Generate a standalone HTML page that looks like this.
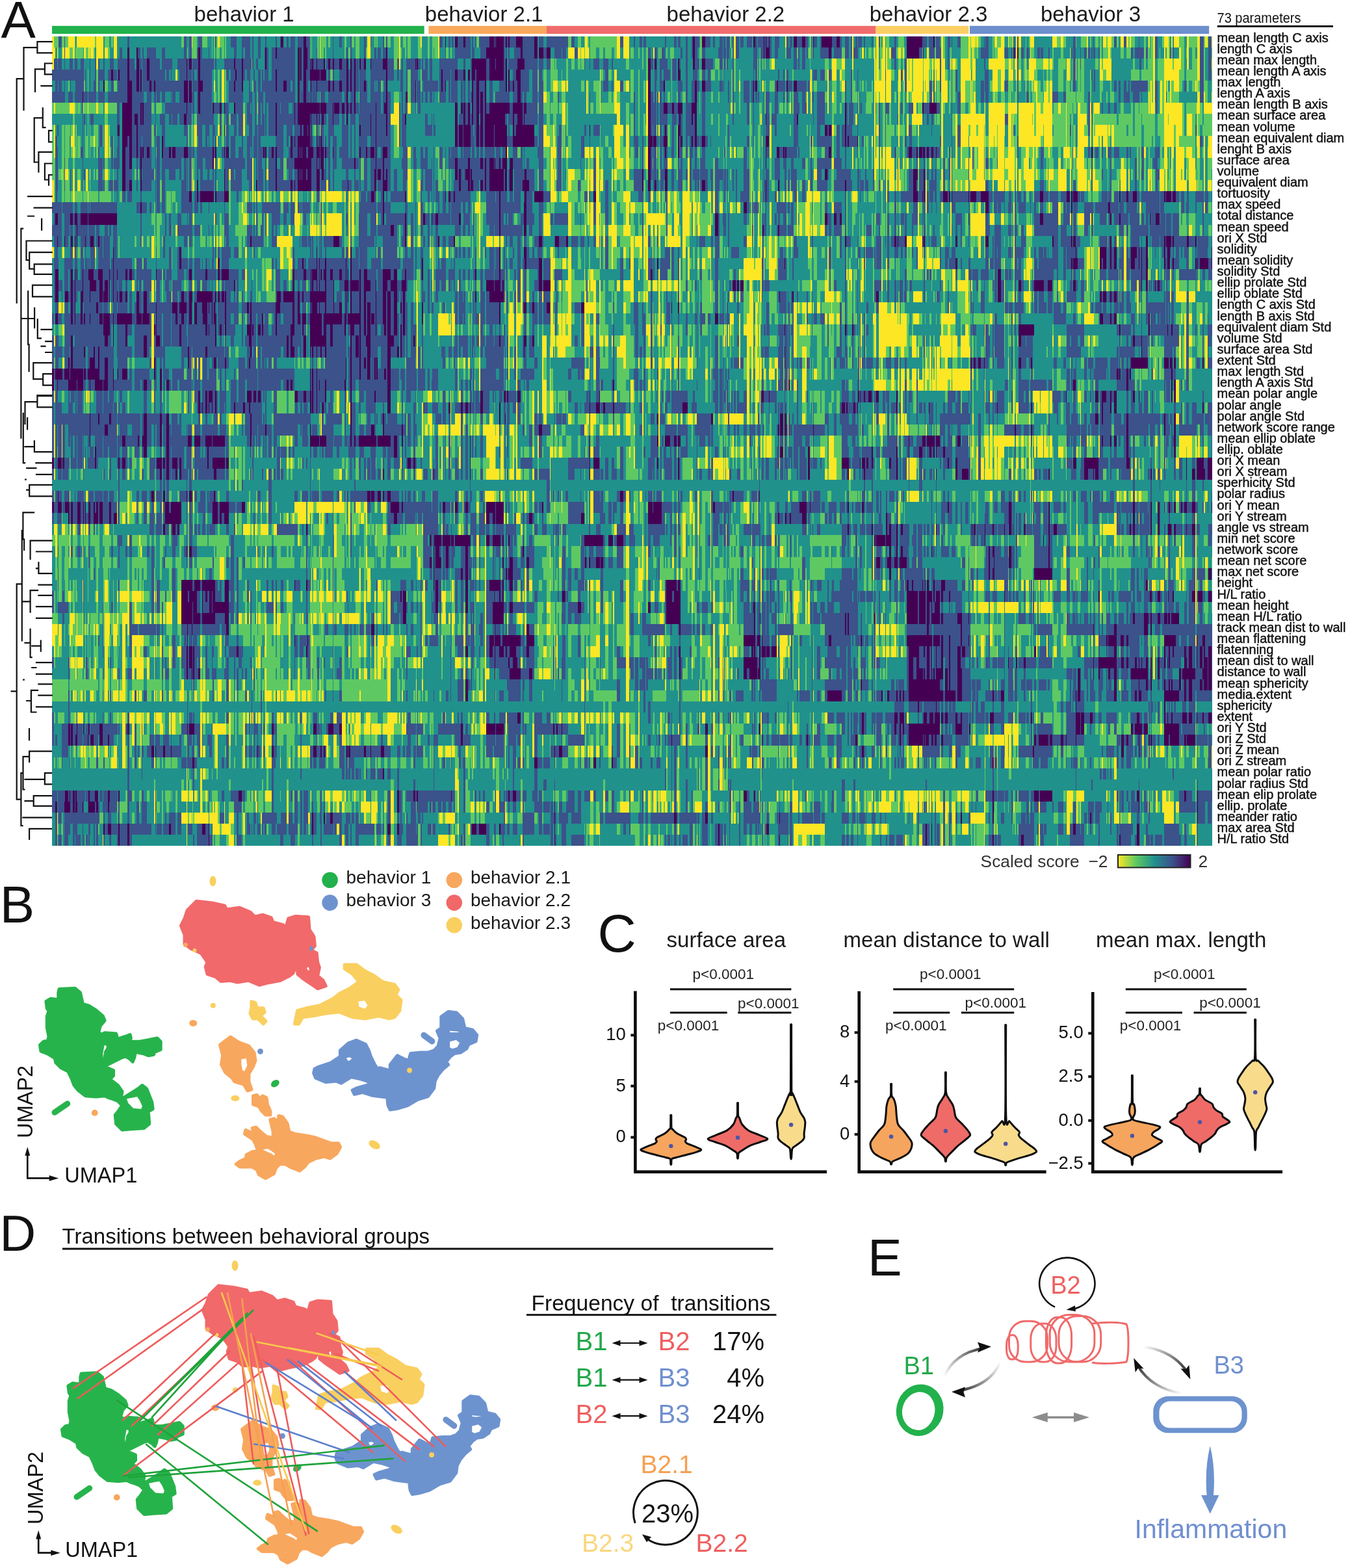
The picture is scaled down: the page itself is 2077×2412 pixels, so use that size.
<!DOCTYPE html><html><head><meta charset="utf-8"><title>Figure</title><style>html,body{margin:0;padding:0;background:#fff;width:2077px;height:2412px;overflow:hidden}svg{display:block}</style></head><body><svg xmlns="http://www.w3.org/2000/svg" width="2077" height="2412" viewBox="0 0 2077 2412">
<rect width="2077" height="2412" fill="#fff"/>
<rect x="80" y="56" width="1785" height="1245" fill="#21918c"/>
<path fill="#3b528b" d="M90 56h5v17h-5zm9 0h1v17h-1zm97 0h3v17h-3zm87 0h4v17h-4zm8 0h4v17h-4zm14 0h6v17h-6zm26 0h2v17h-2zm24 0h9v17h-9zm17 0h13v17h-13zm16 0h2v17h-2zm9 0h4v17h-4zm11 0h2v17h-2zm16 0h2v17h-2zm7 0h1v17h-1zm10 0h3v17h-3zm6 0h7v17h-7zm11 0h9v17h-9zm13 0h6v17h-6zm41 0h1v17h-1zm10 0h4v17h-4zm17 0h2v17h-2zm21 0h3v17h-3zm10 0h1v17h-1zm19 0h2v17h-2zm5 0h2v17h-2zm82 0h5v17h-5zm14 0h3v17h-3zm5 0h3v17h-3zm9 0h9v17h-9zm12 0h8v17h-8zm10 0h2v17h-2zm5 0h2v17h-2zm6 0h16v17h-16zm23 0h1v17h-1zm2 0h1v17h-1zm13 0h3v17h-3zm5 0h2v17h-2zm4 0h10v17h-10zm20 0h18v17h-18zm25 0h7v17h-7zm12 0h33v17h-33zm38 0h5v17h-5zm75 0h5v17h-5zm21 0h2v17h-2zm9 0h4v17h-4zm6 0h4v17h-4zm33 0h2v17h-2zm14 0h4v17h-4zm6 0h4v17h-4zm12 0h3v17h-3zm9 0h2v17h-2zm5 0h7v17h-7zm16 0h8v17h-8zm12 0h3v17h-3zm10 0h5v17h-5zm6 0h3v17h-3zm5 0h5v17h-5zm9 0h2v17h-2zm5 0h5v17h-5zm7 0h5v17h-5zm10 0h8v17h-8zm13 0h3v17h-3zm4 0h9v17h-9zm10 0h2v17h-2zm3 0h4v17h-4zm5 0h3v17h-3zm8 0h7v17h-7zm18 0h3v17h-3zm5 0h4v17h-4zm11 0h8v17h-8zm13 0h4v17h-4zm13 0h5v17h-5zm10 0h2v17h-2zm18 0h7v17h-7zm12 0h3v17h-3zm8 0h6v17h-6zm9 0h2v17h-2zm7 0h3v17h-3zm4 0h6v17h-6zm9 0h2v17h-2zm12 0h2v17h-2zm11 0h2v17h-2zm24 0h3v17h-3zm43 0h7v17h-7zm10 0h7v17h-7zm11 0h6v17h-6zm18 0h4v17h-4zm6 0h1v17h-1zm9 0h5v17h-5zm41 0h1v17h-1zm2 0h5v17h-5zm43 0h2v17h-2zm6 0h2v17h-2zm86 0h4v17h-4zm31 0h1v17h-1zm32 0h4v17h-4zm15 0h4v17h-4zm23 0h1v17h-1zm25 0h4v17h-4zm69 0h6v17h-6zm13 0h5v17h-5zM99 73h1v17h-1zm85 0h4v17h-4zm28 0h4v17h-4zm7 0h2v17h-2zm7 0h14v17h-14zm23 0h5v17h-5zm34 0h4v17h-4zm8 0h4v17h-4zm12 0h2v17h-2zm5 0h3v17h-3zm13 0h1v17h-1zm39 0h4v17h-4zm12 0h2v17h-2zm5 0h8v17h-8zm11 0h2v17h-2zm9 0h4v17h-4zm10 0h1v17h-1zm3 0h3v17h-3zm8 0h6v17h-6zm8 0h28v17h-28zm35 0h1v17h-1zm4 0h2v17h-2zm8 0h4v17h-4zm14 0h1v17h-1zm25 0h1v17h-1zm21 0h2v17h-2zm6 0h2v17h-2zm21 0h3v17h-3zm16 0h3v17h-3zm5 0h5v17h-5zm8 0h5v17h-5zm96 0h1v17h-1zm15 0h24v17h-24zm26 0h4v17h-4zm13 0h9v17h-9zm36 0h2v17h-2zm3 0h2v17h-2zm4 0h2v17h-2zm9 0h10v17h-10zm13 0h18v17h-18zm32 0h5v17h-5zm17 0h11v17h-11zm12 0h6v17h-6zm19 0h5v17h-5zm113 0h4v17h-4zm10 0h4v17h-4zm11 0h5v17h-5zm29 0h3v17h-3zm8 0h3v17h-3zm9 0h2v17h-2zm5 0h4v17h-4zm11 0h5v17h-5zm25 0h7v17h-7zm8 0h4v17h-4zm5 0h4v17h-4zm9 0h2v17h-2zm5 0h5v17h-5zm27 0h6v17h-6zm11 0h5v17h-5zm6 0h2v17h-2zm8 0h3v17h-3zm8 0h5v17h-5zm18 0h7v17h-7zm11 0h5v17h-5zm7 0h2v17h-2zm6 0h5v17h-5zm7 0h2v17h-2zm9 0h2v17h-2zm12 0h13v17h-13zm17 0h1v17h-1zm4 0h12v17h-12zm17 0h6v17h-6zm9 0h2v17h-2zm4 0h7v17h-7zm58 0h8v17h-8zm43 0h5v17h-5zm16 0h8v17h-8zm10 0h8v17h-8zm18 0h2v17h-2zm51 0h12v17h-12zm37 0h5v17h-5zm10 0h2v17h-2zm5 0h2v17h-2zm10 0h4v17h-4zm8 0h4v17h-4zm17 0h4v17h-4zm5 0h4v17h-4zm12 0h2v17h-2zm35 0h2v17h-2zm3 0h4v17h-4zm11 0h1v17h-1zm6 0h4v17h-4zm6 0h3v17h-3zm5 0h2v17h-2zm3 0h3v17h-3zm8 0h2v17h-2zm50 0h3v17h-3zm6 0h14v17h-14zm17 0h3v17h-3zm14 0h4v17h-4zm23 0h2v17h-2zm4 0h2v17h-2zm42 0h6v17h-6zm13 0h5v17h-5zM83 90h5v17h-5zm6 0h6v17h-6zm10 0h1v17h-1zm8 0h5v17h-5zm8 0h4v17h-4zm9 0h5v17h-5zm14 0h1v17h-1zm8 0h2v17h-2zm5 0h2v17h-2zm8 0h2v17h-2zm10 0h6v17h-6zm12 0h15v17h-15zm18 0h8v17h-8zm15 0h4v17h-4zm5 0h7v17h-7zm11 0h16v17h-16zm19 0h16v17h-16zm24 0h14v17h-14zm15 0h3v17h-3zm8 0h9v17h-9zm12 0h21v17h-21zm23 0h2v17h-2zm14 0h15v17h-15zm17 0h10v17h-10zm12 0h13v17h-13zm14 0h2v17h-2zm6 0h3v17h-3zm13 0h1v17h-1zm3 0h3v17h-3zm8 0h36v17h-36zm43 0h1v17h-1zm4 0h2v17h-2zm8 0h5v17h-5zm6 0h1v17h-1zm3 0h5v17h-5zm6 0h10v17h-10zm14 0h3v17h-3zm6 0h4v17h-4zm6 0h8v17h-8zm12 0h7v17h-7zm15 0h4v17h-4zm6 0h5v17h-5zm8 0h5v17h-5zm16 0h18v17h-18zm25 0h10v17h-10zm15 0h3v17h-3zm7 0h2v17h-2zm7 0h14v17h-14zm15 0h1v17h-1zm3 0h4v17h-4zm6 0h2v17h-2zm5 0h4v17h-4zm7 0h4v17h-4zm15 0h28v17h-28zm37 0h3v17h-3zm11 0h2v17h-2zm24 0h5v17h-5zm14 0h1v17h-1zm13 0h3v17h-3zm7 0h14v17h-14zm25 0h20v17h-20zm22 0h7v17h-7zm12 0h6v17h-6zm58 0h1v17h-1zm8 0h1v17h-1zm6 0h9v17h-9zm15 0h8v17h-8zm13 0h2v17h-2zm60 0h4v17h-4zm9 0h1v17h-1zm5 0h12v17h-12zm19 0h7v17h-7zm11 0h2v17h-2zm10 0h3v17h-3zm14 0h7v17h-7zm16 0h12v17h-12zm22 0h5v17h-5zm7 0h2v17h-2zm4 0h2v17h-2zm9 0h2v17h-2zm32 0h6v17h-6zm16 0h1v17h-1zm46 0h5v17h-5zm7 0h2v17h-2zm6 0h5v17h-5zm142 0h3v17h-3zm16 0h3v17h-3zm54 0h2v17h-2zm12 0h2v17h-2zm56 0h2v17h-2zm51 0h2v17h-2zm86 0h4v17h-4zm11 0h1v17h-1zm91 0h3v17h-3zm93 0h6v17h-6zm13 0h5v17h-5zM80 107h49v17h-49zm51 0h1v17h-1zm7 0h1v17h-1zm8 0h2v17h-2zm5 0h10v17h-10zm15 0h5v17h-5zm8 0h6v17h-6zm7 0h1v17h-1zm3 0h12v17h-12zm15 0h11v17h-11zm15 0h2v17h-2zm5 0h7v17h-7zm11 0h24v17h-24zm26 0h4v17h-4zm7 0h1v17h-1zm13 0h11v17h-11zm12 0h7v17h-7zm8 0h3v17h-3zm7 0h2v17h-2zm5 0h18v17h-18zm40 0h4v17h-4zm7 0h7v17h-7zm9 0h8v17h-8zm10 0h3v17h-3zm6 0h5v17h-5zm10 0h2v17h-2zm7 0h4v17h-4zm6 0h2v17h-2zm4 0h6v17h-6zm11 0h6v17h-6zm8 0h28v17h-28zm35 0h1v17h-1zm4 0h2v17h-2zm6 0h6v17h-6zm21 0h1v17h-1zm13 0h3v17h-3zm7 0h2v17h-2zm10 0h11v17h-11zm14 0h3v17h-3zm5 0h4v17h-4zm6 0h5v17h-5zm6 0h10v17h-10zm17 0h24v17h-24zm26 0h10v17h-10zm15 0h3v17h-3zm5 0h4v17h-4zm9 0h2v17h-2zm7 0h11v17h-11zm17 0h9v17h-9zm12 0h4v17h-4zm15 0h3v17h-3zm5 0h12v17h-12zm13 0h6v17h-6zm10 0h9v17h-9zm20 0h2v17h-2zm7 0h2v17h-2zm17 0h5v17h-5zm27 0h3v17h-3zm14 0h5v17h-5zm12 0h13v17h-13zm18 0h8v17h-8zm10 0h5v17h-5zm102 0h5v17h-5zm76 0h4v17h-4zm8 0h3v17h-3zm6 0h10v17h-10zm13 0h7v17h-7zm21 0h3v17h-3zm11 0h7v17h-7zm14 0h5v17h-5zm9 0h4v17h-4zm24 0h1v17h-1zm14 0h2v17h-2zm32 0h1v17h-1zm3 0h3v17h-3zm35 0h2v17h-2zm8 0h2v17h-2zm5 0h3v17h-3zm41 0h6v17h-6zm11 0h7v17h-7zm13 0h4v17h-4zm34 0h2v17h-2zm10 0h1v17h-1zm43 0h1v17h-1zm24 0h3v17h-3zm6 0h3v17h-3zm54 0h2v17h-2zm18 0h1v17h-1zm6 0h3v17h-3zm45 0h6v17h-6zm50 0h2v17h-2zm86 0h4v17h-4zm28 0h2v17h-2zm4 0h2v17h-2zm163 0h6v17h-6zm13 0h5v17h-5zM85 124h4v17h-4zm5 0h5v17h-5zm9 0h1v17h-1zm9 0h1v17h-1zm8 0h13v17h-13zm15 0h1v17h-1zm7 0h1v17h-1zm6 0h4v17h-4zm7 0h2v17h-2zm20 0h4v17h-4zm10 0h15v17h-15zm22 0h7v17h-7zm11 0h2v17h-2zm5 0h11v17h-11zm14 0h4v17h-4zm6 0h44v17h-44zm50 0h2v17h-2zm7 0h9v17h-9zm16 0h14v17h-14zm40 0h8v17h-8zm10 0h10v17h-10zm21 0h2v17h-2zm7 0h4v17h-4zm7 0h4v17h-4zm6 0h21v17h-21zm23 0h10v17h-10zm15 0h6v17h-6zm9 0h4v17h-4zm12 0h2v17h-2zm3 0h2v17h-2zm6 0h3v17h-3zm6 0h1v17h-1zm2 0h8v17h-8zm9 0h17v17h-17zm20 0h4v17h-4zm6 0h8v17h-8zm12 0h7v17h-7zm10 0h3v17h-3zm5 0h4v17h-4zm6 0h5v17h-5zm6 0h7v17h-7zm10 0h2v17h-2zm7 0h6v17h-6zm8 0h1v17h-1zm3 0h5v17h-5zm10 0h3v17h-3zm25 0h4v17h-4zm9 0h2v17h-2zm7 0h7v17h-7zm9 0h6v17h-6zm10 0h23v17h-23zm25 0h3v17h-3zm5 0h4v17h-4zm9 0h3v17h-3zm4 0h10v17h-10zm15 0h3v17h-3zm4 0h3v17h-3zm7 0h3v17h-3zm8 0h5v17h-5zm9 0h9v17h-9zm16 0h5v17h-5zm15 0h10v17h-10zm16 0h5v17h-5zm7 0h5v17h-5zm10 0h13v17h-13zm18 0h8v17h-8zm10 0h7v17h-7zm99 0h8v17h-8zm13 0h2v17h-2zm13 0h5v17h-5zm53 0h3v17h-3zm8 0h6v17h-6zm28 0h7v17h-7zm12 0h3v17h-3zm9 0h5v17h-5zm8 0h4v17h-4zm13 0h9v17h-9zm22 0h5v17h-5zm6 0h1v17h-1zm7 0h2v17h-2zm7 0h2v17h-2zm17 0h9v17h-9zm12 0h3v17h-3zm4 0h2v17h-2zm32 0h3v17h-3zm5 0h11v17h-11zm15 0h7v17h-7zm14 0h15v17h-15zm17 0h3v17h-3zm57 0h2v17h-2zm9 0h2v17h-2zm10 0h1v17h-1zm73 0h3v17h-3zm38 0h4v17h-4zm6 0h2v17h-2zm10 0h2v17h-2zm18 0h1v17h-1zm6 0h3v17h-3zm39 0h5v17h-5zm6 0h6v17h-6zm31 0h5v17h-5zm19 0h2v17h-2zm86 0h4v17h-4zm30 0h1v17h-1zm2 0h2v17h-2zm31 0h4v17h-4zm7 0h3v17h-3zm8 0h4v17h-4zm7 0h2v17h-2zm4 0h26v17h-26zm37 0h4v17h-4zm45 0h3v17h-3zm24 0h6v17h-6zM80 141h20v17h-20zm25 0h7v17h-7zm10 0h12v17h-12zm13 0h7v17h-7zm8 0h12v17h-12zm15 0h10v17h-10zm15 0h30v17h-30zm37 0h18v17h-18zm23 0h7v17h-7zm11 0h3v17h-3zm4 0h5v17h-5zm8 0h5v17h-5zm14 0h1v17h-1zm2 0h5v17h-5zm11 0h7v17h-7zm13 0h2v17h-2zm6 0h4v17h-4zm8 0h2v17h-2zm5 0h18v17h-18zm44 0h22v17h-22zm31 0h5v17h-5zm9 0h2v17h-2zm5 0h8v17h-8zm11 0h46v17h-46zm54 0h5v17h-5zm9 0h6v17h-6zm9 0h8v17h-8zm11 0h1v17h-1zm2 0h7v17h-7zm12 0h21v17h-21zm25 0h3v17h-3zm5 0h1v17h-1zm4 0h6v17h-6zm14 0h12v17h-12zm17 0h16v17h-16zm19 0h5v17h-5zm7 0h5v17h-5zm22 0h2v17h-2zm5 0h2v17h-2zm9 0h7v17h-7zm9 0h6v17h-6zm8 0h2v17h-2zm5 0h4v17h-4zm7 0h4v17h-4zm6 0h1v17h-1zm9 0h10v17h-10zm14 0h3v17h-3zm4 0h10v17h-10zm15 0h3v17h-3zm4 0h3v17h-3zm7 0h3v17h-3zm4 0h2v17h-2zm4 0h5v17h-5zm9 0h2v17h-2zm6 0h3v17h-3zm10 0h5v17h-5zm9 0h22v17h-22zm27 0h7v17h-7zm12 0h3v17h-3zm5 0h4v17h-4zm13 0h8v17h-8zm10 0h7v17h-7zm29 0h2v17h-2zm49 0h1v17h-1zm68 0h2v17h-2zm26 0h4v17h-4zm6 0h3v17h-3zm4 0h2v17h-2zm4 0h3v17h-3zm6 0h2v17h-2zm22 0h4v17h-4zm12 0h3v17h-3zm9 0h5v17h-5zm8 0h1v17h-1zm8 0h5v17h-5zm40 0h2v17h-2zm7 0h2v17h-2zm17 0h9v17h-9zm12 0h3v17h-3zm6 0h3v17h-3zm4 0h2v17h-2zm9 0h1v17h-1zm3 0h6v17h-6zm14 0h5v17h-5zm13 0h2v17h-2zm5 0h3v17h-3zm11 0h7v17h-7zm13 0h5v17h-5zm16 0h2v17h-2zm7 0h12v17h-12zm43 0h2v17h-2zm9 0h2v17h-2zm13 0h1v17h-1zm108 0h4v17h-4zm6 0h2v17h-2zm28 0h1v17h-1zm9 0h5v17h-5zm36 0h5v17h-5zm7 0h5v17h-5zm49 0h2v17h-2zm14 0h4v17h-4zm40 0h9v17h-9zm17 0h4v17h-4zm38 0h3v17h-3zm47 0h3v17h-3zm8 0h9v17h-9zm14 0h10v17h-10zm13 0h1v17h-1zm21 0h4v17h-4zm69 0h6v17h-6zM127 158h1v17h-1zm53 0h4v17h-4zm23 0h13v17h-13zm15 0h1v17h-1zm3 0h12v17h-12zm18 0h1v17h-1zm15 0h33v17h-33zm34 0h7v17h-7zm8 0h3v17h-3zm7 0h2v17h-2zm5 0h18v17h-18zm21 0h9v17h-9zm17 0h6v17h-6zm16 0h12v17h-12zm18 0h5v17h-5zm7 0h1v17h-1zm5 0h2v17h-2zm5 0h4v17h-4zm6 0h2v17h-2zm5 0h2v17h-2zm5 0h11v17h-11zm13 0h5v17h-5zm6 0h12v17h-12zm18 0h3v17h-3zm4 0h4v17h-4zm38 0h1v17h-1zm10 0h10v17h-10zm11 0h1v17h-1zm9 0h4v17h-4zm8 0h3v17h-3zm6 0h3v17h-3zm5 0h4v17h-4zm6 0h5v17h-5zm6 0h25v17h-25zm26 0h7v17h-7zm10 0h2v17h-2zm7 0h5v17h-5zm18 0h2v17h-2zm4 0h2v17h-2zm5 0h4v17h-4zm16 0h1v17h-1zm4 0h4v17h-4zm69 0h1v17h-1zm4 0h4v17h-4zm7 0h1v17h-1zm5 0h5v17h-5zm9 0h2v17h-2zm6 0h3v17h-3zm5 0h5v17h-5zm36 0h5v17h-5zm20 0h2v17h-2zm6 0h17v17h-17zm19 0h7v17h-7zm78 0h1v17h-1zm68 0h2v17h-2zm26 0h9v17h-9zm10 0h2v17h-2zm4 0h6v17h-6zm12 0h7v17h-7zm10 0h6v17h-6zm18 0h9v17h-9zm25 0h5v17h-5zm42 0h1v17h-1zm5 0h2v17h-2zm22 0h4v17h-4zm10 0h1v17h-1zm16 0h1v17h-1zm3 0h5v17h-5zm14 0h5v17h-5zm29 0h9v17h-9zm13 0h7v17h-7zm17 0h1v17h-1zm6 0h12v17h-12zm45 0h2v17h-2zm4 0h7v17h-7zm13 0h1v17h-1zm3 0h1v17h-1zm2 0h2v17h-2zm23 0h1v17h-1zm5 0h2v17h-2zm10 0h6v17h-6zm24 0h3v17h-3zm12 0h7v17h-7zm23 0h9v17h-9zm20 0h5v17h-5zm23 0h1v17h-1zm9 0h5v17h-5zm201 0h3v17h-3zm5 0h2v17h-2zm16 0h2v17h-2zm10 0h3v17h-3zm9 0h4v17h-4zm64 0h3v17h-3zM127 175h1v17h-1zm2 0h2v17h-2zm10 0h5v17h-5zm41 0h4v17h-4zm23 0h4v17h-4zm9 0h4v17h-4zm6 0h1v17h-1zm3 0h12v17h-12zm18 0h1v17h-1zm7 0h8v17h-8zm14 0h4v17h-4zm5 0h8v17h-8zm11 0h7v17h-7zm11 0h8v17h-8zm16 0h26v17h-26zm35 0h3v17h-3zm7 0h1v17h-1zm3 0h4v17h-4zm7 0h9v17h-9zm12 0h7v17h-7zm13 0h8v17h-8zm12 0h2v17h-2zm5 0h4v17h-4zm6 0h4v17h-4zm5 0h2v17h-2zm5 0h11v17h-11zm13 0h27v17h-27zm28 0h4v17h-4zm23 0h1v17h-1zm2 0h8v17h-8zm9 0h3v17h-3zm5 0h2v17h-2zm5 0h4v17h-4zm7 0h7v17h-7zm8 0h9v17h-9zm13 0h4v17h-4zm9 0h1v17h-1zm4 0h8v17h-8zm13 0h18v17h-18zm19 0h7v17h-7zm8 0h15v17h-15zm17 0h5v17h-5zm18 0h2v17h-2zm4 0h5v17h-5zm36 0h4v17h-4zm10 0h1v17h-1zm3 0h1v17h-1zm39 0h7v17h-7zm10 0h4v17h-4zm7 0h3v17h-3zm5 0h5v17h-5zm15 0h3v17h-3zm34 0h3v17h-3zm5 0h7v17h-7zm9 0h5v17h-5zm13 0h2v17h-2zm3 0h20v17h-20zm22 0h7v17h-7zm146 0h2v17h-2zm26 0h9v17h-9zm10 0h2v17h-2zm4 0h12v17h-12zm19 0h7v17h-7zm9 0h2v17h-2zm4 0h3v17h-3zm8 0h9v17h-9zm11 0h3v17h-3zm14 0h5v17h-5zm47 0h2v17h-2zm22 0h4v17h-4zm10 0h1v17h-1zm16 0h1v17h-1zm4 0h5v17h-5zm8 0h8v17h-8zm34 0h5v17h-5zm30 0h1v17h-1zm6 0h12v17h-12zm45 0h2v17h-2zm4 0h7v17h-7zm13 0h1v17h-1zm33 0h2v17h-2zm10 0h1v17h-1zm19 0h1v17h-1zm39 0h1v17h-1zm6 0h3v17h-3zm7 0h3v17h-3zm31 0h1v17h-1zm82 0h5v17h-5zm128 0h3v17h-3zM88 192h2v17h-2zm39 0h1v17h-1zm26 0h5v17h-5zm27 0h1v17h-1zm23 0h7v17h-7zm9 0h21v17h-21zm25 0h3v17h-3zm12 0h5v17h-5zm34 0h6v17h-6zm20 0h8v17h-8zm13 0h6v17h-6zm11 0h4v17h-4zm11 0h3v17h-3zm10 0h4v17h-4zm12 0h4v17h-4zm7 0h7v17h-7zm16 0h5v17h-5zm9 0h4v17h-4zm5 0h10v17h-10zm11 0h2v17h-2zm5 0h11v17h-11zm13 0h10v17h-10zm15 0h9v17h-9zm12 0h9v17h-9zm11 0h3v17h-3zm9 0h1v17h-1zm6 0h1v17h-1zm12 0h1v17h-1zm2 0h5v17h-5zm12 0h9v17h-9zm21 0h10v17h-10zm13 0h2v17h-2zm6 0h2v17h-2zm7 0h1v17h-1zm3 0h15v17h-15zm16 0h7v17h-7zm8 0h15v17h-15zm17 0h5v17h-5zm18 0h2v17h-2zm4 0h7v17h-7zm36 0h11v17h-11zm13 0h3v17h-3zm37 0h2v17h-2zm8 0h1v17h-1zm12 0h4v17h-4zm6 0h3v17h-3zm7 0h2v17h-2zm6 0h3v17h-3zm17 0h1v17h-1zm22 0h2v17h-2zm9 0h3v17h-3zm38 0h7v17h-7zm31 0h4v17h-4zm10 0h1v17h-1zm29 0h3v17h-3zm14 0h10v17h-10zm62 0h2v17h-2zm26 0h3v17h-3zm4 0h5v17h-5zm11 0h2v17h-2zm5 0h2v17h-2zm4 0h2v17h-2zm9 0h3v17h-3zm13 0h3v17h-3zm8 0h14v17h-14zm25 0h5v17h-5zm40 0h2v17h-2zm39 0h1v17h-1zm16 0h1v17h-1zm3 0h6v17h-6zm14 0h3v17h-3zm29 0h7v17h-7zm36 0h5v17h-5zm16 0h2v17h-2zm6 0h1v17h-1zm8 0h5v17h-5zm8 0h5v17h-5zm7 0h9v17h-9zm17 0h1v17h-1zm33 0h2v17h-2zm10 0h1v17h-1zm36 0h5v17h-5zm35 0h1v17h-1zm31 0h1v17h-1zm9 0h5v17h-5zm86 0h2v17h-2zm87 0h2v17h-2zm9 0h1v17h-1zm19 0h3v17h-3zm165 0h2v17h-2zM85 209h3v17h-3zm42 0h1v17h-1zm26 0h5v17h-5zm18 0h3v17h-3zm10 0h3v17h-3zm15 0h3v17h-3zm7 0h7v17h-7zm9 0h6v17h-6zm7 0h14v17h-14zm20 0h1v17h-1zm2 0h5v17h-5zm10 0h3v17h-3zm36 0h2v17h-2zm18 0h6v17h-6zm11 0h3v17h-3zm5 0h1v17h-1zm6 0h2v17h-2zm4 0h2v17h-2zm14 0h1v17h-1zm3 0h4v17h-4zm7 0h7v17h-7zm17 0h2v17h-2zm8 0h8v17h-8zm10 0h6v17h-6zm7 0h4v17h-4zm27 0h12v17h-12zm17 0h3v17h-3zm9 0h3v17h-3zm4 0h4v17h-4zm23 0h1v17h-1zm2 0h3v17h-3zm9 0h3v17h-3zm7 0h3v17h-3zm5 0h2v17h-2zm5 0h3v17h-3zm7 0h6v17h-6zm14 0h10v17h-10zm13 0h2v17h-2zm6 0h2v17h-2zm7 0h13v17h-13zm18 0h8v17h-8zm9 0h22v17h-22zm35 0h2v17h-2zm4 0h7v17h-7zm86 0h2v17h-2zm8 0h1v17h-1zm12 0h6v17h-6zm7 0h2v17h-2zm6 0h2v17h-2zm6 0h3v17h-3zm17 0h1v17h-1zm20 0h9v17h-9zm42 0h5v17h-5zm7 0h7v17h-7zm29 0h6v17h-6zm12 0h1v17h-1zm24 0h5v17h-5zm13 0h1v17h-1zm68 0h7v17h-7zm13 0h2v17h-2zm16 0h1v17h-1zm7 0h2v17h-2zm4 0h6v17h-6zm19 0h3v17h-3zm11 0h2v17h-2zm10 0h3v17h-3zm6 0h3v17h-3zm5 0h3v17h-3zm6 0h4v17h-4zm5 0h3v17h-3zm8 0h4v17h-4zm8 0h1v17h-1zm27 0h2v17h-2zm29 0h4v17h-4zm10 0h1v17h-1zm16 0h1v17h-1zm46 0h7v17h-7zm26 0h2v17h-2zm10 0h23v17h-23zm30 0h5v17h-5zm8 0h5v17h-5zm7 0h2v17h-2zm4 0h13v17h-13zm20 0h3v17h-3zm26 0h2v17h-2zm10 0h1v17h-1zm30 0h3v17h-3zm7 0h4v17h-4zm47 0h2v17h-2zm18 0h1v17h-1zm9 0h5v17h-5zm92 0h2v17h-2zm90 0h1v17h-1zm191 0h4v17h-4zM85 226h4v17h-4zm39 0h4v17h-4zm27 0h2v17h-2zm20 0h3v17h-3zm9 0h4v17h-4zm13 0h6v17h-6zm10 0h7v17h-7zm9 0h4v17h-4zm6 0h1v17h-1zm3 0h5v17h-5zm9 0h3v17h-3zm9 0h1v17h-1zm2 0h5v17h-5zm10 0h9v17h-9zm12 0h2v17h-2zm7 0h13v17h-13zm19 0h6v17h-6zm7 0h3v17h-3zm7 0h24v17h-24zm26 0h2v17h-2zm12 0h4v17h-4zm5 0h2v17h-2zm9 0h7v17h-7zm12 0h7v17h-7zm13 0h5v17h-5zm7 0h1v17h-1zm3 0h6v17h-6zm7 0h8v17h-8zm10 0h1v17h-1zm6 0h5v17h-5zm8 0h3v17h-3zm5 0h10v17h-10zm18 0h3v17h-3zm6 0h8v17h-8zm11 0h1v17h-1zm3 0h1v17h-1zm7 0h3v17h-3zm11 0h5v17h-5zm10 0h1v17h-1zm6 0h2v17h-2zm4 0h6v17h-6zm11 0h5v17h-5zm9 0h14v17h-14zm17 0h2v17h-2zm6 0h2v17h-2zm7 0h1v17h-1zm3 0h8v17h-8zm10 0h5v17h-5zm11 0h2v17h-2zm3 0h2v17h-2zm7 0h3v17h-3zm10 0h5v17h-5zm24 0h7v17h-7zm16 0h4v17h-4zm11 0h4v17h-4zm7 0h4v17h-4zm13 0h1v17h-1zm9 0h5v17h-5zm9 0h1v17h-1zm5 0h3v17h-3zm4 0h10v17h-10zm15 0h3v17h-3zm4 0h11v17h-11zm13 0h4v17h-4zm7 0h4v17h-4zm6 0h4v17h-4zm7 0h15v17h-15zm17 0h7v17h-7zm10 0h5v17h-5zm16 0h7v17h-7zm12 0h3v17h-3zm5 0h1v17h-1zm21 0h9v17h-9zm31 0h6v17h-6zm36 0h5v17h-5zm83 0h5v17h-5zm11 0h2v17h-2zm13 0h3v17h-3zm4 0h5v17h-5zm11 0h2v17h-2zm5 0h2v17h-2zm4 0h2v17h-2zm8 0h4v17h-4zm12 0h5v17h-5zm10 0h3v17h-3zm6 0h5v17h-5zm8 0h3v17h-3zm11 0h5v17h-5zm34 0h2v17h-2zm30 0h5v17h-5zm31 0h1v17h-1zm4 0h4v17h-4zm20 0h6v17h-6zm8 0h1v17h-1zm3 0h16v17h-16zm18 0h2v17h-2zm41 0h6v17h-6zm18 0h5v17h-5zm13 0h2v17h-2zm19 0h1v17h-1zm57 0h3v17h-3zm19 0h3v17h-3zm8 0h7v17h-7zm16 0h1v17h-1zm4 0h3v17h-3zm6 0h4v17h-4zm7 0h4v17h-4zm5 0h5v17h-5zm19 0h2v17h-2zm4 0h1v17h-1zm32 0h2v17h-2zm69 0h2v17h-2zm36 0h5v17h-5zm49 0h1v17h-1zm5 0h1v17h-1zm19 0h3v17h-3zm7 0h1v17h-1zm4 0h5v17h-5zm10 0h2v17h-2zm10 0h5v17h-5zm9 0h8v17h-8zm19 0h3v17h-3zm5 0h2v17h-2zm14 0h1v17h-1zm4 0h4v17h-4zm21 0h7v17h-7zM85 243h4v17h-4zm14 0h1v17h-1zm28 0h1v17h-1zm24 0h7v17h-7zm8 0h2v17h-2zm12 0h3v17h-3zm4 0h9v17h-9zm18 0h6v17h-6zm17 0h2v17h-2zm4 0h2v17h-2zm4 0h15v17h-15zm21 0h1v17h-1zm2 0h5v17h-5zm8 0h30v17h-30zm34 0h4v17h-4zm5 0h1v17h-1zm3 0h4v17h-4zm12 0h9v17h-9zm13 0h11v17h-11zm15 0h2v17h-2zm14 0h32v17h-32zm35 0h8v17h-8zm14 0h2v17h-2zm3 0h6v17h-6zm11 0h2v17h-2zm5 0h11v17h-11zm18 0h5v17h-5zm10 0h12v17h-12zm38 0h8v17h-8zm9 0h3v17h-3zm12 0h2v17h-2zm5 0h3v17h-3zm7 0h6v17h-6zm14 0h19v17h-19zm21 0h5v17h-5zm6 0h2v17h-2zm7 0h5v17h-5zm10 0h8v17h-8zm9 0h10v17h-10zm12 0h10v17h-10zm27 0h9v17h-9zm18 0h5v17h-5zm11 0h11v17h-11zm17 0h1v17h-1zm3 0h1v17h-1zm9 0h5v17h-5zm9 0h1v17h-1zm5 0h10v17h-10zm14 0h16v17h-16zm19 0h16v17h-16zm20 0h3v17h-3zm5 0h5v17h-5zm12 0h1v17h-1zm2 0h6v17h-6zm8 0h3v17h-3zm19 0h15v17h-15zm17 0h1v17h-1zm4 0h4v17h-4zm19 0h7v17h-7zm29 0h6v17h-6zm35 0h1v17h-1zm20 0h4v17h-4zm75 0h2v17h-2zm13 0h3v17h-3zm4 0h5v17h-5zm11 0h2v17h-2zm5 0h6v17h-6zm22 0h2v17h-2zm4 0h3v17h-3zm14 0h3v17h-3zm8 0h3v17h-3zm8 0h8v17h-8zm23 0h5v17h-5zm44 0h5v17h-5zm31 0h1v17h-1zm17 0h8v17h-8zm13 0h5v17h-5zm12 0h4v17h-4zm17 0h5v17h-5zm13 0h2v17h-2zm10 0h22v17h-22zm26 0h12v17h-12zm17 0h2v17h-2zm81 0h1v17h-1zm29 0h2v17h-2zm11 0h2v17h-2zm12 0h1v17h-1zm7 0h1v17h-1zm11 0h3v17h-3zm9 0h2v17h-2zm4 0h1v17h-1zm26 0h1v17h-1zm6 0h2v17h-2zm20 0h5v17h-5zm18 0h1v17h-1zm67 0h4v17h-4zm49 0h1v17h-1zm29 0h2v17h-2zm29 0h2v17h-2zm38 0h3v17h-3zm6 0h1v17h-1zm5 0h3v17h-3zm17 0h7v17h-7zM85 260h4v17h-4zm14 0h1v17h-1zm9 0h1v17h-1zm19 0h1v17h-1zm2 0h2v17h-2zm22 0h7v17h-7zm29 0h2v17h-2zm13 0h10v17h-10zm17 0h2v17h-2zm9 0h18v17h-18zm20 0h1v17h-1zm2 0h5v17h-5zm8 0h5v17h-5zm11 0h10v17h-10zm16 0h3v17h-3zm7 0h4v17h-4zm5 0h1v17h-1zm3 0h4v17h-4zm12 0h2v17h-2zm5 0h4v17h-4zm11 0h3v17h-3zm8 0h2v17h-2zm4 0h2v17h-2zm15 0h6v17h-6zm9 0h5v17h-5zm7 0h10v17h-10zm18 0h8v17h-8zm14 0h2v17h-2zm3 0h8v17h-8zm11 0h2v17h-2zm5 0h11v17h-11zm13 0h10v17h-10zm18 0h6v17h-6zm9 0h5v17h-5zm8 0h1v17h-1zm3 0h1v17h-1zm7 0h2v17h-2zm8 0h8v17h-8zm14 0h2v17h-2zm5 0h4v17h-4zm7 0h3v17h-3zm7 0h2v17h-2zm20 0h4v17h-4zm13 0h2v17h-2zm8 0h2v17h-2zm7 0h5v17h-5zm10 0h6v17h-6zm9 0h2v17h-2zm7 0h3v17h-3zm5 0h3v17h-3zm5 0h5v17h-5zm10 0h5v17h-5zm14 0h7v17h-7zm29 0h2v17h-2zm5 0h11v17h-11zm13 0h1v17h-1zm18 0h1v17h-1zm19 0h2v17h-2zm5 0h3v17h-3zm4 0h3v17h-3zm10 0h1v17h-1zm3 0h20v17h-20zm22 0h5v17h-5zm27 0h2v17h-2zm7 0h2v17h-2zm9 0h16v17h-16zm19 0h12v17h-12zm19 0h7v17h-7zm29 0h6v17h-6zm12 0h1v17h-1zm43 0h4v17h-4zm62 0h13v17h-13zm26 0h3v17h-3zm4 0h5v17h-5zm6 0h2v17h-2zm5 0h7v17h-7zm17 0h4v17h-4zm10 0h7v17h-7zm12 0h3v17h-3zm6 0h3v17h-3zm5 0h10v17h-10zm11 0h12v17h-12zm16 0h4v17h-4zm7 0h13v17h-13zm14 0h3v17h-3zm4 0h2v17h-2zm9 0h2v17h-2zm5 0h2v17h-2zm12 0h9v17h-9zm31 0h1v17h-1zm3 0h5v17h-5zm14 0h8v17h-8zm15 0h3v17h-3zm6 0h2v17h-2zm4 0h9v17h-9zm30 0h3v17h-3zm10 0h7v17h-7zm16 0h2v17h-2zm14 0h22v17h-22zm32 0h3v17h-3zm4 0h1v17h-1zm8 0h2v17h-2zm12 0h2v17h-2zm19 0h1v17h-1zm19 0h1v17h-1zm17 0h7v17h-7zm16 0h7v17h-7zm9 0h1v17h-1zm3 0h3v17h-3zm7 0h3v17h-3zm5 0h3v17h-3zm13 0h3v17h-3zm9 0h2v17h-2zm4 0h1v17h-1zm26 0h1v17h-1zm189 0h2v17h-2zm16 0h2v17h-2zm13 0h2v17h-2zm38 0h3v17h-3zm6 0h1v17h-1zm4 0h4v17h-4zm22 0h6v17h-6zM85 277h4v17h-4zm14 0h1v17h-1zm9 0h1v17h-1zm19 0h1v17h-1zm24 0h7v17h-7zm8 0h2v17h-2zm9 0h6v17h-6zm7 0h7v17h-7zm18 0h6v17h-6zm17 0h2v17h-2zm8 0h15v17h-15zm21 0h1v17h-1zm2 0h5v17h-5zm8 0h5v17h-5zm30 0h8v17h-8zm9 0h1v17h-1zm3 0h4v17h-4zm17 0h21v17h-21zm23 0h2v17h-2zm15 0h6v17h-6zm9 0h17v17h-17zm28 0h5v17h-5zm14 0h8v17h-8zm11 0h2v17h-2zm5 0h11v17h-11zm13 0h21v17h-21zm24 0h3v17h-3zm4 0h4v17h-4zm25 0h8v17h-8zm14 0h9v17h-9zm12 0h3v17h-3zm7 0h2v17h-2zm14 0h9v17h-9zm10 0h5v17h-5zm9 0h7v17h-7zm8 0h2v17h-2zm7 0h5v17h-5zm10 0h6v17h-6zm11 0h8v17h-8zm15 0h5v17h-5zm10 0h5v17h-5zm14 0h5v17h-5zm27 0h4v17h-4zm7 0h11v17h-11zm13 0h1v17h-1zm3 0h4v17h-4zm15 0h1v17h-1zm13 0h8v17h-8zm11 0h11v17h-11zm14 0h1v17h-1zm5 0h9v17h-9zm15 0h3v17h-3zm5 0h5v17h-5zm27 0h2v17h-2zm7 0h2v17h-2zm9 0h13v17h-13zm23 0h8v17h-8zm15 0h7v17h-7zm27 0h8v17h-8zm33 0h4v17h-4zm24 0h4v17h-4zm18 0h5v17h-5zm44 0h13v17h-13zm30 0h2v17h-2zm6 0h2v17h-2zm5 0h5v17h-5zm17 0h4v17h-4zm10 0h7v17h-7zm18 0h3v17h-3zm8 0h3v17h-3zm4 0h3v17h-3zm4 0h3v17h-3zm8 0h4v17h-4zm9 0h3v17h-3zm6 0h7v17h-7zm12 0h1v17h-1zm2 0h3v17h-3zm4 0h2v17h-2zm9 0h2v17h-2zm5 0h2v17h-2zm12 0h9v17h-9zm31 0h3v17h-3zm4 0h4v17h-4zm20 0h1v17h-1zm8 0h3v17h-3zm5 0h3v17h-3zm5 0h9v17h-9zm17 0h5v17h-5zm13 0h3v17h-3zm10 0h16v17h-16zm26 0h17v17h-17zm19 0h9v17h-9zm17 0h3v17h-3zm4 0h6v17h-6zm8 0h5v17h-5zm12 0h2v17h-2zm9 0h2v17h-2zm10 0h1v17h-1zm19 0h1v17h-1zm17 0h7v17h-7zm12 0h2v17h-2zm4 0h7v17h-7zm9 0h1v17h-1zm7 0h11v17h-11zm21 0h3v17h-3zm13 0h1v17h-1zm26 0h1v17h-1zm26 0h5v17h-5zm84 0h6v17h-6zm51 0h4v17h-4zm28 0h2v17h-2zm29 0h2v17h-2zm38 0h3v17h-3zm32 0h3v17h-3zM85 294h3v17h-3zm95 0h1v17h-1zm8 0h5v17h-5zm8 0h7v17h-7zm20 0h2v17h-2zm23 0h1v17h-1zm2 0h5v17h-5zm8 0h5v17h-5zm30 0h12v17h-12zm20 0h4v17h-4zm6 0h3v17h-3zm28 0h12v17h-12zm31 0h3v17h-3zm123 0h5v17h-5zm45 0h1v17h-1zm3 0h1v17h-1zm20 0h8v17h-8zm10 0h6v17h-6zm11 0h3v17h-3zm10 0h3v17h-3zm8 0h2v17h-2zm7 0h22v17h-22zm46 0h2v17h-2zm11 0h3v17h-3zm6 0h1v17h-1zm3 0h1v17h-1zm3 0h6v17h-6zm11 0h4v17h-4zm12 0h5v17h-5zm7 0h24v17h-24zm48 0h14v17h-14zm15 0h5v17h-5zm7 0h10v17h-10zm14 0h5v17h-5zm7 0h10v17h-10zm15 0h1v17h-1zm4 0h9v17h-9zm26 0h11v17h-11zm63 0h5v17h-5zm8 0h1v17h-1zm24 0h5v17h-5zm51 0h8v17h-8zm15 0h4v17h-4zm26 0h4v17h-4zm77 0h5v17h-5zm14 0h2v17h-2zm8 0h1v17h-1zm10 0h2v17h-2zm7 0h14v17h-14zm34 0h2v17h-2zm3 0h2v17h-2zm3 0h4v17h-4zm13 0h3v17h-3zm7 0h1v17h-1zm22 0h5v17h-5zm13 0h5v17h-5zm66 0h2v17h-2zm23 0h1v17h-1zm39 0h1v17h-1zm3 0h3v17h-3zm11 0h3v17h-3zm5 0h1v17h-1zm5 0h19v17h-19zm26 0h7v17h-7zm8 0h1v17h-1zm3 0h1v17h-1zm3 0h3v17h-3zm4 0h6v17h-6zm8 0h3v17h-3zm8 0h5v17h-5zm12 0h2v17h-2zm7 0h25v17h-25zm26 0h2v17h-2zm11 0h7v17h-7zm19 0h6v17h-6zm8 0h17v17h-17zm23 0h4v17h-4zm9 0h2v17h-2zm4 0h6v17h-6zm10 0h3v17h-3zm10 0h1v17h-1zm6 0h9v17h-9zm14 0h8v17h-8zm10 0h13v17h-13zm17 0h9v17h-9zm18 0h1v17h-1zm8 0h4v17h-4zm5 0h5v17h-5zm32 0h9v17h-9zm10 0h5v17h-5zm9 0h7v17h-7zm11 0h8v17h-8zm11 0h7v17h-7zm13 0h4v17h-4zm7 0h28v17h-28zm29 0h6v17h-6zm8 0h1v17h-1zm9 0h2v17h-2zm7 0h5v17h-5zm8 0h5v17h-5zm9 0h3v17h-3zm13 0h13v17h-13zm15 0h5v17h-5zm10 0h1v17h-1zM80 311h15v17h-15zm16 0h16v17h-16zm19 0h4v17h-4zm9 0h11v17h-11zm12 0h2v17h-2zm3 0h41v17h-41zm71 0h6v17h-6zm8 0h8v17h-8zm12 0h3v17h-3zm9 0h1v17h-1zm2 0h5v17h-5zm8 0h5v17h-5zm30 0h17v17h-17zm20 0h6v17h-6zm9 0h3v17h-3zm13 0h1v17h-1zm24 0h1v17h-1zm35 0h8v17h-8zm10 0h2v17h-2zm4 0h2v17h-2zm9 0h28v17h-28zm33 0h8v17h-8zm11 0h6v17h-6zm11 0h3v17h-3zm4 0h2v17h-2zm3 0h12v17h-12zm22 0h1v17h-1zm6 0h2v17h-2zm39 0h1v17h-1zm21 0h26v17h-26zm28 0h8v17h-8zm10 0h10v17h-10zm32 0h4v17h-4zm16 0h1v17h-1zm8 0h4v17h-4zm27 0h2v17h-2zm7 0h5v17h-5zm9 0h3v17h-3zm4 0h15v17h-15zm18 0h4v17h-4zm8 0h4v17h-4zm28 0h20v17h-20zm22 0h31v17h-31zm40 0h9v17h-9zm19 0h7v17h-7zm84 0h4v17h-4zm18 0h5v17h-5zm94 0h2v17h-2zm75 0h5v17h-5zm49 0h4v17h-4zm8 0h2v17h-2zm3 0h6v17h-6zm9 0h1v17h-1zm9 0h1v17h-1zm17 0h15v17h-15zm17 0h3v17h-3zm5 0h4v17h-4zm52 0h4v17h-4zm14 0h12v17h-12zm17 0h2v17h-2zm62 0h1v17h-1zm14 0h3v17h-3zm5 0h1v17h-1zm24 0h7v17h-7zm14 0h1v17h-1zm2 0h2v17h-2zm5 0h3v17h-3zm7 0h1v17h-1zm7 0h1v17h-1zm24 0h6v17h-6zm26 0h1v17h-1zm31 0h2v17h-2zm8 0h5v17h-5zm6 0h5v17h-5zm10 0h1v17h-1zm6 0h5v17h-5zm10 0h2v17h-2zm6 0h11v17h-11zm18 0h1v17h-1zm6 0h3v17h-3zm9 0h5v17h-5zm19 0h9v17h-9zm17 0h4v17h-4zm5 0h5v17h-5zm10 0h7v17h-7zm17 0h14v17h-14zm17 0h20v17h-20zm23 0h13v17h-13zm14 0h7v17h-7zm11 0h16v17h-16zm19 0h1v17h-1zm4 0h1v17h-1zm7 0h21v17h-21zm22 0h6v17h-6zm32 0h5v17h-5zm8 0h4v17h-4zm14 0h2v17h-2zm11 0h2v17h-2zm4 0h4v17h-4zM83 328h2v18h-2zm6 0h6v18h-6zm10 0h9v18h-9zm13 0h3v18h-3zm7 0h5v18h-5zm16 0h1v18h-1zm81 0h2v18h-2zm38 0h2v18h-2zm6 0h3v18h-3zm13 0h6v18h-6zm15 0h1v18h-1zm3 0h4v18h-4zm40 0h2v18h-2zm14 0h7v18h-7zm49 0h2v18h-2zm9 0h2v18h-2zm5 0h2v18h-2zm10 0h13v18h-13zm18 0h5v18h-5zm11 0h6v18h-6zm20 0h4v18h-4zm20 0h1v18h-1zm6 0h2v18h-2zm39 0h3v18h-3zm20 0h13v18h-13zm18 0h9v18h-9zm16 0h3v18h-3zm8 0h29v18h-29zm31 0h2v18h-2zm7 0h4v18h-4zm7 0h1v18h-1zm8 0h4v18h-4zm7 0h7v18h-7zm11 0h5v18h-5zm9 0h19v18h-19zm20 0h12v18h-12zm19 0h10v18h-10zm15 0h2v18h-2zm20 0h20v18h-20zm22 0h5v18h-5zm8 0h2v18h-2zm4 0h7v18h-7zm19 0h5v18h-5zm9 0h12v18h-12zm19 0h5v18h-5zm18 0h4v18h-4zm6 0h21v18h-21zm40 0h1v18h-1zm20 0h4v18h-4zm18 0h5v18h-5zm57 0h2v18h-2zm37 0h2v18h-2zm80 0h2v18h-2zm7 0h5v18h-5zm8 0h2v18h-2zm24 0h5v18h-5zm29 0h2v18h-2zm3 0h3v18h-3zm16 0h3v18h-3zm5 0h3v18h-3zm8 0h5v18h-5zm12 0h4v18h-4zm56 0h6v18h-6zm14 0h5v18h-5zm13 0h2v18h-2zm48 0h6v18h-6zm17 0h3v18h-3zm11 0h3v18h-3zm5 0h1v18h-1zm5 0h5v18h-5zm6 0h3v18h-3zm11 0h9v18h-9zm16 0h1v18h-1zm2 0h2v18h-2zm49 0h10v18h-10zm46 0h5v18h-5zm45 0h2v18h-2zm30 0h9v18h-9zm14 0h23v18h-23zm31 0h10v18h-10zm12 0h2v18h-2zm3 0h5v18h-5zm17 0h9v18h-9zm11 0h2v18h-2zm13 0h10v18h-10zm13 0h3v18h-3zm9 0h8v18h-8zm10 0h12v18h-12zm14 0h15v18h-15zm18 0h4v18h-4zm7 0h4v18h-4zm7 0h8v18h-8zm15 0h8v18h-8zm9 0h8v18h-8zm10 0h10v18h-10zm46 0h2v18h-2zM80 346h15v17h-15zm19 0h8v17h-8zm9 0h4v17h-4zm7 0h3v17h-3zm4 0h16v17h-16zm17 0h10v17h-10zm12 0h5v17h-5zm13 0h5v17h-5zm7 0h3v17h-3zm6 0h6v17h-6zm42 0h2v17h-2zm38 0h2v17h-2zm6 0h4v17h-4zm13 0h23v17h-23zm26 0h9v17h-9zm22 0h1v17h-1zm5 0h1v17h-1zm19 0h7v17h-7zm35 0h8v17h-8zm10 0h2v17h-2zm4 0h2v17h-2zm7 0h4v17h-4zm7 0h2v17h-2zm10 0h3v17h-3zm6 0h2v17h-2zm108 0h1v17h-1zm3 0h1v17h-1zm17 0h13v17h-13zm18 0h9v17h-9zm11 0h20v17h-20zm25 0h5v17h-5zm14 0h3v17h-3zm5 0h2v17h-2zm7 0h4v17h-4zm7 0h1v17h-1zm8 0h4v17h-4zm11 0h3v17h-3zm6 0h1v17h-1zm6 0h4v17h-4zm30 0h9v17h-9zm12 0h4v17h-4zm8 0h3v17h-3zm8 0h2v17h-2zm25 0h7v17h-7zm8 0h7v17h-7zm9 0h34v17h-34zm44 0h5v17h-5zm15 0h5v17h-5zm159 0h2v17h-2zm37 0h2v17h-2zm47 0h1v17h-1zm33 0h2v17h-2zm8 0h4v17h-4zm7 0h2v17h-2zm37 0h2v17h-2zm18 0h4v17h-4zm8 0h1v17h-1zm12 0h2v17h-2zm4 0h11v17h-11zm13 0h9v17h-9zm57 0h4v17h-4zm6 0h4v17h-4zm8 0h12v17h-12zm17 0h2v17h-2zm33 0h8v17h-8zm19 0h2v17h-2zm13 0h3v17h-3zm11 0h3v17h-3zm16 0h3v17h-3zm11 0h2v17h-2zm16 0h1v17h-1zm2 0h3v17h-3zm15 0h2v17h-2zm28 0h1v17h-1zm6 0h3v17h-3zm8 0h2v17h-2zm12 0h1v17h-1zm26 0h7v17h-7zm14 0h10v17h-10zm21 0h5v17h-5zm7 0h1v17h-1zm3 0h4v17h-4zm10 0h4v17h-4zm20 0h37v17h-37zm41 0h9v17h-9zm16 0h2v17h-2zm3 0h5v17h-5zm17 0h6v17h-6zm11 0h3v17h-3zm43 0h7v17h-7zm11 0h3v17h-3zm7 0h27v17h-27zm29 0h24v17h-24zm25 0h8v17h-8zm10 0h10v17h-10zm46 0h2v17h-2zM83 363h5v17h-5zm6 0h6v17h-6zm11 0h5v17h-5zm8 0h1v17h-1zm8 0h2v17h-2zm8 0h7v17h-7zm8 0h3v17h-3zm4 0h3v17h-3zm8 0h2v17h-2zm4 0h3v17h-3zm5 0h5v17h-5zm6 0h10v17h-10zm15 0h6v17h-6zm42 0h2v17h-2zm35 0h3v17h-3zm32 0h5v17h-5zm8 0h4v17h-4zm54 0h1v17h-1zm3 0h4v17h-4zm32 0h5v17h-5zm7 0h18v17h-18zm31 0h8v17h-8zm43 0h1v17h-1zm3 0h9v17h-9zm10 0h5v17h-5zm6 0h2v17h-2zm7 0h1v17h-1zm4 0h1v17h-1zm2 0h2v17h-2zm5 0h15v17h-15zm24 0h4v17h-4zm17 0h2v17h-2zm13 0h24v17h-24zm26 0h1v17h-1zm11 0h22v17h-22zm29 0h5v17h-5zm14 0h4v17h-4zm19 0h3v17h-3zm7 0h3v17h-3zm6 0h1v17h-1zm3 0h1v17h-1zm3 0h4v17h-4zm11 0h5v17h-5zm9 0h8v17h-8zm88 0h2v17h-2zm6 0h5v17h-5zm12 0h5v17h-5zm10 0h4v17h-4zm16 0h7v17h-7zm12 0h2v17h-2zm19 0h1v17h-1zm7 0h11v17h-11zm19 0h10v17h-10zm14 0h6v17h-6zm11 0h2v17h-2zm9 0h4v17h-4zm9 0h1v17h-1zm9 0h5v17h-5zm66 0h4v17h-4zm14 0h2v17h-2zm61 0h1v17h-1zm4 0h9v17h-9zm18 0h3v17h-3zm6 0h7v17h-7zm20 0h2v17h-2zm24 0h5v17h-5zm29 0h2v17h-2zm48 0h5v17h-5zm28 0h2v17h-2zm43 0h3v17h-3zm10 0h7v17h-7zm17 0h1v17h-1zm29 0h8v17h-8zm14 0h1v17h-1zm3 0h3v17h-3zm6 0h5v17h-5zm8 0h2v17h-2zm3 0h10v17h-10zm38 0h1v17h-1zm3 0h1v17h-1zm6 0h1v17h-1zm4 0h8v17h-8zm45 0h2v17h-2zm12 0h1v17h-1zm37 0h2v17h-2zm3 0h10v17h-10zm31 0h2v17h-2zm10 0h7v17h-7zm50 0h7v17h-7zm11 0h16v17h-16zm23 0h7v17h-7zm37 0h12v17h-12zm13 0h3v17h-3zm9 0h4v17h-4zm26 0h13v17h-13zm16 0h1v17h-1zm13 0h1v17h-1zm3 0h12v17h-12zm13 0h6v17h-6zm8 0h1v17h-1zm9 0h2v17h-2zm4 0h20v17h-20zm23 0h10v17h-10zm13 0h17v17h-17zm22 0h1v17h-1zM85 380h4v17h-4zm23 0h4v17h-4zm10 0h1v17h-1zm6 0h4v17h-4zm7 0h1v17h-1zm8 0h7v17h-7zm12 0h7v17h-7zm8 0h10v17h-10zm16 0h5v17h-5zm65 0h1v17h-1zm11 0h3v17h-3zm9 0h4v17h-4zm13 0h3v17h-3zm54 0h2v17h-2zm4 0h2v17h-2zm4 0h3v17h-3zm6 0h14v17h-14zm19 0h7v17h-7zm30 0h2v17h-2zm60 0h3v17h-3zm27 0h2v17h-2zm3 0h2v17h-2zm11 0h1v17h-1zm2 0h2v17h-2zm7 0h2v17h-2zm26 0h4v17h-4zm6 0h4v17h-4zm15 0h5v17h-5zm6 0h12v17h-12zm25 0h1v17h-1zm3 0h5v17h-5zm8 0h22v17h-22zm34 0h4v17h-4zm9 0h4v17h-4zm7 0h2v17h-2zm8 0h4v17h-4zm53 0h4v17h-4zm6 0h3v17h-3zm6 0h4v17h-4zm8 0h3v17h-3zm11 0h2v17h-2zm15 0h2v17h-2zm7 0h7v17h-7zm8 0h1v17h-1zm2 0h5v17h-5zm12 0h2v17h-2zm14 0h2v17h-2zm7 0h5v17h-5zm14 0h4v17h-4zm9 0h3v17h-3zm8 0h7v17h-7zm31 0h2v17h-2zm73 0h5v17h-5zm92 0h8v17h-8zm10 0h4v17h-4zm10 0h2v17h-2zm57 0h7v17h-7zm25 0h12v17h-12zm48 0h2v17h-2zm27 0h5v17h-5zm7 0h1v17h-1zm14 0h7v17h-7zm54 0h4v17h-4zm17 0h3v17h-3zm8 0h2v17h-2zm20 0h4v17h-4zm9 0h2v17h-2zm3 0h11v17h-11zm13 0h2v17h-2zm3 0h8v17h-8zm17 0h3v17h-3zm11 0h6v17h-6zm10 0h3v17h-3zm6 0h3v17h-3zm11 0h2v17h-2zm7 0h2v17h-2zm11 0h2v17h-2zm25 0h2v17h-2zm8 0h6v17h-6zm10 0h6v17h-6zm52 0h5v17h-5zm11 0h2v17h-2zm3 0h4v17h-4zm5 0h5v17h-5zm16 0h5v17h-5zm10 0h14v17h-14zm30 0h3v17h-3zm7 0h7v17h-7zm8 0h4v17h-4zm6 0h1v17h-1zm7 0h9v17h-9zm17 0h4v17h-4zm5 0h14v17h-14zm15 0h2v17h-2zm46 0h2v17h-2zm3 0h3v17h-3zm5 0h4v17h-4zm12 0h2v17h-2zm3 0h4v17h-4zm8 0h3v17h-3zm5 0h2v17h-2zm11 0h3v17h-3zm4 0h3v17h-3zm4 0h6v17h-6zm20 0h1v17h-1zm11 0h3v17h-3zm6 0h2v17h-2zm6 0h2v17h-2zm4 0h2v17h-2zm5 0h5v17h-5zm8 0h2v17h-2zm5 0h7v17h-7zm17 0h2v17h-2zm3 0h16v17h-16zM83 397h7v17h-7zm16 0h13v17h-13zm16 0h4v17h-4zm9 0h5v17h-5zm7 0h4v17h-4zm5 0h2v17h-2zm3 0h7v17h-7zm12 0h18v17h-18zm20 0h3v17h-3zm4 0h28v17h-28zm35 0h8v17h-8zm11 0h5v17h-5zm19 0h1v17h-1zm20 0h4v17h-4zm13 0h3v17h-3zm6 0h10v17h-10zm12 0h5v17h-5zm8 0h9v17h-9zm12 0h1v17h-1zm5 0h3v17h-3zm5 0h1v17h-1zm5 0h3v17h-3zm15 0h11v17h-11zm77 0h3v17h-3zm6 0h2v17h-2zm26 0h4v17h-4zm8 0h7v17h-7zm9 0h4v17h-4zm7 0h13v17h-13zm14 0h3v17h-3zm4 0h8v17h-8zm10 0h30v17h-30zm31 0h3v17h-3zm8 0h11v17h-11zm12 0h12v17h-12zm18 0h15v17h-15zm18 0h27v17h-27zm31 0h16v17h-16zm19 0h2v17h-2zm8 0h2v17h-2zm27 0h2v17h-2zm5 0h7v17h-7zm15 0h1v17h-1zm4 0h2v17h-2zm33 0h2v17h-2zm22 0h7v17h-7zm8 0h1v17h-1zm2 0h5v17h-5zm12 0h2v17h-2zm3 0h2v17h-2zm6 0h5v17h-5zm12 0h5v17h-5zm8 0h3v17h-3zm6 0h19v17h-19zm26 0h11v17h-11zm95 0h5v17h-5zm23 0h5v17h-5zm14 0h2v17h-2zm29 0h7v17h-7zm8 0h2v17h-2zm11 0h15v17h-15zm17 0h4v17h-4zm10 0h2v17h-2zm57 0h5v17h-5zm72 0h3v17h-3zm25 0h10v17h-10zm11 0h2v17h-2zm11 0h2v17h-2zm56 0h4v17h-4zm25 0h2v17h-2zm19 0h1v17h-1zm10 0h2v17h-2zm16 0h2v17h-2zm3 0h8v17h-8zm17 0h3v17h-3zm45 0h2v17h-2zm36 0h2v17h-2zm8 0h4v17h-4zm6 0h10v17h-10zm18 0h2v17h-2zm12 0h3v17h-3zm26 0h5v17h-5zm7 0h6v17h-6zm7 0h10v17h-10zm31 0h4v17h-4zm6 0h4v17h-4zm24 0h5v17h-5zm7 0h30v17h-30zm38 0h4v17h-4zm5 0h7v17h-7zm9 0h1v17h-1zm8 0h10v17h-10zm37 0h2v17h-2zm7 0h2v17h-2zm3 0h3v17h-3zm5 0h4v17h-4zm12 0h7v17h-7zm11 0h7v17h-7zm13 0h6v17h-6zm7 0h3v17h-3zm4 0h6v17h-6zm36 0h3v17h-3zm9 0h2v17h-2zm4 0h8v17h-8zm19 0h4v17h-4zm16 0h1v17h-1zm2 0h3v17h-3zm16 0h5v17h-5zM83 414h2v17h-2zm16 0h6v17h-6zm8 0h2v17h-2zm9 0h2v17h-2zm8 0h3v17h-3zm4 0h8v17h-8zm16 0h7v17h-7zm14 0h10v17h-10zm11 0h5v17h-5zm6 0h5v17h-5zm6 0h12v17h-12zm15 0h3v17h-3zm7 0h4v17h-4zm7 0h23v17h-23zm31 0h8v17h-8zm10 0h3v17h-3zm5 0h8v17h-8zm17 0h10v17h-10zm14 0h1v17h-1zm2 0h2v17h-2zm6 0h1v17h-1zm4 0h17v17h-17zm20 0h14v17h-14zm19 0h3v17h-3zm14 0h15v17h-15zm20 0h5v17h-5zm52 0h7v17h-7zm29 0h14v17h-14zm18 0h7v17h-7zm8 0h1v17h-1zm9 0h3v17h-3zm7 0h3v17h-3zm7 0h6v17h-6zm10 0h10v17h-10zm14 0h6v17h-6zm7 0h2v17h-2zm8 0h12v17h-12zm14 0h5v17h-5zm10 0h14v17h-14zm16 0h8v17h-8zm20 0h5v17h-5zm17 0h5v17h-5zm7 0h11v17h-11zm14 0h1v17h-1zm8 0h2v17h-2zm11 0h3v17h-3zm12 0h16v17h-16zm20 0h10v17h-10zm16 0h3v17h-3zm6 0h4v17h-4zm8 0h3v17h-3zm8 0h3v17h-3zm11 0h4v17h-4zm7 0h14v17h-14zm15 0h7v17h-7zm9 0h7v17h-7zm8 0h2v17h-2zm13 0h3v17h-3zm5 0h5v17h-5zm10 0h4v17h-4zm21 0h2v17h-2zm9 0h11v17h-11zm17 0h12v17h-12zm101 0h5v17h-5zm43 0h4v17h-4zm8 0h2v17h-2zm6 0h2v17h-2zm5 0h11v17h-11zm17 0h4v17h-4zm10 0h2v17h-2zm34 0h3v17h-3zm23 0h5v17h-5zm29 0h3v17h-3zm44 0h2v17h-2zm24 0h13v17h-13zm22 0h2v17h-2zm81 0h2v17h-2zm19 0h1v17h-1zm73 0h3v17h-3zm29 0h2v17h-2zm5 0h3v17h-3zm4 0h3v17h-3zm40 0h3v17h-3zm20 0h5v17h-5zm6 0h9v17h-9zm13 0h12v17h-12zm21 0h4v17h-4zm16 0h5v17h-5zm6 0h4v17h-4zm9 0h10v17h-10zm27 0h1v17h-1zm3 0h30v17h-30zm35 0h2v17h-2zm10 0h4v17h-4zm12 0h2v17h-2zm3 0h4v17h-4zm41 0h10v17h-10zm13 0h16v17h-16zm17 0h2v17h-2zm3 0h4v17h-4zm8 0h5v17h-5zm7 0h16v17h-16zm17 0h6v17h-6zm34 0h2v17h-2zm3 0h6v17h-6zm10 0h2v17h-2zm10 0h27v17h-27zm28 0h1v17h-1zm8 0h4v17h-4zm9 0h6v17h-6zM83 431h2v17h-2zm7 0h6v17h-6zm9 0h6v17h-6zm8 0h2v17h-2zm5 0h3v17h-3zm4 0h11v17h-11zm12 0h10v17h-10zm20 0h5v17h-5zm10 0h3v17h-3zm8 0h2v17h-2zm5 0h3v17h-3zm4 0h6v17h-6zm7 0h6v17h-6zm11 0h3v17h-3zm17 0h2v17h-2zm4 0h4v17h-4zm7 0h12v17h-12zm19 0h6v17h-6zm14 0h6v17h-6zm9 0h1v17h-1zm2 0h14v17h-14zm26 0h4v17h-4zm12 0h5v17h-5zm8 0h8v17h-8zm10 0h1v17h-1zm5 0h1v17h-1zm15 0h4v17h-4zm5 0h14v17h-14zm18 0h3v17h-3zm23 0h1v17h-1zm37 0h7v17h-7zm12 0h5v17h-5zm22 0h3v17h-3zm7 0h6v17h-6zm12 0h1v17h-1zm2 0h1v17h-1zm3 0h5v17h-5zm6 0h3v17h-3zm4 0h8v17h-8zm10 0h11v17h-11zm20 0h8v17h-8zm14 0h3v17h-3zm16 0h1v17h-1zm3 0h5v17h-5zm15 0h8v17h-8zm11 0h8v17h-8zm15 0h5v17h-5zm15 0h7v17h-7zm14 0h2v17h-2zm24 0h2v17h-2zm9 0h3v17h-3zm6 0h1v17h-1zm6 0h6v17h-6zm9 0h7v17h-7zm11 0h3v17h-3zm4 0h1v17h-1zm4 0h2v17h-2zm8 0h3v17h-3zm25 0h2v17h-2zm8 0h4v17h-4zm21 0h1v17h-1zm10 0h3v17h-3zm5 0h2v17h-2zm21 0h5v17h-5zm10 0h4v17h-4zm16 0h7v17h-7zm12 0h2v17h-2zm20 0h2v17h-2zm10 0h1v17h-1zm38 0h2v17h-2zm153 0h3v17h-3zm14 0h3v17h-3zm31 0h5v17h-5zm12 0h1v17h-1zm10 0h3v17h-3zm10 0h2v17h-2zm40 0h3v17h-3zm4 0h8v17h-8zm107 0h4v17h-4zm17 0h2v17h-2zm19 0h1v17h-1zm26 0h11v17h-11zm17 0h1v17h-1zm3 0h3v17h-3zm11 0h3v17h-3zm5 0h1v17h-1zm3 0h5v17h-5zm8 0h3v17h-3zm7 0h4v17h-4zm22 0h2v17h-2zm25 0h2v17h-2zm47 0h1v17h-1zm9 0h3v17h-3zm12 0h1v17h-1zm13 0h2v17h-2zm3 0h4v17h-4zm10 0h5v17h-5zm21 0h2v17h-2zm10 0h4v17h-4zm17 0h3v17h-3zm18 0h6v17h-6zm40 0h4v17h-4zm9 0h3v17h-3zm8 0h5v17h-5zm77 0h9v17h-9zm12 0h4v17h-4zm15 0h2v17h-2zm3 0h2v17h-2zm4 0h3v17h-3zm4 0h3v17h-3zm6 0h4v17h-4zm10 0h2v17h-2zM83 448h2v17h-2zm12 0h1v17h-1zm4 0h1v17h-1zm6 0h4v17h-4zm7 0h3v17h-3zm4 0h3v17h-3zm12 0h10v17h-10zm11 0h14v17h-14zm19 0h1v17h-1zm8 0h2v17h-2zm5 0h3v17h-3zm4 0h5v17h-5zm6 0h3v17h-3zm7 0h5v17h-5zm11 0h4v17h-4zm15 0h4v17h-4zm5 0h2v17h-2zm7 0h4v17h-4zm14 0h6v17h-6zm16 0h7v17h-7zm9 0h8v17h-8zm11 0h3v17h-3zm7 0h5v17h-5zm6 0h2v17h-2zm10 0h4v17h-4zm28 0h4v17h-4zm11 0h3v17h-3zm7 0h1v17h-1zm3 0h7v17h-7zm12 0h2v17h-2zm4 0h3v17h-3zm8 0h2v17h-2zm13 0h3v17h-3zm39 0h2v17h-2zm8 0h4v17h-4zm21 0h5v17h-5zm8 0h4v17h-4zm6 0h10v17h-10zm35 0h11v17h-11zm16 0h8v17h-8zm12 0h2v17h-2zm3 0h2v17h-2zm8 0h12v17h-12zm14 0h5v17h-5zm8 0h15v17h-15zm16 0h10v17h-10zm15 0h2v17h-2zm7 0h5v17h-5zm10 0h3v17h-3zm5 0h4v17h-4zm7 0h2v17h-2zm26 0h5v17h-5zm9 0h3v17h-3zm6 0h1v17h-1zm6 0h4v17h-4zm30 0h4v17h-4zm6 0h6v17h-6zm7 0h3v17h-3zm10 0h1v17h-1zm5 0h2v17h-2zm11 0h7v17h-7zm9 0h5v17h-5zm27 0h2v17h-2zm5 0h2v17h-2zm11 0h3v17h-3zm5 0h5v17h-5zm10 0h4v17h-4zm13 0h3v17h-3zm10 0h5v17h-5zm7 0h10v17h-10zm20 0h2v17h-2zm8 0h1v17h-1zm38 0h2v17h-2zm99 0h3v17h-3zm24 0h2v17h-2zm8 0h1v17h-1zm10 0h2v17h-2zm57 0h5v17h-5zm12 0h1v17h-1zm8 0h2v17h-2zm9 0h3v17h-3zm10 0h5v17h-5zm33 0h1v17h-1zm25 0h2v17h-2zm3 0h10v17h-10zm12 0h1v17h-1zm5 0h2v17h-2zm9 0h2v17h-2zm15 0h2v17h-2zm8 0h1v17h-1zm51 0h2v17h-2zm19 0h1v17h-1zm4 0h1v17h-1zm22 0h3v17h-3zm20 0h3v17h-3zm11 0h3v17h-3zm5 0h1v17h-1zm3 0h5v17h-5zm7 0h4v17h-4zm30 0h2v17h-2zm20 0h5v17h-5zm17 0h2v17h-2zm35 0h2v17h-2zm16 0h6v17h-6zm21 0h4v17h-4zm10 0h5v17h-5zm21 0h2v17h-2zm6 0h4v17h-4zm21 0h1v17h-1zm3 0h5v17h-5zm7 0h8v17h-8zm14 0h7v17h-7zm14 0h2v17h-2zm15 0h15v17h-15zm22 0h5v17h-5zm32 0h2v17h-2zm7 0h2v17h-2zm3 0h3v17h-3zm5 0h4v17h-4zm8 0h3v17h-3zm4 0h2v17h-2zm3 0h4v17h-4zm8 0h5v17h-5zm19 0h1v17h-1zm4 0h1v17h-1zm7 0h3v17h-3zm28 0h2v17h-2zm3 0h6v17h-6zm8 0h4v17h-4zm24 0h3v17h-3zM85 465h5v17h-5zm15 0h5v17h-5zm8 0h1v17h-1zm4 0h3v17h-3zm15 0h1v17h-1zm2 0h19v17h-19zm22 0h7v17h-7zm8 0h7v17h-7zm9 0h1v17h-1zm6 0h6v17h-6zm7 0h15v17h-15zm18 0h4v17h-4zm8 0h3v17h-3zm7 0h4v17h-4zm5 0h2v17h-2zm7 0h14v17h-14zm15 0h24v17h-24zm32 0h3v17h-3zm14 0h4v17h-4zm8 0h1v17h-1zm8 0h8v17h-8zm16 0h2v17h-2zm3 0h4v17h-4zm5 0h2v17h-2zm4 0h2v17h-2zm4 0h11v17h-11zm13 0h19v17h-19zm24 0h8v17h-8zm11 0h2v17h-2zm4 0h37v17h-37zm44 0h19v17h-19zm22 0h5v17h-5zm8 0h1v17h-1zm4 0h6v17h-6zm12 0h1v17h-1zm2 0h1v17h-1zm9 0h3v17h-3zm4 0h8v17h-8zm10 0h11v17h-11zm12 0h8v17h-8zm16 0h2v17h-2zm3 0h3v17h-3zm8 0h12v17h-12zm14 0h5v17h-5zm8 0h2v17h-2zm7 0h8v17h-8zm9 0h10v17h-10zm15 0h2v17h-2zm7 0h5v17h-5zm17 0h2v17h-2zm5 0h4v17h-4zm9 0h4v17h-4zm26 0h3v17h-3zm6 0h3v17h-3zm17 0h4v17h-4zm19 0h4v17h-4zm6 0h10v17h-10zm17 0h1v17h-1zm5 0h2v17h-2zm3 0h2v17h-2zm8 0h7v17h-7zm9 0h20v17h-20zm32 0h2v17h-2zm11 0h3v17h-3zm13 0h2v17h-2zm10 0h5v17h-5zm8 0h5v17h-5zm7 0h5v17h-5zm7 0h5v17h-5zm10 0h1v17h-1zm8 0h4v17h-4zm30 0h9v17h-9zm59 0h2v17h-2zm32 0h7v17h-7zm13 0h2v17h-2zm13 0h3v17h-3zm24 0h6v17h-6zm47 0h1v17h-1zm5 0h3v17h-3zm23 0h5v17h-5zm12 0h1v17h-1zm6 0h2v17h-2zm16 0h3v17h-3zm45 0h4v17h-4zm20 0h11v17h-11zm13 0h3v17h-3zm5 0h4v17h-4zm75 0h3v17h-3zm8 0h2v17h-2zm19 0h1v17h-1zm14 0h3v17h-3zm15 0h4v17h-4zm110 0h2v17h-2zm35 0h2v17h-2zm3 0h2v17h-2zm13 0h6v17h-6zm37 0h5v17h-5zm6 0h6v17h-6zm9 0h14v17h-14zm27 0h1v17h-1zm3 0h5v17h-5zm7 0h12v17h-12zm14 0h7v17h-7zm9 0h11v17h-11zm15 0h4v17h-4zm43 0h3v17h-3zm6 0h10v17h-10zm12 0h5v17h-5zm11 0h2v17h-2zm6 0h7v17h-7zm8 0h7v17h-7zm11 0h7v17h-7zm23 0h1v17h-1zm7 0h30v17h-30zm31 0h3v17h-3zm4 0h2v17h-2zm4 0h4v17h-4zm24 0h3v17h-3zM80 482h3v17h-3zm9 0h6v17h-6zm10 0h10v17h-10zm13 0h3v17h-3zm4 0h8v17h-8zm11 0h2v17h-2zm4 0h7v17h-7zm8 0h14v17h-14zm19 0h1v17h-1zm11 0h5v17h-5zm6 0h5v17h-5zm28 0h7v17h-7zm15 0h1v17h-1zm12 0h3v17h-3zm7 0h2v17h-2zm4 0h8v17h-8zm10 0h12v17h-12zm13 0h6v17h-6zm9 0h6v17h-6zm10 0h5v17h-5zm6 0h2v17h-2zm6 0h1v17h-1zm8 0h9v17h-9zm16 0h7v17h-7zm8 0h2v17h-2zm8 0h11v17h-11zm13 0h7v17h-7zm12 0h7v17h-7zm12 0h2v17h-2zm8 0h5v17h-5zm7 0h7v17h-7zm9 0h7v17h-7zm11 0h6v17h-6zm14 0h3v17h-3zm5 0h6v17h-6zm10 0h14v17h-14zm17 0h5v17h-5zm9 0h3v17h-3zm11 0h4v17h-4zm22 0h3v17h-3zm31 0h4v17h-4zm7 0h2v17h-2zm22 0h5v17h-5zm8 0h2v17h-2zm7 0h1v17h-1zm6 0h2v17h-2zm3 0h10v17h-10zm15 0h2v17h-2zm7 0h5v17h-5zm10 0h3v17h-3zm5 0h4v17h-4zm7 0h4v17h-4zm9 0h4v17h-4zm68 0h4v17h-4zm6 0h6v17h-6zm7 0h3v17h-3zm10 0h1v17h-1zm5 0h2v17h-2zm3 0h6v17h-6zm8 0h7v17h-7zm9 0h20v17h-20zm58 0h4v17h-4zm13 0h8v17h-8zm10 0h5v17h-5zm7 0h11v17h-11zm18 0h2v17h-2zm40 0h5v17h-5zm23 0h5v17h-5zm58 0h7v17h-7zm13 0h5v17h-5zm13 0h3v17h-3zm24 0h6v17h-6zm8 0h1v17h-1zm10 0h2v17h-2zm12 0h3v17h-3zm14 0h4v17h-4zm8 0h8v17h-8zm12 0h4v17h-4zm18 0h7v17h-7zm9 0h1v17h-1zm2 0h4v17h-4zm61 0h4v17h-4zm28 0h1v17h-1zm6 0h2v17h-2zm6 0h2v17h-2zm22 0h2v17h-2zm8 0h1v17h-1zm3 0h5v17h-5zm10 0h7v17h-7zm30 0h3v17h-3zm8 0h2v17h-2zm11 0h2v17h-2zm8 0h1v17h-1zm4 0h1v17h-1zm6 0h2v17h-2zm201 0h4v17h-4zm26 0h2v17h-2zm11 0h4v17h-4zm54 0h19v17h-19zm30 0h4v17h-4zm46 0h11v17h-11zm13 0h4v17h-4zm30 0h6v17h-6zm12 0h1v17h-1zm4 0h1v17h-1zm7 0h4v17h-4zm7 0h8v17h-8zm11 0h3v17h-3zm4 0h8v17h-8zm9 0h3v17h-3zm4 0h2v17h-2zm4 0h4v17h-4zm24 0h3v17h-3zm32 0h1v17h-1zM100 499h59v17h-59zm69 0h2v17h-2zm11 0h13v17h-13zm16 0h7v17h-7zm11 0h26v17h-26zm32 0h1v17h-1zm2 0h8v17h-8zm10 0h12v17h-12zm13 0h12v17h-12zm15 0h8v17h-8zm10 0h27v17h-27zm30 0h2v17h-2zm3 0h9v17h-9zm13 0h3v17h-3zm6 0h4v17h-4zm7 0h14v17h-14zm24 0h2v17h-2zm15 0h1v17h-1zm3 0h4v17h-4zm6 0h1v17h-1zm5 0h2v17h-2zm4 0h8v17h-8zm13 0h6v17h-6zm8 0h21v17h-21zm27 0h11v17h-11zm14 0h4v17h-4zm6 0h1v17h-1zm22 0h3v17h-3zm7 0h6v17h-6zm10 0h18v17h-18zm20 0h1v17h-1zm3 0h4v17h-4zm10 0h8v17h-8zm10 0h5v17h-5zm8 0h2v17h-2zm7 0h8v17h-8zm9 0h2v17h-2zm7 0h5v17h-5zm8 0h2v17h-2zm7 0h5v17h-5zm10 0h3v17h-3zm7 0h2v17h-2zm5 0h4v17h-4zm9 0h8v17h-8zm17 0h2v17h-2zm90 0h4v17h-4zm14 0h5v17h-5zm9 0h1v17h-1zm6 0h2v17h-2zm7 0h2v17h-2zm31 0h4v17h-4zm13 0h3v17h-3zm35 0h2v17h-2zm40 0h5v17h-5zm49 0h2v17h-2zm34 0h5v17h-5zm11 0h5v17h-5zm13 0h3v17h-3zm15 0h2v17h-2zm17 0h1v17h-1zm22 0h3v17h-3zm17 0h1v17h-1zm5 0h3v17h-3zm95 0h1v17h-1zm3 0h3v17h-3zm4 0h5v17h-5zm18 0h10v17h-10zm11 0h4v17h-4zm5 0h2v17h-2zm4 0h4v17h-4zm32 0h1v17h-1zm24 0h2v17h-2zm19 0h3v17h-3zm10 0h2v17h-2zm11 0h3v17h-3zm6 0h1v17h-1zm4 0h1v17h-1zm6 0h2v17h-2zm4 0h3v17h-3zm160 0h2v17h-2zm3 0h6v17h-6zm18 0h1v17h-1zm2 0h5v17h-5zm11 0h2v17h-2zm3 0h15v17h-15zm26 0h2v17h-2zm5 0h2v17h-2zm80 0h27v17h-27zm77 0h4v17h-4zm7 0h15v17h-15zm18 0h3v17h-3zm13 0h1v17h-1zm10 0h1v17h-1zm4 0h26v17h-26zm27 0h5v17h-5zm7 0h10v17h-10zm21 0h4v17h-4zm14 0h2v17h-2zm11 0h2v17h-2zm8 0h7v17h-7zM80 516h3v17h-3zm5 0h5v17h-5zm15 0h9v17h-9zm15 0h46v17h-46zm51 0h5v17h-5zm14 0h13v17h-13zm27 0h14v17h-14zm19 0h7v17h-7zm11 0h3v17h-3zm9 0h3v17h-3zm5 0h12v17h-12zm13 0h12v17h-12zm15 0h9v17h-9zm10 0h42v17h-42zm49 0h3v17h-3zm8 0h2v17h-2zm9 0h5v17h-5zm17 0h2v17h-2zm5 0h6v17h-6zm10 0h7v17h-7zm9 0h45v17h-45zm48 0h3v17h-3zm6 0h14v17h-14zm15 0h2v17h-2zm8 0h1v17h-1zm29 0h6v17h-6zm10 0h21v17h-21zm23 0h1v17h-1zm6 0h6v17h-6zm11 0h1v17h-1zm3 0h8v17h-8zm15 0h26v17h-26zm36 0h8v17h-8zm12 0h5v17h-5zm7 0h2v17h-2zm7 0h4v17h-4zm17 0h2v17h-2zm45 0h1v17h-1zm6 0h4v17h-4zm6 0h14v17h-14zm17 0h1v17h-1zm3 0h4v17h-4zm7 0h4v17h-4zm6 0h7v17h-7zm9 0h12v17h-12zm13 0h7v17h-7zm9 0h7v17h-7zm10 0h2v17h-2zm24 0h2v17h-2zm10 0h5v17h-5zm70 0h5v17h-5zm10 0h5v17h-5zm49 0h2v17h-2zm34 0h5v17h-5zm13 0h3v17h-3zm11 0h3v17h-3zm42 0h2v17h-2zm29 0h1v17h-1zm28 0h5v17h-5zm16 0h1v17h-1zm18 0h3v17h-3zm49 0h1v17h-1zm16 0h6v17h-6zm8 0h5v17h-5zm6 0h2v17h-2zm6 0h2v17h-2zm54 0h2v17h-2zm19 0h3v17h-3zm8 0h2v17h-2zm11 0h2v17h-2zm12 0h1v17h-1zm6 0h2v17h-2zm92 0h2v17h-2zm12 0h1v17h-1zm83 0h7v17h-7zm11 0h2v17h-2zm3 0h15v17h-15zm26 0h2v17h-2zm15 0h7v17h-7zm8 0h10v17h-10zm62 0h5v17h-5zm7 0h10v17h-10zm14 0h6v17h-6zm60 0h2v17h-2zm11 0h3v17h-3zm7 0h3v17h-3zm6 0h10v17h-10zm11 0h9v17h-9zm10 0h2v17h-2zm5 0h2v17h-2zm19 0h23v17h-23zm34 0h4v17h-4zm25 0h2v17h-2zm8 0h6v17h-6zM80 533h3v17h-3zm5 0h11v17h-11zm14 0h8v17h-8zm9 0h1v17h-1zm4 0h17v17h-17zm19 0h1v17h-1zm4 0h9v17h-9zm11 0h5v17h-5zm7 0h22v17h-22zm27 0h23v17h-23zm27 0h14v17h-14zm19 0h4v17h-4zm11 0h17v17h-17zm42 0h10v17h-10zm12 0h4v17h-4zm5 0h20v17h-20zm23 0h26v17h-26zm27 0h6v17h-6zm34 0h5v17h-5zm7 0h1v17h-1zm3 0h4v17h-4zm7 0h4v17h-4zm6 0h29v17h-29zm33 0h5v17h-5zm8 0h3v17h-3zm9 0h5v17h-5zm8 0h3v17h-3zm4 0h2v17h-2zm8 0h1v17h-1zm5 0h2v17h-2zm4 0h5v17h-5zm6 0h5v17h-5zm7 0h5v17h-5zm7 0h31v17h-31zm33 0h4v17h-4zm6 0h6v17h-6zm11 0h1v17h-1zm3 0h10v17h-10zm15 0h11v17h-11zm16 0h10v17h-10zm15 0h10v17h-10zm17 0h5v17h-5zm7 0h2v17h-2zm7 0h8v17h-8zm11 0h4v17h-4zm6 0h2v17h-2zm30 0h6v17h-6zm11 0h5v17h-5zm8 0h6v17h-6zm8 0h3v17h-3zm6 0h8v17h-8zm11 0h1v17h-1zm3 0h2v17h-2zm4 0h1v17h-1zm9 0h4v17h-4zm7 0h29v17h-29zm31 0h1v17h-1zm3 0h2v17h-2zm11 0h3v17h-3zm13 0h2v17h-2zm3 0h3v17h-3zm7 0h8v17h-8zm94 0h5v17h-5zm9 0h5v17h-5zm26 0h2v17h-2zm34 0h5v17h-5zm7 0h4v17h-4zm6 0h3v17h-3zm11 0h3v17h-3zm42 0h2v17h-2zm29 0h1v17h-1zm28 0h5v17h-5zm59 0h1v17h-1zm13 0h3v17h-3zm4 0h7v17h-7zm21 0h8v17h-8zm11 0h4v17h-4zm5 0h2v17h-2zm6 0h2v17h-2zm68 0h8v17h-8zm13 0h4v17h-4zm11 0h2v17h-2zm9 0h2v17h-2zm3 0h1v17h-1zm6 0h2v17h-2zm92 0h2v17h-2zm12 0h1v17h-1zm60 0h1v17h-1zm23 0h7v17h-7zm11 0h2v17h-2zm3 0h15v17h-15zm26 0h2v17h-2zm11 0h22v17h-22zm74 0h22v17h-22zm77 0h3v17h-3zm4 0h24v17h-24zm30 0h1v17h-1zm5 0h9v17h-9zm34 0h13v17h-13zm15 0h3v17h-3zm19 0h4v17h-4zm25 0h2v17h-2zm8 0h1v17h-1zM80 550h3v17h-3zm5 0h5v17h-5zm15 0h5v17h-5zm7 0h2v17h-2zm5 0h20v17h-20zm23 0h3v17h-3zm11 0h5v17h-5zm7 0h8v17h-8zm13 0h9v17h-9zm15 0h15v17h-15zm49 0h3v17h-3zm9 0h2v17h-2zm7 0h3v17h-3zm5 0h3v17h-3zm28 0h4v17h-4zm12 0h4v17h-4zm8 0h4v17h-4zm6 0h3v17h-3zm7 0h7v17h-7zm9 0h1v17h-1zm5 0h3v17h-3zm9 0h11v17h-11zm13 0h4v17h-4zm19 0h10v17h-10zm13 0h3v17h-3zm5 0h9v17h-9zm12 0h4v17h-4zm6 0h4v17h-4zm5 0h2v17h-2zm5 0h5v17h-5zm8 0h5v17h-5zm56 0h1v17h-1zm3 0h2v17h-2zm7 0h1v17h-1zm13 0h32v17h-32zm36 0h3v17h-3zm5 0h12v17h-12zm14 0h5v17h-5zm8 0h2v17h-2zm8 0h5v17h-5zm7 0h1v17h-1zm8 0h10v17h-10zm39 0h14v17h-14zm18 0h4v17h-4zm6 0h2v17h-2zm32 0h4v17h-4zm17 0h2v17h-2zm50 0h27v17h-27zm29 0h1v17h-1zm14 0h3v17h-3zm15 0h4v17h-4zm16 0h5v17h-5zm57 0h20v17h-20zm38 0h6v17h-6zm26 0h2v17h-2zm58 0h3v17h-3zm42 0h2v17h-2zm29 0h1v17h-1zm28 0h5v17h-5zm13 0h1v17h-1zm12 0h2v17h-2zm4 0h8v17h-8zm10 0h5v17h-5zm58 0h8v17h-8zm11 0h4v17h-4zm5 0h2v17h-2zm6 0h2v17h-2zm7 0h2v17h-2zm4 0h4v17h-4zm11 0h5v17h-5zm42 0h4v17h-4zm9 0h8v17h-8zm10 0h2v17h-2zm9 0h2v17h-2zm9 0h2v17h-2zm3 0h1v17h-1zm3 0h5v17h-5zm7 0h10v17h-10zm15 0h4v17h-4zm15 0h8v17h-8zm13 0h6v17h-6zm8 0h2v17h-2zm8 0h3v17h-3zm41 0h1v17h-1zm31 0h1v17h-1zm31 0h3v17h-3zm6 0h4v17h-4zm8 0h5v17h-5zm6 0h6v17h-6zm12 0h2v17h-2zm7 0h11v17h-11zm22 0h2v17h-2zm15 0h8v17h-8zm12 0h3v17h-3zm5 0h1v17h-1zm33 0h5v17h-5zm15 0h4v17h-4zm12 0h2v17h-2zm7 0h1v17h-1zm13 0h4v17h-4zm6 0h8v17h-8zm11 0h19v17h-19zm23 0h13v17h-13zm14 0h2v17h-2zm3 0h4v17h-4zm8 0h3v17h-3zm5 0h2v17h-2zm60 0h2v17h-2zm27 0h4v17h-4zm16 0h5v17h-5zm17 0h7v17h-7zM83 567h2v17h-2zm13 0h3v17h-3zm11 0h1v17h-1zm21 0h1v17h-1zm4 0h3v17h-3zm21 0h8v17h-8zm13 0h8v17h-8zm14 0h1v17h-1zm2 0h6v17h-6zm17 0h4v17h-4zm8 0h23v17h-23zm32 0h2v17h-2zm12 0h9v17h-9zm14 0h18v17h-18zm23 0h7v17h-7zm11 0h4v17h-4zm6 0h3v17h-3zm7 0h7v17h-7zm9 0h12v17h-12zm17 0h3v17h-3zm8 0h2v17h-2zm14 0h2v17h-2zm7 0h29v17h-29zm30 0h56v17h-56zm81 0h2v17h-2zm4 0h5v17h-5zm6 0h44v17h-44zm48 0h3v17h-3zm5 0h12v17h-12zm14 0h10v17h-10zm16 0h5v17h-5zm7 0h1v17h-1zm3 0h10v17h-10zm13 0h2v17h-2zm7 0h13v17h-13zm15 0h7v17h-7zm9 0h16v17h-16zm18 0h11v17h-11zm15 0h3v17h-3zm7 0h9v17h-9zm35 0h4v17h-4zm23 0h3v17h-3zm5 0h2v17h-2zm11 0h24v17h-24zm29 0h7v17h-7zm9 0h1v17h-1zm3 0h2v17h-2zm11 0h3v17h-3zm10 0h21v17h-21zm73 0h5v17h-5zm15 0h4v17h-4zm5 0h5v17h-5zm13 0h1v17h-1zm10 0h5v17h-5zm26 0h2v17h-2zm32 0h7v17h-7zm15 0h3v17h-3zm21 0h2v17h-2zm22 0h1v17h-1zm10 0h2v17h-2zm54 0h8v17h-8zm10 0h5v17h-5zm6 0h1v17h-1zm3 0h2v17h-2zm4 0h2v17h-2zm39 0h1v17h-1zm13 0h1v17h-1zm28 0h5v17h-5zm7 0h5v17h-5zm6 0h2v17h-2zm6 0h2v17h-2zm101 0h2v17h-2zm173 0h2v17h-2zm21 0h1v17h-1zm42 0h2v17h-2zm11 0h4v17h-4zm19 0h3v17h-3zm55 0h5v17h-5zm7 0h2v17h-2zm3 0h5v17h-5zm17 0h4v17h-4zm9 0h2v17h-2zm4 0h1v17h-1zm2 0h19v17h-19zm21 0h1v17h-1zm4 0h10v17h-10zm13 0h1v17h-1zm4 0h8v17h-8zm11 0h2v17h-2zm36 0h2v17h-2zm19 0h11v17h-11zm13 0h5v17h-5zm21 0h4v17h-4zM85 584h3v17h-3zm4 0h16v17h-16zm29 0h1v17h-1zm10 0h4v17h-4zm7 0h3v17h-3zm4 0h7v17h-7zm19 0h1v17h-1zm8 0h8v17h-8zm9 0h28v17h-28zm32 0h9v17h-9zm11 0h3v17h-3zm8 0h7v17h-7zm11 0h4v17h-4zm14 0h3v17h-3zm9 0h3v17h-3zm5 0h8v17h-8zm11 0h19v17h-19zm20 0h1v17h-1zm3 0h9v17h-9zm12 0h22v17h-22zm27 0h3v17h-3zm8 0h2v17h-2zm9 0h9v17h-9zm12 0h10v17h-10zm13 0h16v17h-16zm17 0h35v17h-35zm39 0h5v17h-5zm8 0h3v17h-3zm6 0h3v17h-3zm28 0h2v17h-2zm4 0h5v17h-5zm6 0h3v17h-3zm4 0h8v17h-8zm10 0h28v17h-28zm30 0h1v17h-1zm4 0h3v17h-3zm5 0h6v17h-6zm11 0h44v17h-44zm49 0h13v17h-13zm17 0h5v17h-5zm7 0h16v17h-16zm18 0h11v17h-11zm15 0h3v17h-3zm6 0h10v17h-10zm36 0h4v17h-4zm9 0h3v17h-3zm7 0h4v17h-4zm12 0h2v17h-2zm11 0h36v17h-36zm38 0h1v17h-1zm19 0h5v17h-5zm10 0h1v17h-1zm4 0h4v17h-4zm97 0h1v17h-1zm10 0h6v17h-6zm7 0h4v17h-4zm17 0h2v17h-2zm36 0h5v17h-5zm7 0h4v17h-4zm6 0h3v17h-3zm43 0h1v17h-1zm10 0h2v17h-2zm29 0h1v17h-1zm28 0h5v17h-5zm7 0h5v17h-5zm6 0h1v17h-1zm3 0h1v17h-1zm2 0h2v17h-2zm54 0h3v17h-3zm25 0h8v17h-8zm11 0h4v17h-4zm11 0h2v17h-2zm7 0h2v17h-2zm69 0h5v17h-5zm7 0h2v17h-2zm17 0h3v17h-3zm73 0h3v17h-3zm18 0h2v17h-2zm83 0h2v17h-2zm53 0h5v17h-5zm21 0h16v17h-16zm18 0h25v17h-25zm28 0h6v17h-6zm28 0h5v17h-5zm7 0h3v17h-3zm7 0h1v17h-1zm26 0h1v17h-1zm4 0h5v17h-5zm33 0h15v17h-15zm18 0h10v17h-10zm16 0h1v17h-1zm39 0h2v17h-2zm3 0h6v17h-6zm23 0h2v17h-2zm8 0h4v17h-4zM80 601h3v18h-3zm5 0h4v18h-4zm20 0h2v18h-2zm4 0h6v18h-6zm7 0h2v18h-2zm3 0h8v18h-8zm19 0h1v18h-1zm10 0h10v18h-10zm11 0h7v18h-7zm9 0h7v18h-7zm16 0h4v18h-4zm37 0h5v18h-5zm16 0h2v18h-2zm9 0h3v18h-3zm43 0h2v18h-2zm10 0h6v18h-6zm12 0h5v18h-5zm8 0h2v18h-2zm8 0h4v18h-4zm6 0h2v18h-2zm5 0h10v18h-10zm17 0h9v18h-9zm12 0h10v18h-10zm20 0h3v18h-3zm7 0h3v18h-3zm7 0h2v18h-2zm4 0h2v18h-2zm3 0h2v18h-2zm13 0h5v18h-5zm32 0h1v18h-1zm5 0h9v18h-9zm13 0h6v18h-6zm8 0h1v18h-1zm3 0h5v18h-5zm6 0h12v18h-12zm20 0h4v18h-4zm22 0h3v18h-3zm23 0h7v18h-7zm10 0h13v18h-13zm15 0h18v18h-18zm40 0h2v18h-2zm7 0h7v18h-7zm14 0h1v18h-1zm42 0h4v18h-4zm28 0h3v18h-3zm14 0h3v18h-3zm5 0h2v18h-2zm3 0h6v18h-6zm12 0h10v18h-10zm15 0h2v18h-2zm4 0h1v18h-1zm6 0h5v18h-5zm10 0h2v18h-2zm4 0h12v18h-12zm92 0h5v18h-5zm28 0h4v18h-4zm15 0h5v18h-5zm26 0h2v18h-2zm67 0h1v18h-1zm8 0h3v18h-3zm7 0h6v18h-6zm8 0h25v18h-25zm33 0h3v18h-3zm31 0h8v18h-8zm10 0h5v18h-5zm6 0h4v18h-4zm5 0h2v18h-2zm7 0h2v18h-2zm4 0h3v18h-3zm5 0h3v18h-3zm10 0h5v18h-5zm26 0h2v18h-2zm5 0h8v18h-8zm9 0h11v18h-11zm23 0h1v18h-1zm19 0h2v18h-2zm15 0h2v18h-2zm54 0h11v18h-11zm16 0h5v18h-5zm8 0h1v18h-1zm5 0h5v18h-5zm7 0h5v18h-5zm10 0h2v18h-2zm4 0h3v18h-3zm13 0h4v18h-4zm5 0h5v18h-5zm29 0h3v18h-3zm6 0h5v18h-5zm12 0h2v18h-2zm48 0h12v18h-12zm15 0h5v18h-5zm17 0h1v18h-1zm4 0h1v18h-1zm20 0h1v18h-1zm7 0h2v18h-2zm6 0h2v18h-2zm7 0h11v18h-11zm22 0h2v18h-2zm11 0h8v18h-8zm11 0h5v18h-5zm8 0h2v18h-2zm33 0h13v18h-13zm17 0h4v18h-4zm15 0h4v18h-4zm17 0h4v18h-4zm9 0h2v18h-2zm4 0h1v18h-1zm11 0h3v18h-3zm10 0h6v18h-6zm8 0h4v18h-4zm23 0h3v18h-3zm7 0h3v18h-3zm16 0h1v18h-1zm4 0h6v18h-6zm12 0h2v18h-2zm19 0h2v18h-2zm3 0h6v18h-6zm56 0h2v18h-2zM80 619h3v17h-3zm5 0h10v17h-10zm20 0h7v17h-7zm11 0h2v17h-2zm3 0h8v17h-8zm19 0h1v17h-1zm10 0h10v17h-10zm11 0h15v17h-15zm16 0h5v17h-5zm7 0h2v17h-2zm6 0h5v17h-5zm33 0h5v17h-5zm16 0h2v17h-2zm9 0h3v17h-3zm43 0h2v17h-2zm14 0h2v17h-2zm5 0h3v17h-3zm4 0h4v17h-4zm7 0h2v17h-2zm3 0h4v17h-4zm5 0h4v17h-4zm6 0h2v17h-2zm5 0h7v17h-7zm8 0h2v17h-2zm9 0h5v17h-5zm7 0h12v17h-12zm15 0h6v17h-6zm8 0h18v17h-18zm23 0h2v17h-2zm13 0h5v17h-5zm33 0h4v17h-4zm8 0h3v17h-3zm5 0h6v17h-6zm12 0h1v17h-1zm3 0h5v17h-5zm6 0h5v17h-5zm10 0h4v17h-4zm7 0h7v17h-7zm25 0h2v17h-2zm11 0h6v17h-6zm11 0h3v17h-3zm11 0h15v17h-15zm26 0h2v17h-2zm29 0h2v17h-2zm18 0h4v17h-4zm15 0h7v17h-7zm14 0h9v17h-9zm16 0h5v17h-5zm19 0h9v17h-9zm12 0h4v17h-4zm8 0h3v17h-3zm4 0h6v17h-6zm7 0h8v17h-8zm12 0h10v17h-10zm19 0h1v17h-1zm13 0h3v17h-3zm5 0h4v17h-4zm9 0h5v17h-5zm7 0h5v17h-5zm88 0h5v17h-5zm9 0h1v17h-1zm6 0h8v17h-8zm9 0h9v17h-9zm16 0h4v17h-4zm7 0h12v17h-12zm14 0h18v17h-18zm23 0h2v17h-2zm16 0h4v17h-4zm32 0h2v17h-2zm7 0h4v17h-4zm10 0h17v17h-17zm31 0h8v17h-8zm36 0h5v17h-5zm7 0h5v17h-5zm6 0h1v17h-1zm3 0h1v17h-1zm2 0h5v17h-5zm7 0h2v17h-2zm4 0h3v17h-3zm5 0h15v17h-15zm25 0h1v17h-1zm11 0h5v17h-5zm13 0h1v17h-1zm9 0h3v17h-3zm5 0h2v17h-2zm3 0h5v17h-5zm7 0h3v17h-3zm19 0h2v17h-2zm25 0h1v17h-1zm41 0h3v17h-3zm8 0h2v17h-2zm4 0h9v17h-9zm12 0h3v17h-3zm7 0h1v17h-1zm22 0h2v17h-2zm3 0h4v17h-4zm10 0h4v17h-4zm7 0h3v17h-3zm6 0h8v17h-8zm13 0h2v17h-2zm8 0h3v17h-3zm6 0h1v17h-1zm12 0h2v17h-2zm4 0h5v17h-5zm7 0h3v17h-3zm9 0h6v17h-6zm10 0h1v17h-1zm11 0h3v17h-3zm7 0h7v17h-7zm12 0h8v17h-8zm10 0h10v17h-10zm13 0h1v17h-1zm23 0h7v17h-7zm11 0h2v17h-2zm3 0h4v17h-4zm5 0h10v17h-10zm21 0h2v17h-2zm11 0h16v17h-16zm21 0h1v17h-1zm33 0h7v17h-7zm19 0h6v17h-6zm11 0h4v17h-4zm30 0h1v17h-1zm4 0h5v17h-5zm7 0h3v17h-3zm5 0h11v17h-11zm36 0h3v17h-3zm7 0h6v17h-6zm12 0h5v17h-5zm8 0h6v17h-6zm12 0h2v17h-2zm34 0h3v17h-3zm11 0h2v17h-2zm8 0h4v17h-4zm9 0h7v17h-7zm24 0h7v17h-7zM80 636h3v17h-3zm5 0h53v17h-53zm54 0h12v17h-12zm14 0h15v17h-15zm18 0h9v17h-9zm10 0h35v17h-35zm37 0h3v17h-3zm8 0h20v17h-20zm23 0h7v17h-7zm15 0h9v17h-9zm12 0h3v17h-3zm29 0h3v17h-3zm11 0h3v17h-3zm13 0h6v17h-6zm9 0h3v17h-3zm39 0h8v17h-8zm10 0h16v17h-16zm18 0h2v17h-2zm3 0h2v17h-2zm13 0h57v17h-57zm74 0h3v17h-3zm7 0h24v17h-24zm28 0h2v17h-2zm11 0h6v17h-6zm24 0h5v17h-5zm11 0h2v17h-2zm3 0h2v17h-2zm7 0h3v17h-3zm5 0h3v17h-3zm5 0h15v17h-15zm22 0h2v17h-2zm5 0h2v17h-2zm4 0h5v17h-5zm9 0h3v17h-3zm34 0h9v17h-9zm11 0h5v17h-5zm9 0h3v17h-3zm19 0h3v17h-3zm14 0h1v17h-1zm16 0h4v17h-4zm36 0h2v17h-2zm5 0h4v17h-4zm16 0h5v17h-5zm26 0h5v17h-5zm7 0h5v17h-5zm24 0h1v17h-1zm3 0h8v17h-8zm9 0h6v17h-6zm42 0h1v17h-1zm36 0h2v17h-2zm58 0h6v17h-6zm9 0h1v17h-1zm6 0h7v17h-7zm56 0h22v17h-22zm48 0h2v17h-2zm46 0h2v17h-2zm17 0h1v17h-1zm14 0h2v17h-2zm16 0h2v17h-2zm6 0h2v17h-2zm7 0h2v17h-2zm25 0h1v17h-1zm18 0h6v17h-6zm14 0h4v17h-4zm9 0h14v17h-14zm19 0h5v17h-5zm8 0h1v17h-1zm4 0h1v17h-1zm25 0h4v17h-4zm17 0h3v17h-3zm14 0h2v17h-2zm19 0h1v17h-1zm12 0h2v17h-2zm13 0h1v17h-1zm6 0h7v17h-7zm11 0h1v17h-1zm6 0h47v17h-47zm59 0h4v17h-4zm16 0h2v17h-2zm6 0h2v17h-2zm7 0h1v17h-1zm79 0h2v17h-2zm13 0h2v17h-2zm14 0h6v17h-6zm8 0h10v17h-10zm20 0h4v17h-4zm9 0h8v17h-8zm15 0h3v17h-3zm5 0h13v17h-13zm17 0h11v17h-11zm15 0h4v17h-4zm7 0h49v17h-49zm52 0h3v17h-3zm5 0h5v17h-5zm7 0h4v17h-4zm14 0h5v17h-5zm11 0h4v17h-4zm9 0h18v17h-18zm20 0h11v17h-11zM80 653h3v17h-3zm5 0h3v17h-3zm4 0h6v17h-6zm7 0h4v17h-4zm9 0h33v17h-33zm34 0h22v17h-22zm27 0h14v17h-14zm18 0h12v17h-12zm19 0h13v17h-13zm15 0h3v17h-3zm8 0h7v17h-7zm11 0h2v17h-2zm4 0h5v17h-5zm10 0h5v17h-5zm9 0h3v17h-3zm4 0h15v17h-15zm23 0h1v17h-1zm2 0h6v17h-6zm10 0h9v17h-9zm12 0h24v17h-24zm27 0h10v17h-10zm34 0h2v17h-2zm5 0h8v17h-8zm10 0h9v17h-9zm10 0h11v17h-11zm13 0h8v17h-8zm11 0h37v17h-37zm41 0h2v17h-2zm3 0h8v17h-8zm13 0h1v17h-1zm2 0h8v17h-8zm15 0h18v17h-18zm35 0h2v17h-2zm11 0h6v17h-6zm12 0h7v17h-7zm10 0h8v17h-8zm13 0h2v17h-2zm15 0h27v17h-27zm29 0h5v17h-5zm7 0h5v17h-5zm9 0h5v17h-5zm73 0h3v17h-3zm7 0h4v17h-4zm52 0h2v17h-2zm9 0h1v17h-1zm3 0h2v17h-2zm24 0h3v17h-3zm10 0h5v17h-5zm8 0h7v17h-7zm12 0h13v17h-13zm59 0h6v17h-6zm14 0h1v17h-1zm77 0h4v17h-4zm27 0h2v17h-2zm12 0h18v17h-18zm20 0h15v17h-15zm26 0h24v17h-24zm25 0h3v17h-3zm26 0h3v17h-3zm9 0h3v17h-3zm5 0h3v17h-3zm10 0h5v17h-5zm9 0h9v17h-9zm12 0h5v17h-5zm8 0h2v17h-2zm22 0h2v17h-2zm15 0h2v17h-2zm3 0h6v17h-6zm8 0h30v17h-30zm31 0h17v17h-17zm21 0h2v17h-2zm10 0h4v17h-4zm12 0h25v17h-25zm28 0h1v17h-1zm3 0h3v17h-3zm39 0h3v17h-3zm68 0h1v17h-1zm7 0h1v17h-1zm6 0h8v17h-8zm12 0h4v17h-4zm6 0h1v17h-1zm9 0h5v17h-5zm32 0h4v17h-4zm40 0h16v17h-16zm18 0h8v17h-8zm12 0h8v17h-8zm13 0h3v17h-3zm17 0h1v17h-1zm8 0h2v17h-2zm28 0h21v17h-21zm22 0h9v17h-9zm11 0h3v17h-3zm5 0h11v17h-11zm13 0h18v17h-18zm22 0h19v17h-19zm22 0h31v17h-31zm33 0h8v17h-8zm12 0h4v17h-4zm12 0h7v17h-7zm9 0h2v17h-2zm12 0h27v17h-27zm32 0h6v17h-6zm12 0h7v17h-7zM80 670h3v17h-3zm5 0h3v17h-3zm4 0h6v17h-6zm7 0h4v17h-4zm9 0h3v17h-3zm4 0h3v17h-3zm6 0h3v17h-3zm4 0h8v17h-8zm9 0h1v17h-1zm7 0h3v17h-3zm11 0h12v17h-12zm13 0h21v17h-21zm22 0h7v17h-7zm12 0h19v17h-19zm21 0h2v17h-2zm4 0h1v17h-1zm8 0h7v17h-7zm11 0h2v17h-2zm4 0h5v17h-5zm10 0h5v17h-5zm9 0h29v17h-29zm48 0h8v17h-8zm18 0h1v17h-1zm20 0h6v17h-6zm34 0h5v17h-5zm8 0h4v17h-4zm6 0h2v17h-2zm3 0h4v17h-4zm8 0h2v17h-2zm3 0h2v17h-2zm5 0h5v17h-5zm8 0h5v17h-5zm32 0h5v17h-5zm12 0h9v17h-9zm26 0h1v17h-1zm11 0h11v17h-11zm12 0h12v17h-12zm16 0h5v17h-5zm6 0h3v17h-3zm5 0h4v17h-4zm6 0h5v17h-5zm32 0h2v17h-2zm22 0h5v17h-5zm10 0h3v17h-3zm12 0h2v17h-2zm4 0h5v17h-5zm9 0h3v17h-3zm4 0h1v17h-1zm30 0h4v17h-4zm15 0h1v17h-1zm5 0h3v17h-3zm19 0h3v17h-3zm7 0h4v17h-4zm10 0h2v17h-2zm5 0h2v17h-2zm8 0h4v17h-4zm38 0h1v17h-1zm3 0h2v17h-2zm34 0h5v17h-5zm15 0h5v17h-5zm77 0h1v17h-1zm11 0h5v17h-5zm84 0h10v17h-10zm17 0h3v17h-3zm13 0h6v17h-6zm10 0h2v17h-2zm14 0h3v17h-3zm17 0h1v17h-1zm4 0h9v17h-9zm13 0h4v17h-4zm5 0h3v17h-3zm59 0h3v17h-3zm44 0h2v17h-2zm3 0h5v17h-5zm7 0h3v17h-3zm14 0h13v17h-13zm18 0h7v17h-7zm12 0h1v17h-1zm44 0h9v17h-9zm16 0h5v17h-5zm8 0h1v17h-1zm46 0h16v17h-16zm19 0h2v17h-2zm7 0h7v17h-7zm8 0h6v17h-6zm11 0h9v17h-9zm14 0h2v17h-2zm14 0h2v17h-2zm8 0h2v17h-2zm5 0h3v17h-3zm7 0h7v17h-7zm12 0h3v17h-3zm10 0h10v17h-10zm25 0h4v17h-4zm81 0h2v17h-2zm55 0h5v17h-5zm7 0h2v17h-2zm3 0h5v17h-5zm12 0h9v17h-9zm29 0h3v17h-3zm5 0h11v17h-11zm24 0h3v17h-3zm8 0h4v17h-4zm7 0h2v17h-2zm7 0h3v17h-3zm17 0h3v17h-3zm10 0h4v17h-4zm14 0h1v17h-1zm7 0h2v17h-2zm3 0h4v17h-4zm8 0h4v17h-4zm48 0h2v17h-2zm14 0h1v17h-1zM80 687h3v17h-3zm5 0h3v17h-3zm4 0h6v17h-6zm7 0h4v17h-4zm13 0h3v17h-3zm6 0h3v17h-3zm4 0h8v17h-8zm9 0h1v17h-1zm3 0h1v17h-1zm4 0h1v17h-1zm3 0h6v17h-6zm10 0h10v17h-10zm11 0h7v17h-7zm9 0h12v17h-12zm13 0h3v17h-3zm7 0h8v17h-8zm19 0h7v17h-7zm11 0h3v17h-3zm28 0h3v17h-3zm8 0h2v17h-2zm6 0h3v17h-3zm4 0h19v17h-19zm23 0h8v17h-8zm12 0h9v17h-9zm12 0h1v17h-1zm5 0h3v17h-3zm5 0h25v17h-25zm27 0h4v17h-4zm37 0h2v17h-2zm3 0h2v17h-2zm17 0h2v17h-2zm3 0h2v17h-2zm5 0h5v17h-5zm8 0h3v17h-3zm5 0h5v17h-5zm6 0h9v17h-9zm12 0h3v17h-3zm6 0h3v17h-3zm27 0h2v17h-2zm5 0h6v17h-6zm10 0h1v17h-1zm3 0h3v17h-3zm5 0h12v17h-12zm18 0h4v17h-4zm18 0h11v17h-11zm17 0h7v17h-7zm17 0h8v17h-8zm19 0h5v17h-5zm7 0h10v17h-10zm15 0h3v17h-3zm7 0h2v17h-2zm5 0h2v17h-2zm13 0h3v17h-3zm34 0h4v17h-4zm15 0h1v17h-1zm5 0h3v17h-3zm19 0h3v17h-3zm7 0h4v17h-4zm10 0h2v17h-2zm5 0h2v17h-2zm8 0h4v17h-4zm29 0h2v17h-2zm9 0h1v17h-1zm3 0h2v17h-2zm49 0h5v17h-5zm70 0h1v17h-1zm7 0h1v17h-1zm7 0h9v17h-9zm41 0h5v17h-5zm36 0h3v17h-3zm11 0h12v17h-12zm15 0h2v17h-2zm5 0h4v17h-4zm10 0h2v17h-2zm6 0h4v17h-4zm6 0h2v17h-2zm4 0h11v17h-11zm25 0h1v17h-1zm28 0h5v17h-5zm13 0h1v17h-1zm3 0h1v17h-1zm52 0h1v17h-1zm27 0h4v17h-4zm12 0h3v17h-3zm6 0h6v17h-6zm8 0h7v17h-7zm9 0h9v17h-9zm65 0h11v17h-11zm18 0h9v17h-9zm10 0h1v17h-1zm3 0h15v17h-15zm22 0h6v17h-6zm10 0h21v17h-21zm26 0h2v17h-2zm11 0h3v17h-3zm10 0h9v17h-9zm14 0h5v17h-5zm7 0h4v17h-4zm7 0h3v17h-3zm8 0h10v17h-10zm13 0h11v17h-11zm16 0h20v17h-20zm35 0h4v17h-4zm56 0h2v17h-2zm90 0h4v17h-4zm17 0h4v17h-4zm14 0h1v17h-1zm10 0h5v17h-5zm16 0h2v17h-2zm6 0h4v17h-4zm15 0h4v17h-4zm7 0h4v17h-4zm7 0h3v17h-3zm41 0h1v17h-1zm7 0h2v17h-2zm3 0h2v17h-2zm8 0h2v17h-2zm62 0h1v17h-1zM85 704h4v17h-4zm14 0h8v17h-8zm10 0h9v17h-9zm10 0h8v17h-8zm9 0h1v17h-1zm3 0h1v17h-1zm4 0h11v17h-11zm13 0h3v17h-3zm21 0h2v17h-2zm11 0h2v17h-2zm4 0h4v17h-4zm9 0h3v17h-3zm6 0h4v17h-4zm31 0h9v17h-9zm10 0h1v17h-1zm9 0h2v17h-2zm5 0h2v17h-2zm6 0h5v17h-5zm13 0h3v17h-3zm6 0h4v17h-4zm8 0h8v17h-8zm12 0h20v17h-20zm22 0h6v17h-6zm25 0h2v17h-2zm42 0h2v17h-2zm38 0h5v17h-5zm39 0h2v17h-2zm6 0h2v17h-2zm6 0h1v17h-1zm62 0h2v17h-2zm6 0h2v17h-2zm7 0h3v17h-3zm8 0h3v17h-3zm5 0h5v17h-5zm6 0h7v17h-7zm18 0h2v17h-2zm7 0h5v17h-5zm10 0h8v17h-8zm12 0h2v17h-2zm7 0h2v17h-2zm7 0h4v17h-4zm7 0h2v17h-2zm8 0h2v17h-2zm20 0h1v17h-1zm3 0h4v17h-4zm15 0h1v17h-1zm5 0h3v17h-3zm10 0h4v17h-4zm9 0h3v17h-3zm7 0h4v17h-4zm61 0h1v17h-1zm24 0h18v17h-18zm73 0h33v17h-33zm48 0h1v17h-1zm9 0h5v17h-5zm10 0h4v17h-4zm13 0h5v17h-5zm43 0h10v17h-10zm13 0h1v17h-1zm6 0h2v17h-2zm5 0h13v17h-13zm16 0h4v17h-4zm8 0h2v17h-2zm27 0h1v17h-1zm22 0h3v17h-3zm62 0h1v17h-1zm12 0h1v17h-1zm4 0h3v17h-3zm6 0h5v17h-5zm14 0h7v17h-7zm8 0h5v17h-5zm7 0h5v17h-5zm6 0h2v17h-2zm4 0h2v17h-2zm4 0h7v17h-7zm9 0h11v17h-11zm17 0h2v17h-2zm3 0h7v17h-7zm12 0h2v17h-2zm44 0h3v17h-3zm5 0h12v17h-12zm20 0h2v17h-2zm5 0h5v17h-5zm7 0h2v17h-2zm28 0h8v17h-8zm10 0h1v17h-1zm3 0h2v17h-2zm5 0h6v17h-6zm9 0h1v17h-1zm16 0h5v17h-5zm32 0h2v17h-2zm5 0h7v17h-7zm9 0h5v17h-5zm13 0h20v17h-20zm32 0h4v17h-4zm136 0h9v17h-9zm22 0h5v17h-5zm27 0h15v17h-15zm18 0h25v17h-25zm30 0h2v17h-2zm5 0h3v17h-3zm27 0h2v17h-2zm14 0h1v17h-1zm7 0h2v17h-2zm15 0h3v17h-3zm8 0h5v17h-5zm20 0h5v17h-5zm18 0h6v17h-6zM80 721h3v17h-3zm9 0h6v17h-6zm7 0h9v17h-9zm32 0h1v17h-1zm31 0h2v17h-2zm9 0h3v17h-3zm14 0h2v17h-2zm6 0h5v17h-5zm31 0h2v17h-2zm11 0h7v17h-7zm10 0h6v17h-6zm11 0h5v17h-5zm9 0h3v17h-3zm4 0h6v17h-6zm15 0h10v17h-10zm12 0h4v17h-4zm5 0h1v17h-1zm3 0h4v17h-4zm6 0h24v17h-24zm28 0h13v17h-13zm15 0h4v17h-4zm37 0h2v17h-2zm3 0h2v17h-2zm15 0h2v17h-2zm10 0h5v17h-5zm8 0h3v17h-3zm5 0h5v17h-5zm6 0h4v17h-4zm45 0h1v17h-1zm62 0h2v17h-2zm14 0h2v17h-2zm7 0h3v17h-3zm5 0h5v17h-5zm6 0h7v17h-7zm10 0h5v17h-5zm15 0h5v17h-5zm22 0h2v17h-2zm18 0h3v17h-3zm15 0h7v17h-7zm14 0h2v17h-2zm3 0h6v17h-6zm17 0h1v17h-1zm5 0h3v17h-3zm10 0h6v17h-6zm9 0h3v17h-3zm7 0h4v17h-4zm23 0h4v17h-4zm38 0h1v17h-1zm3 0h2v17h-2zm42 0h5v17h-5zm7 0h17v17h-17zm45 0h10v17h-10zm19 0h1v17h-1zm13 0h1v17h-1zm7 0h10v17h-10zm11 0h4v17h-4zm7 0h5v17h-5zm10 0h8v17h-8zm13 0h5v17h-5zm43 0h7v17h-7zm8 0h2v17h-2zm5 0h3v17h-3zm6 0h2v17h-2zm7 0h11v17h-11zm14 0h4v17h-4zm8 0h2v17h-2zm27 0h1v17h-1zm4 0h4v17h-4zm13 0h4v17h-4zm5 0h3v17h-3zm28 0h3v17h-3zm12 0h5v17h-5zm22 0h1v17h-1zm12 0h1v17h-1zm4 0h3v17h-3zm6 0h5v17h-5zm14 0h3v17h-3zm8 0h5v17h-5zm7 0h1v17h-1zm3 0h2v17h-2zm16 0h2v17h-2zm4 0h11v17h-11zm65 0h5v17h-5zm7 0h2v17h-2zm11 0h3v17h-3zm9 0h2v17h-2zm4 0h3v17h-3zm5 0h12v17h-12zm37 0h11v17h-11zm13 0h1v17h-1zm3 0h2v17h-2zm5 0h6v17h-6zm9 0h1v17h-1zm16 0h5v17h-5zm7 0h3v17h-3zm9 0h4v17h-4zm6 0h2v17h-2zm15 0h3v17h-3zm22 0h7v17h-7zm17 0h3v17h-3zm15 0h4v17h-4zm47 0h4v17h-4zm39 0h5v17h-5zm7 0h3v17h-3zm7 0h7v17h-7zm43 0h8v17h-8zm14 0h6v17h-6zm12 0h8v17h-8zm9 0h2v17h-2zm7 0h7v17h-7zm14 0h1v17h-1zm4 0h2v17h-2zm14 0h2v17h-2zm3 0h15v17h-15zm18 0h3v17h-3zm23 0h3v17h-3zm8 0h3v17h-3zm7 0h4v17h-4zm10 0h2v17h-2zm15 0h3v17h-3zm8 0h5v17h-5zm40 0h4v17h-4zM182 738h2v17h-2zm64 0h3v17h-3zm5 0h3v17h-3zm5 0h4v17h-4zm31 0h1v17h-1zm4 0h4v17h-4zm81 0h2v17h-2zm41 0h5v17h-5zm64 0h1v17h-1zm68 0h2v17h-2zm178 0h1v17h-1zm118 0h5v17h-5zm327 0h1v17h-1zm161 0h2v17h-2zm12 0h2v17h-2zm57 0h1v17h-1zm16 0h5v17h-5zm26 0h1v17h-1zm303 0h3v17h-3zm27 0h2v17h-2zm14 0h1v17h-1zm41 0h1v17h-1zm9 0h5v17h-5zm16 0h2v17h-2zM80 755h3v17h-3zm5 0h4v17h-4zm5 0h5v17h-5zm9 0h8v17h-8zm16 0h1v17h-1zm4 0h10v17h-10zm12 0h1v17h-1zm5 0h8v17h-8zm10 0h12v17h-12zm13 0h7v17h-7zm9 0h7v17h-7zm14 0h2v17h-2zm28 0h4v17h-4zm8 0h8v17h-8zm12 0h3v17h-3zm10 0h9v17h-9zm16 0h4v17h-4zm20 0h11v17h-11zm12 0h1v17h-1zm7 0h1v17h-1zm4 0h4v17h-4zm9 0h8v17h-8zm11 0h2v17h-2zm3 0h7v17h-7zm9 0h2v17h-2zm17 0h4v17h-4zm48 0h5v17h-5zm17 0h5v17h-5zm40 0h5v17h-5zm12 0h9v17h-9zm12 0h2v17h-2zm3 0h11v17h-11zm15 0h18v17h-18zm23 0h4v17h-4zm12 0h2v17h-2zm3 0h3v17h-3zm6 0h26v17h-26zm31 0h1v17h-1zm6 0h5v17h-5zm15 0h5v17h-5zm10 0h13v17h-13zm17 0h2v17h-2zm5 0h2v17h-2zm4 0h5v17h-5zm9 0h3v17h-3zm13 0h5v17h-5zm16 0h9v17h-9zm35 0h4v17h-4zm16 0h4v17h-4zm7 0h3v17h-3zm16 0h4v17h-4zm29 0h2v17h-2zm73 0h5v17h-5zm10 0h2v17h-2zm7 0h2v17h-2zm12 0h4v17h-4zm23 0h1v17h-1zm14 0h1v17h-1zm6 0h10v17h-10zm11 0h4v17h-4zm25 0h5v17h-5zm10 0h4v17h-4zm9 0h2v17h-2zm25 0h1v17h-1zm4 0h7v17h-7zm8 0h2v17h-2zm5 0h8v17h-8zm33 0h2v17h-2zm4 0h3v17h-3zm22 0h3v17h-3zm25 0h3v17h-3zm28 0h5v17h-5zm7 0h15v17h-15zm27 0h9v17h-9zm10 0h2v17h-2zm68 0h7v17h-7zm12 0h3v17h-3zm4 0h1v17h-1zm2 0h10v17h-10zm52 0h2v17h-2zm22 0h5v17h-5zm15 0h2v17h-2zm7 0h4v17h-4zm6 0h2v17h-2zm9 0h2v17h-2zm5 0h8v17h-8zm11 0h2v17h-2zm10 0h2v17h-2zm44 0h1v17h-1zm7 0h1v17h-1zm11 0h3v17h-3zm7 0h2v17h-2zm82 0h6v17h-6zm12 0h4v17h-4zm7 0h2v17h-2zm8 0h4v17h-4zm8 0h3v17h-3zm11 0h2v17h-2zm65 0h4v17h-4zm12 0h9v17h-9zm14 0h2v17h-2zm4 0h11v17h-11zm14 0h2v17h-2zm13 0h6v17h-6zm35 0h3v17h-3zm27 0h2v17h-2zm55 0h1v17h-1zm9 0h5v17h-5zm30 0h1v17h-1zM83 772h6v17h-6zm13 0h4v17h-4zm12 0h1v17h-1zm4 0h7v17h-7zm12 0h4v17h-4zm5 0h2v17h-2zm10 0h5v17h-5zm7 0h2v17h-2zm5 0h2v17h-2zm7 0h10v17h-10zm13 0h9v17h-9zm11 0h2v17h-2zm28 0h2v17h-2zm11 0h5v17h-5zm12 0h4v17h-4zm13 0h3v17h-3zm5 0h3v17h-3zm9 0h3v17h-3zm27 0h1v17h-1zm4 0h4v17h-4zm14 0h11v17h-11zm14 0h8v17h-8zm16 0h3v17h-3zm17 0h10v17h-10zm12 0h8v17h-8zm49 0h5v17h-5zm132 0h2v17h-2zm20 0h5v17h-5zm31 0h5v17h-5zm18 0h4v17h-4zm6 0h44v17h-44zm45 0h9v17h-9zm11 0h3v17h-3zm9 0h8v17h-8zm9 0h4v17h-4zm10 0h2v17h-2zm9 0h3v17h-3zm7 0h4v17h-4zm23 0h3v17h-3zm19 0h1v17h-1zm16 0h2v17h-2zm4 0h2v17h-2zm40 0h5v17h-5zm7 0h5v17h-5zm12 0h5v17h-5zm33 0h25v17h-25zm33 0h1v17h-1zm6 0h15v17h-15zm23 0h5v17h-5zm7 0h6v17h-6zm11 0h5v17h-5zm50 0h1v17h-1zm14 0h16v17h-16zm19 0h4v17h-4zm6 0h4v17h-4zm33 0h1v17h-1zm18 0h3v17h-3zm6 0h12v17h-12zm13 0h9v17h-9zm10 0h2v17h-2zm36 0h1v17h-1zm9 0h1v17h-1zm27 0h4v17h-4zm13 0h4v17h-4zm9 0h13v17h-13zm24 0h5v17h-5zm6 0h15v17h-15zm17 0h5v17h-5zm11 0h12v17h-12zm17 0h8v17h-8zm10 0h2v17h-2zm9 0h2v17h-2zm5 0h8v17h-8zm13 0h2v17h-2zm4 0h10v17h-10zm15 0h4v17h-4zm6 0h2v17h-2zm9 0h2v17h-2zm16 0h2v17h-2zm54 0h1v17h-1zm7 0h1v17h-1zm8 0h10v17h-10zm12 0h5v17h-5zm10 0h3v17h-3zm8 0h2v17h-2zm7 0h5v17h-5zm31 0h5v17h-5zm13 0h6v17h-6zm11 0h12v17h-12zm16 0h2v17h-2zm3 0h2v17h-2zm32 0h10v17h-10zm14 0h7v17h-7zm16 0h11v17h-11zm15 0h4v17h-4zm32 0h6v17h-6zm13 0h33v17h-33zm37 0h6v17h-6zm7 0h18v17h-18zm21 0h6v17h-6zm7 0h13v17h-13zm14 0h2v17h-2zm17 0h1v17h-1zm7 0h2v17h-2zm5 0h2v17h-2zm4 0h4v17h-4zm14 0h3v17h-3zm5 0h3v17h-3zm7 0h8v17h-8zm13 0h4v17h-4zm11 0h2v17h-2zm8 0h1v17h-1zM80 789h3v17h-3zm8 0h7v17h-7zm20 0h1v17h-1zm4 0h7v17h-7zm12 0h4v17h-4zm5 0h2v17h-2zm3 0h4v17h-4zm7 0h5v17h-5zm12 0h2v17h-2zm7 0h10v17h-10zm13 0h4v17h-4zm11 0h2v17h-2zm28 0h2v17h-2zm11 0h5v17h-5zm9 0h7v17h-7zm11 0h8v17h-8zm10 0h3v17h-3zm36 0h1v17h-1zm4 0h4v17h-4zm21 0h4v17h-4zm14 0h1v17h-1zm9 0h3v17h-3zm6 0h4v17h-4zm49 0h2v17h-2zm6 0h1v17h-1zm17 0h5v17h-5zm89 0h3v17h-3zm10 0h1v17h-1zm27 0h2v17h-2zm57 0h10v17h-10zm15 0h9v17h-9zm12 0h16v17h-16zm17 0h1v17h-1zm3 0h6v17h-6zm8 0h23v17h-23zm30 0h4v17h-4zm19 0h4v17h-4zm16 0h4v17h-4zm8 0h9v17h-9zm13 0h9v17h-9zm16 0h5v17h-5zm9 0h1v17h-1zm29 0h3v17h-3zm13 0h3v17h-3zm6 0h4v17h-4zm9 0h3v17h-3zm15 0h2v17h-2zm40 0h20v17h-20zm33 0h1v17h-1zm16 0h8v17h-8zm13 0h5v17h-5zm7 0h2v17h-2zm11 0h5v17h-5zm39 0h1v17h-1zm25 0h5v17h-5zm13 0h3v17h-3zm12 0h2v17h-2zm33 0h1v17h-1zm21 0h10v17h-10zm16 0h4v17h-4zm7 0h2v17h-2zm39 0h1v17h-1zm9 0h1v17h-1zm15 0h1v17h-1zm9 0h5v17h-5zm7 0h6v17h-6zm8 0h1v17h-1zm3 0h5v17h-5zm7 0h17v17h-17zm26 0h3v17h-3zm26 0h4v17h-4zm6 0h5v17h-5zm8 0h4v17h-4zm9 0h3v17h-3zm12 0h2v17h-2zm22 0h3v17h-3zm15 0h2v17h-2zm11 0h4v17h-4zm13 0h6v17h-6zm14 0h2v17h-2zm54 0h1v17h-1zm7 0h1v17h-1zm8 0h6v17h-6zm10 0h7v17h-7zm12 0h3v17h-3zm8 0h2v17h-2zm7 0h5v17h-5zm30 0h6v17h-6zm30 0h7v17h-7zm11 0h2v17h-2zm3 0h2v17h-2zm4 0h2v17h-2zm4 0h4v17h-4zm8 0h3v17h-3zm14 0h2v17h-2zm5 0h7v17h-7zm11 0h7v17h-7zm63 0h6v17h-6zm13 0h9v17h-9zm37 0h3v17h-3zm4 0h2v17h-2zm11 0h3v17h-3zm5 0h2v17h-2zm11 0h3v17h-3zm4 0h4v17h-4zm7 0h9v17h-9zm24 0h1v17h-1zm14 0h2v17h-2zm27 0h1v17h-1zm9 0h5v17h-5zM119 806h5v17h-5zm17 0h2v17h-2zm8 0h2v17h-2zm86 0h7v17h-7zm10 0h9v17h-9zm14 0h6v17h-6zm9 0h2v17h-2zm7 0h3v17h-3zm17 0h1v17h-1zm4 0h5v17h-5zm8 0h4v17h-4zm6 0h3v17h-3zm6 0h5v17h-5zm8 0h2v17h-2zm3 0h9v17h-9zm26 0h4v17h-4zm12 0h2v17h-2zm66 0h32v17h-32zm39 0h2v17h-2zm8 0h1v17h-1zm39 0h1v17h-1zm27 0h2v17h-2zm57 0h5v17h-5zm55 0h23v17h-23zm30 0h4v17h-4zm5 0h4v17h-4zm8 0h1v17h-1zm22 0h4v17h-4zm8 0h9v17h-9zm13 0h9v17h-9zm11 0h5v17h-5zm10 0h4v17h-4zm5 0h12v17h-12zm15 0h16v17h-16zm44 0h5v17h-5zm12 0h7v17h-7zm17 0h2v17h-2zm3 0h6v17h-6zm11 0h6v17h-6zm41 0h2v17h-2zm11 0h7v17h-7zm32 0h14v17h-14zm19 0h7v17h-7zm25 0h1v17h-1zm4 0h26v17h-26zm28 0h2v17h-2zm6 0h3v17h-3zm6 0h4v17h-4zm6 0h4v17h-4zm33 0h1v17h-1zm21 0h8v17h-8zm10 0h5v17h-5zm6 0h3v17h-3zm5 0h4v17h-4zm26 0h12v17h-12zm13 0h13v17h-13zm26 0h1v17h-1zm51 0h7v17h-7zm12 0h1v17h-1zm4 0h1v17h-1zm7 0h5v17h-5zm38 0h9v17h-9zm11 0h3v17h-3zm7 0h6v17h-6zm10 0h8v17h-8zm10 0h8v17h-8zm12 0h13v17h-13zm20 0h3v17h-3zm6 0h8v17h-8zm10 0h1v17h-1zm3 0h2v17h-2zm5 0h10v17h-10zm16 0h5v17h-5zm7 0h7v17h-7zm9 0h3v17h-3zm5 0h4v17h-4zm7 0h3v17h-3zm8 0h5v17h-5zm10 0h3v17h-3zm27 0h2v17h-2zm15 0h2v17h-2zm3 0h2v17h-2zm6 0h13v17h-13zm14 0h11v17h-11zm13 0h5v17h-5zm6 0h10v17h-10zm11 0h5v17h-5zm10 0h5v17h-5zm7 0h2v17h-2zm4 0h4v17h-4zm12 0h9v17h-9zm10 0h12v17h-12zm16 0h8v17h-8zm10 0h6v17h-6zm11 0h15v17h-15zm92 0h6v17h-6zm7 0h4v17h-4zm8 0h5v17h-5zm7 0h3v17h-3zm6 0h6v17h-6zm7 0h16v17h-16zm31 0h1v17h-1zm7 0h2v17h-2zm5 0h1v17h-1zm6 0h2v17h-2zm7 0h10v17h-10zm13 0h3v17h-3zm4 0h8v17h-8zm15 0h5v17h-5zm18 0h6v17h-6zM181 823h7v17h-7zm18 0h4v17h-4zm66 0h8v17h-8zm22 0h1v17h-1zm4 0h5v17h-5zm64 0h5v17h-5zm116 0h2v17h-2zm41 0h1v17h-1zm27 0h2v17h-2zm112 0h7v17h-7zm14 0h3v17h-3zm14 0h2v17h-2zm14 0h1v17h-1zm5 0h2v17h-2zm30 0h5v17h-5zm9 0h2v17h-2zm16 0h5v17h-5zm17 0h3v17h-3zm8 0h2v17h-2zm6 0h5v17h-5zm7 0h3v17h-3zm13 0h2v17h-2zm10 0h5v17h-5zm44 0h2v17h-2zm36 0h5v17h-5zm34 0h3v17h-3zm17 0h4v17h-4zm14 0h4v17h-4zm9 0h9v17h-9zm25 0h1v17h-1zm4 0h4v17h-4zm8 0h10v17h-10zm26 0h2v17h-2zm6 0h4v17h-4zm35 0h1v17h-1zm4 0h1v17h-1zm13 0h4v17h-4zm8 0h8v17h-8zm16 0h4v17h-4zm5 0h4v17h-4zm39 0h5v17h-5zm11 0h2v17h-2zm4 0h4v17h-4zm7 0h8v17h-8zm13 0h3v17h-3zm5 0h2v17h-2zm18 0h2v17h-2zm80 0h7v17h-7zm9 0h2v17h-2zm12 0h3v17h-3zm25 0h2v17h-2zm6 0h1v17h-1zm15 0h1v17h-1zm9 0h8v17h-8zm10 0h1v17h-1zm3 0h15v17h-15zm19 0h7v17h-7zm9 0h7v17h-7zm21 0h1v17h-1zm7 0h1v17h-1zm8 0h3v17h-3zm45 0h1v17h-1zm2 0h6v17h-6zm7 0h3v17h-3zm7 0h6v17h-6zm36 0h1v17h-1zm18 0h2v17h-2zm28 0h10v17h-10zm19 0h2v17h-2zm5 0h4v17h-4zm68 0h2v17h-2zm60 0h3v17h-3zm13 0h1v17h-1zm7 0h3v17h-3zm35 0h2v17h-2zm8 0h3v17h-3zm28 0h5v17h-5zm25 0h5v17h-5zM89 840h1v17h-1zm20 0h3v17h-3zm10 0h5v17h-5zm9 0h1v17h-1zm8 0h2v17h-2zm35 0h3v17h-3zm11 0h2v17h-2zm11 0h3v17h-3zm6 0h4v17h-4zm27 0h4v17h-4zm7 0h4v17h-4zm21 0h2v17h-2zm11 0h5v17h-5zm18 0h4v17h-4zm5 0h1v17h-1zm7 0h8v17h-8zm60 0h5v17h-5zm41 0h1v17h-1zm22 0h3v17h-3zm53 0h2v17h-2zm41 0h1v17h-1zm27 0h2v17h-2zm112 0h13v17h-13zm17 0h2v17h-2zm8 0h3v17h-3zm5 0h5v17h-5zm9 0h3v17h-3zm4 0h6v17h-6zm15 0h7v17h-7zm11 0h4v17h-4zm38 0h2v17h-2zm3 0h1v17h-1zm2 0h7v17h-7zm10 0h2v17h-2zm5 0h2v17h-2zm4 0h7v17h-7zm19 0h3v17h-3zm5 0h1v17h-1zm4 0h12v17h-12zm55 0h5v17h-5zm29 0h5v17h-5zm6 0h2v17h-2zm6 0h7v17h-7zm11 0h11v17h-11zm32 0h10v17h-10zm48 0h4v17h-4zm40 0h4v17h-4zm8 0h2v17h-2zm27 0h1v17h-1zm4 0h1v17h-1zm63 0h5v17h-5zm58 0h2v17h-2zm18 0h2v17h-2zm64 0h1v17h-1zm16 0h5v17h-5zm9 0h2v17h-2zm12 0h3v17h-3zm7 0h3v17h-3zm18 0h2v17h-2zm7 0h8v17h-8zm15 0h2v17h-2zm13 0h3v17h-3zm8 0h2v17h-2zm5 0h9v17h-9zm16 0h5v17h-5zm7 0h7v17h-7zm9 0h3v17h-3zm5 0h3v17h-3zm8 0h4v17h-4zm6 0h1v17h-1zm8 0h12v17h-12zm16 0h6v17h-6zm52 0h5v17h-5zm7 0h4v17h-4zm7 0h10v17h-10zm15 0h6v17h-6zm11 0h5v17h-5zm7 0h2v17h-2zm28 0h22v17h-22zm24 0h4v17h-4zm26 0h5v17h-5zm49 0h2v17h-2zm53 0h3v17h-3zm13 0h1v17h-1zm7 0h3v17h-3zm4 0h2v17h-2zm3 0h2v17h-2zm11 0h3v17h-3zm17 0h2v17h-2zm36 0h5v17h-5zM136 857h2v17h-2zm46 0h2v17h-2zm51 0h4v17h-4zm18 0h3v17h-3zm36 0h1v17h-1zm4 0h5v17h-5zm36 0h2v17h-2zm21 0h4v17h-4zm7 0h5v17h-5zm9 0h3v17h-3zm10 0h3v17h-3zm97 0h2v17h-2zm41 0h1v17h-1zm139 0h10v17h-10zm13 0h1v17h-1zm4 0h2v17h-2zm13 0h5v17h-5zm9 0h3v17h-3zm4 0h4v17h-4zm15 0h7v17h-7zm11 0h6v17h-6zm8 0h2v17h-2zm3 0h2v17h-2zm6 0h2v17h-2zm21 0h2v17h-2zm3 0h1v17h-1zm7 0h2v17h-2zm10 0h2v17h-2zm4 0h2v17h-2zm7 0h7v17h-7zm12 0h6v17h-6zm13 0h8v17h-8zm51 0h5v17h-5zm29 0h6v17h-6zm8 0h2v17h-2zm6 0h9v17h-9zm15 0h1v17h-1zm5 0h3v17h-3zm8 0h7v17h-7zm13 0h10v17h-10zm64 0h2v17h-2zm32 0h2v17h-2zm31 0h1v17h-1zm81 0h2v17h-2zm77 0h5v17h-5zm82 0h3v17h-3zm7 0h3v17h-3zm18 0h2v17h-2zm4 0h2v17h-2zm9 0h4v17h-4zm8 0h3v17h-3zm9 0h5v17h-5zm10 0h3v17h-3zm14 0h4v17h-4zm8 0h7v17h-7zm9 0h7v17h-7zm68 0h5v17h-5zm10 0h1v17h-1zm26 0h5v17h-5zm7 0h6v17h-6zm7 0h21v17h-21zm26 0h5v17h-5zm7 0h2v17h-2zm28 0h22v17h-22zm24 0h4v17h-4zm57 0h2v17h-2zm10 0h3v17h-3zm8 0h2v17h-2zm77 0h2v17h-2zm3 0h2v17h-2zm28 0h2v17h-2zM89 874h1v18h-1zm55 0h2v18h-2zm89 0h4v18h-4zm32 0h5v18h-5zm57 0h4v18h-4zm33 0h5v18h-5zm9 0h3v18h-3zm107 0h2v18h-2zm41 0h1v18h-1zm149 0h4v18h-4zm7 0h11v18h-11zm13 0h4v18h-4zm5 0h4v18h-4zm14 0h9v18h-9zm12 0h4v18h-4zm8 0h3v18h-3zm38 0h2v18h-2zm3 0h1v18h-1zm7 0h2v18h-2zm5 0h4v18h-4zm7 0h2v18h-2zm9 0h12v18h-12zm17 0h1v18h-1zm4 0h4v18h-4zm55 0h5v18h-5zm9 0h5v18h-5zm10 0h5v18h-5zm10 0h5v18h-5zm30 0h4v18h-4zm86 0h1v18h-1zm3 0h2v18h-2zm63 0h1v18h-1zm63 0h5v18h-5zm21 0h2v18h-2zm9 0h1v18h-1zm3 0h3v18h-3zm7 0h4v18h-4zm5 0h11v18h-11zm50 0h5v18h-5zm61 0h16v18h-16zm18 0h6v18h-6zm10 0h1v18h-1zm18 0h2v18h-2zm4 0h2v18h-2zm3 0h6v18h-6zm8 0h2v18h-2zm23 0h2v18h-2zm5 0h5v18h-5zm8 0h28v18h-28zm29 0h3v18h-3zm5 0h4v18h-4zm7 0h5v18h-5zm57 0h1v18h-1zm3 0h5v18h-5zm9 0h3v18h-3zm12 0h7v18h-7zm9 0h4v18h-4zm7 0h21v18h-21zm22 0h4v18h-4zm7 0h2v18h-2zm82 0h5v18h-5zm31 0h2v18h-2zm10 0h1v18h-1zm58 0h6v18h-6zm9 0h3v18h-3zm7 0h1v18h-1zm4 0h6v18h-6zm38 0h2v18h-2zm36 0h5v18h-5zm7 0h1v18h-1zm2 0h11v18h-11zM89 892h1v17h-1zm39 0h1v17h-1zm54 0h2v17h-2zm51 0h4v17h-4zm8 0h5v17h-5zm24 0h5v17h-5zm31 0h3v17h-3zm12 0h3v17h-3zm23 0h4v17h-4zm7 0h3v17h-3zm7 0h1v17h-1zm7 0h8v17h-8zm12 0h3v17h-3zm16 0h3v17h-3zm30 0h3v17h-3zm8 0h3v17h-3zm6 0h2v17h-2zm8 0h4v17h-4zm22 0h8v17h-8zm19 0h4v17h-4zm39 0h1v17h-1zm67 0h2v17h-2zm37 0h9v17h-9zm16 0h4v17h-4zm8 0h1v17h-1zm7 0h2v17h-2zm7 0h4v17h-4zm14 0h2v17h-2zm6 0h5v17h-5zm26 0h4v17h-4zm9 0h4v17h-4zm14 0h7v17h-7zm8 0h2v17h-2zm6 0h2v17h-2zm11 0h5v17h-5zm22 0h3v17h-3zm8 0h2v17h-2zm4 0h2v17h-2zm9 0h5v17h-5zm10 0h3v17h-3zm5 0h1v17h-1zm4 0h4v17h-4zm55 0h5v17h-5zm9 0h5v17h-5zm15 0h10v17h-10zm11 0h2v17h-2zm7 0h1v17h-1zm17 0h4v17h-4zm30 0h5v17h-5zm43 0h4v17h-4zm26 0h2v17h-2zm18 0h2v17h-2zm98 0h14v17h-14zm18 0h5v17h-5zm11 0h2v17h-2zm16 0h3v17h-3zm13 0h2v17h-2zm18 0h2v17h-2zm32 0h3v17h-3zm4 0h1v17h-1zm6 0h7v17h-7zm16 0h2v17h-2zm7 0h3v17h-3zm12 0h27v17h-27zm76 0h3v17h-3zm8 0h5v17h-5zm10 0h5v17h-5zm6 0h3v17h-3zm6 0h5v17h-5zm7 0h14v17h-14zm15 0h3v17h-3zm9 0h1v17h-1zm4 0h3v17h-3zm5 0h10v17h-10zm16 0h19v17h-19zm26 0h5v17h-5zm10 0h1v17h-1zm6 0h2v17h-2zm49 0h6v17h-6zm41 0h2v17h-2zm14 0h1v17h-1zm41 0h5v17h-5zm31 0h2v17h-2zm18 0h2v17h-2zm50 0h6v17h-6zm9 0h3v17h-3zm11 0h3v17h-3zm10 0h2v17h-2zm14 0h1v17h-1zm7 0h2v17h-2zm6 0h9v17h-9zm32 0h10v17h-10zm17 0h4v17h-4zM80 909h3v17h-3zm16 0h3v17h-3zm32 0h1v17h-1zm105 0h4v17h-4zm8 0h5v17h-5zm13 0h2v17h-2zm11 0h5v17h-5zm24 0h2v17h-2zm14 0h5v17h-5zm9 0h4v17h-4zm7 0h3v17h-3zm7 0h1v17h-1zm5 0h10v17h-10zm14 0h1v17h-1zm10 0h5v17h-5zm9 0h3v17h-3zm16 0h3v17h-3zm5 0h2v17h-2zm86 0h2v17h-2zm41 0h1v17h-1zm21 0h2v17h-2zm68 0h15v17h-15zm17 0h2v17h-2zm46 0h1v17h-1zm3 0h3v17h-3zm7 0h5v17h-5zm26 0h4v17h-4zm9 0h4v17h-4zm14 0h1v17h-1zm25 0h13v17h-13zm15 0h5v17h-5zm7 0h3v17h-3zm14 0h5v17h-5zm38 0h5v17h-5zm36 0h2v17h-2zm6 0h1v17h-1zm7 0h3v17h-3zm18 0h4v17h-4zm18 0h1v17h-1zm17 0h4v17h-4zm30 0h5v17h-5zm69 0h2v17h-2zm11 0h3v17h-3zm105 0h5v17h-5zm10 0h4v17h-4zm7 0h1v17h-1zm3 0h3v17h-3zm9 0h2v17h-2zm4 0h3v17h-3zm7 0h4v17h-4zm5 0h8v17h-8zm13 0h2v17h-2zm18 0h4v17h-4zm36 0h1v17h-1zm22 0h2v17h-2zm6 0h32v17h-32zm34 0h6v17h-6zm7 0h2v17h-2zm3 0h8v17h-8zm10 0h10v17h-10zm12 0h2v17h-2zm7 0h2v17h-2zm16 0h3v17h-3zm8 0h5v17h-5zm8 0h7v17h-7zm28 0h2v17h-2zm12 0h2v17h-2zm10 0h2v17h-2zm4 0h2v17h-2zm8 0h2v17h-2zm5 0h9v17h-9zm11 0h18v17h-18zm28 0h1v17h-1zm26 0h7v17h-7zm11 0h7v17h-7zm19 0h5v17h-5zm6 0h4v17h-4zm6 0h3v17h-3zm5 0h4v17h-4zm12 0h3v17h-3zm11 0h2v17h-2zm3 0h2v17h-2zm11 0h1v17h-1zm21 0h11v17h-11zm20 0h5v17h-5zm9 0h5v17h-5zm6 0h2v17h-2zm7 0h11v17h-11zm19 0h1v17h-1zm23 0h3v17h-3zm5 0h4v17h-4zm11 0h19v17h-19zm22 0h3v17h-3zm6 0h7v17h-7zm11 0h9v17h-9zm12 0h2v17h-2zm5 0h4v17h-4zm8 0h3v17h-3zm6 0h5v17h-5zm7 0h6v17h-6zm27 0h1v17h-1zm4 0h5v17h-5zm12 0h1v17h-1zm9 0h4v17h-4zm8 0h1v17h-1zm6 0h1v17h-1zM80 926h3v17h-3zm9 0h16v17h-16zm39 0h1v17h-1zm30 0h1v17h-1zm13 0h3v17h-3zm28 0h4v17h-4zm34 0h4v17h-4zm6 0h1v17h-1zm2 0h5v17h-5zm8 0h2v17h-2zm47 0h1v17h-1zm7 0h5v17h-5zm9 0h10v17h-10zm14 0h1v17h-1zm26 0h8v17h-8zm12 0h3v17h-3zm21 0h2v17h-2zm25 0h11v17h-11zm14 0h2v17h-2zm8 0h4v17h-4zm39 0h2v17h-2zm64 0h1v17h-1zm66 0h5v17h-5zm10 0h9v17h-9zm14 0h2v17h-2zm7 0h4v17h-4zm9 0h2v17h-2zm6 0h2v17h-2zm17 0h6v17h-6zm12 0h3v17h-3zm24 0h4v17h-4zm9 0h4v17h-4zm14 0h7v17h-7zm25 0h10v17h-10zm27 0h5v17h-5zm7 0h2v17h-2zm7 0h18v17h-18zm21 0h12v17h-12zm55 0h5v17h-5zm9 0h15v17h-15zm20 0h5v17h-5zm13 0h1v17h-1zm17 0h4v17h-4zm83 0h6v17h-6zm16 0h2v17h-2zm49 0h4v17h-4zm8 0h9v17h-9zm14 0h3v17h-3zm50 0h9v17h-9zm12 0h3v17h-3zm9 0h5v17h-5zm7 0h6v17h-6zm7 0h4v17h-4zm5 0h3v17h-3zm8 0h3v17h-3zm5 0h2v17h-2zm20 0h2v17h-2zm30 0h3v17h-3zm4 0h6v17h-6zm11 0h7v17h-7zm11 0h10v17h-10zm19 0h28v17h-28zm53 0h2v17h-2zm7 0h2v17h-2zm10 0h1v17h-1zm17 0h2v17h-2zm33 0h2v17h-2zm12 0h2v17h-2zm6 0h3v17h-3zm4 0h4v17h-4zm14 0h3v17h-3zm12 0h2v17h-2zm4 0h1v17h-1zm6 0h10v17h-10zm20 0h1v17h-1zm99 0h2v17h-2zm101 0h2v17h-2zm43 0h3v17h-3zm7 0h6v17h-6zm12 0h1v17h-1zm8 0h6v17h-6zm10 0h2v17h-2zm14 0h1v17h-1zm7 0h5v17h-5zm6 0h9v17h-9zm12 0h5v17h-5zm13 0h4v17h-4zm7 0h10v17h-10zm14 0h7v17h-7zM96 943h3v17h-3zm62 0h1v17h-1zm41 0h4v17h-4zm97 0h1v17h-1zm12 0h3v17h-3zm23 0h15v17h-15zm24 0h5v17h-5zm9 0h3v17h-3zm21 0h2v17h-2zm68 0h1v17h-1zm18 0h3v17h-3zm41 0h1v17h-1zm59 0h5v17h-5zm30 0h13v17h-13zm15 0h4v17h-4zm31 0h2v17h-2zm17 0h1v17h-1zm3 0h7v17h-7zm49 0h4v17h-4zm8 0h2v17h-2zm4 0h2v17h-2zm11 0h4v17h-4zm9 0h10v17h-10zm36 0h5v17h-5zm80 0h6v17h-6zm10 0h5v17h-5zm10 0h10v17h-10zm23 0h1v17h-1zm63 0h5v17h-5zm18 0h6v17h-6zm35 0h2v17h-2zm121 0h16v17h-16zm21 0h4v17h-4zm7 0h6v17h-6zm7 0h4v17h-4zm8 0h8v17h-8zm30 0h2v17h-2zm30 0h3v17h-3zm4 0h11v17h-11zm13 0h36v17h-36zm38 0h2v17h-2zm4 0h14v17h-14zm18 0h2v17h-2zm28 0h2v17h-2zm10 0h1v17h-1zm17 0h2v17h-2zm33 0h2v17h-2zm12 0h2v17h-2zm6 0h3v17h-3zm16 0h2v17h-2zm5 0h22v17h-22zm29 0h10v17h-10zm11 0h3v17h-3zm30 0h2v17h-2zm24 0h1v17h-1zm22 0h11v17h-11zm16 0h5v17h-5zm6 0h2v17h-2zm7 0h2v17h-2zm45 0h5v17h-5zm9 0h5v17h-5zm6 0h2v17h-2zm6 0h1v17h-1zm6 0h6v17h-6zm9 0h2v17h-2zm5 0h3v17h-3zm8 0h2v17h-2zm5 0h2v17h-2zm7 0h6v17h-6zm12 0h4v17h-4zm7 0h8v17h-8zm12 0h3v17h-3zm5 0h5v17h-5zm8 0h14v17h-14zm21 0h3v17h-3zm5 0h9v17h-9zm13 0h6v17h-6zm11 0h1v17h-1zm4 0h2v17h-2zm22 0h4v17h-4zm7 0h10v17h-10zm17 0h4v17h-4zM158 960h1v17h-1zm41 0h13v17h-13zm15 0h26v17h-26zm27 0h5v17h-5zm8 0h2v17h-2zm30 0h9v17h-9zm10 0h6v17h-6zm7 0h12v17h-12zm15 0h27v17h-27zm30 0h7v17h-7zm159 0h5v17h-5zm12 0h1v17h-1zm2 0h4v17h-4zm16 0h6v17h-6zm9 0h2v17h-2zm6 0h2v17h-2zm8 0h7v17h-7zm10 0h7v17h-7zm16 0h2v17h-2zm10 0h2v17h-2zm5 0h2v17h-2zm31 0h2v17h-2zm7 0h4v17h-4zm15 0h2v17h-2zm23 0h4v17h-4zm46 0h4v17h-4zm8 0h6v17h-6zm13 0h6v17h-6zm21 0h2v17h-2zm4 0h8v17h-8zm11 0h2v17h-2zm5 0h2v17h-2zm4 0h12v17h-12zm24 0h1v17h-1zm8 0h8v17h-8zm156 0h5v17h-5zm18 0h35v17h-35zm43 0h3v17h-3zm12 0h2v17h-2zm4 0h17v17h-17zm19 0h3v17h-3zm6 0h5v17h-5zm8 0h5v17h-5zm13 0h4v17h-4zm51 0h16v17h-16zm21 0h5v17h-5zm7 0h6v17h-6zm7 0h4v17h-4zm13 0h3v17h-3zm5 0h24v17h-24zm72 0h31v17h-31zm33 0h2v17h-2zm4 0h14v17h-14zm18 0h2v17h-2zm21 0h2v17h-2zm50 0h31v17h-31zm34 0h5v17h-5zm7 0h42v17h-42zm44 0h13v17h-13zm65 0h1v17h-1zm46 0h3v17h-3zm5 0h23v17h-23zm45 0h41v17h-41zm42 0h2v17h-2zm7 0h2v17h-2zm5 0h2v17h-2zm7 0h12v17h-12zm16 0h42v17h-42zm48 0h1v17h-1zm11 0h8v17h-8zm11 0h51v17h-51zm53 0h24v17h-24zM151 977h2v17h-2zm7 0h1v17h-1zm41 0h4v17h-4zm66 0h5v17h-5zm18 0h4v17h-4zm8 0h5v17h-5zm6 0h6v17h-6zm49 0h6v17h-6zm18 0h3v17h-3zm90 0h4v17h-4zm7 0h12v17h-12zm13 0h3v17h-3zm58 0h1v17h-1zm39 0h5v17h-5zm76 0h2v17h-2zm7 0h4v17h-4zm7 0h13v17h-13zm33 0h1v17h-1zm6 0h13v17h-13zm16 0h7v17h-7zm8 0h6v17h-6zm15 0h4v17h-4zm9 0h5v17h-5zm12 0h1v17h-1zm10 0h3v17h-3zm31 0h6v17h-6zm64 0h5v17h-5zm24 0h4v17h-4zm108 0h4v17h-4zm48 0h2v17h-2zm117 0h3v17h-3zm11 0h11v17h-11zm14 0h8v17h-8zm30 0h2v17h-2zm13 0h4v17h-4zm19 0h1v17h-1zm20 0h6v17h-6zm10 0h30v17h-30zm32 0h2v17h-2zm5 0h7v17h-7zm10 0h3v17h-3zm5 0h5v17h-5zm10 0h2v17h-2zm4 0h2v17h-2zm17 0h1v17h-1zm72 0h2v17h-2zm12 0h2v17h-2zm5 0h9v17h-9zm11 0h16v17h-16zm18 0h10v17h-10zm11 0h2v17h-2zm30 0h2v17h-2zm24 0h1v17h-1zm67 0h1v17h-1zm70 0h1v17h-1zm8 0h12v17h-12zm14 0h1v17h-1zm14 0h6v17h-6zm11 0h4v17h-4zm7 0h17v17h-17zm20 0h1v17h-1zm4 0h6v17h-6zm49 0h5v17h-5zm8 0h9v17h-9zm12 0h10v17h-10zm13 0h8v17h-8zm12 0h11v17h-11zM158 994h1v17h-1zm41 0h4v17h-4zm22 0h5v17h-5zm28 0h2v17h-2zm16 0h5v17h-5zm14 0h8v17h-8zm10 0h2v17h-2zm7 0h1v17h-1zm3 0h9v17h-9zm17 0h3v17h-3zm10 0h3v17h-3zm20 0h2v17h-2zm6 0h12v17h-12zm15 0h7v17h-7zm86 0h5v17h-5zm8 0h6v17h-6zm12 0h4v17h-4zm39 0h1v17h-1zm21 0h2v17h-2zm92 0h7v17h-7zm16 0h2v17h-2zm6 0h2v17h-2zm46 0h1v17h-1zm11 0h9v17h-9zm20 0h6v17h-6zm13 0h2v17h-2zm11 0h5v17h-5zm10 0h3v17h-3zm4 0h6v17h-6zm13 0h3v17h-3zm5 0h4v17h-4zm14 0h7v17h-7zm10 0h6v17h-6zm10 0h8v17h-8zm37 0h2v17h-2zm14 0h5v17h-5zm24 0h4v17h-4zm60 0h5v17h-5zm58 0h3v17h-3zm24 0h3v17h-3zm6 0h4v17h-4zm6 0h2v17h-2zm18 0h3v17h-3zm83 0h9v17h-9zm15 0h1v17h-1zm3 0h3v17h-3zm8 0h2v17h-2zm8 0h1v17h-1zm6 0h3v17h-3zm13 0h2v17h-2zm20 0h2v17h-2zm32 0h1v17h-1zm8 0h5v17h-5zm16 0h14v17h-14zm19 0h10v17h-10zm12 0h5v17h-5zm15 0h1v17h-1zm5 0h2v17h-2zm7 0h1v17h-1zm10 0h2v17h-2zm4 0h2v17h-2zm50 0h3v17h-3zm19 0h7v17h-7zm9 0h3v17h-3zm7 0h3v17h-3zm6 0h4v17h-4zm5 0h7v17h-7zm10 0h9v17h-9zm11 0h11v17h-11zm16 0h2v17h-2zm7 0h8v17h-8zm36 0h2v17h-2zm24 0h1v17h-1zm6 0h1v17h-1zm12 0h2v17h-2zm37 0h10v17h-10zm12 0h1v17h-1zm46 0h4v17h-4zm24 0h1v17h-1zm8 0h2v17h-2zm12 0h2v17h-2zm3 0h9v17h-9zm19 0h5v17h-5zm9 0h3v17h-3zm5 0h15v17h-15zm22 0h6v17h-6zm10 0h2v17h-2zm11 0h3v17h-3zm12 0h5v17h-5zm7 0h4v17h-4zm6 0h16v17h-16zm19 0h4v17h-4zm9 0h5v17h-5zm8 0h4v17h-4zm8 0h2v17h-2zm4 0h5v17h-5zm10 0h1v17h-1zM80 1011h3v17h-3zm25 0h2v17h-2zm27 0h3v17h-3zm37 0h2v17h-2zm70 0h1v17h-1zm10 0h2v17h-2zm5 0h2v17h-2zm11 0h5v17h-5zm14 0h8v17h-8zm10 0h2v17h-2zm7 0h1v17h-1zm3 0h4v17h-4zm6 0h3v17h-3zm11 0h3v17h-3zm10 0h1v17h-1zm22 0h4v17h-4zm12 0h2v17h-2zm7 0h5v17h-5zm18 0h2v17h-2zm68 0h1v17h-1zm18 0h2v17h-2zm3 0h3v17h-3zm14 0h3v17h-3zm10 0h2v17h-2zm14 0h1v17h-1zm10 0h4v17h-4zm103 0h2v17h-2zm68 0h1v17h-1zm33 0h2v17h-2zm27 0h8v17h-8zm9 0h20v17h-20zm22 0h5v17h-5zm12 0h5v17h-5zm10 0h1v17h-1zm4 0h12v17h-12zm41 0h2v17h-2zm13 0h6v17h-6zm35 0h1v17h-1zm24 0h1v17h-1zm26 0h14v17h-14zm19 0h7v17h-7zm9 0h5v17h-5zm7 0h9v17h-9zm10 0h3v17h-3zm33 0h7v17h-7zm10 0h4v17h-4zm10 0h3v17h-3zm58 0h2v17h-2zm60 0h3v17h-3zm7 0h3v17h-3zm4 0h2v17h-2zm41 0h2v17h-2zm32 0h1v17h-1zm8 0h5v17h-5zm12 0h33v17h-33zm35 0h5v17h-5zm9 0h3v17h-3zm11 0h8v17h-8zm17 0h2v17h-2zm4 0h2v17h-2zm3 0h6v17h-6zm14 0h1v17h-1zm33 0h3v17h-3zm10 0h5v17h-5zm9 0h12v17h-12zm16 0h3v17h-3zm6 0h4v17h-4zm5 0h7v17h-7zm13 0h6v17h-6zm8 0h11v17h-11zm16 0h7v17h-7zm13 0h2v17h-2zm5 0h2v17h-2zm6 0h3v17h-3zm14 0h7v17h-7zm11 0h7v17h-7zm8 0h11v17h-11zm17 0h7v17h-7zm15 0h8v17h-8zm11 0h16v17h-16zm20 0h21v17h-21zm70 0h14v17h-14zm15 0h7v17h-7zm35 0h7v17h-7zm11 0h4v17h-4zm7 0h10v17h-10zm13 0h3v17h-3zm4 0h3v17h-3zm4 0h6v17h-6zm9 0h1v17h-1zm11 0h1v17h-1zm7 0h7v17h-7zm9 0h1v17h-1zm4 0h1v17h-1zm3 0h17v17h-17zm26 0h3v17h-3zm8 0h5v17h-5zm8 0h4v17h-4zm8 0h2v17h-2zm8 0h1v17h-1zm6 0h1v17h-1zM105 1028h2v17h-2zm27 0h3v17h-3zm26 0h1v17h-1zm24 0h2v17h-2zm14 0h7v17h-7zm43 0h1v17h-1zm10 0h2v17h-2zm5 0h6v17h-6zm29 0h4v17h-4zm6 0h6v17h-6zm7 0h1v17h-1zm3 0h6v17h-6zm17 0h6v17h-6zm10 0h7v17h-7zm19 0h7v17h-7zm15 0h2v17h-2zm4 0h3v17h-3zm8 0h2v17h-2zm5 0h3v17h-3zm10 0h1v17h-1zm3 0h2v17h-2zm63 0h1v17h-1zm21 0h3v17h-3zm14 0h3v17h-3zm24 0h1v17h-1zm6 0h8v17h-8zm107 0h2v17h-2zm68 0h1v17h-1zm16 0h3v17h-3zm7 0h4v17h-4zm8 0h2v17h-2zm44 0h16v17h-16zm33 0h13v17h-13zm18 0h3v17h-3zm32 0h2v17h-2zm7 0h2v17h-2zm6 0h6v17h-6zm35 0h1v17h-1zm24 0h1v17h-1zm47 0h5v17h-5zm7 0h5v17h-5zm11 0h5v17h-5zm6 0h11v17h-11zm13 0h4v17h-4zm6 0h2v17h-2zm3 0h2v17h-2zm5 0h2v17h-2zm6 0h7v17h-7zm10 0h4v17h-4zm10 0h3v17h-3zm65 0h1v17h-1zm22 0h3v17h-3zm15 0h4v17h-4zm16 0h1v17h-1zm7 0h3v17h-3zm6 0h5v17h-5zm21 0h1v17h-1zm13 0h1v17h-1zm5 0h2v17h-2zm32 0h1v17h-1zm8 0h5v17h-5zm18 0h4v17h-4zm12 0h5v17h-5zm8 0h7v17h-7zm9 0h7v17h-7zm9 0h7v17h-7zm11 0h2v17h-2zm5 0h3v17h-3zm66 0h3v17h-3zm10 0h5v17h-5zm15 0h1v17h-1zm3 0h3v17h-3zm7 0h3v17h-3zm4 0h2v17h-2zm4 0h2v17h-2zm20 0h2v17h-2zm4 0h11v17h-11zm18 0h13v17h-13zm65 0h1v17h-1zm6 0h7v17h-7zm10 0h4v17h-4zm14 0h3v17h-3zm66 0h9v17h-9zm10 0h5v17h-5zm11 0h1v17h-1zm6 0h6v17h-6zm9 0h2v17h-2zm15 0h5v17h-5zm10 0h2v17h-2zm6 0h6v17h-6zm10 0h3v17h-3zm7 0h11v17h-11zm13 0h2v17h-2zm28 0h1v17h-1zm11 0h1v17h-1zm7 0h1v17h-1zm4 0h5v17h-5zm8 0h8v17h-8zm21 0h2v17h-2zm22 0h11v17h-11zm19 0h1v17h-1zm6 0h1v17h-1zM295 1045h1v17h-1zm2 0h2v17h-2zm30 0h2v17h-2zm21 0h4v17h-4zm16 0h3v17h-3zm26 0h2v17h-2zm303 0h1v17h-1zm11 0h9v17h-9zm16 0h3v17h-3zm4 0h2v17h-2zm56 0h21v17h-21zm24 0h3v17h-3zm10 0h5v17h-5zm50 0h1v17h-1zm35 0h1v17h-1zm50 0h5v17h-5zm28 0h5v17h-5zm7 0h9v17h-9zm10 0h3v17h-3zm51 0h2v17h-2zm67 0h1v17h-1zm44 0h3v17h-3zm4 0h2v17h-2zm9 0h26v17h-26zm80 0h1v17h-1zm20 0h33v17h-33zm35 0h7v17h-7zm9 0h3v17h-3zm6 0h1v17h-1zm7 0h10v17h-10zm15 0h2v17h-2zm30 0h5v17h-5zm8 0h2v17h-2zm3 0h9v17h-9zm13 0h3v17h-3zm51 0h5v17h-5zm12 0h2v17h-2zm4 0h11v17h-11zm18 0h14v17h-14zm15 0h6v17h-6zm7 0h7v17h-7zm19 0h2v17h-2zm6 0h2v17h-2zm13 0h6v17h-6zm11 0h8v17h-8zm10 0h4v17h-4zm10 0h7v17h-7zm8 0h9v17h-9zm12 0h3v17h-3zm7 0h12v17h-12zm14 0h3v17h-3zm34 0h2v17h-2zm5 0h5v17h-5zm11 0h1v17h-1zm10 0h2v17h-2zm5 0h6v17h-6zm13 0h7v17h-7zm12 0h2v17h-2zm3 0h5v17h-5zm24 0h4v17h-4zm11 0h12v17h-12zm13 0h10v17h-10zm13 0h3v17h-3zm15 0h3v17h-3zm7 0h3v17h-3zm5 0h5v17h-5zm7 0h2v17h-2zm4 0h10v17h-10zm15 0h3v17h-3zm6 0h4v17h-4zm9 0h12v17h-12zm16 0h2v17h-2zm8 0h1v17h-1zm6 0h1v17h-1zM105 1062h2v17h-2zm53 0h1v17h-1zm11 0h2v17h-2zm38 0h3v17h-3zm14 0h5v17h-5zm28 0h2v17h-2zm39 0h1v17h-1zm7 0h1v17h-1zm32 0h2v17h-2zm21 0h4v17h-4zm29 0h3v17h-3zm10 0h1v17h-1zm14 0h2v17h-2zm99 0h2v17h-2zm12 0h1v17h-1zm10 0h4v17h-4zm103 0h2v17h-2zm42 0h1v17h-1zm19 0h4v17h-4zm7 0h1v17h-1zm11 0h9v17h-9zm57 0h1v17h-1zm7 0h7v17h-7zm14 0h19v17h-19zm22 0h2v17h-2zm10 0h5v17h-5zm50 0h1v17h-1zm35 0h1v17h-1zm50 0h5v17h-5zm41 0h3v17h-3zm55 0h2v17h-2zm60 0h2v17h-2zm7 0h1v17h-1zm10 0h3v17h-3zm10 0h12v17h-12zm24 0h3v17h-3zm4 0h2v17h-2zm8 0h2v17h-2zm4 0h23v17h-23zm54 0h2v17h-2zm4 0h16v17h-16zm19 0h1v17h-1zm8 0h5v17h-5zm12 0h4v17h-4zm26 0h5v17h-5zm9 0h7v17h-7zm12 0h4v17h-4zm8 0h2v17h-2zm8 0h1v17h-1zm9 0h2v17h-2zm4 0h2v17h-2zm3 0h8v17h-8zm14 0h1v17h-1zm6 0h11v17h-11zm13 0h3v17h-3zm5 0h3v17h-3zm5 0h7v17h-7zm60 0h3v17h-3zm19 0h3v17h-3zm10 0h14v17h-14zm16 0h5v17h-5zm6 0h3v17h-3zm14 0h11v17h-11zm13 0h5v17h-5zm6 0h5v17h-5zm16 0h8v17h-8zm10 0h4v17h-4zm14 0h3v17h-3zm11 0h2v17h-2zm60 0h2v17h-2zm4 0h5v17h-5zm6 0h2v17h-2zm6 0h6v17h-6zm10 0h2v17h-2zm5 0h8v17h-8zm13 0h5v17h-5zm12 0h12v17h-12zm23 0h11v17h-11zm15 0h6v17h-6zm9 0h3v17h-3zm7 0h10v17h-10zm14 0h2v17h-2zm44 0h8v17h-8zm11 0h4v17h-4zm9 0h5v17h-5zm7 0h23v17h-23zM105 1079h2v17h-2zm183 0h1v17h-1zm99 0h1v17h-1zm14 0h2v17h-2zm498 0h1v17h-1zm91 0h3v17h-3zm7 0h4v17h-4zm48 0h2v17h-2zm167 0h1v17h-1zm164 0h15v17h-15zm22 0h14v17h-14zm16 0h5v17h-5zm7 0h19v17h-19zm20 0h5v17h-5zm7 0h3v17h-3zm6 0h4v17h-4zm6 0h4v17h-4zm5 0h5v17h-5zm28 0h1v17h-1zm2 0h3v17h-3zm6 0h4v17h-4zm8 0h6v17h-6zm18 0h2v17h-2zm13 0h5v17h-5zm46 0h2v17h-2zm46 0h4v17h-4zm8 0h8v17h-8zm10 0h1v17h-1zm6 0h12v17h-12zm111 0h2v17h-2zm3 0h4v17h-4zm7 0h1v17h-1zm4 0h3v17h-3zm15 0h1v17h-1zm2 0h2v17h-2zm4 0h2v17h-2zm4 0h3v17h-3zm13 0h6v17h-6zm10 0h10v17h-10zM80 1096h3v17h-3zm25 0h2v17h-2zm13 0h1v17h-1zm40 0h1v17h-1zm11 0h2v17h-2zm27 0h3v17h-3zm92 0h1v17h-1zm3 0h5v17h-5zm6 0h2v17h-2zm51 0h4v17h-4zm39 0h1v17h-1zm3 0h2v17h-2zm28 0h3v17h-3zm44 0h2v17h-2zm11 0h1v17h-1zm9 0h6v17h-6zm26 0h4v17h-4zm10 0h8v17h-8zm109 0h5v17h-5zm54 0h4v17h-4zm23 0h2v17h-2zm5 0h3v17h-3zm39 0h5v17h-5zm12 0h2v17h-2zm8 0h9v17h-9zm12 0h16v17h-16zm24 0h2v17h-2zm18 0h12v17h-12zm19 0h6v17h-6zm23 0h1v17h-1zm35 0h1v17h-1zm24 0h1v17h-1zm74 0h4v17h-4zm30 0h4v17h-4zm6 0h1v17h-1zm12 0h2v17h-2zm60 0h2v17h-2zm7 0h1v17h-1zm8 0h2v17h-2zm3 0h2v17h-2zm37 0h2v17h-2zm9 0h1v17h-1zm3 0h3v17h-3zm4 0h2v17h-2zm3 0h4v17h-4zm13 0h3v17h-3zm20 0h1v17h-1zm61 0h10v17h-10zm14 0h13v17h-13zm17 0h2v17h-2zm5 0h2v17h-2zm4 0h7v17h-7zm9 0h4v17h-4zm7 0h4v17h-4zm12 0h6v17h-6zm7 0h10v17h-10zm14 0h14v17h-14zm19 0h3v17h-3zm11 0h3v17h-3zm20 0h2v17h-2zm7 0h2v17h-2zm7 0h4v17h-4zm10 0h2v17h-2zm15 0h3v17h-3zm7 0h12v17h-12zm15 0h5v17h-5zm7 0h10v17h-10zm11 0h3v17h-3zm4 0h3v17h-3zm6 0h14v17h-14zm15 0h5v17h-5zm13 0h16v17h-16zm22 0h8v17h-8zm16 0h11v17h-11zm12 0h4v17h-4zm6 0h1v17h-1zm4 0h2v17h-2zm12 0h4v17h-4zm40 0h14v17h-14zm21 0h1v17h-1zm6 0h9v17h-9zm13 0h4v17h-4zm9 0h5v17h-5zm12 0h16v17h-16zm38 0h9v17h-9zm13 0h4v17h-4zm7 0h6v17h-6zm7 0h2v17h-2zm3 0h2v17h-2zm11 0h3v17h-3zm12 0h3v17h-3zm4 0h5v17h-5zm7 0h15v17h-15zm22 0h3v17h-3zm8 0h5v17h-5zm8 0h8v17h-8zm10 0h7v17h-7zm12 0h1v17h-1zM80 1113h3v17h-3zm15 0h10v17h-10zm13 0h1v17h-1zm4 0h6v17h-6zm7 0h8v17h-8zm10 0h2v17h-2zm3 0h4v17h-4zm7 0h14v17h-14zm19 0h23v17h-23zm24 0h2v17h-2zm11 0h3v17h-3zm14 0h3v17h-3zm11 0h1v17h-1zm61 0h9v17h-9zm10 0h2v17h-2zm10 0h9v17h-9zm12 0h1v17h-1zm15 0h1v17h-1zm51 0h3v17h-3zm6 0h2v17h-2zm4 0h1v17h-1zm3 0h7v17h-7zm11 0h2v17h-2zm4 0h2v17h-2zm16 0h5v17h-5zm66 0h5v17h-5zm6 0h2v17h-2zm9 0h3v17h-3zm11 0h9v17h-9zm112 0h15v17h-15zm16 0h10v17h-10zm33 0h35v17h-35zm38 0h1v17h-1zm4 0h4v17h-4zm7 0h1v17h-1zm39 0h1v17h-1zm13 0h2v17h-2zm7 0h19v17h-19zm22 0h2v17h-2zm3 0h3v17h-3zm15 0h29v17h-29zm31 0h3v17h-3zm5 0h6v17h-6zm7 0h9v17h-9zm34 0h1v17h-1zm50 0h5v17h-5zm84 0h1v17h-1zm12 0h2v17h-2zm10 0h3v17h-3zm18 0h3v17h-3zm21 0h3v17h-3zm63 0h2v17h-2zm3 0h2v17h-2zm52 0h1v17h-1zm29 0h2v17h-2zm16 0h5v17h-5zm38 0h5v17h-5zm9 0h2v17h-2zm5 0h2v17h-2zm4 0h6v17h-6zm9 0h4v17h-4zm7 0h4v17h-4zm12 0h2v17h-2zm4 0h2v17h-2zm3 0h8v17h-8zm17 0h3v17h-3zm6 0h5v17h-5zm8 0h5v17h-5zm7 0h3v17h-3zm5 0h7v17h-7zm57 0h3v17h-3zm6 0h4v17h-4zm6 0h2v17h-2zm5 0h5v17h-5zm15 0h10v17h-10zm15 0h1v17h-1zm28 0h6v17h-6zm17 0h5v17h-5zm46 0h2v17h-2zm5 0h3v17h-3zm5 0h23v17h-23zm45 0h14v17h-14zm21 0h1v17h-1zm15 0h2v17h-2zm28 0h3v17h-3zm9 0h4v17h-4zm29 0h3v17h-3zm14 0h3v17h-3zm57 0h3v17h-3zm5 0h20v17h-20zm22 0h1v17h-1zm11 0h2v17h-2zM80 1130h3v17h-3zm5 0h3v17h-3zm10 0h10v17h-10zm13 0h1v17h-1zm4 0h4v17h-4zm7 0h8v17h-8zm9 0h7v17h-7zm8 0h2v17h-2zm8 0h7v17h-7zm14 0h8v17h-8zm10 0h7v17h-7zm28 0h3v17h-3zm11 0h3v17h-3zm23 0h7v17h-7zm9 0h7v17h-7zm12 0h9v17h-9zm12 0h1v17h-1zm13 0h3v17h-3zm12 0h7v17h-7zm9 0h2v17h-2zm6 0h5v17h-5zm8 0h1v17h-1zm8 0h7v17h-7zm29 0h4v17h-4zm42 0h2v17h-2zm6 0h1v17h-1zm22 0h3v17h-3zm6 0h2v17h-2zm38 0h2v17h-2zm25 0h1v17h-1zm35 0h4v17h-4zm64 0h3v17h-3zm41 0h5v17h-5zm14 0h2v17h-2zm17 0h3v17h-3zm9 0h7v17h-7zm33 0h9v17h-9zm12 0h12v17h-12zm36 0h14v17h-14zm15 0h12v17h-12zm19 0h12v17h-12zm14 0h5v17h-5zm26 0h5v17h-5zm42 0h1v17h-1zm10 0h25v17h-25zm75 0h5v17h-5zm48 0h4v17h-4zm13 0h1v17h-1zm3 0h3v17h-3zm10 0h2v17h-2zm4 0h6v17h-6zm7 0h13v17h-13zm21 0h3v17h-3zm30 0h4v17h-4zm38 0h2v17h-2zm16 0h5v17h-5zm30 0h1v17h-1zm4 0h2v17h-2zm6 0h4v17h-4zm8 0h12v17h-12zm13 0h13v17h-13zm15 0h4v17h-4zm15 0h4v17h-4zm9 0h2v17h-2zm4 0h3v17h-3zm9 0h10v17h-10zm21 0h10v17h-10zm14 0h8v17h-8zm17 0h2v17h-2zm5 0h7v17h-7zm10 0h1v17h-1zm29 0h8v17h-8zm15 0h2v17h-2zm8 0h8v17h-8zm10 0h3v17h-3zm5 0h5v17h-5zm9 0h3v17h-3zm25 0h1v17h-1zm3 0h1v17h-1zm6 0h4v17h-4zm7 0h2v17h-2zm5 0h5v17h-5zm10 0h14v17h-14zm19 0h20v17h-20zm21 0h2v17h-2zm4 0h1v17h-1zm91 0h2v17h-2zm8 0h4v17h-4zm19 0h2v17h-2zm6 0h13v17h-13zm17 0h4v17h-4zm5 0h14v17h-14zm15 0h12v17h-12zm62 0h6v17h-6zm11 0h4v17h-4zm7 0h7v17h-7zm13 0h3v17h-3zm4 0h3v17h-3zm7 0h3v17h-3zm12 0h6v17h-6zm9 0h3v17h-3zm17 0h2v17h-2zm16 0h8v17h-8zm11 0h1v17h-1zm16 0h17v17h-17zm18 0h5v17h-5zM95 1147h10v18h-10zm101 0h3v18h-3zm11 0h3v18h-3zm5 0h2v18h-2zm6 0h3v18h-3zm8 0h7v18h-7zm14 0h11v18h-11zm14 0h9v18h-9zm10 0h15v18h-15zm24 0h3v18h-3zm7 0h4v18h-4zm10 0h3v18h-3zm17 0h4v18h-4zm26 0h4v18h-4zm29 0h3v18h-3zm6 0h5v18h-5zm7 0h2v18h-2zm4 0h2v18h-2zm3 0h4v18h-4zm8 0h2v18h-2zm16 0h5v18h-5zm56 0h5v18h-5zm10 0h6v18h-6zm8 0h3v18h-3zm5 0h2v18h-2zm22 0h8v18h-8zm10 0h1v18h-1zm3 0h1v18h-1zm4 0h21v18h-21zm24 0h7v18h-7zm8 0h15v18h-15zm20 0h10v18h-10zm20 0h5v18h-5zm9 0h3v18h-3zm5 0h7v18h-7zm11 0h4v18h-4zm5 0h10v18h-10zm26 0h1v18h-1zm39 0h3v18h-3zm42 0h10v18h-10zm12 0h15v18h-15zm22 0h2v18h-2zm7 0h5v18h-5zm33 0h5v18h-5zm25 0h6v18h-6zm7 0h6v18h-6zm11 0h9v18h-9zm58 0h1v18h-1zm18 0h2v18h-2zm8 0h5v18h-5zm19 0h2v18h-2zm9 0h5v18h-5zm56 0h1v18h-1zm4 0h4v18h-4zm18 0h3v18h-3zm39 0h3v18h-3zm11 0h2v18h-2zm7 0h1v18h-1zm8 0h5v18h-5zm33 0h3v18h-3zm4 0h8v18h-8zm11 0h2v18h-2zm44 0h1v18h-1zm29 0h2v18h-2zm46 0h8v18h-8zm29 0h3v18h-3zm6 0h4v18h-4zm7 0h2v18h-2zm3 0h1v18h-1zm9 0h4v18h-4zm13 0h2v18h-2zm9 0h2v18h-2zm18 0h1v18h-1zm3 0h2v18h-2zm5 0h2v18h-2zm30 0h27v18h-27zm29 0h3v18h-3zm12 0h4v18h-4zm10 0h8v18h-8zm53 0h6v18h-6zm17 0h5v18h-5zm27 0h22v18h-22zm24 0h28v18h-28zm41 0h4v18h-4zm63 0h2v18h-2zm7 0h12v18h-12zm16 0h3v18h-3zm15 0h10v18h-10zm13 0h3v18h-3zm7 0h4v18h-4zm7 0h3v18h-3zm7 0h2v18h-2zm10 0h1v18h-1zm19 0h1v18h-1zm63 0h5v18h-5zM95 1165h1v17h-1zm12 0h1v17h-1zm41 0h3v17h-3zm11 0h2v17h-2zm37 0h3v17h-3zm11 0h3v17h-3zm11 0h1v17h-1zm15 0h4v17h-4zm46 0h8v17h-8zm9 0h8v17h-8zm11 0h4v17h-4zm42 0h4v17h-4zm7 0h4v17h-4zm48 0h1v17h-1zm22 0h6v17h-6zm59 0h3v17h-3zm5 0h5v17h-5zm9 0h9v17h-9zm31 0h8v17h-8zm10 0h3v17h-3zm4 0h9v17h-9zm34 0h1v17h-1zm66 0h3v17h-3zm31 0h1v17h-1zm14 0h4v17h-4zm13 0h1v17h-1zm12 0h3v17h-3zm6 0h4v17h-4zm70 0h2v17h-2zm7 0h5v17h-5zm7 0h5v17h-5zm8 0h2v17h-2zm23 0h7v17h-7zm9 0h10v17h-10zm17 0h1v17h-1zm40 0h1v17h-1zm6 0h5v17h-5zm7 0h2v17h-2zm16 0h2v17h-2zm21 0h6v17h-6zm25 0h2v17h-2zm9 0h5v17h-5zm7 0h4v17h-4zm17 0h3v17h-3zm9 0h6v17h-6zm23 0h1v17h-1zm4 0h4v17h-4zm18 0h3v17h-3zm30 0h4v17h-4zm20 0h2v17h-2zm7 0h1v17h-1zm4 0h1v17h-1zm4 0h2v17h-2zm3 0h2v17h-2zm34 0h2v17h-2zm12 0h1v17h-1zm3 0h3v17h-3zm40 0h1v17h-1zm29 0h2v17h-2zm34 0h4v17h-4zm12 0h5v17h-5zm26 0h3v17h-3zm10 0h1v17h-1zm3 0h3v17h-3zm28 0h2v17h-2zm22 0h3v17h-3zm5 0h3v17h-3zm5 0h5v17h-5zm26 0h2v17h-2zm9 0h2v17h-2zm3 0h2v17h-2zm5 0h1v17h-1zm4 0h1v17h-1zm5 0h2v17h-2zm32 0h3v17h-3zm23 0h1v17h-1zm2 0h1v17h-1zm6 0h8v17h-8zm22 0h4v17h-4zm7 0h4v17h-4zm10 0h5v17h-5zm49 0h9v17h-9zm12 0h11v17h-11zm39 0h1v17h-1zm8 0h2v17h-2zm3 0h7v17h-7zm11 0h1v17h-1zm15 0h2v17h-2zm41 0h3v17h-3zm7 0h4v17h-4zm8 0h7v17h-7zm34 0h2v17h-2zm92 0h5v17h-5zM196 1182h3v17h-3zm22 0h1v17h-1zm77 0h1v17h-1zm2 0h2v17h-2zm121 0h3v17h-3zm44 0h2v17h-2zm64 0h4v17h-4zm6 0h3v17h-3zm4 0h3v17h-3zm5 0h4v17h-4zm6 0h5v17h-5zm6 0h2v17h-2zm10 0h2v17h-2zm7 0h8v17h-8zm11 0h8v17h-8zm15 0h5v17h-5zm15 0h3v17h-3zm56 0h1v17h-1zm46 0h3v17h-3zm76 0h2v17h-2zm33 0h5v17h-5zm201 0h2v17h-2zm10 0h1v17h-1zm4 0h4v17h-4zm48 0h4v17h-4zm87 0h1v17h-1zm355 0h2v17h-2zm128 0h1v17h-1zm37 0h3v17h-3zm5 0h5v17h-5zm7 0h1v17h-1zm4 0h2v17h-2zm96 0h2v17h-2zM196 1199h3v17h-3zm101 0h2v17h-2zm121 0h3v17h-3zm193 0h3v17h-3zm25 0h3v17h-3zm31 0h1v17h-1zm46 0h3v17h-3zm76 0h2v17h-2zm33 0h5v17h-5zm14 0h5v17h-5zm17 0h1v17h-1zm170 0h2v17h-2zm10 0h1v17h-1zm4 0h4v17h-4zm18 0h3v17h-3zm30 0h4v17h-4zm20 0h2v17h-2zm15 0h2v17h-2zm3 0h2v17h-2zm172 0h5v17h-5zm18 0h3v17h-3zm111 0h2v17h-2zm103 0h2v17h-2zm128 0h1v17h-1zm24 0h2v17h-2zm73 0h1v17h-1zm90 0h1v17h-1zM80 1216h8v17h-8zm9 0h11v17h-11zm16 0h2v17h-2zm3 0h4v17h-4zm7 0h1v17h-1zm3 0h13v17h-13zm14 0h4v17h-4zm6 0h8v17h-8zm15 0h5v17h-5zm6 0h7v17h-7zm10 0h12v17h-12zm27 0h7v17h-7zm22 0h3v17h-3zm21 0h1v17h-1zm82 0h1v17h-1zm20 0h4v17h-4zm14 0h12v17h-12zm17 0h5v17h-5zm24 0h1v17h-1zm22 0h3v17h-3zm29 0h3v17h-3zm6 0h5v17h-5zm9 0h3v17h-3zm5 0h7v17h-7zm26 0h2v17h-2zm77 0h1v17h-1zm26 0h5v17h-5zm18 0h4v17h-4zm11 0h11v17h-11zm14 0h2v17h-2zm4 0h51v17h-51zm52 0h5v17h-5zm18 0h3v17h-3zm17 0h3v17h-3zm7 0h2v17h-2zm6 0h3v17h-3zm19 0h1v17h-1zm6 0h2v17h-2zm7 0h2v17h-2zm3 0h4v17h-4zm6 0h5v17h-5zm10 0h7v17h-7zm10 0h6v17h-6zm15 0h8v17h-8zm10 0h5v17h-5zm24 0h1v17h-1zm21 0h10v17h-10zm15 0h5v17h-5zm10 0h9v17h-9zm14 0h4v17h-4zm18 0h5v17h-5zm10 0h4v17h-4zm27 0h2v17h-2zm20 0h2v17h-2zm16 0h1v17h-1zm29 0h1v17h-1zm4 0h4v17h-4zm18 0h3v17h-3zm9 0h2v17h-2zm58 0h3v17h-3zm27 0h4v17h-4zm10 0h1v17h-1zm6 0h1v17h-1zm4 0h1v17h-1zm70 0h2v17h-2zm41 0h3v17h-3zm15 0h5v17h-5zm156 0h3v17h-3zm44 0h1v17h-1zm7 0h3v17h-3zm14 0h11v17h-11zm13 0h5v17h-5zm6 0h10v17h-10zm11 0h5v17h-5zm10 0h2v17h-2zm7 0h2v17h-2zm4 0h16v17h-16zm19 0h5v17h-5zm12 0h2v17h-2zm120 0h3v17h-3zm4 0h2v17h-2zm3 0h4v17h-4zm8 0h3v17h-3zm7 0h6v17h-6zm16 0h1v17h-1zm4 0h3v17h-3zm17 0h1v17h-1zm37 0h8v17h-8zm11 0h9v17h-9zm16 0h1v17h-1zm2 0h22v17h-22zM80 1233h5v17h-5zm9 0h10v17h-10zm19 0h4v17h-4zm7 0h1v17h-1zm4 0h8v17h-8zm9 0h1v17h-1zm7 0h1v17h-1zm11 0h2v17h-2zm5 0h2v17h-2zm7 0h8v17h-8zm10 0h12v17h-12zm14 0h2v17h-2zm14 0h3v17h-3zm14 0h4v17h-4zm8 0h8v17h-8zm21 0h1v17h-1zm82 0h1v17h-1zm39 0h12v17h-12zm36 0h1v17h-1zm22 0h3v17h-3zm35 0h5v17h-5zm9 0h3v17h-3zm5 0h7v17h-7zm13 0h2v17h-2zm13 0h2v17h-2zm5 0h2v17h-2zm98 0h5v17h-5zm18 0h4v17h-4zm18 0h8v17h-8zm9 0h17v17h-17zm20 0h3v17h-3zm4 0h5v17h-5zm9 0h5v17h-5zm7 0h5v17h-5zm9 0h5v17h-5zm8 0h2v17h-2zm15 0h3v17h-3zm35 0h5v17h-5zm14 0h1v17h-1zm6 0h9v17h-9zm14 0h2v17h-2zm7 0h5v17h-5zm15 0h2v17h-2zm18 0h12v17h-12zm14 0h10v17h-10zm11 0h4v17h-4zm13 0h5v17h-5zm11 0h13v17h-13zm18 0h5v17h-5zm52 0h4v17h-4zm47 0h2v17h-2zm49 0h4v17h-4zm18 0h3v17h-3zm9 0h2v17h-2zm21 0h4v17h-4zm20 0h2v17h-2zm17 0h3v17h-3zm15 0h2v17h-2zm7 0h12v17h-12zm15 0h9v17h-9zm10 0h1v17h-1zm3 0h1v17h-1zm27 0h1v17h-1zm16 0h4v17h-4zm34 0h1v17h-1zm3 0h10v17h-10zm27 0h4v17h-4zm142 0h2v17h-2zm3 0h2v17h-2zm9 0h1v17h-1zm18 0h3v17h-3zm27 0h2v17h-2zm17 0h1v17h-1zm6 0h1v17h-1zm55 0h2v17h-2zm23 0h4v17h-4zm7 0h2v17h-2zm5 0h7v17h-7zm9 0h10v17h-10zm19 0h2v17h-2zm9 0h8v17h-8zm23 0h4v17h-4zm23 0h9v17h-9zm11 0h10v17h-10zm19 0h1v17h-1zm18 0h2v17h-2zm3 0h4v17h-4zm11 0h2v17h-2zm4 0h12v17h-12zm16 0h1v17h-1zm4 0h6v17h-6zm7 0h2v17h-2zm47 0h25v17h-25zm27 0h1v17h-1zm2 0h11v17h-11zm15 0h6v17h-6zM85 1250h3v17h-3zm5 0h5v17h-5zm9 0h54v17h-54zm60 0h2v17h-2zm7 0h5v17h-5zm16 0h2v17h-2zm14 0h3v17h-3zm14 0h4v17h-4zm8 0h8v17h-8zm21 0h1v17h-1zm15 0h2v17h-2zm6 0h10v17h-10zm13 0h6v17h-6zm65 0h7v17h-7zm26 0h3v17h-3zm16 0h3v17h-3zm10 0h4v17h-4zm6 0h1v17h-1zm7 0h23v17h-23zm29 0h9v17h-9zm12 0h6v17h-6zm9 0h5v17h-5zm9 0h3v17h-3zm5 0h7v17h-7zm10 0h1v17h-1zm2 0h1v17h-1zm3 0h5v17h-5zm10 0h3v17h-3zm10 0h6v17h-6zm10 0h14v17h-14zm20 0h7v17h-7zm9 0h4v17h-4zm6 0h5v17h-5zm49 0h5v17h-5zm15 0h3v17h-3zm5 0h2v17h-2zm9 0h2v17h-2zm7 0h8v17h-8zm11 0h4v17h-4zm6 0h2v17h-2zm126 0h2v17h-2zm29 0h18v17h-18zm25 0h5v17h-5zm18 0h6v17h-6zm7 0h2v17h-2zm6 0h14v17h-14zm19 0h15v17h-15zm44 0h5v17h-5zm8 0h39v17h-39zm51 0h8v17h-8zm11 0h4v17h-4zm8 0h36v17h-36zm40 0h2v17h-2zm4 0h27v17h-27zm28 0h3v17h-3zm7 0h5v17h-5zm14 0h3v17h-3zm28 0h1v17h-1zm15 0h2v17h-2zm7 0h26v17h-26zm35 0h4v17h-4zm16 0h4v17h-4zm5 0h13v17h-13zm15 0h4v17h-4zm13 0h2v17h-2zm6 0h17v17h-17zm18 0h10v17h-10zm12 0h5v17h-5zm31 0h11v17h-11zm16 0h5v17h-5zm8 0h1v17h-1zm3 0h9v17h-9zm10 0h1v17h-1zm9 0h6v17h-6zm13 0h2v17h-2zm8 0h1v17h-1zm36 0h1v17h-1zm14 0h2v17h-2zm21 0h1v17h-1zm5 0h2v17h-2zm13 0h3v17h-3zm9 0h4v17h-4zm10 0h3v17h-3zm20 0h3v17h-3zm31 0h2v17h-2zm19 0h5v17h-5zm16 0h2v17h-2zm15 0h7v17h-7zm8 0h4v17h-4zm6 0h6v17h-6zm66 0h4v17h-4zm17 0h4v17h-4zm6 0h3v17h-3zm5 0h3v17h-3zm6 0h7v17h-7zm19 0h1v17h-1zm4 0h2v17h-2zm41 0h4v17h-4zm18 0h2v17h-2zm76 0h11v17h-11zm15 0h6v17h-6zM85 1267h3v17h-3zm14 0h9v17h-9zm13 0h7v17h-7zm15 0h1v17h-1zm9 0h3v17h-3zm8 0h2v17h-2zm4 0h3v17h-3zm13 0h5v17h-5zm10 0h11v17h-11zm13 0h12v17h-12zm15 0h34v17h-34zm40 0h1v17h-1zm2 0h8v17h-8zm10 0h9v17h-9zm12 0h7v17h-7zm10 0h6v17h-6zm16 0h7v17h-7zm14 0h8v17h-8zm13 0h5v17h-5zm10 0h1v17h-1zm38 0h3v17h-3zm16 0h5v17h-5zm7 0h1v17h-1zm3 0h2v17h-2zm6 0h5v17h-5zm7 0h2v17h-2zm4 0h3v17h-3zm11 0h6v17h-6zm8 0h15v17h-15zm18 0h14v17h-14zm18 0h3v17h-3zm5 0h4v17h-4zm6 0h1v17h-1zm5 0h2v17h-2zm4 0h5v17h-5zm11 0h2v17h-2zm5 0h15v17h-15zm16 0h4v17h-4zm8 0h4v17h-4zm8 0h6v17h-6zm9 0h2v17h-2zm8 0h29v17h-29zm32 0h7v17h-7zm10 0h2v17h-2zm25 0h6v17h-6zm11 0h15v17h-15zm16 0h2v17h-2zm6 0h2v17h-2zm11 0h6v17h-6zm7 0h5v17h-5zm25 0h3v17h-3zm23 0h3v17h-3zm11 0h2v17h-2zm9 0h4v17h-4zm15 0h5v17h-5zm12 0h3v17h-3zm10 0h7v17h-7zm10 0h4v17h-4zm9 0h7v17h-7zm15 0h18v17h-18zm25 0h5v17h-5zm7 0h10v17h-10zm11 0h4v17h-4zm17 0h7v17h-7zm95 0h4v17h-4zm9 0h2v17h-2zm69 0h4v17h-4zm24 0h5v17h-5zm19 0h9v17h-9zm20 0h5v17h-5zm7 0h5v17h-5zm7 0h3v17h-3zm8 0h1v17h-1zm15 0h2v17h-2zm7 0h5v17h-5zm9 0h4v17h-4zm9 0h3v17h-3zm4 0h2v17h-2zm3 0h1v17h-1zm3 0h1v17h-1zm4 0h2v17h-2zm21 0h16v17h-16zm18 0h4v17h-4zm104 0h1v17h-1zm93 0h2v17h-2zm7 0h5v17h-5zm7 0h4v17h-4zm12 0h2v17h-2zm3 0h5v17h-5zm10 0h3v17h-3zm9 0h2v17h-2zm67 0h2v17h-2zm40 0h24v17h-24zm29 0h2v17h-2zm4 0h5v17h-5zm6 0h4v17h-4zm22 0h8v17h-8zm12 0h1v17h-1zm6 0h5v17h-5zm9 0h7v17h-7zm8 0h5v17h-5zm14 0h2v17h-2zm13 0h2v17h-2zm18 0h2v17h-2zm10 0h3v17h-3zm4 0h21v17h-21zm41 0h3v17h-3zm28 0h23v17h-23zm31 0h3v17h-3zm20 0h1v17h-1zM85 1284h3v17h-3zm5 0h5v17h-5zm9 0h6v17h-6zm13 0h3v17h-3zm4 0h8v17h-8zm11 0h2v17h-2zm5 0h3v17h-3zm4 0h2v17h-2zm8 0h2v17h-2zm4 0h3v17h-3zm11 0h2v17h-2zm9 0h3v17h-3zm12 0h2v17h-2zm4 0h12v17h-12zm15 0h4v17h-4zm98 0h2v17h-2zm6 0h18v17h-18zm19 0h5v17h-5zm42 0h8v17h-8zm67 0h5v17h-5zm16 0h7v17h-7zm33 0h2v17h-2zm13 0h2v17h-2zm29 0h4v17h-4zm10 0h4v17h-4zm7 0h2v17h-2zm8 0h5v17h-5zm49 0h5v17h-5zm15 0h7v17h-7zm14 0h18v17h-18zm22 0h2v17h-2zm62 0h3v17h-3zm4 0h3v17h-3zm35 0h5v17h-5zm14 0h1v17h-1zm11 0h2v17h-2zm31 0h2v17h-2zm43 0h4v17h-4zm7 0h2v17h-2zm10 0h7v17h-7zm15 0h20v17h-20zm114 0h1v17h-1zm30 0h2v17h-2zm4 0h4v17h-4zm6 0h1v17h-1zm4 0h4v17h-4zm8 0h2v17h-2zm5 0h8v17h-8zm11 0h5v17h-5zm19 0h9v17h-9zm20 0h5v17h-5zm7 0h5v17h-5zm7 0h3v17h-3zm8 0h1v17h-1zm15 0h2v17h-2zm35 0h1v17h-1zm25 0h2v17h-2zm15 0h1v17h-1zm3 0h4v17h-4zm80 0h5v17h-5zm7 0h4v17h-4zm7 0h4v17h-4zm10 0h1v17h-1zm35 0h2v17h-2zm9 0h2v17h-2zm5 0h8v17h-8zm11 0h10v17h-10zm12 0h1v17h-1zm28 0h5v17h-5zm7 0h4v17h-4zm12 0h2v17h-2zm3 0h5v17h-5zm10 0h3v17h-3zm9 0h2v17h-2zm4 0h1v17h-1zm57 0h6v17h-6zm9 0h4v17h-4zm5 0h5v17h-5zm32 0h4v17h-4zm8 0h16v17h-16zm26 0h5v17h-5zm45 0h22v17h-22zm44 0h2v17h-2zm28 0h3v17h-3zm6 0h16v17h-16zm22 0h3v17h-3zm17 0h6v17h-6zm7 0h4v17h-4zm7 0h11v17h-11zm14 0h26v17h-26zm31 0h4v17h-4zm20 0h1v17h-1z"/>
<path fill="#5ec962" d="M83 56h7v17h-7zm12 0h4v17h-4zm5 0h5v17h-5zm15 0h1v17h-1zm31 0h2v17h-2zm15 0h7v17h-7zm10 0h3v17h-3zm108 0h4v17h-4zm17 0h7v17h-7zm15 0h8v17h-8zm15 0h1v17h-1zm3 0h2v17h-2zm4 0h2v17h-2zm5 0h7v17h-7zm8 0h2v17h-2zm131 0h1v17h-1zm2 0h1v17h-1zm9 0h3v17h-3zm5 0h9v17h-9zm12 0h3v17h-3zm25 0h3v17h-3zm11 0h4v17h-4zm6 0h6v17h-6zm29 0h2v17h-2zm3 0h2v17h-2zm12 0h3v17h-3zm5 0h5v17h-5zm10 0h8v17h-8zm14 0h5v17h-5zm7 0h5v17h-5zm16 0h4v17h-4zm15 0h3v17h-3zm7 0h9v17h-9zm68 0h4v17h-4zm141 0h5v17h-5zm15 0h5v17h-5zm10 0h1v17h-1zm5 0h2v17h-2zm4 0h41v17h-41zm169 0h3v17h-3zm46 0h2v17h-2zm222 0h2v17h-2zm9 0h2v17h-2zm9 0h5v17h-5zm19 0h9v17h-9zm69 0h3v17h-3zm27 0h12v17h-12zm15 0h1v17h-1zm8 0h1v17h-1zm4 0h4v17h-4zm22 0h2v17h-2zm7 0h6v17h-6zm11 0h1v17h-1zm7 0h6v17h-6zm26 0h1v17h-1zm5 0h2v17h-2zm43 0h6v17h-6zm10 0h4v17h-4zm19 0h1v17h-1zm8 0h9v17h-9zm14 0h2v17h-2zm8 0h5v17h-5zm7 0h3v17h-3zm10 0h2v17h-2zm8 0h4v17h-4zm8 0h3v17h-3zm18 0h2v17h-2zm4 0h6v17h-6zm20 0h3v17h-3zm6 0h1v17h-1zm4 0h4v17h-4zm18 0h3v17h-3zm10 0h2v17h-2zm16 0h8v17h-8zm15 0h13v17h-13zm23 0h2v17h-2zm6 0h1v17h-1zM89 73h1v17h-1zm6 0h1v17h-1zm12 0h5v17h-5zm9 0h12v17h-12zm16 0h4v17h-4zm6 0h1v17h-1zm6 0h2v17h-2zm22 0h3v17h-3zm122 0h1v17h-1zm7 0h8v17h-8zm31 0h1v17h-1zm3 0h2v17h-2zm4 0h5v17h-5zm8 0h4v17h-4zm5 0h2v17h-2zm131 0h1v17h-1zm2 0h1v17h-1zm9 0h3v17h-3zm5 0h5v17h-5zm7 0h2v17h-2zm30 0h2v17h-2zm6 0h3v17h-3zm11 0h6v17h-6zm16 0h2v17h-2zm43 0h8v17h-8zm10 0h2v17h-2zm7 0h2v17h-2zm4 0h5v17h-5zm16 0h6v17h-6zm15 0h3v17h-3zm7 0h2v17h-2zm3 0h6v17h-6zm18 0h4v17h-4zm7 0h2v17h-2zm200 0h1v17h-1zm6 0h1v17h-1zm7 0h1v17h-1zm2 0h9v17h-9zm14 0h6v17h-6zm9 0h10v17h-10zm14 0h4v17h-4zm25 0h5v17h-5zm12 0h2v17h-2zm6 0h2v17h-2zm6 0h3v17h-3zm19 0h2v17h-2zm3 0h2v17h-2zm9 0h2v17h-2zm6 0h6v17h-6zm45 0h4v17h-4zm49 0h2v17h-2zm44 0h1v17h-1zm39 0h2v17h-2zm18 0h2v17h-2zm17 0h3v17h-3zm6 0h1v17h-1zm46 0h5v17h-5zm28 0h1v17h-1zm8 0h2v17h-2zm5 0h5v17h-5zm7 0h2v17h-2zm11 0h4v17h-4zm11 0h3v17h-3zm14 0h3v17h-3zm7 0h3v17h-3zm5 0h1v17h-1zm28 0h1v17h-1zm19 0h2v17h-2zm13 0h3v17h-3zm11 0h2v17h-2zm16 0h12v17h-12zm15 0h3v17h-3zm5 0h3v17h-3zm4 0h3v17h-3zm25 0h2v17h-2zm3 0h5v17h-5zm28 0h1v17h-1zm9 0h4v17h-4zm11 0h1v17h-1zm8 0h5v17h-5zm33 0h2v17h-2zm13 0h4v17h-4zm14 0h2v17h-2zm26 0h2v17h-2zm20 0h3v17h-3zm5 0h8v17h-8zm11 0h2v17h-2zm16 0h5v17h-5zm9 0h7v17h-7zm27 0h3v17h-3zm6 0h3v17h-3zm4 0h4v17h-4zm14 0h1v17h-1zm10 0h2v17h-2zm4 0h2v17h-2zm4 0h2v17h-2zm15 0h5v17h-5zm8 0h1v17h-1zm9 0h5v17h-5zm18 0h2v17h-2zm12 0h1v17h-1zM387 90h1v17h-1zm219 0h5v17h-5zm241 0h6v17h-6zm7 0h2v17h-2zm17 0h3v17h-3zm8 0h5v17h-5zm10 0h4v17h-4zm5 0h5v17h-5zm69 0h5v17h-5zm25 0h2v17h-2zm6 0h3v17h-3zm39 0h1v17h-1zm43 0h1v17h-1zm24 0h7v17h-7zm12 0h1v17h-1zm5 0h1v17h-1zm12 0h3v17h-3zm36 0h1v17h-1zm3 0h2v17h-2zm5 0h2v17h-2zm3 0h2v17h-2zm8 0h3v17h-3zm62 0h1v17h-1zm23 0h6v17h-6zm10 0h1v17h-1zm8 0h8v17h-8zm60 0h1v17h-1zm7 0h2v17h-2zm11 0h6v17h-6zm17 0h4v17h-4zm7 0h2v17h-2zm9 0h1v17h-1zm5 0h2v17h-2zm17 0h1v17h-1zm10 0h4v17h-4zm6 0h2v17h-2zm34 0h3v17h-3zm23 0h3v17h-3zm53 0h6v17h-6zm10 0h2v17h-2zm11 0h4v17h-4zm8 0h3v17h-3zm19 0h11v17h-11zm19 0h2v17h-2zm6 0h2v17h-2zm9 0h12v17h-12zm18 0h2v17h-2zm4 0h1v17h-1zm8 0h4v17h-4zm5 0h5v17h-5zm22 0h5v17h-5zm10 0h2v17h-2zm48 0h3v17h-3zm17 0h3v17h-3zm6 0h8v17h-8zm15 0h10v17h-10zm23 0h2v17h-2zm13 0h5v17h-5zm17 0h8v17h-8zm18 0h2v17h-2zM135 107h1v17h-1zm13 0h3v17h-3zm181 0h2v17h-2zm6 0h3v17h-3zm11 0h2v17h-2zm162 0h4v17h-4zm119 0h5v17h-5zm20 0h2v17h-2zm180 0h2v17h-2zm9 0h5v17h-5zm11 0h11v17h-11zm17 0h1v17h-1zm7 0h3v17h-3zm53 0h4v17h-4zm12 0h5v17h-5zm34 0h5v17h-5zm12 0h2v17h-2zm12 0h3v17h-3zm39 0h1v17h-1zm43 0h4v17h-4zm18 0h6v17h-6zm11 0h2v17h-2zm7 0h1v17h-1zm13 0h2v17h-2zm4 0h3v17h-3zm8 0h2v17h-2zm28 0h1v17h-1zm3 0h2v17h-2zm40 0h2v17h-2zm11 0h2v17h-2zm27 0h1v17h-1zm23 0h4v17h-4zm26 0h5v17h-5zm16 0h2v17h-2zm36 0h1v17h-1zm5 0h4v17h-4zm19 0h5v17h-5zm20 0h1v17h-1zm7 0h1v17h-1zm5 0h2v17h-2zm17 0h1v17h-1zm9 0h4v17h-4zm11 0h1v17h-1zm14 0h4v17h-4zm8 0h2v17h-2zm3 0h5v17h-5zm30 0h1v17h-1zm40 0h5v17h-5zm16 0h1v17h-1zm10 0h2v17h-2zm14 0h3v17h-3zm4 0h4v17h-4zm12 0h5v17h-5zm14 0h1v17h-1zm5 0h3v17h-3zm5 0h4v17h-4zm13 0h8v17h-8zm18 0h2v17h-2zm4 0h1v17h-1zm8 0h4v17h-4zm5 0h5v17h-5zm14 0h2v17h-2zm20 0h5v17h-5zm43 0h13v17h-13zm16 0h18v17h-18zm25 0h10v17h-10zm33 0h8v17h-8zm11 0h17v17h-17zm27 0h2v17h-2zm12 0h1v17h-1zM105 124h2v17h-2zm24 0h2v17h-2zm6 0h1v17h-1zm13 0h3v17h-3zm13 0h5v17h-5zm14 0h5v17h-5zm160 0h3v17h-3zm11 0h2v17h-2zm42 0h2v17h-2zm198 0h3v17h-3zm41 0h5v17h-5zm20 0h2v17h-2zm180 0h2v17h-2zm9 0h5v17h-5zm11 0h4v17h-4zm11 0h6v17h-6zm36 0h5v17h-5zm10 0h2v17h-2zm9 0h10v17h-10zm46 0h4v17h-4zm11 0h5v17h-5zm12 0h2v17h-2zm8 0h3v17h-3zm43 0h1v17h-1zm92 0h2v17h-2zm4 0h3v17h-3zm40 0h1v17h-1zm3 0h1v17h-1zm4 0h2v17h-2zm8 0h8v17h-8zm65 0h1v17h-1zm3 0h5v17h-5zm28 0h7v17h-7zm12 0h3v17h-3zm19 0h5v17h-5zm12 0h1v17h-1zm3 0h3v17h-3zm6 0h1v17h-1zm9 0h2v17h-2zm40 0h1v17h-1zm8 0h2v17h-2zm14 0h2v17h-2zm20 0h1v17h-1zm6 0h1v17h-1zm5 0h2v17h-2zm7 0h5v17h-5zm19 0h4v17h-4zm5 0h5v17h-5zm20 0h8v17h-8zm9 0h1v17h-1zm2 0h5v17h-5zm27 0h4v17h-4zm12 0h5v17h-5zm16 0h8v17h-8zm12 0h2v17h-2zm4 0h4v17h-4zm16 0h2v17h-2zm3 0h2v17h-2zm3 0h2v17h-2zm7 0h5v17h-5zm9 0h5v17h-5zm8 0h2v17h-2zm15 0h8v17h-8zm12 0h6v17h-6zm8 0h2v17h-2zm10 0h4v17h-4zm5 0h5v17h-5zm14 0h2v17h-2zm15 0h5v17h-5zm16 0h2v17h-2zm58 0h4v17h-4zm6 0h2v17h-2zm12 0h1v17h-1zm4 0h3v17h-3zm6 0h2v17h-2zm8 0h4v17h-4zm12 0h5v17h-5zm12 0h3v17h-3zm8 0h5v17h-5zm7 0h1v17h-1zm2 0h3v17h-3zm9 0h6v17h-6zm12 0h1v17h-1zM329 141h4v17h-4zm6 0h3v17h-3zm11 0h2v17h-2zm50 0h1v17h-1zm96 0h1v17h-1zm60 0h1v17h-1zm54 0h8v17h-8zm21 0h5v17h-5zm47 0h2v17h-2zm86 0h1v17h-1zm81 0h5v17h-5zm10 0h7v17h-7zm13 0h6v17h-6zm40 0h2v17h-2zm13 0h6v17h-6zm19 0h5v17h-5zm7 0h2v17h-2zm6 0h5v17h-5zm21 0h5v17h-5zm12 0h2v17h-2zm8 0h3v17h-3zm20 0h1v17h-1zm17 0h4v17h-4zm6 0h1v17h-1zm8 0h2v17h-2zm9 0h5v17h-5zm26 0h1v17h-1zm18 0h3v17h-3zm11 0h2v17h-2zm20 0h2v17h-2zm12 0h2v17h-2zm39 0h2v17h-2zm32 0h2v17h-2zm7 0h2v17h-2zm4 0h2v17h-2zm50 0h4v17h-4zm14 0h4v17h-4zm12 0h5v17h-5zm16 0h8v17h-8zm9 0h2v17h-2zm13 0h10v17h-10zm14 0h1v17h-1zm5 0h2v17h-2zm24 0h3v17h-3zm8 0h2v17h-2zm5 0h3v17h-3zm10 0h4v17h-4zm20 0h1v17h-1zm7 0h4v17h-4zm12 0h2v17h-2zm3 0h5v17h-5zm19 0h4v17h-4zm5 0h5v17h-5zm20 0h8v17h-8zm9 0h1v17h-1zm2 0h2v17h-2zm31 0h2v17h-2zm3 0h5v17h-5zm10 0h6v17h-6zm11 0h5v17h-5zm7 0h1v17h-1zm3 0h4v17h-4zm17 0h1v17h-1zm5 0h2v17h-2zm5 0h6v17h-6zm8 0h9v17h-9zm17 0h2v17h-2zm27 0h15v17h-15zm16 0h12v17h-12zm21 0h2v17h-2zm15 0h3v17h-3zm10 0h2v17h-2zm6 0h6v17h-6zm58 0h1v17h-1zm3 0h1v17h-1zm3 0h2v17h-2zm12 0h1v17h-1zm4 0h3v17h-3zm9 0h3v17h-3zm5 0h12v17h-12zm52 0h4v17h-4zM80 158h3v17h-3zm5 0h22v17h-22zm30 0h3v17h-3zm4 0h5v17h-5zm10 0h6v17h-6zm7 0h12v17h-12zm15 0h8v17h-8zm15 0h14v17h-14zm67 0h4v17h-4zm7 0h9v17h-9zm134 0h3v17h-3zm266 0h1v17h-1zm187 0h2v17h-2zm9 0h10v17h-10zm11 0h11v17h-11zm13 0h5v17h-5zm11 0h3v17h-3zm33 0h2v17h-2zm4 0h5v17h-5zm9 0h6v17h-6zm7 0h21v17h-21zm39 0h5v17h-5zm19 0h2v17h-2zm94 0h1v17h-1zm47 0h2v17h-2zm6 0h3v17h-3zm8 0h2v17h-2zm16 0h3v17h-3zm15 0h4v17h-4zm8 0h2v17h-2zm8 0h3v17h-3zm15 0h6v17h-6zm8 0h3v17h-3zm6 0h2v17h-2zm6 0h2v17h-2zm61 0h7v17h-7zm12 0h3v17h-3zm28 0h2v17h-2zm12 0h9v17h-9zm16 0h4v17h-4zm10 0h4v17h-4zm10 0h3v17h-3zm21 0h3v17h-3zm23 0h7v17h-7zm39 0h3v17h-3zm9 0h2v17h-2zm18 0h7v17h-7zm12 0h3v17h-3zm11 0h1v17h-1zm4 0h4v17h-4zm9 0h1v17h-1zm32 0h5v17h-5zm45 0h3v17h-3zm10 0h4v17h-4zm20 0h7v17h-7zm11 0h8v17h-8zm9 0h9v17h-9zm10 0h5v17h-5zm11 0h10v17h-10zm19 0h2v17h-2zm43 0h5v17h-5zm16 0h3v17h-3zm6 0h6v17h-6zm7 0h14v17h-14zm16 0h1v17h-1zm15 0h1v17h-1zm4 0h3v17h-3zm31 0h3v17h-3zm6 0h16v17h-16zm21 0h4v17h-4zM112 175h3v17h-3zm23 0h1v17h-1zm26 0h5v17h-5zm134 0h1v17h-1zm4 0h4v17h-4zm36 0h3v17h-3zm6 0h4v17h-4zm11 0h3v17h-3zm44 0h1v17h-1zm445 0h5v17h-5zm10 0h5v17h-5zm13 0h1v17h-1zm7 0h3v17h-3zm92 0h5v17h-5zm7 0h5v17h-5zm12 0h2v17h-2zm8 0h3v17h-3zm104 0h3v17h-3zm11 0h2v17h-2zm12 0h3v17h-3zm36 0h3v17h-3zm15 0h2v17h-2zm16 0h3v17h-3zm96 0h3v17h-3zm68 0h4v17h-4zm10 0h4v17h-4zm5 0h2v17h-2zm5 0h3v17h-3zm21 0h2v17h-2zm49 0h2v17h-2zm3 0h5v17h-5zm24 0h5v17h-5zm91 0h2v17h-2zm3 0h6v17h-6zm29 0h1v17h-1zm3 0h3v17h-3zm28 0h21v17h-21zm22 0h5v17h-5zm7 0h3v17h-3zm35 0h35v17h-35zm38 0h22v17h-22zm25 0h10v17h-10zm11 0h20v17h-20zm24 0h10v17h-10zm16 0h1v17h-1zm22 0h3v17h-3zm6 0h1v17h-1zm9 0h5v17h-5zm7 0h1v17h-1zm2 0h7v17h-7zm9 0h13v17h-13zM80 192h3v17h-3zm15 0h4v17h-4zm5 0h8v17h-8zm9 0h3v17h-3zm7 0h2v17h-2zm15 0h1v17h-1zm4 0h1v17h-1zm3 0h1v17h-1zm6 0h7v17h-7zm14 0h1v17h-1zm8 0h3v17h-3zm67 0h4v17h-4zm7 0h1v17h-1zm49 0h2v17h-2zm8 0h2v17h-2zm44 0h4v17h-4zm5 0h2v17h-2zm136 0h5v17h-5zm124 0h5v17h-5zm235 0h10v17h-10zm12 0h3v17h-3zm11 0h6v17h-6zm7 0h3v17h-3zm52 0h1v17h-1zm20 0h2v17h-2zm27 0h5v17h-5zm12 0h2v17h-2zm8 0h4v17h-4zm37 0h4v17h-4zm14 0h2v17h-2zm64 0h2v17h-2zm12 0h1v17h-1zm36 0h4v17h-4zm13 0h4v17h-4zm49 0h2v17h-2zm26 0h2v17h-2zm5 0h1v17h-1zm37 0h4v17h-4zm75 0h4v17h-4zm5 0h13v17h-13zm16 0h3v17h-3zm5 0h8v17h-8zm19 0h7v17h-7zm62 0h5v17h-5zm25 0h3v17h-3zm12 0h3v17h-3zm12 0h1v17h-1zm20 0h1v17h-1zm22 0h2v17h-2zm7 0h2v17h-2zm28 0h3v17h-3zm14 0h1v17h-1zm16 0h19v17h-19zm20 0h5v17h-5zm7 0h2v17h-2zm3 0h4v17h-4zm17 0h6v17h-6zm13 0h1v17h-1zm2 0h2v17h-2zm21 0h1v17h-1zm4 0h2v17h-2zm6 0h19v17h-19zm22 0h7v17h-7zm10 0h10v17h-10zm14 0h17v17h-17zm21 0h10v17h-10zm25 0h3v17h-3zm13 0h3v17h-3zm6 0h1v17h-1zm9 0h5v17h-5zm7 0h1v17h-1zm2 0h3v17h-3zm7 0h15v17h-15zM80 209h3v17h-3zm15 0h4v17h-4zm5 0h7v17h-7zm16 0h2v17h-2zm3 0h5v17h-5zm12 0h5v17h-5zm7 0h6v17h-6zm8 0h5v17h-5zm12 0h1v17h-1zm8 0h2v17h-2zm8 0h1v17h-1zm59 0h4v17h-4zm56 0h2v17h-2zm8 0h2v17h-2zm44 0h4v17h-4zm265 0h5v17h-5zm240 0h5v17h-5zm8 0h2v17h-2zm10 0h6v17h-6zm10 0h5v17h-5zm49 0h1v17h-1zm8 0h5v17h-5zm23 0h5v17h-5zm40 0h3v17h-3zm33 0h4v17h-4zm14 0h2v17h-2zm75 0h2v17h-2zm7 0h2v17h-2zm30 0h3v17h-3zm7 0h2v17h-2zm6 0h4v17h-4zm114 0h3v17h-3zm40 0h2v17h-2zm9 0h2v17h-2zm3 0h4v17h-4zm16 0h4v17h-4zm10 0h4v17h-4zm5 0h8v17h-8zm26 0h3v17h-3zm23 0h2v17h-2zm102 0h1v17h-1zm2 0h5v17h-5zm13 0h1v17h-1zm5 0h1v17h-1zm11 0h1v17h-1zm11 0h2v17h-2zm3 0h6v17h-6zm42 0h4v17h-4zm18 0h21v17h-21zm22 0h5v17h-5zm7 0h2v17h-2zm3 0h4v17h-4zm30 0h1v17h-1zm9 0h2v17h-2zm14 0h4v17h-4zm10 0h42v17h-42zm46 0h12v17h-12zm14 0h3v17h-3zm11 0h6v17h-6zm21 0h3v17h-3zm8 0h25v17h-25zm44 0h1v17h-1zM80 226h3v17h-3zm15 0h4v17h-4zm5 0h7v17h-7zm9 0h3v17h-3zm6 0h3v17h-3zm4 0h5v17h-5zm12 0h5v17h-5zm7 0h1v17h-1zm6 0h2v17h-2zm4 0h3v17h-3zm18 0h2v17h-2zm3 0h2v17h-2zm5 0h1v17h-1zm66 0h1v17h-1zm366 0h8v17h-8zm64 0h6v17h-6zm126 0h5v17h-5zm40 0h10v17h-10zm29 0h5v17h-5zm9 0h5v17h-5zm25 0h1v17h-1zm24 0h5v17h-5zm13 0h5v17h-5zm18 0h9v17h-9zm16 0h5v17h-5zm12 0h2v17h-2zm8 0h3v17h-3zm23 0h2v17h-2zm28 0h2v17h-2zm9 0h5v17h-5zm8 0h3v17h-3zm15 0h4v17h-4zm32 0h2v17h-2zm8 0h1v17h-1zm3 0h2v17h-2zm9 0h2v17h-2zm9 0h10v17h-10zm19 0h3v17h-3zm7 0h2v17h-2zm6 0h4v17h-4zm6 0h1v17h-1zm77 0h1v17h-1zm2 0h6v17h-6zm13 0h5v17h-5zm16 0h3v17h-3zm40 0h3v17h-3zm9 0h2v17h-2zm4 0h3v17h-3zm8 0h2v17h-2zm38 0h2v17h-2zm3 0h2v17h-2zm7 0h3v17h-3zm69 0h2v17h-2zm4 0h2v17h-2zm18 0h10v17h-10zm18 0h3v17h-3zm4 0h3v17h-3zm21 0h6v17h-6zm7 0h4v17h-4zm15 0h6v17h-6zm16 0h4v17h-4zm10 0h7v17h-7zm12 0h6v17h-6zm8 0h3v17h-3zm5 0h2v17h-2zm10 0h7v17h-7zm9 0h4v17h-4zm13 0h4v17h-4zm18 0h4v17h-4zm10 0h2v17h-2zm26 0h1v17h-1zm10 0h3v17h-3zm57 0h3v17h-3zm4 0h3v17h-3zm14 0h2v17h-2zm18 0h3v17h-3zm13 0h2v17h-2zm24 0h3v17h-3zm12 0h5v17h-5zm7 0h1v17h-1zm9 0h2v17h-2zM80 243h5v17h-5zm15 0h4v17h-4zm5 0h5v17h-5zm12 0h3v17h-3zm49 0h5v17h-5zm136 0h2v17h-2zm41 0h3v17h-3zm72 0h3v17h-3zm26 0h5v17h-5zm119 0h5v17h-5zm72 0h5v17h-5zm47 0h2v17h-2zm7 0h4v17h-4zm160 0h5v17h-5zm10 0h2v17h-2zm3 0h2v17h-2zm10 0h1v17h-1zm7 0h3v17h-3zm29 0h2v17h-2zm4 0h2v17h-2zm4 0h5v17h-5zm16 0h4v17h-4zm17 0h2v17h-2zm4 0h4v17h-4zm14 0h4v17h-4zm9 0h7v17h-7zm14 0h2v17h-2zm8 0h3v17h-3zm14 0h1v17h-1zm6 0h1v17h-1zm3 0h2v17h-2zm20 0h1v17h-1zm4 0h6v17h-6zm39 0h1v17h-1zm21 0h3v17h-3zm16 0h1v17h-1zm4 0h1v17h-1zm36 0h3v17h-3zm4 0h3v17h-3zm11 0h1v17h-1zm4 0h1v17h-1zm12 0h3v17h-3zm55 0h4v17h-4zm13 0h5v17h-5zm27 0h1v17h-1zm37 0h3v17h-3zm6 0h1v17h-1zm2 0h2v17h-2zm5 0h2v17h-2zm4 0h3v17h-3zm8 0h2v17h-2zm15 0h2v17h-2zm23 0h2v17h-2zm12 0h4v17h-4zm12 0h2v17h-2zm21 0h2v17h-2zm5 0h1v17h-1zm12 0h5v17h-5zm7 0h3v17h-3zm6 0h4v17h-4zm11 0h5v17h-5zm15 0h5v17h-5zm18 0h3v17h-3zm4 0h3v17h-3zm19 0h2v17h-2zm6 0h7v17h-7zm18 0h1v17h-1zm16 0h2v17h-2zm10 0h4v17h-4zm14 0h3v17h-3zm6 0h5v17h-5zm19 0h2v17h-2zm3 0h8v17h-8zm23 0h4v17h-4zm5 0h5v17h-5zm7 0h2v17h-2zm3 0h4v17h-4zm17 0h4v17h-4zm6 0h5v17h-5zm7 0h1v17h-1zm2 0h2v17h-2zm9 0h3v17h-3zm10 0h3v17h-3zm8 0h4v17h-4zm14 0h1v17h-1zm5 0h4v17h-4zm7 0h2v17h-2zm13 0h3v17h-3zm4 0h3v17h-3zm7 0h3v17h-3zm7 0h2v17h-2zm3 0h2v17h-2zm15 0h6v17h-6zm11 0h1v17h-1zm2 0h2v17h-2zm6 0h2v17h-2zm21 0h4v17h-4zm16 0h5v17h-5zm17 0h7v17h-7zM80 260h5v17h-5zm10 0h5v17h-5zm6 0h3v17h-3zm9 0h2v17h-2zm14 0h5v17h-5zm16 0h1v17h-1zm9 0h2v17h-2zm4 0h3v17h-3zm10 0h1v17h-1zm8 0h3v17h-3zm8 0h1v17h-1zm33 0h3v17h-3zm5 0h2v17h-2zm25 0h2v17h-2zm59 0h3v17h-3zm140 0h5v17h-5zm119 0h5v17h-5zm77 0h4v17h-4zm9 0h6v17h-6zm33 0h5v17h-5zm7 0h4v17h-4zm5 0h4v17h-4zm7 0h1v17h-1zm134 0h2v17h-2zm9 0h10v17h-10zm17 0h1v17h-1zm11 0h1v17h-1zm7 0h3v17h-3zm13 0h9v17h-9zm15 0h1v17h-1zm3 0h2v17h-2zm5 0h1v17h-1zm15 0h2v17h-2zm21 0h2v17h-2zm6 0h10v17h-10zm45 0h3v17h-3zm19 0h3v17h-3zm28 0h2v17h-2zm56 0h3v17h-3zm26 0h2v17h-2zm30 0h3v17h-3zm4 0h2v17h-2zm9 0h2v17h-2zm18 0h3v17h-3zm55 0h4v17h-4zm40 0h4v17h-4zm69 0h4v17h-4zm6 0h2v17h-2zm4 0h4v17h-4zm7 0h3v17h-3zm19 0h7v17h-7zm8 0h3v17h-3zm20 0h2v17h-2zm12 0h2v17h-2zm41 0h25v17h-25zm31 0h6v17h-6zm20 0h5v17h-5zm7 0h4v17h-4zm22 0h6v17h-6zm16 0h2v17h-2zm10 0h4v17h-4zm20 0h3v17h-3zm5 0h4v17h-4zm10 0h4v17h-4zm15 0h7v17h-7zm29 0h5v17h-5zm6 0h2v17h-2zm16 0h5v17h-5zm13 0h10v17h-10zm19 0h1v17h-1zm14 0h6v17h-6zm22 0h3v17h-3zm9 0h3v17h-3zm4 0h3v17h-3zm7 0h3v17h-3zm9 0h1v17h-1zm3 0h5v17h-5zm19 0h2v17h-2zm7 0h4v17h-4zm6 0h2v17h-2zm13 0h2v17h-2zm9 0h3v17h-3zm13 0h2v17h-2zm3 0h4v17h-4zm16 0h6v17h-6zM83 277h2v17h-2zm12 0h4v17h-4zm5 0h7v17h-7zm28 0h1v17h-1zm7 0h1v17h-1zm3 0h1v17h-1zm23 0h5v17h-5zm13 0h1v17h-1zm72 0h3v17h-3zm50 0h1v17h-1zm37 0h2v17h-2zm19 0h3v17h-3zm280 0h4v17h-4zm9 0h2v17h-2zm33 0h7v17h-7zm12 0h4v17h-4zm7 0h1v17h-1zm134 0h2v17h-2zm14 0h5v17h-5zm12 0h3v17h-3zm11 0h1v17h-1zm7 0h3v17h-3zm8 0h10v17h-10zm15 0h10v17h-10zm51 0h4v17h-4zm9 0h5v17h-5zm9 0h12v17h-12zm27 0h3v17h-3zm60 0h5v17h-5zm26 0h1v17h-1zm21 0h3v17h-3zm56 0h3v17h-3zm4 0h3v17h-3zm9 0h2v17h-2zm4 0h2v17h-2zm17 0h5v17h-5zm23 0h2v17h-2zm5 0h2v17h-2zm11 0h2v17h-2zm4 0h4v17h-4zm21 0h6v17h-6zm28 0h4v17h-4zm66 0h2v17h-2zm3 0h4v17h-4zm6 0h2v17h-2zm22 0h3v17h-3zm10 0h5v17h-5zm6 0h3v17h-3zm20 0h2v17h-2zm34 0h2v17h-2zm8 0h4v17h-4zm11 0h5v17h-5zm8 0h5v17h-5zm7 0h5v17h-5zm11 0h2v17h-2zm61 0h4v17h-4zm19 0h7v17h-7zm39 0h2v17h-2zm5 0h13v17h-13zm35 0h1v17h-1zm6 0h2v17h-2zm16 0h2v17h-2zm5 0h2v17h-2zm13 0h5v17h-5zm14 0h1v17h-1zm6 0h11v17h-11zm43 0h3v17h-3zm7 0h3v17h-3zm12 0h5v17h-5zm19 0h2v17h-2zm6 0h5v17h-5zm7 0h2v17h-2zm39 0h7v17h-7zm21 0h1v17h-1zM83 294h2v17h-2zm12 0h4v17h-4zm5 0h8v17h-8zm9 0h3v17h-3zm6 0h12v17h-12zm13 0h7v17h-7zm8 0h15v17h-15zm17 0h18v17h-18zm21 0h1v17h-1zm10 0h4v17h-4zm62 0h3v17h-3zm10 0h7v17h-7zm8 0h6v17h-6zm88 0h3v17h-3zm20 0h5v17h-5zm8 0h3v17h-3zm5 0h2v17h-2zm5 0h2v17h-2zm11 0h2v17h-2zm4 0h2v17h-2zm8 0h5v17h-5zm8 0h3v17h-3zm15 0h8v17h-8zm17 0h1v17h-1zm8 0h1v17h-1zm3 0h1v17h-1zm9 0h1v17h-1zm9 0h5v17h-5zm11 0h2v17h-2zm7 0h2v17h-2zm26 0h4v17h-4zm13 0h2v17h-2zm6 0h2v17h-2zm34 0h2v17h-2zm53 0h4v17h-4zm9 0h6v17h-6zm92 0h4v17h-4zm123 0h2v17h-2zm4 0h4v17h-4zm14 0h15v17h-15zm19 0h6v17h-6zm30 0h1v17h-1zm18 0h2v17h-2zm8 0h10v17h-10zm41 0h3v17h-3zm21 0h2v17h-2zm7 0h5v17h-5zm13 0h6v17h-6zm10 0h4v17h-4zm20 0h5v17h-5zm8 0h7v17h-7zm38 0h5v17h-5zm10 0h1v17h-1zm3 0h2v17h-2zm33 0h3v17h-3zm7 0h2v17h-2zm9 0h1v17h-1zm3 0h1v17h-1zm28 0h5v17h-5zm12 0h3v17h-3zm37 0h2v17h-2zm15 0h5v17h-5zm11 0h4v17h-4zm5 0h3v17h-3zm22 0h2v17h-2zm7 0h2v17h-2zm10 0h1v17h-1zm10 0h2v17h-2zm3 0h1v17h-1zm4 0h9v17h-9zm11 0h1v17h-1zm9 0h2v17h-2zm203 0h2v17h-2zm20 0h4v17h-4zm10 0h2v17h-2zm85 0h5v17h-5zm7 0h9v17h-9zm29 0h4v17h-4zM237 311h2v17h-2zm19 0h7v17h-7zm8 0h1v17h-1zm6 0h3v17h-3zm82 0h3v17h-3zm15 0h5v17h-5zm7 0h6v17h-6zm58 0h4v17h-4zm47 0h3v17h-3zm16 0h3v17h-3zm7 0h3v17h-3zm10 0h6v17h-6zm18 0h2v17h-2zm17 0h5v17h-5zm107 0h4v17h-4zm7 0h3v17h-3zm7 0h2v17h-2zm58 0h2v17h-2zm4 0h1v17h-1zm9 0h9v17h-9zm102 0h5v17h-5zm6 0h6v17h-6zm32 0h5v17h-5zm10 0h4v17h-4zm5 0h5v17h-5zm8 0h2v17h-2zm43 0h4v17h-4zm9 0h9v17h-9zm14 0h2v17h-2zm9 0h11v17h-11zm24 0h3v17h-3zm9 0h1v17h-1zm3 0h2v17h-2zm5 0h3v17h-3zm5 0h2v17h-2zm8 0h2v17h-2zm3 0h3v17h-3zm7 0h6v17h-6zm36 0h3v17h-3zm8 0h8v17h-8zm32 0h1v17h-1zm10 0h5v17h-5zm43 0h3v17h-3zm5 0h1v17h-1zm53 0h11v17h-11zm18 0h3v17h-3zm6 0h10v17h-10zm12 0h5v17h-5zm15 0h1v17h-1zm23 0h2v17h-2zm9 0h8v17h-8zm36 0h1v17h-1zm9 0h2v17h-2zm7 0h2v17h-2zm5 0h8v17h-8zm11 0h2v17h-2zm3 0h4v17h-4zm32 0h5v17h-5zm80 0h4v17h-4zm7 0h4v17h-4zm13 0h2v17h-2zm13 0h2v17h-2zm71 0h2v17h-2zm12 0h2v17h-2zm5 0h4v17h-4zm17 0h4v17h-4zm182 0h3v17h-3zm45 0h5v17h-5zM233 328h6v18h-6zm8 0h8v18h-8zm55 0h1v18h-1zm42 0h3v18h-3zm14 0h3v18h-3zm15 0h7v18h-7zm13 0h3v18h-3zm8 0h2v18h-2zm9 0h6v18h-6zm10 0h1v18h-1zm55 0h2v18h-2zm16 0h2v18h-2zm4 0h5v18h-5zm6 0h3v18h-3zm10 0h2v18h-2zm32 0h2v18h-2zm17 0h5v18h-5zm179 0h2v18h-2zm4 0h1v18h-1zm3 0h4v18h-4zm6 0h4v18h-4zm52 0h5v18h-5zm55 0h1v18h-1zm33 0h5v18h-5zm20 0h5v18h-5zm8 0h1v18h-1zm17 0h7v18h-7zm21 0h4v18h-4zm14 0h4v18h-4zm11 0h5v18h-5zm12 0h2v18h-2zm8 0h4v18h-4zm33 0h2v18h-2zm4 0h7v18h-7zm34 0h3v18h-3zm8 0h4v18h-4zm7 0h17v18h-17zm18 0h3v18h-3zm59 0h3v18h-3zm15 0h1v18h-1zm2 0h2v18h-2zm40 0h2v18h-2zm24 0h5v18h-5zm12 0h3v18h-3zm4 0h1v18h-1zm2 0h10v18h-10zm12 0h5v18h-5zm38 0h2v18h-2zm9 0h5v18h-5zm11 0h1v18h-1zm4 0h3v18h-3zm15 0h2v18h-2zm4 0h3v18h-3zm11 0h6v18h-6zm7 0h2v18h-2zm61 0h2v18h-2zm24 0h3v18h-3zm10 0h2v18h-2zm27 0h5v18h-5zm61 0h5v18h-5zm10 0h2v18h-2zm9 0h2v18h-2zm14 0h6v18h-6zm7 0h2v18h-2zm64 0h1v18h-1zm6 0h2v18h-2zm48 0h1v18h-1zm49 0h3v18h-3zm61 0h3v18h-3zm5 0h6v18h-6zm10 0h10v18h-10zM237 346h2v17h-2zm4 0h5v17h-5zm23 0h1v17h-1zm44 0h3v17h-3zm21 0h2v17h-2zm4 0h2v17h-2zm5 0h7v17h-7zm24 0h18v17h-18zm35 0h4v17h-4zm10 0h1v17h-1zm24 0h5v17h-5zm22 0h1v17h-1zm8 0h4v17h-4zm12 0h1v17h-1zm14 0h1v17h-1zm4 0h1v17h-1zm9 0h2v17h-2zm30 0h2v17h-2zm15 0h7v17h-7zm69 0h2v17h-2zm13 0h5v17h-5zm16 0h4v17h-4zm87 0h1v17h-1zm3 0h4v17h-4zm6 0h4v17h-4zm140 0h14v17h-14zm15 0h6v17h-6zm10 0h4v17h-4zm18 0h1v17h-1zm2 0h4v17h-4zm25 0h10v17h-10zm21 0h7v17h-7zm12 0h6v17h-6zm11 0h1v17h-1zm23 0h9v17h-9zm17 0h1v17h-1zm10 0h4v17h-4zm18 0h3v17h-3zm8 0h3v17h-3zm8 0h12v17h-12zm72 0h7v17h-7zm19 0h1v17h-1zm2 0h2v17h-2zm14 0h3v17h-3zm37 0h5v17h-5zm7 0h2v17h-2zm6 0h5v17h-5zm12 0h1v17h-1zm3 0h2v17h-2zm8 0h5v17h-5zm38 0h5v17h-5zm7 0h2v17h-2zm9 0h2v17h-2zm11 0h1v17h-1zm4 0h3v17h-3zm5 0h1v17h-1zm10 0h2v17h-2zm4 0h2v17h-2zm9 0h8v17h-8zm9 0h2v17h-2zm5 0h3v17h-3zm11 0h2v17h-2zm35 0h5v17h-5zm6 0h1v17h-1zm4 0h2v17h-2zm6 0h3v17h-3zm16 0h5v17h-5zm12 0h2v17h-2zm27 0h5v17h-5zm74 0h2v17h-2zm8 0h4v17h-4zm21 0h3v17h-3zm62 0h1v17h-1zm8 0h10v17h-10zm19 0h2v17h-2zm5 0h1v17h-1zm36 0h3v17h-3zm11 0h4v17h-4zm7 0h2v17h-2zm78 0h12v17h-12zm20 0h5v17h-5zm12 0h4v17h-4zm13 0h5v17h-5zM182 363h2v17h-2zm25 0h3v17h-3zm12 0h2v17h-2zm7 0h4v17h-4zm11 0h3v17h-3zm4 0h5v17h-5zm8 0h2v17h-2zm21 0h3v17h-3zm19 0h2v17h-2zm8 0h2v17h-2zm11 0h8v17h-8zm11 0h2v17h-2zm3 0h4v17h-4zm13 0h3v17h-3zm6 0h4v17h-4zm26 0h5v17h-5zm7 0h3v17h-3zm33 0h1v17h-1zm3 0h3v17h-3zm120 0h2v17h-2zm3 0h2v17h-2zm8 0h4v17h-4zm73 0h2v17h-2zm22 0h3v17h-3zm5 0h2v17h-2zm20 0h3v17h-3zm4 0h2v17h-2zm35 0h6v17h-6zm9 0h15v17h-15zm17 0h2v17h-2zm7 0h4v17h-4zm25 0h2v17h-2zm46 0h2v17h-2zm10 0h5v17h-5zm122 0h5v17h-5zm18 0h16v17h-16zm21 0h2v17h-2zm26 0h3v17h-3zm6 0h4v17h-4zm18 0h2v17h-2zm30 0h6v17h-6zm52 0h5v17h-5zm58 0h1v17h-1zm4 0h1v17h-1zm3 0h1v17h-1zm3 0h3v17h-3zm4 0h4v17h-4zm8 0h5v17h-5zm8 0h2v17h-2zm4 0h8v17h-8zm9 0h2v17h-2zm5 0h4v17h-4zm6 0h2v17h-2zm54 0h2v17h-2zm14 0h5v17h-5zm35 0h1v17h-1zm2 0h2v17h-2zm5 0h2v17h-2zm12 0h4v17h-4zm15 0h2v17h-2zm49 0h5v17h-5zm46 0h3v17h-3zm11 0h2v17h-2zm18 0h5v17h-5zm13 0h8v17h-8zm9 0h3v17h-3zm12 0h2v17h-2zm31 0h1v17h-1zm6 0h1v17h-1zm5 0h2v17h-2zm23 0h9v17h-9zm98 0h2v17h-2zm4 0h9v17h-9zm23 0h1v17h-1zm17 0h1v17h-1zm3 0h1v17h-1zm12 0h2v17h-2zM95 380h1v17h-1zm24 0h5v17h-5zm9 0h1v17h-1zm54 0h2v17h-2zm55 0h3v17h-3zm4 0h5v17h-5zm23 0h1v17h-1zm25 0h2v17h-2zm7 0h3v17h-3zm37 0h2v17h-2zm34 0h5v17h-5zm21 0h2v17h-2zm9 0h4v17h-4zm39 0h5v17h-5zm11 0h3v17h-3zm83 0h2v17h-2zm49 0h2v17h-2zm7 0h3v17h-3zm25 0h3v17h-3zm5 0h4v17h-4zm52 0h2v17h-2zm11 0h2v17h-2zm14 0h1v17h-1zm2 0h3v17h-3zm31 0h2v17h-2zm7 0h4v17h-4zm10 0h3v17h-3zm27 0h3v17h-3zm10 0h2v17h-2zm56 0h5v17h-5zm10 0h1v17h-1zm5 0h3v17h-3zm19 0h1v17h-1zm19 0h4v17h-4zm10 0h1v17h-1zm7 0h2v17h-2zm11 0h5v17h-5zm11 0h3v17h-3zm8 0h5v17h-5zm7 0h11v17h-11zm20 0h5v17h-5zm12 0h9v17h-9zm18 0h1v17h-1zm14 0h4v17h-4zm6 0h2v17h-2zm18 0h2v17h-2zm35 0h3v17h-3zm7 0h3v17h-3zm7 0h9v17h-9zm17 0h3v17h-3zm10 0h5v17h-5zm7 0h2v17h-2zm4 0h2v17h-2zm31 0h7v17h-7zm10 0h1v17h-1zm6 0h3v17h-3zm4 0h1v17h-1zm3 0h1v17h-1zm7 0h4v17h-4zm8 0h5v17h-5zm8 0h2v17h-2zm15 0h3v17h-3zm7 0h2v17h-2zm29 0h1v17h-1zm5 0h6v17h-6zm13 0h5v17h-5zm15 0h1v17h-1zm8 0h5v17h-5zm15 0h2v17h-2zm7 0h2v17h-2zm7 0h3v17h-3zm15 0h1v17h-1zm25 0h2v17h-2zm39 0h3v17h-3zm4 0h4v17h-4zm25 0h2v17h-2zm5 0h7v17h-7zm9 0h2v17h-2zm3 0h5v17h-5zm52 0h2v17h-2zm3 0h2v17h-2zm18 0h2v17h-2zm65 0h4v17h-4zm6 0h1v17h-1zm83 0h4v17h-4zm9 0h2v17h-2zm4 0h1v17h-1zm2 0h7v17h-7zm38 0h1v17h-1zm45 0h3v17h-3zm4 0h2v17h-2zm14 0h1v17h-1zm45 0h5v17h-5zM146 397h2v17h-2zm61 0h3v17h-3zm12 0h2v17h-2zm45 0h1v17h-1zm113 0h3v17h-3zm26 0h4v17h-4zm5 0h10v17h-10zm28 0h8v17h-8zm225 0h3v17h-3zm7 0h2v17h-2zm56 0h2v17h-2zm9 0h6v17h-6zm10 0h3v17h-3zm27 0h3v17h-3zm84 0h10v17h-10zm17 0h3v17h-3zm18 0h5v17h-5zm10 0h1v17h-1zm7 0h2v17h-2zm22 0h3v17h-3zm8 0h5v17h-5zm7 0h6v17h-6zm16 0h4v17h-4zm23 0h6v17h-6zm11 0h1v17h-1zm38 0h2v17h-2zm19 0h5v17h-5zm11 0h3v17h-3zm5 0h3v17h-3zm19 0h8v17h-8zm75 0h2v17h-2zm18 0h5v17h-5zm17 0h2v17h-2zm17 0h1v17h-1zm31 0h6v17h-6zm9 0h5v17h-5zm27 0h1v17h-1zm23 0h2v17h-2zm4 0h3v17h-3zm14 0h2v17h-2zm4 0h2v17h-2zm19 0h2v17h-2zm13 0h2v17h-2zm12 0h8v17h-8zm11 0h2v17h-2zm3 0h2v17h-2zm13 0h8v17h-8zm28 0h3v17h-3zm11 0h2v17h-2zm87 0h2v17h-2zm19 0h5v17h-5zm16 0h3v17h-3zm19 0h4v17h-4zm13 0h3v17h-3zm80 0h4v17h-4zm9 0h2v17h-2zm4 0h1v17h-1zm2 0h7v17h-7zm84 0h2v17h-2zm3 0h2v17h-2zm14 0h1v17h-1zm45 0h5v17h-5zM249 414h2v17h-2zm139 0h2v17h-2zm6 0h2v17h-2zm9 0h4v17h-4zm5 0h2v17h-2zm13 0h3v17h-3zm26 0h3v17h-3zm194 0h6v17h-6zm136 0h1v17h-1zm5 0h2v17h-2zm28 0h4v17h-4zm41 0h2v17h-2zm28 0h5v17h-5zm25 0h2v17h-2zm3 0h1v17h-1zm6 0h10v17h-10zm77 0h4v17h-4zm37 0h6v17h-6zm23 0h5v17h-5zm23 0h3v17h-3zm7 0h9v17h-9zm42 0h5v17h-5zm17 0h5v17h-5zm53 0h5v17h-5zm20 0h1v17h-1zm34 0h3v17h-3zm6 0h5v17h-5zm17 0h4v17h-4zm11 0h3v17h-3zm24 0h2v17h-2zm9 0h6v17h-6zm11 0h2v17h-2zm7 0h1v17h-1zm12 0h2v17h-2zm15 0h5v17h-5zm10 0h3v17h-3zm11 0h2v17h-2zm3 0h2v17h-2zm13 0h8v17h-8zm10 0h14v17h-14zm15 0h1v17h-1zm3 0h3v17h-3zm6 0h1v17h-1zm4 0h3v17h-3zm5 0h3v17h-3zm16 0h10v17h-10zm19 0h5v17h-5zm56 0h1v17h-1zm16 0h1v17h-1zm14 0h2v17h-2zm19 0h1v17h-1zm7 0h3v17h-3zm4 0h2v17h-2zm61 0h1v17h-1zm18 0h4v17h-4zm6 0h3v17h-3zm11 0h7v17h-7zm36 0h1v17h-1zm3 0h1v17h-1zm43 0h2v17h-2zm17 0h1v17h-1zm4 0h3v17h-3zm21 0h5v17h-5zm34 0h3v17h-3zM218 431h1v17h-1zm31 0h2v17h-2zm15 0h1v17h-1zm19 0h4v17h-4zm5 0h1v17h-1zm20 0h3v17h-3zm30 0h3v17h-3zm56 0h2v17h-2zm9 0h4v17h-4zm5 0h2v17h-2zm5 0h5v17h-5zm8 0h3v17h-3zm23 0h3v17h-3zm27 0h3v17h-3zm165 0h3v17h-3zm5 0h6v17h-6zm27 0h2v17h-2zm18 0h4v17h-4zm30 0h4v17h-4zm7 0h1v17h-1zm3 0h2v17h-2zm7 0h6v17h-6zm44 0h1v17h-1zm5 0h7v17h-7zm28 0h4v17h-4zm48 0h2v17h-2zm7 0h5v17h-5zm14 0h20v17h-20zm21 0h2v17h-2zm28 0h3v17h-3zm8 0h9v17h-9zm54 0h7v17h-7zm21 0h2v17h-2zm5 0h2v17h-2zm9 0h2v17h-2zm8 0h4v17h-4zm14 0h8v17h-8zm11 0h6v17h-6zm8 0h3v17h-3zm10 0h1v17h-1zm4 0h13v17h-13zm14 0h3v17h-3zm11 0h2v17h-2zm9 0h2v17h-2zm30 0h5v17h-5zm13 0h2v17h-2zm8 0h1v17h-1zm4 0h1v17h-1zm59 0h2v17h-2zm6 0h13v17h-13zm15 0h1v17h-1zm8 0h12v17h-12zm23 0h3v17h-3zm26 0h3v17h-3zm7 0h3v17h-3zm18 0h1v17h-1zm12 0h2v17h-2zm20 0h2v17h-2zm35 0h1v17h-1zm35 0h1v17h-1zm21 0h4v17h-4zm6 0h4v17h-4zm30 0h3v17h-3zm15 0h4v17h-4zm16 0h6v17h-6zm37 0h3v17h-3zm63 0h5v17h-5zm11 0h4v17h-4zm8 0h1v17h-1zm34 0h3v17h-3zm8 0h8v17h-8zm23 0h3v17h-3zm5 0h4v17h-4zm14 0h1v17h-1zm14 0h2v17h-2zm28 0h1v17h-1zm27 0h1v17h-1zm21 0h12v17h-12zm15 0h10v17h-10zm12 0h2v17h-2zm13 0h4v17h-4zm5 0h5v17h-5zM239 448h1v17h-1zm10 0h2v17h-2zm118 0h5v17h-5zm10 0h3v17h-3zm17 0h2v17h-2zm3 0h4v17h-4zm13 0h14v17h-14zm226 0h3v17h-3zm7 0h4v17h-4zm22 0h2v17h-2zm55 0h3v17h-3zm4 0h2v17h-2zm13 0h2v17h-2zm45 0h2v17h-2zm7 0h2v17h-2zm38 0h2v17h-2zm24 0h2v17h-2zm9 0h4v17h-4zm5 0h9v17h-9zm14 0h15v17h-15zm25 0h2v17h-2zm3 0h6v17h-6zm17 0h7v17h-7zm17 0h2v17h-2zm4 0h4v17h-4zm14 0h11v17h-11zm25 0h6v17h-6zm9 0h1v17h-1zm22 0h1v17h-1zm3 0h3v17h-3zm23 0h2v17h-2zm6 0h3v17h-3zm17 0h5v17h-5zm12 0h1v17h-1zm4 0h13v17h-13zm14 0h6v17h-6zm11 0h2v17h-2zm12 0h1v17h-1zm5 0h1v17h-1zm5 0h2v17h-2zm5 0h2v17h-2zm12 0h9v17h-9zm16 0h6v17h-6zm23 0h12v17h-12zm63 0h3v17h-3zm11 0h5v17h-5zm26 0h4v17h-4zm9 0h3v17h-3zm12 0h7v17h-7zm9 0h3v17h-3zm13 0h3v17h-3zm17 0h2v17h-2zm13 0h2v17h-2zm26 0h2v17h-2zm13 0h4v17h-4zm29 0h2v17h-2zm12 0h2v17h-2zm4 0h1v17h-1zm11 0h3v17h-3zm22 0h12v17h-12zm18 0h2v17h-2zm4 0h1v17h-1zm10 0h4v17h-4zm16 0h6v17h-6zm30 0h7v17h-7zm12 0h2v17h-2zm23 0h2v17h-2zm3 0h2v17h-2zm32 0h5v17h-5zm7 0h4v17h-4zm12 0h1v17h-1zm28 0h9v17h-9zm11 0h2v17h-2zm4 0h2v17h-2zm38 0h1v17h-1zm3 0h1v17h-1zm22 0h3v17h-3zm11 0h6v17h-6zm68 0h1v17h-1zM471 465h2v17h-2zm169 0h1v17h-1zm36 0h3v17h-3zm9 0h1v17h-1zm90 0h2v17h-2zm7 0h2v17h-2zm7 0h2v17h-2zm7 0h5v17h-5zm62 0h6v17h-6zm7 0h9v17h-9zm52 0h5v17h-5zm7 0h7v17h-7zm12 0h7v17h-7zm9 0h4v17h-4zm18 0h7v17h-7zm31 0h3v17h-3zm10 0h1v17h-1zm14 0h3v17h-3zm27 0h2v17h-2zm5 0h5v17h-5zm8 0h3v17h-3zm8 0h3v17h-3zm10 0h1v17h-1zm4 0h17v17h-17zm25 0h2v17h-2zm12 0h1v17h-1zm27 0h9v17h-9zm22 0h3v17h-3zm4 0h2v17h-2zm14 0h11v17h-11zm42 0h2v17h-2zm4 0h4v17h-4zm20 0h1v17h-1zm14 0h15v17h-15zm16 0h12v17h-12zm15 0h5v17h-5zm9 0h7v17h-7zm9 0h3v17h-3zm32 0h3v17h-3zm20 0h6v17h-6zm21 0h6v17h-6zm62 0h6v17h-6zm16 0h1v17h-1zm9 0h12v17h-12zm17 0h3v17h-3zm55 0h1v17h-1zm33 0h5v17h-5zm7 0h1v17h-1zm56 0h7v17h-7zm9 0h1v17h-1zm6 0h2v17h-2zm7 0h11v17h-11zm90 0h3v17h-3zm4 0h6v17h-6zm60 0h8v17h-8zm12 0h5v17h-5zm12 0h9v17h-9zm13 0h4v17h-4zM367 482h5v17h-5zm10 0h3v17h-3zm36 0h5v17h-5zm227 0h1v17h-1zm11 0h3v17h-3zm10 0h3v17h-3zm29 0h3v17h-3zm30 0h3v17h-3zm4 0h2v17h-2zm53 0h1v17h-1zm27 0h2v17h-2zm6 0h4v17h-4zm41 0h3v17h-3zm13 0h1v17h-1zm6 0h1v17h-1zm9 0h5v17h-5zm14 0h1v17h-1zm9 0h4v17h-4zm5 0h1v17h-1zm15 0h9v17h-9zm19 0h2v17h-2zm18 0h4v17h-4zm35 0h7v17h-7zm13 0h3v17h-3zm4 0h2v17h-2zm10 0h2v17h-2zm64 0h4v17h-4zm59 0h5v17h-5zm21 0h4v17h-4zm5 0h2v17h-2zm14 0h3v17h-3zm8 0h5v17h-5zm13 0h2v17h-2zm5 0h3v17h-3zm5 0h4v17h-4zm19 0h5v17h-5zm49 0h4v17h-4zm12 0h5v17h-5zm9 0h7v17h-7zm9 0h6v17h-6zm18 0h2v17h-2zm50 0h1v17h-1zm3 0h2v17h-2zm11 0h4v17h-4zm8 0h2v17h-2zm11 0h5v17h-5zm9 0h1v17h-1zm7 0h3v17h-3zm10 0h1v17h-1zm6 0h2v17h-2zm32 0h15v17h-15zm16 0h1v17h-1zm4 0h16v17h-16zm17 0h8v17h-8zm14 0h1v17h-1zm17 0h5v17h-5zm6 0h4v17h-4zm11 0h4v17h-4zm95 0h5v17h-5zm25 0h7v17h-7zm35 0h4v17h-4zm6 0h1v17h-1zm5 0h4v17h-4zm20 0h3v17h-3zm20 0h1v17h-1zm40 0h8v17h-8zm10 0h3v17h-3zm22 0h5v17h-5zm13 0h4v17h-4zM83 499h2v17h-2zm7 0h6v17h-6zm381 0h2v17h-2zm180 0h3v17h-3zm10 0h3v17h-3zm43 0h2v17h-2zm5 0h3v17h-3zm11 0h3v17h-3zm4 0h2v17h-2zm6 0h1v17h-1zm16 0h2v17h-2zm27 0h2v17h-2zm28 0h3v17h-3zm9 0h4v17h-4zm17 0h2v17h-2zm7 0h2v17h-2zm19 0h1v17h-1zm5 0h2v17h-2zm6 0h1v17h-1zm6 0h4v17h-4zm23 0h1v17h-1zm14 0h6v17h-6zm16 0h13v17h-13zm36 0h11v17h-11zm46 0h5v17h-5zm32 0h6v17h-6zm8 0h5v17h-5zm13 0h6v17h-6zm8 0h3v17h-3zm10 0h1v17h-1zm4 0h9v17h-9zm13 0h1v17h-1zm12 0h8v17h-8zm11 0h1v17h-1zm9 0h4v17h-4zm35 0h2v17h-2zm6 0h2v17h-2zm60 0h4v17h-4zm15 0h2v17h-2zm5 0h3v17h-3zm4 0h14v17h-14zm19 0h4v17h-4zm6 0h4v17h-4zm5 0h3v17h-3zm7 0h5v17h-5zm39 0h3v17h-3zm5 0h1v17h-1zm12 0h2v17h-2zm52 0h3v17h-3zm8 0h2v17h-2zm48 0h7v17h-7zm11 0h8v17h-8zm16 0h2v17h-2zm12 0h3v17h-3zm31 0h2v17h-2zm24 0h1v17h-1zm6 0h1v17h-1zm7 0h1v17h-1zm61 0h2v17h-2zm195 0h3v17h-3zm15 0h5v17h-5zm14 0h3v17h-3zM96 516h3v17h-3zm249 0h1v17h-1zm329 0h2v17h-2zm21 0h3v17h-3zm89 0h7v17h-7zm43 0h2v17h-2zm19 0h1v17h-1zm8 0h2v17h-2zm39 0h1v17h-1zm35 0h3v17h-3zm17 0h9v17h-9zm18 0h12v17h-12zm31 0h3v17h-3zm11 0h2v17h-2zm6 0h2v17h-2zm10 0h2v17h-2zm6 0h4v17h-4zm7 0h9v17h-9zm11 0h5v17h-5zm13 0h3v17h-3zm8 0h3v17h-3zm10 0h1v17h-1zm17 0h1v17h-1zm12 0h2v17h-2zm8 0h1v17h-1zm10 0h2v17h-2zm4 0h2v17h-2zm39 0h2v17h-2zm18 0h11v17h-11zm42 0h21v17h-21zm31 0h7v17h-7zm12 0h4v17h-4zm6 0h8v17h-8zm12 0h5v17h-5zm17 0h5v17h-5zm12 0h4v17h-4zm6 0h1v17h-1zm9 0h1v17h-1zm12 0h2v17h-2zm52 0h3v17h-3zm4 0h4v17h-4zm13 0h7v17h-7zm18 0h3v17h-3zm6 0h2v17h-2zm28 0h1v17h-1zm27 0h2v17h-2zm4 0h3v17h-3zm6 0h1v17h-1zm44 0h1v17h-1zm6 0h5v17h-5zm7 0h3v17h-3zm7 0h2v17h-2zm67 0h9v17h-9zm36 0h6v17h-6zm11 0h3v17h-3zm6 0h5v17h-5zm39 0h1v17h-1zm53 0h4v17h-4zm7 0h1v17h-1zm35 0h3v17h-3zm15 0h5v17h-5zm7 0h1v17h-1zm2 0h7v17h-7zm9 0h2v17h-2zM352 533h3v17h-3zm10 0h5v17h-5zm278 0h1v17h-1zm7 0h2v17h-2zm90 0h2v17h-2zm52 0h2v17h-2zm67 0h2v17h-2zm14 0h14v17h-14zm32 0h4v17h-4zm21 0h5v17h-5zm8 0h5v17h-5zm10 0h2v17h-2zm22 0h12v17h-12zm31 0h7v17h-7zm10 0h1v17h-1zm9 0h3v17h-3zm5 0h3v17h-3zm5 0h8v17h-8zm11 0h7v17h-7zm11 0h2v17h-2zm21 0h3v17h-3zm10 0h1v17h-1zm9 0h4v17h-4zm8 0h1v17h-1zm12 0h2v17h-2zm7 0h1v17h-1zm2 0h2v17h-2zm3 0h1v17h-1zm6 0h2v17h-2zm30 0h3v17h-3zm7 0h2v17h-2zm5 0h4v17h-4zm50 0h2v17h-2zm11 0h8v17h-8zm15 0h5v17h-5zm16 0h7v17h-7zm18 0h8v17h-8zm29 0h2v17h-2zm5 0h2v17h-2zm7 0h4v17h-4zm6 0h1v17h-1zm2 0h2v17h-2zm7 0h2v17h-2zm12 0h2v17h-2zm20 0h5v17h-5zm13 0h3v17h-3zm6 0h4v17h-4zm9 0h7v17h-7zm19 0h2v17h-2zm9 0h2v17h-2zm5 0h5v17h-5zm10 0h4v17h-4zm12 0h2v17h-2zm18 0h1v17h-1zm9 0h5v17h-5zm22 0h3v17h-3zm6 0h1v17h-1zm8 0h5v17h-5zm6 0h1v17h-1zm14 0h1v17h-1zm16 0h1v17h-1zm6 0h1v17h-1zm8 0h2v17h-2zm51 0h2v17h-2zm9 0h2v17h-2zm9 0h4v17h-4zm46 0h3v17h-3zm5 0h2v17h-2zm3 0h1v17h-1zm84 0h1v17h-1zm4 0h21v17h-21zm39 0h5v17h-5zm10 0h3v17h-3zm10 0h5v17h-5zm13 0h8v17h-8zm10 0h2v17h-2zM83 550h2v17h-2zm113 0h3v17h-3zm7 0h4v17h-4zm191 0h2v17h-2zm24 0h3v17h-3zm35 0h1v17h-1zm5 0h4v17h-4zm6 0h3v17h-3zm7 0h6v17h-6zm17 0h4v17h-4zm10 0h2v17h-2zm125 0h2v17h-2zm17 0h1v17h-1zm7 0h2v17h-2zm39 0h4v17h-4zm7 0h1v17h-1zm2 0h3v17h-3zm11 0h7v17h-7zm24 0h7v17h-7zm45 0h2v17h-2zm3 0h2v17h-2zm6 0h5v17h-5zm12 0h8v17h-8zm40 0h5v17h-5zm10 0h1v17h-1zm54 0h2v17h-2zm23 0h13v17h-13zm26 0h10v17h-10zm14 0h14v17h-14zm25 0h2v17h-2zm5 0h1v17h-1zm25 0h5v17h-5zm29 0h11v17h-11zm19 0h6v17h-6zm19 0h4v17h-4zm9 0h3v17h-3zm11 0h2v17h-2zm13 0h2v17h-2zm26 0h5v17h-5zm9 0h3v17h-3zm7 0h2v17h-2zm8 0h1v17h-1zm5 0h2v17h-2zm10 0h1v17h-1zm4 0h5v17h-5zm18 0h2v17h-2zm10 0h2v17h-2zm19 0h5v17h-5zm12 0h1v17h-1zm4 0h1v17h-1zm7 0h7v17h-7zm12 0h4v17h-4zm11 0h3v17h-3zm24 0h7v17h-7zm15 0h1v17h-1zm33 0h4v17h-4zm30 0h2v17h-2zm37 0h2v17h-2zm4 0h1v17h-1zm3 0h3v17h-3zm8 0h2v17h-2zm14 0h6v17h-6zm17 0h8v17h-8zm13 0h2v17h-2zm12 0h3v17h-3zm33 0h4v17h-4zm36 0h2v17h-2zm87 0h2v17h-2zm17 0h5v17h-5zm61 0h1v17h-1zm45 0h1v17h-1zm5 0h3v17h-3zm4 0h3v17h-3zm7 0h3v17h-3zm34 0h3v17h-3zm15 0h5v17h-5zM283 567h4v17h-4zm20 0h2v17h-2zm30 0h2v17h-2zm31 0h3v17h-3zm340 0h2v17h-2zm9 0h3v17h-3zm7 0h3v17h-3zm10 0h1v17h-1zm106 0h5v17h-5zm11 0h4v17h-4zm52 0h1v17h-1zm50 0h19v17h-19zm39 0h2v17h-2zm9 0h4v17h-4zm7 0h1v17h-1zm12 0h2v17h-2zm7 0h2v17h-2zm14 0h4v17h-4zm8 0h2v17h-2zm10 0h3v17h-3zm6 0h3v17h-3zm83 0h5v17h-5zm24 0h1v17h-1zm10 0h1v17h-1zm27 0h2v17h-2zm12 0h2v17h-2zm4 0h5v17h-5zm25 0h1v17h-1zm3 0h2v17h-2zm8 0h7v17h-7zm12 0h4v17h-4zm11 0h3v17h-3zm44 0h2v17h-2zm8 0h1v17h-1zm9 0h4v17h-4zm13 0h2v17h-2zm4 0h7v17h-7zm23 0h1v17h-1zm40 0h2v17h-2zm8 0h1v17h-1zm7 0h2v17h-2zm4 0h1v17h-1zm24 0h1v17h-1zm31 0h1v17h-1zm7 0h3v17h-3zm13 0h1v17h-1zm43 0h5v17h-5zm27 0h1v17h-1zm4 0h2v17h-2zm30 0h2v17h-2zm7 0h6v17h-6zm120 0h6v17h-6zm7 0h3v17h-3zm4 0h9v17h-9zm12 0h1v17h-1zm8 0h4v17h-4zm8 0h6v17h-6zm37 0h3v17h-3zm7 0h5v17h-5zM233 584h4v17h-4zm100 0h5v17h-5zm15 0h4v17h-4zm356 0h2v17h-2zm74 0h2v17h-2zm4 0h2v17h-2zm65 0h4v17h-4zm52 0h5v17h-5zm14 0h4v17h-4zm10 0h1v17h-1zm26 0h14v17h-14zm61 0h1v17h-1zm11 0h4v17h-4zm10 0h2v17h-2zm10 0h2v17h-2zm4 0h2v17h-2zm40 0h4v17h-4zm8 0h1v17h-1zm30 0h2v17h-2zm9 0h2v17h-2zm25 0h2v17h-2zm8 0h4v17h-4zm5 0h2v17h-2zm5 0h4v17h-4zm9 0h3v17h-3zm21 0h2v17h-2zm10 0h2v17h-2zm91 0h5v17h-5zm16 0h1v17h-1zm21 0h2v17h-2zm20 0h8v17h-8zm13 0h3v17h-3zm23 0h4v17h-4zm22 0h2v17h-2zm5 0h4v17h-4zm7 0h1v17h-1zm7 0h1v17h-1zm18 0h4v17h-4zm37 0h3v17h-3zm7 0h3v17h-3zm21 0h4v17h-4zm28 0h1v17h-1zm7 0h1v17h-1zm3 0h2v17h-2zm58 0h2v17h-2zm7 0h14v17h-14zm32 0h4v17h-4zm5 0h5v17h-5zm11 0h3v17h-3zm8 0h3v17h-3zm64 0h3v17h-3zm7 0h3v17h-3zm66 0h3v17h-3zm10 0h5v17h-5zM95 601h4v18h-4zm34 0h2v18h-2zm6 0h1v18h-1zm4 0h5v18h-5zm41 0h1v18h-1zm16 0h3v18h-3zm53 0h2v18h-2zm5 0h2v18h-2zm6 0h19v18h-19zm23 0h4v18h-4zm5 0h1v18h-1zm8 0h1v18h-1zm122 0h3v18h-3zm8 0h15v18h-15zm18 0h9v18h-9zm70 0h4v18h-4zm33 0h5v18h-5zm64 0h5v18h-5zm29 0h1v18h-1zm11 0h7v18h-7zm16 0h1v18h-1zm3 0h4v18h-4zm6 0h5v18h-5zm10 0h4v18h-4zm9 0h3v18h-3zm9 0h2v18h-2zm9 0h3v18h-3zm7 0h3v18h-3zm84 0h2v18h-2zm3 0h3v18h-3zm7 0h5v18h-5zm27 0h5v18h-5zm10 0h5v18h-5zm7 0h12v18h-12zm13 0h3v18h-3zm52 0h18v18h-18zm31 0h14v18h-14zm21 0h2v18h-2zm7 0h2v18h-2zm12 0h7v18h-7zm11 0h2v18h-2zm10 0h1v18h-1zm6 0h2v18h-2zm64 0h4v18h-4zm8 0h1v18h-1zm24 0h1v18h-1zm6 0h2v18h-2zm34 0h2v18h-2zm3 0h2v18h-2zm52 0h1v18h-1zm9 0h5v18h-5zm18 0h2v18h-2zm7 0h3v18h-3zm4 0h1v18h-1zm2 0h10v18h-10zm12 0h5v18h-5zm15 0h4v18h-4zm8 0h5v18h-5zm95 0h2v18h-2zm23 0h5v18h-5zm49 0h4v18h-4zm24 0h2v18h-2zm18 0h2v18h-2zm33 0h1v18h-1zm22 0h1v18h-1zm7 0h1v18h-1zm3 0h2v18h-2zm22 0h2v18h-2zm30 0h2v18h-2zm37 0h1v18h-1zm13 0h5v18h-5zm104 0h2v18h-2zm10 0h1v18h-1zm7 0h7v18h-7zm20 0h2v18h-2zM129 619h2v17h-2zm3 0h6v17h-6zm48 0h2v17h-2zm16 0h3v17h-3zm37 0h4v17h-4zm21 0h2v17h-2zm6 0h19v17h-19zm28 0h1v17h-1zm9 0h2v17h-2zm129 0h15v17h-15zm18 0h9v17h-9zm69 0h5v17h-5zm101 0h4v17h-4zm6 0h3v17h-3zm21 0h2v17h-2zm120 0h1v17h-1zm46 0h3v17h-3zm7 0h5v17h-5zm27 0h5v17h-5zm10 0h2v17h-2zm3 0h2v17h-2zm4 0h2v17h-2zm7 0h5v17h-5zm6 0h3v17h-3zm99 0h5v17h-5zm27 0h4v17h-4zm18 0h1v17h-1zm6 0h2v17h-2zm96 0h1v17h-1zm39 0h1v17h-1zm9 0h1v17h-1zm47 0h1v17h-1zm22 0h7v17h-7zm12 0h1v17h-1zm4 0h1v17h-1zm7 0h5v17h-5zm7 0h5v17h-5zm11 0h5v17h-5zm12 0h5v17h-5zm56 0h2v17h-2zm38 0h1v17h-1zm24 0h5v17h-5zm73 0h2v17h-2zm18 0h2v17h-2zm19 0h1v17h-1zm37 0h4v17h-4zm6 0h1v17h-1zm3 0h2v17h-2zm33 0h2v17h-2zm6 0h1v17h-1zm13 0h2v17h-2zm19 0h4v17h-4zm26 0h4v17h-4zm19 0h2v17h-2zm13 0h2v17h-2zm77 0h2v17h-2zm18 0h6v17h-6zm34 0h3v17h-3zm35 0h4v17h-4zM295 636h1v17h-1zm31 0h1v17h-1zm22 0h4v17h-4zm26 0h3v17h-3zm44 0h3v17h-3zm80 0h2v17h-2zm28 0h4v17h-4zm26 0h1v17h-1zm3 0h8v17h-8zm70 0h2v17h-2zm26 0h7v17h-7zm61 0h1v17h-1zm8 0h3v17h-3zm4 0h4v17h-4zm6 0h1v17h-1zm3 0h6v17h-6zm10 0h5v17h-5zm15 0h2v17h-2zm43 0h3v17h-3zm6 0h3v17h-3zm7 0h5v17h-5zm65 0h5v17h-5zm10 0h13v17h-13zm17 0h1v17h-1zm11 0h5v17h-5zm6 0h5v17h-5zm13 0h7v17h-7zm9 0h9v17h-9zm14 0h4v17h-4zm11 0h7v17h-7zm23 0h1v17h-1zm32 0h2v17h-2zm9 0h7v17h-7zm21 0h3v17h-3zm11 0h3v17h-3zm31 0h3v17h-3zm10 0h5v17h-5zm6 0h1v17h-1zm40 0h3v17h-3zm4 0h2v17h-2zm3 0h2v17h-2zm15 0h3v17h-3zm9 0h3v17h-3zm55 0h2v17h-2zm11 0h1v17h-1zm2 0h17v17h-17zm70 0h1v17h-1zm2 0h2v17h-2zm8 0h1v17h-1zm13 0h2v17h-2zm17 0h3v17h-3zm6 0h3v17h-3zm8 0h3v17h-3zm15 0h1v17h-1zm124 0h1v17h-1zm31 0h5v17h-5zm6 0h6v17h-6zm13 0h18v17h-18zm20 0h1v17h-1zm3 0h3v17h-3zm22 0h3v17h-3zm22 0h4v17h-4zm187 0h3v17h-3zM295 653h1v17h-1zm60 0h5v17h-5zm9 0h3v17h-3zm127 0h1v17h-1zm35 0h4v17h-4zm99 0h2v17h-2zm26 0h3v17h-3zm7 0h3v17h-3zm7 0h2v17h-2zm20 0h1v17h-1zm28 0h3v17h-3zm7 0h3v17h-3zm6 0h4v17h-4zm5 0h2v17h-2zm6 0h2v17h-2zm25 0h1v17h-1zm8 0h3v17h-3zm21 0h3v17h-3zm16 0h3v17h-3zm12 0h3v17h-3zm28 0h4v17h-4zm6 0h1v17h-1zm11 0h6v17h-6zm40 0h3v17h-3zm9 0h4v17h-4zm9 0h1v17h-1zm6 0h8v17h-8zm17 0h4v17h-4zm14 0h4v17h-4zm11 0h5v17h-5zm23 0h1v17h-1zm4 0h4v17h-4zm67 0h2v17h-2zm41 0h2v17h-2zm7 0h1v17h-1zm2 0h2v17h-2zm3 0h1v17h-1zm59 0h2v17h-2zm8 0h3v17h-3zm138 0h1v17h-1zm2 0h2v17h-2zm12 0h5v17h-5zm9 0h2v17h-2zm7 0h2v17h-2zm6 0h7v17h-7zm10 0h3v17h-3zm8 0h3v17h-3zm8 0h2v17h-2zm7 0h1v17h-1zm8 0h13v17h-13zm15 0h9v17h-9zm20 0h2v17h-2zm4 0h2v17h-2zm3 0h5v17h-5zm49 0h1v17h-1zm6 0h2v17h-2zm18 0h7v17h-7zm15 0h5v17h-5zm6 0h10v17h-10zm66 0h4v17h-4zm5 0h4v17h-4zm104 0h4v17h-4zm75 0h3v17h-3zm58 0h3v17h-3zM352 670h3v17h-3zm80 0h9v17h-9zm12 0h3v17h-3zm199 0h4v17h-4zm18 0h4v17h-4zm13 0h7v17h-7zm12 0h4v17h-4zm9 0h5v17h-5zm9 0h5v17h-5zm26 0h1v17h-1zm48 0h2v17h-2zm6 0h5v17h-5zm7 0h3v17h-3zm28 0h3v17h-3zm22 0h10v17h-10zm12 0h5v17h-5zm7 0h5v17h-5zm11 0h8v17h-8zm18 0h4v17h-4zm13 0h2v17h-2zm6 0h5v17h-5zm62 0h7v17h-7zm18 0h2v17h-2zm76 0h2v17h-2zm43 0h5v17h-5zm7 0h2v17h-2zm3 0h3v17h-3zm6 0h4v17h-4zm9 0h2v17h-2zm7 0h5v17h-5zm20 0h1v17h-1zm13 0h3v17h-3zm6 0h1v17h-1zm9 0h5v17h-5zm12 0h1v17h-1zm6 0h2v17h-2zm41 0h1v17h-1zm3 0h1v17h-1zm13 0h11v17h-11zm21 0h12v17h-12zm39 0h4v17h-4zm7 0h4v17h-4zm7 0h5v17h-5zm7 0h4v17h-4zm11 0h2v17h-2zm32 0h3v17h-3zm79 0h5v17h-5zm30 0h1v17h-1zm3 0h3v17h-3zm4 0h3v17h-3zm7 0h5v17h-5zm12 0h2v17h-2zm6 0h2v17h-2zm40 0h4v17h-4zm8 0h3v17h-3zm4 0h4v17h-4zm10 0h2v17h-2zm5 0h2v17h-2zm16 0h2v17h-2zm3 0h2v17h-2zm15 0h13v17h-13zm46 0h3v17h-3zm5 0h3v17h-3zm4 0h2v17h-2zm57 0h3v17h-3zm6 0h7v17h-7zm21 0h2v17h-2zm18 0h6v17h-6zm49 0h5v17h-5zm7 0h1v17h-1zm11 0h6v17h-6zM88 687h1v17h-1zm108 0h3v17h-3zm7 0h4v17h-4zm13 0h2v17h-2zm17 0h4v17h-4zm6 0h1v17h-1zm10 0h2v17h-2zm47 0h1v17h-1zm56 0h8v17h-8zm12 0h8v17h-8zm10 0h3v17h-3zm13 0h1v17h-1zm5 0h2v17h-2zm9 0h2v17h-2zm17 0h3v17h-3zm23 0h3v17h-3zm175 0h2v17h-2zm16 0h4v17h-4zm7 0h10v17h-10zm25 0h1v17h-1zm10 0h2v17h-2zm19 0h1v17h-1zm2 0h5v17h-5zm67 0h1v17h-1zm22 0h5v17h-5zm7 0h3v17h-3zm10 0h3v17h-3zm5 0h8v17h-8zm28 0h2v17h-2zm17 0h2v17h-2zm5 0h4v17h-4zm9 0h14v17h-14zm24 0h4v17h-4zm11 0h4v17h-4zm23 0h1v17h-1zm26 0h5v17h-5zm14 0h5v17h-5zm7 0h5v17h-5zm18 0h2v17h-2zm25 0h2v17h-2zm28 0h2v17h-2zm52 0h1v17h-1zm14 0h5v17h-5zm10 0h1v17h-1zm5 0h3v17h-3zm7 0h3v17h-3zm5 0h5v17h-5zm23 0h2v17h-2zm8 0h1v17h-1zm7 0h3v17h-3zm6 0h1v17h-1zm9 0h5v17h-5zm12 0h1v17h-1zm6 0h2v17h-2zm41 0h3v17h-3zm4 0h1v17h-1zm2 0h10v17h-10zm17 0h4v17h-4zm14 0h12v17h-12zm71 0h2v17h-2zm27 0h1v17h-1zm5 0h3v17h-3zm108 0h1v17h-1zm4 0h3v17h-3zm11 0h5v17h-5zm12 0h2v17h-2zm6 0h3v17h-3zm24 0h1v17h-1zm7 0h1v17h-1zm5 0h4v17h-4zm8 0h4v17h-4zm7 0h5v17h-5zm7 0h1v17h-1zm28 0h2v17h-2zm6 0h2v17h-2zm17 0h4v17h-4zm14 0h1v17h-1zm8 0h4v17h-4zm14 0h9v17h-9zm97 0h1v17h-1zm9 0h3v17h-3zm7 0h6v17h-6zm24 0h5v17h-5zm16 0h1v17h-1zm9 0h5v17h-5zm8 0h1v17h-1zm4 0h4v17h-4zM107 704h1v17h-1zm59 0h2v17h-2zm37 0h7v17h-7zm11 0h2v17h-2zm4 0h3v17h-3zm8 0h4v17h-4zm126 0h3v17h-3zm10 0h2v17h-2zm5 0h5v17h-5zm7 0h3v17h-3zm70 0h3v17h-3zm6 0h3v17h-3zm8 0h3v17h-3zm4 0h3v17h-3zm64 0h4v17h-4zm6 0h4v17h-4zm15 0h5v17h-5zm31 0h1v17h-1zm8 0h3v17h-3zm78 0h1v17h-1zm10 0h2v17h-2zm12 0h4v17h-4zm38 0h15v17h-15zm19 0h10v17h-10zm19 0h1v17h-1zm22 0h5v17h-5zm43 0h2v17h-2zm122 0h5v17h-5zm14 0h12v17h-12zm25 0h2v17h-2zm62 0h16v17h-16zm26 0h9v17h-9zm37 0h1v17h-1zm3 0h1v17h-1zm4 0h2v17h-2zm7 0h2v17h-2zm5 0h2v17h-2zm7 0h5v17h-5zm10 0h4v17h-4zm8 0h2v17h-2zm5 0h4v17h-4zm107 0h4v17h-4zm18 0h8v17h-8zm60 0h1v17h-1zm9 0h6v17h-6zm54 0h4v17h-4zm84 0h8v17h-8zm21 0h1v17h-1zm6 0h2v17h-2zm8 0h1v17h-1zm5 0h1v17h-1zm6 0h5v17h-5zm12 0h4v17h-4zm23 0h3v17h-3zm14 0h2v17h-2zm30 0h2v17h-2zm13 0h4v17h-4zm108 0h3v17h-3zm17 0h3v17h-3zm21 0h3v17h-3zm7 0h6v17h-6zm11 0h1v17h-1zM107 721h2v17h-2zm11 0h1v17h-1zm6 0h4v17h-4zm34 0h1v17h-1zm8 0h2v17h-2zm14 0h1v17h-1zm23 0h4v17h-4zm11 0h2v17h-2zm12 0h4v17h-4zm13 0h1v17h-1zm56 0h1v17h-1zm57 0h8v17h-8zm12 0h8v17h-8zm10 0h3v17h-3zm9 0h2v17h-2zm4 0h1v17h-1zm31 0h3v17h-3zm13 0h1v17h-1zm10 0h3v17h-3zm6 0h3v17h-3zm33 0h2v17h-2zm8 0h3v17h-3zm25 0h9v17h-9zm20 0h3v17h-3zm14 0h5v17h-5zm16 0h2v17h-2zm23 0h3v17h-3zm15 0h5v17h-5zm15 0h2v17h-2zm9 0h2v17h-2zm7 0h4v17h-4zm7 0h2v17h-2zm10 0h2v17h-2zm25 0h5v17h-5zm21 0h5v17h-5zm33 0h2v17h-2zm5 0h6v17h-6zm10 0h5v17h-5zm25 0h2v17h-2zm7 0h2v17h-2zm3 0h2v17h-2zm4 0h2v17h-2zm19 0h3v17h-3zm5 0h8v17h-8zm21 0h2v17h-2zm72 0h1v17h-1zm64 0h19v17h-19zm21 0h4v17h-4zm34 0h3v17h-3zm32 0h14v17h-14zm50 0h5v17h-5zm13 0h1v17h-1zm26 0h5v17h-5zm10 0h7v17h-7zm8 0h2v17h-2zm12 0h1v17h-1zm30 0h1v17h-1zm13 0h5v17h-5zm61 0h2v17h-2zm14 0h8v17h-8zm22 0h4v17h-4zm38 0h1v17h-1zm7 0h9v17h-9zm11 0h3v17h-3zm47 0h2v17h-2zm26 0h2v17h-2zm27 0h5v17h-5zm31 0h6v17h-6zm31 0h3v17h-3zm7 0h1v17h-1zm6 0h5v17h-5zm6 0h6v17h-6zm15 0h2v17h-2zm4 0h2v17h-2zm6 0h4v17h-4zm8 0h4v17h-4zm7 0h2v17h-2zm33 0h2v17h-2zm21 0h1v17h-1zm57 0h5v17h-5zm21 0h3v17h-3zm28 0h3v17h-3zm7 0h3v17h-3zm4 0h3v17h-3zM239 738h1v17h-1zm113 0h3v17h-3zm15 0h5v17h-5zm124 0h1v17h-1zm355 0h1v17h-1zm460 0h3v17h-3zm279 0h1v17h-1zM83 755h2v17h-2zm52 0h1v17h-1zm45 0h1v17h-1zm19 0h4v17h-4zm61 0h4v17h-4zm13 0h3v17h-3zm62 0h3v17h-3zm48 0h2v17h-2zm11 0h2v17h-2zm16 0h3v17h-3zm52 0h2v17h-2zm29 0h1v17h-1zm41 0h1v17h-1zm109 0h2v17h-2zm23 0h1v17h-1zm45 0h3v17h-3zm24 0h4v17h-4zm28 0h1v17h-1zm2 0h5v17h-5zm10 0h4v17h-4zm11 0h5v17h-5zm12 0h5v17h-5zm14 0h4v17h-4zm43 0h1v17h-1zm46 0h1v17h-1zm5 0h2v17h-2zm27 0h5v17h-5zm44 0h7v17h-7zm29 0h1v17h-1zm14 0h3v17h-3zm16 0h3v17h-3zm7 0h2v17h-2zm23 0h2v17h-2zm16 0h13v17h-13zm27 0h6v17h-6zm10 0h1v17h-1zm32 0h4v17h-4zm16 0h1v17h-1zm47 0h1v17h-1zm7 0h9v17h-9zm22 0h2v17h-2zm8 0h1v17h-1zm24 0h6v17h-6zm27 0h2v17h-2zm6 0h13v17h-13zm14 0h3v17h-3zm4 0h2v17h-2zm7 0h2v17h-2zm5 0h5v17h-5zm46 0h2v17h-2zm38 0h1v17h-1zm6 0h3v17h-3zm10 0h4v17h-4zm5 0h7v17h-7zm24 0h5v17h-5zm28 0h1v17h-1zm3 0h5v17h-5zm6 0h3v17h-3zm13 0h8v17h-8zm20 0h5v17h-5zm23 0h1v17h-1zm3 0h2v17h-2zm4 0h2v17h-2zm31 0h4v17h-4zm9 0h7v17h-7zm8 0h2v17h-2zm19 0h4v17h-4zm14 0h2v17h-2zm10 0h2v17h-2zm23 0h2v17h-2zm18 0h5v17h-5zm25 0h2v17h-2zm3 0h4v17h-4zm11 0h4v17h-4zm13 0h3v17h-3zm7 0h10v17h-10zm35 0h7v17h-7zm13 0h2v17h-2zm15 0h3v17h-3zm10 0h5v17h-5zm10 0h3v17h-3zm13 0h2v17h-2zM184 772h12v17h-12zm15 0h4v17h-4zm13 0h2v17h-2zm6 0h3v17h-3zm22 0h1v17h-1zm140 0h3v17h-3zm8 0h2v17h-2zm4 0h2v17h-2zm13 0h2v17h-2zm3 0h2v17h-2zm16 0h2v17h-2zm58 0h5v17h-5zm48 0h2v17h-2zm5 0h1v17h-1zm6 0h4v17h-4zm14 0h5v17h-5zm21 0h2v17h-2zm3 0h2v17h-2zm15 0h2v17h-2zm99 0h1v17h-1zm5 0h2v17h-2zm48 0h2v17h-2zm29 0h2v17h-2zm14 0h2v17h-2zm7 0h8v17h-8zm14 0h4v17h-4zm9 0h3v17h-3zm28 0h6v17h-6zm7 0h10v17h-10zm11 0h9v17h-9zm34 0h3v17h-3zm5 0h2v17h-2zm73 0h5v17h-5zm7 0h6v17h-6zm10 0h3v17h-3zm56 0h11v17h-11zm16 0h3v17h-3zm14 0h5v17h-5zm9 0h4v17h-4zm40 0h3v17h-3zm10 0h5v17h-5zm17 0h3v17h-3zm4 0h5v17h-5zm9 0h1v17h-1zm7 0h3v17h-3zm8 0h8v17h-8zm192 0h3v17h-3zm8 0h5v17h-5zm7 0h1v17h-1zm102 0h1v17h-1zm9 0h3v17h-3zm21 0h4v17h-4zm62 0h1v17h-1zm3 0h1v17h-1zm58 0h2v17h-2zm10 0h2v17h-2zm122 0h3v17h-3zm15 0h1v17h-1zm16 0h5v17h-5zM95 789h1v17h-1zm89 0h4v17h-4zm15 0h8v17h-8zm15 0h4v17h-4zm12 0h4v17h-4zm23 0h2v17h-2zm40 0h2v17h-2zm8 0h2v17h-2zm6 0h2v17h-2zm13 0h3v17h-3zm51 0h5v17h-5zm13 0h5v17h-5zm14 0h2v17h-2zm7 0h2v17h-2zm9 0h3v17h-3zm26 0h5v17h-5zm11 0h3v17h-3zm6 0h5v17h-5zm25 0h1v17h-1zm2 0h2v17h-2zm13 0h2v17h-2zm5 0h2v17h-2zm15 0h5v17h-5zm9 0h10v17h-10zm13 0h1v17h-1zm6 0h11v17h-11zm12 0h2v17h-2zm7 0h3v17h-3zm10 0h1v17h-1zm19 0h5v17h-5zm85 0h2v17h-2zm5 0h2v17h-2zm14 0h1v17h-1zm5 0h2v17h-2zm8 0h7v17h-7zm27 0h4v17h-4zm44 0h1v17h-1zm12 0h2v17h-2zm38 0h2v17h-2zm14 0h5v17h-5zm6 0h11v17h-11zm13 0h14v17h-14zm40 0h2v17h-2zm4 0h2v17h-2zm55 0h4v17h-4zm16 0h7v17h-7zm9 0h6v17h-6zm39 0h2v17h-2zm11 0h3v17h-3zm13 0h3v17h-3zm8 0h6v17h-6zm9 0h2v17h-2zm16 0h5v17h-5zm32 0h1v17h-1zm13 0h2v17h-2zm14 0h10v17h-10zm17 0h1v17h-1zm4 0h5v17h-5zm16 0h3v17h-3zm11 0h5v17h-5zm62 0h1v17h-1zm2 0h1v17h-1zm11 0h7v17h-7zm25 0h5v17h-5zm22 0h2v17h-2zm15 0h2v17h-2zm7 0h1v17h-1zm12 0h2v17h-2zm28 0h5v17h-5zm13 0h2v17h-2zm7 0h1v17h-1zm47 0h2v17h-2zm55 0h1v17h-1zm3 0h2v17h-2zm6 0h3v17h-3zm21 0h4v17h-4zm62 0h1v17h-1zm16 0h4v17h-4zm18 0h2v17h-2zm9 0h8v17h-8zm12 0h1v17h-1zm6 0h2v17h-2zm10 0h2v17h-2zm36 0h3v17h-3zm12 0h1v17h-1zm115 0h3v17h-3zM88 806h1v17h-1zm12 0h5v17h-5zm16 0h3v17h-3zm11 0h2v17h-2zm12 0h5v17h-5zm7 0h2v17h-2zm5 0h2v17h-2zm8 0h2v17h-2zm15 0h1v17h-1zm86 0h3v17h-3zm23 0h4v17h-4zm6 0h2v17h-2zm8 0h2v17h-2zm38 0h3v17h-3zm29 0h8v17h-8zm21 0h2v17h-2zm11 0h5v17h-5zm22 0h3v17h-3zm40 0h3v17h-3zm24 0h9v17h-9zm16 0h2v17h-2zm15 0h1v17h-1zm5 0h12v17h-12zm15 0h3v17h-3zm8 0h4v17h-4zm6 0h6v17h-6zm13 0h3v17h-3zm5 0h5v17h-5zm6 0h5v17h-5zm8 0h10v17h-10zm15 0h2v17h-2zm22 0h2v17h-2zm4 0h3v17h-3zm5 0h15v17h-15zm18 0h6v17h-6zm61 0h2v17h-2zm5 0h3v17h-3zm11 0h3v17h-3zm87 0h3v17h-3zm12 0h3v17h-3zm122 0h4v17h-4zm47 0h2v17h-2zm53 0h2v17h-2zm6 0h3v17h-3zm11 0h6v17h-6zm19 0h8v17h-8zm50 0h2v17h-2zm5 0h5v17h-5zm44 0h3v17h-3zm65 0h2v17h-2zm205 0h2v17h-2zm8 0h4v17h-4zm19 0h5v17h-5zm173 0h2v17h-2zm16 0h1v17h-1zm12 0h7v17h-7zm21 0h2v17h-2zm83 0h3v17h-3zm61 0h2v17h-2zM80 823h5v17h-5zm8 0h1v17h-1zm2 0h17v17h-17zm18 0h1v17h-1zm4 0h7v17h-7zm12 0h4v17h-4zm5 0h7v17h-7zm10 0h14v17h-14zm19 0h13v17h-13zm16 0h6v17h-6zm29 0h11v17h-11zm13 0h10v17h-10zm14 0h3v17h-3zm7 0h3v17h-3zm9 0h8v17h-8zm14 0h3v17h-3zm16 0h7v17h-7zm13 0h2v17h-2zm14 0h16v17h-16zm18 0h31v17h-31zm56 0h8v17h-8zm10 0h3v17h-3zm5 0h4v17h-4zm5 0h21v17h-21zm24 0h32v17h-32zm40 0h4v17h-4zm13 0h3v17h-3zm5 0h1v17h-1zm12 0h1v17h-1zm2 0h5v17h-5zm25 0h8v17h-8zm14 0h1v17h-1zm4 0h3v17h-3zm9 0h2v17h-2zm15 0h5v17h-5zm10 0h1v17h-1zm6 0h2v17h-2zm3 0h17v17h-17zm22 0h50v17h-50zm145 0h2v17h-2zm50 0h8v17h-8zm11 0h3v17h-3zm15 0h25v17h-25zm38 0h5v17h-5zm11 0h3v17h-3zm22 0h1v17h-1zm141 0h3v17h-3zm7 0h2v17h-2zm6 0h3v17h-3zm14 0h3v17h-3zm5 0h3v17h-3zm7 0h3v17h-3zm4 0h8v17h-8zm35 0h1v17h-1zm11 0h9v17h-9zm11 0h3v17h-3zm61 0h2v17h-2zm5 0h10v17h-10zm13 0h2v17h-2zm6 0h2v17h-2zm7 0h2v17h-2zm20 0h49v17h-49zm63 0h7v17h-7zm10 0h1v17h-1zm12 0h2v17h-2zm12 0h2v17h-2zm76 0h2v17h-2zm5 0h2v17h-2zm12 0h2v17h-2zm10 0h2v17h-2zm8 0h4v17h-4zm8 0h2v17h-2zm8 0h23v17h-23zm31 0h1v17h-1zm22 0h4v17h-4zm11 0h1v17h-1zm6 0h5v17h-5zm11 0h1v17h-1zm16 0h11v17h-11zm12 0h12v17h-12zm47 0h2v17h-2zm10 0h4v17h-4zm10 0h10v17h-10zm12 0h10v17h-10zm16 0h7v17h-7zm11 0h5v17h-5zm7 0h3v17h-3zm5 0h5v17h-5zm21 0h6v17h-6zm7 0h18v17h-18zm21 0h6v17h-6zm20 0h4v17h-4zm6 0h5v17h-5zm12 0h7v17h-7zm12 0h1v17h-1zm8 0h2v17h-2zm5 0h8v17h-8zm33 0h1v17h-1zm10 0h6v17h-6zM88 840h1v17h-1zm2 0h5v17h-5zm10 0h5v17h-5zm12 0h4v17h-4zm20 0h4v17h-4zm14 0h7v17h-7zm15 0h7v17h-7zm51 0h4v17h-4zm6 0h1v17h-1zm21 0h1v17h-1zm7 0h5v17h-5zm30 0h3v17h-3zm13 0h2v17h-2zm40 0h2v17h-2zm4 0h15v17h-15zm19 0h3v17h-3zm25 0h3v17h-3zm24 0h2v17h-2zm25 0h6v17h-6zm15 0h3v17h-3zm6 0h3v17h-3zm17 0h1v17h-1zm3 0h4v17h-4zm12 0h1v17h-1zm3 0h5v17h-5zm11 0h2v17h-2zm12 0h3v17h-3zm13 0h12v17h-12zm14 0h1v17h-1zm4 0h3v17h-3zm17 0h2v17h-2zm7 0h3v17h-3zm18 0h1v17h-1zm3 0h8v17h-8zm10 0h3v17h-3zm23 0h2v17h-2zm4 0h2v17h-2zm7 0h7v17h-7zm18 0h8v17h-8zm81 0h4v17h-4zm15 0h7v17h-7zm14 0h5v17h-5zm17 0h3v17h-3zm7 0h1v17h-1zm3 0h2v17h-2zm16 0h5v17h-5zm45 0h5v17h-5zm12 0h1v17h-1zm7 0h5v17h-5zm11 0h3v17h-3zm8 0h14v17h-14zm52 0h5v17h-5zm12 0h6v17h-6zm16 0h4v17h-4zm18 0h11v17h-11zm13 0h3v17h-3zm15 0h2v17h-2zm11 0h5v17h-5zm18 0h3v17h-3zm7 0h2v17h-2zm6 0h3v17h-3zm11 0h8v17h-8zm15 0h3v17h-3zm7 0h5v17h-5zm17 0h8v17h-8zm15 0h1v17h-1zm5 0h1v17h-1zm5 0h3v17h-3zm5 0h2v17h-2zm5 0h5v17h-5zm12 0h5v17h-5zm9 0h4v17h-4zm9 0h6v17h-6zm14 0h3v17h-3zm11 0h5v17h-5zm18 0h5v17h-5zm8 0h2v17h-2zm6 0h2v17h-2zm7 0h2v17h-2zm4 0h4v17h-4zm17 0h3v17h-3zm17 0h5v17h-5zm11 0h4v17h-4zm12 0h5v17h-5zm22 0h4v17h-4zm10 0h3v17h-3zm12 0h2v17h-2zm16 0h1v17h-1zm11 0h4v17h-4zm115 0h5v17h-5zm12 0h5v17h-5zm6 0h10v17h-10zm11 0h12v17h-12zm13 0h1v17h-1zm36 0h1v17h-1zm20 0h20v17h-20zm69 0h1v17h-1zm68 0h2v17h-2zm6 0h4v17h-4zm7 0h1v17h-1zm8 0h7v17h-7zm23 0h1v17h-1zm17 0h1v17h-1zm5 0h3v17h-3zm19 0h3v17h-3zM85 857h3v17h-3zm5 0h5v17h-5zm9 0h8v17h-8zm9 0h1v17h-1zm4 0h7v17h-7zm12 0h3v17h-3zm11 0h1v17h-1zm4 0h5v17h-5zm9 0h5v17h-5zm10 0h13v17h-13zm16 0h6v17h-6zm22 0h3v17h-3zm7 0h23v17h-23zm36 0h1v17h-1zm7 0h3v17h-3zm8 0h11v17h-11zm16 0h9v17h-9zm19 0h2v17h-2zm7 0h3v17h-3zm7 0h24v17h-24zm26 0h9v17h-9zm16 0h3v17h-3zm22 0h5v17h-5zm10 0h8v17h-8zm10 0h7v17h-7zm9 0h7v17h-7zm9 0h3v17h-3zm8 0h5v17h-5zm13 0h27v17h-27zm36 0h9v17h-9zm11 0h1v17h-1zm4 0h1v17h-1zm2 0h14v17h-14zm16 0h17v17h-17zm18 0h17v17h-17zm20 0h2v17h-2zm3 0h3v17h-3zm9 0h2v17h-2zm7 0h11v17h-11zm13 0h11v17h-11zm13 0h1v17h-1zm8 0h8v17h-8zm15 0h31v17h-31zm40 0h2v17h-2zm6 0h4v17h-4zm86 0h4v17h-4zm101 0h12v17h-12zm13 0h4v17h-4zm6 0h1v17h-1zm26 0h14v17h-14zm80 0h4v17h-4zm25 0h4v17h-4zm6 0h3v17h-3zm15 0h5v17h-5zm10 0h6v17h-6zm8 0h2v17h-2zm4 0h4v17h-4zm14 0h2v17h-2zm6 0h19v17h-19zm26 0h3v17h-3zm7 0h5v17h-5zm17 0h3v17h-3zm10 0h6v17h-6zm10 0h1v17h-1zm5 0h17v17h-17zm22 0h5v17h-5zm12 0h1v17h-1zm6 0h6v17h-6zm14 0h3v17h-3zm11 0h5v17h-5zm8 0h2v17h-2zm4 0h16v17h-16zm18 0h17v17h-17zm29 0h33v17h-33zm34 0h15v17h-15zm39 0h1v17h-1zm12 0h2v17h-2zm79 0h2v17h-2zm68 0h2v17h-2zm7 0h5v17h-5zm6 0h10v17h-10zm11 0h12v17h-12zm65 0h24v17h-24zm54 0h5v17h-5zm11 0h4v17h-4zm8 0h1v17h-1zm6 0h22v17h-22zm33 0h3v17h-3zm13 0h12v17h-12zm13 0h35v17h-35zm67 0h5v17h-5zm6 0h3v17h-3zm7 0h6v17h-6zm29 0h5v17h-5zm8 0h12v17h-12zm20 0h1v17h-1zm8 0h2v17h-2zm8 0h1v17h-1zm6 0h1v17h-1zM85 874h4v18h-4zm5 0h5v18h-5zm9 0h6v18h-6zm36 0h1v18h-1zm4 0h5v18h-5zm9 0h3v18h-3zm11 0h7v18h-7zm9 0h1v18h-1zm28 0h3v18h-3zm7 0h4v18h-4zm7 0h2v18h-2zm4 0h4v18h-4zm7 0h5v18h-5zm16 0h2v18h-2zm9 0h3v18h-3zm14 0h4v18h-4zm13 0h10v18h-10zm14 0h4v18h-4zm9 0h7v18h-7zm9 0h3v18h-3zm7 0h4v18h-4zm17 0h9v18h-9zm16 0h3v18h-3zm22 0h5v18h-5zm124 0h1v18h-1zm2 0h5v18h-5zm9 0h3v18h-3zm6 0h4v18h-4zm5 0h1v18h-1zm5 0h8v18h-8zm34 0h1v18h-1zm8 0h5v18h-5zm81 0h2v18h-2zm8 0h2v18h-2zm44 0h1v18h-1zm33 0h2v18h-2zm4 0h1v18h-1zm9 0h7v18h-7zm31 0h3v18h-3zm44 0h5v18h-5zm22 0h15v18h-15zm17 0h1v18h-1zm3 0h2v18h-2zm4 0h4v18h-4zm103 0h5v18h-5zm14 0h5v18h-5zm13 0h3v18h-3zm25 0h22v18h-22zm28 0h2v18h-2zm7 0h5v18h-5zm8 0h3v18h-3zm6 0h2v18h-2zm16 0h5v18h-5zm9 0h5v18h-5zm8 0h21v18h-21zm23 0h2v18h-2zm3 0h2v18h-2zm6 0h5v18h-5zm8 0h2v18h-2zm19 0h1v18h-1zm9 0h3v18h-3zm56 0h7v18h-7zm9 0h4v18h-4zm9 0h2v18h-2zm7 0h23v18h-23zm83 0h4v18h-4zm7 0h5v18h-5zm22 0h4v18h-4zm66 0h2v18h-2zm61 0h5v18h-5zm6 0h2v18h-2zm10 0h1v18h-1zm50 0h1v18h-1zm10 0h2v18h-2zm4 0h2v18h-2zm6 0h18v18h-18zm61 0h9v18h-9zm14 0h10v18h-10zm12 0h5v18h-5zm34 0h3v18h-3zm16 0h2v18h-2zm6 0h4v18h-4zm80 0h3v18h-3zm8 0h2v18h-2zm12 0h3v18h-3zm5 0h6v18h-6zm35 0h4v18h-4zM88 892h1v17h-1zm2 0h5v17h-5zm10 0h5v17h-5zm7 0h2v17h-2zm5 0h3v17h-3zm4 0h2v17h-2zm19 0h1v17h-1zm13 0h3v17h-3zm11 0h2v17h-2zm7 0h2v17h-2zm8 0h1v17h-1zm6 0h1v17h-1zm4 0h12v17h-12zm19 0h9v17h-9zm11 0h4v17h-4zm5 0h2v17h-2zm18 0h2v17h-2zm3 0h1v17h-1zm20 0h4v17h-4zm13 0h6v17h-6zm104 0h3v17h-3zm20 0h4v17h-4zm44 0h3v17h-3zm41 0h5v17h-5zm6 0h3v17h-3zm4 0h1v17h-1zm3 0h3v17h-3zm13 0h4v17h-4zm5 0h1v17h-1zm5 0h12v17h-12zm34 0h1v17h-1zm8 0h3v17h-3zm10 0h1v17h-1zm16 0h3v17h-3zm5 0h3v17h-3zm5 0h5v17h-5zm83 0h2v17h-2zm6 0h1v17h-1zm8 0h1v17h-1zm5 0h2v17h-2zm98 0h5v17h-5zm33 0h5v17h-5zm12 0h5v17h-5zm6 0h4v17h-4zm6 0h5v17h-5zm7 0h4v17h-4zm10 0h1v17h-1zm29 0h1v17h-1zm14 0h4v17h-4zm46 0h4v17h-4zm18 0h5v17h-5zm11 0h2v17h-2zm6 0h3v17h-3zm11 0h2v17h-2zm13 0h5v17h-5zm32 0h5v17h-5zm8 0h11v17h-11zm15 0h3v17h-3zm4 0h8v17h-8zm12 0h4v17h-4zm8 0h3v17h-3zm10 0h6v17h-6zm9 0h1v17h-1zm13 0h5v17h-5zm24 0h3v17h-3zm23 0h3v17h-3zm7 0h1v17h-1zm9 0h3v17h-3zm7 0h11v17h-11zm20 0h11v17h-11zm24 0h3v17h-3zm86 0h4v17h-4zm7 0h5v17h-5zm7 0h2v17h-2zm4 0h1v17h-1zm15 0h1v17h-1zm3 0h3v17h-3zm17 0h2v17h-2zm9 0h1v17h-1zm94 0h5v17h-5zm8 0h2v17h-2zm9 0h3v17h-3zm13 0h1v17h-1zm15 0h4v17h-4zm26 0h3v17h-3zm7 0h4v17h-4zm22 0h1v17h-1zm6 0h7v17h-7zm10 0h9v17h-9zm11 0h1v17h-1zm7 0h7v17h-7zm27 0h2v17h-2zm5 0h4v17h-4zm5 0h6v17h-6zm18 0h3v17h-3zm5 0h3v17h-3zm13 0h3v17h-3zm22 0h4v17h-4zm7 0h1v17h-1zm15 0h2v17h-2zm42 0h6v17h-6zm18 0h1v17h-1zm13 0h5v17h-5zm13 0h3v17h-3zm28 0h4v17h-4zm8 0h1v17h-1zm6 0h1v17h-1zM83 909h2v17h-2zm5 0h1v17h-1zm2 0h5v17h-5zm10 0h5v17h-5zm9 0h6v17h-6zm7 0h3v17h-3zm19 0h1v17h-1zm11 0h2v17h-2zm13 0h2v17h-2zm7 0h2v17h-2zm8 0h1v17h-1zm25 0h4v17h-4zm19 0h1v17h-1zm3 0h9v17h-9zm25 0h8v17h-8zm10 0h7v17h-7zm8 0h1v17h-1zm98 0h2v17h-2zm12 0h6v17h-6zm20 0h2v17h-2zm42 0h5v17h-5zm26 0h2v17h-2zm18 0h2v17h-2zm7 0h4v17h-4zm11 0h4v17h-4zm24 0h4v17h-4zm10 0h1v17h-1zm7 0h2v17h-2zm6 0h2v17h-2zm10 0h5v17h-5zm8 0h2v17h-2zm7 0h1v17h-1zm8 0h1v17h-1zm11 0h5v17h-5zm36 0h2v17h-2zm11 0h5v17h-5zm7 0h4v17h-4zm43 0h7v17h-7zm12 0h2v17h-2zm32 0h1v17h-1zm7 0h9v17h-9zm38 0h3v17h-3zm14 0h7v17h-7zm25 0h5v17h-5zm27 0h6v17h-6zm38 0h10v17h-10zm25 0h2v17h-2zm4 0h5v17h-5zm9 0h7v17h-7zm11 0h8v17h-8zm13 0h2v17h-2zm34 0h15v17h-15zm19 0h3v17h-3zm19 0h2v17h-2zm45 0h6v17h-6zm8 0h3v17h-3zm10 0h4v17h-4zm31 0h6v17h-6zm10 0h1v17h-1zm8 0h2v17h-2zm4 0h5v17h-5zm24 0h3v17h-3zm9 0h3v17h-3zm43 0h2v17h-2zm8 0h2v17h-2zm6 0h2v17h-2zm11 0h4v17h-4zm22 0h5v17h-5zm246 0h4v17h-4zm7 0h9v17h-9zm73 0h5v17h-5zm10 0h1v17h-1zm6 0h2v17h-2zm4 0h2v17h-2zm8 0h7v17h-7zm9 0h4v17h-4zm64 0h2v17h-2zM83 926h2v17h-2zm24 0h2v17h-2zm5 0h3v17h-3zm15 0h1v17h-1zm21 0h3v17h-3zm11 0h9v17h-9zm15 0h1v17h-1zm6 0h2v17h-2zm4 0h12v17h-12zm19 0h4v17h-4zm7 0h8v17h-8zm9 0h2v17h-2zm18 0h2v17h-2zm3 0h1v17h-1zm6 0h3v17h-3zm5 0h5v17h-5zm126 0h3v17h-3zm6 0h2v17h-2zm11 0h2v17h-2zm3 0h4v17h-4zm10 0h1v17h-1zm19 0h5v17h-5zm15 0h9v17h-9zm36 0h16v17h-16zm18 0h17v17h-17zm18 0h17v17h-17zm34 0h8v17h-8zm29 0h2v17h-2zm5 0h8v17h-8zm10 0h3v17h-3zm58 0h2v17h-2zm30 0h2v17h-2zm6 0h1v17h-1zm10 0h5v17h-5zm18 0h3v17h-3zm17 0h1v17h-1zm97 0h9v17h-9zm20 0h7v17h-7zm9 0h8v17h-8zm48 0h2v17h-2zm4 0h5v17h-5zm15 0h1v17h-1zm5 0h3v17h-3zm8 0h5v17h-5zm23 0h4v17h-4zm16 0h7v17h-7zm9 0h4v17h-4zm10 0h3v17h-3zm24 0h3v17h-3zm40 0h3v17h-3zm8 0h6v17h-6zm34 0h7v17h-7zm12 0h2v17h-2zm4 0h6v17h-6zm7 0h2v17h-2zm6 0h5v17h-5zm41 0h2v17h-2zm35 0h5v17h-5zm8 0h2v17h-2zm6 0h2v17h-2zm9 0h6v17h-6zm13 0h2v17h-2zm91 0h1v17h-1zm9 0h2v17h-2zm6 0h1v17h-1zm11 0h4v17h-4zm13 0h8v17h-8zm10 0h3v17h-3zm10 0h1v17h-1zm94 0h5v17h-5zm11 0h2v17h-2zm6 0h3v17h-3zm27 0h5v17h-5zm42 0h4v17h-4zm12 0h2v17h-2zm17 0h1v17h-1zm19 0h2v17h-2zm13 0h9v17h-9zm14 0h4v17h-4zm12 0h4v17h-4zm16 0h3v17h-3zm5 0h3v17h-3zm6 0h5v17h-5zm10 0h7v17h-7zm9 0h1v17h-1zm4 0h2v17h-2zm10 0h3v17h-3zm54 0h6v17h-6zm16 0h3v17h-3zm64 0h7v17h-7zm12 0h1v17h-1zM80 943h9v17h-9zm35 0h3v17h-3zm4 0h8v17h-8zm12 0h1v17h-1zm5 0h2v17h-2zm3 0h12v17h-12zm14 0h5v17h-5zm6 0h2v17h-2zm10 0h5v17h-5zm6 0h5v17h-5zm7 0h6v17h-6zm21 0h4v17h-4zm13 0h3v17h-3zm5 0h5v17h-5zm18 0h1v17h-1zm2 0h5v17h-5zm13 0h2v17h-2zm106 0h2v17h-2zm12 0h5v17h-5zm15 0h5v17h-5zm14 0h6v17h-6zm31 0h12v17h-12zm15 0h3v17h-3zm7 0h7v17h-7zm8 0h3v17h-3zm12 0h4v17h-4zm6 0h2v17h-2zm7 0h4v17h-4zm5 0h1v17h-1zm6 0h2v17h-2zm4 0h3v17h-3zm12 0h4v17h-4zm18 0h1v17h-1zm3 0h1v17h-1zm18 0h2v17h-2zm10 0h2v17h-2zm7 0h1v17h-1zm8 0h3v17h-3zm8 0h3v17h-3zm5 0h3v17h-3zm45 0h5v17h-5zm13 0h2v17h-2zm57 0h3v17h-3zm24 0h1v17h-1zm45 0h2v17h-2zm19 0h2v17h-2zm10 0h2v17h-2zm23 0h7v17h-7zm14 0h5v17h-5zm6 0h7v17h-7zm9 0h2v17h-2zm4 0h4v17h-4zm48 0h5v17h-5zm9 0h5v17h-5zm11 0h3v17h-3zm8 0h5v17h-5zm23 0h4v17h-4zm42 0h9v17h-9zm10 0h4v17h-4zm10 0h2v17h-2zm43 0h2v17h-2zm5 0h3v17h-3zm8 0h3v17h-3zm12 0h5v17h-5zm18 0h5v17h-5zm15 0h3v17h-3zm7 0h5v17h-5zm66 0h2v17h-2zm4 0h8v17h-8zm11 0h2v17h-2zm3 0h2v17h-2zm13 0h4v17h-4zm15 0h2v17h-2zm91 0h1v17h-1zm9 0h2v17h-2zm27 0h8v17h-8zm13 0h1v17h-1zm11 0h3v17h-3zm117 0h5v17h-5zm14 0h6v17h-6zm11 0h1v17h-1zm6 0h5v17h-5zm21 0h2v17h-2zm33 0h2v17h-2zm4 0h2v17h-2zm12 0h2v17h-2zm5 0h6v17h-6zm11 0h2v17h-2zm10 0h4v17h-4zm56 0h3v17h-3zm5 0h5v17h-5zm145 0h1v17h-1zm12 0h4v17h-4zM99 960h1v17h-1zm6 0h2v17h-2zm7 0h6v17h-6zm7 0h8v17h-8zm10 0h2v17h-2zm3 0h3v17h-3zm6 0h6v17h-6zm8 0h2v17h-2zm5 0h2v17h-2zm8 0h2v17h-2zm12 0h3v17h-3zm10 0h3v17h-3zm75 0h9v17h-9zm17 0h6v17h-6zm82 0h9v17h-9zm12 0h18v17h-18zm20 0h9v17h-9zm10 0h11v17h-11zm13 0h11v17h-11zm14 0h2v17h-2zm7 0h13v17h-13zm23 0h17v17h-17zm20 0h5v17h-5zm6 0h2v17h-2zm11 0h1v17h-1zm2 0h5v17h-5zm59 0h1v17h-1zm8 0h3v17h-3zm41 0h5v17h-5zm13 0h2v17h-2zm35 0h2v17h-2zm5 0h4v17h-4zm11 0h5v17h-5zm9 0h2v17h-2zm5 0h14v17h-14zm19 0h2v17h-2zm6 0h5v17h-5zm8 0h1v17h-1zm8 0h3v17h-3zm60 0h2v17h-2zm21 0h3v17h-3zm21 0h5v17h-5zm7 0h12v17h-12zm18 0h6v17h-6zm7 0h4v17h-4zm6 0h4v17h-4zm10 0h1v17h-1zm4 0h15v17h-15zm19 0h14v17h-14zm15 0h15v17h-15zm23 0h5v17h-5zm12 0h2v17h-2zm6 0h14v17h-14zm74 0h2v17h-2zm54 0h3v17h-3zm28 0h2v17h-2zm11 0h1v17h-1zm4 0h17v17h-17zm19 0h5v17h-5zm31 0h2v17h-2zm51 0h26v17h-26zm41 0h7v17h-7zm74 0h5v17h-5zm32 0h3v17h-3zm11 0h2v17h-2zm3 0h10v17h-10zm111 0h28v17h-28zm34 0h18v17h-18zm32 0h4v17h-4zm6 0h21v17h-21zm23 0h1v17h-1zm31 0h9v17h-9zm13 0h9v17h-9zM85 977h5v17h-5zm14 0h1v17h-1zm10 0h7v17h-7zm22 0h1v17h-1zm4 0h1v17h-1zm3 0h1v17h-1zm6 0h2v17h-2zm4 0h3v17h-3zm11 0h2v17h-2zm9 0h3v17h-3zm12 0h1v17h-1zm2 0h2v17h-2zm14 0h3v17h-3zm25 0h9v17h-9zm16 0h2v17h-2zm14 0h3v17h-3zm9 0h4v17h-4zm16 0h3v17h-3zm35 0h5v17h-5zm10 0h1v17h-1zm10 0h7v17h-7zm14 0h1v17h-1zm29 0h11v17h-11zm13 0h3v17h-3zm5 0h11v17h-11zm15 0h1v17h-1zm3 0h8v17h-8zm11 0h3v17h-3zm5 0h5v17h-5zm6 0h4v17h-4zm45 0h2v17h-2zm5 0h16v17h-16zm18 0h12v17h-12zm13 0h17v17h-17zm23 0h3v17h-3zm5 0h11v17h-11zm12 0h7v17h-7zm10 0h2v17h-2zm7 0h1v17h-1zm21 0h5v17h-5zm15 0h10v17h-10zm12 0h5v17h-5zm18 0h4v17h-4zm15 0h3v17h-3zm34 0h1v17h-1zm10 0h5v17h-5zm35 0h1v17h-1zm97 0h9v17h-9zm14 0h10v17h-10zm33 0h5v17h-5zm20 0h5v17h-5zm8 0h2v17h-2zm6 0h9v17h-9zm35 0h2v17h-2zm6 0h14v17h-14zm19 0h2v17h-2zm7 0h9v17h-9zm38 0h2v17h-2zm8 0h10v17h-10zm43 0h5v17h-5zm16 0h13v17h-13zm32 0h2v17h-2zm4 0h2v17h-2zm6 0h22v17h-22zm77 0h1v17h-1zm14 0h2v17h-2zm6 0h2v17h-2zm9 0h2v17h-2zm18 0h1v17h-1zm5 0h1v17h-1zm97 0h4v17h-4zm8 0h6v17h-6zm7 0h5v17h-5zm8 0h5v17h-5zm10 0h1v17h-1zm10 0h1v17h-1zm103 0h2v17h-2zm7 0h1v17h-1zm4 0h4v17h-4zm9 0h1v17h-1zm13 0h3v17h-3zm7 0h1v17h-1zm6 0h5v17h-5zm21 0h2v17h-2zm6 0h4v17h-4zm16 0h2v17h-2zm5 0h1v17h-1zm8 0h2v17h-2zm25 0h5v17h-5zm11 0h4v17h-4zm8 0h8v17h-8zm11 0h5v17h-5zm12 0h5v17h-5zm11 0h3v17h-3zm7 0h1v17h-1zm85 0h4v17h-4zm6 0h9v17h-9zm13 0h6v17h-6zM85 994h4v17h-4zm5 0h5v17h-5zm17 0h1v17h-1zm2 0h3v17h-3zm6 0h4v17h-4zm12 0h1v17h-1zm4 0h1v17h-1zm4 0h1v17h-1zm3 0h1v17h-1zm6 0h7v17h-7zm22 0h3v17h-3zm9 0h5v17h-5zm6 0h1v17h-1zm26 0h3v17h-3zm9 0h2v17h-2zm3 0h2v17h-2zm11 0h7v17h-7zm11 0h5v17h-5zm10 0h9v17h-9zm12 0h1v17h-1zm45 0h3v17h-3zm27 0h3v17h-3zm57 0h5v17h-5zm18 0h14v17h-14zm16 0h5v17h-5zm6 0h4v17h-4zm12 0h3v17h-3zm33 0h1v17h-1zm3 0h7v17h-7zm12 0h3v17h-3zm21 0h1v17h-1zm13 0h4v17h-4zm15 0h11v17h-11zm14 0h5v17h-5zm8 0h2v17h-2zm15 0h3v17h-3zm11 0h5v17h-5zm12 0h17v17h-17zm19 0h3v17h-3zm29 0h2v17h-2zm5 0h4v17h-4zm41 0h5v17h-5zm18 0h3v17h-3zm116 0h7v17h-7zm12 0h5v17h-5zm6 0h4v17h-4zm7 0h2v17h-2zm20 0h5v17h-5zm20 0h5v17h-5zm10 0h3v17h-3zm27 0h5v17h-5zm12 0h2v17h-2zm16 0h4v17h-4zm16 0h9v17h-9zm30 0h2v17h-2zm6 0h2v17h-2zm5 0h5v17h-5zm48 0h8v17h-8zm13 0h12v17h-12zm16 0h1v17h-1zm20 0h1v17h-1zm5 0h2v17h-2zm4 0h1v17h-1zm5 0h2v17h-2zm7 0h3v17h-3zm5 0h5v17h-5zm60 0h1v17h-1zm11 0h2v17h-2zm9 0h2v17h-2zm9 0h2v17h-2zm23 0h1v17h-1zm69 0h4v17h-4zm16 0h5v17h-5zm16 0h6v17h-6zm16 0h3v17h-3zm11 0h2v17h-2zm10 0h6v17h-6zm106 0h1v17h-1zm6 0h1v17h-1zm13 0h2v17h-2zm9 0h11v17h-11zm44 0h4v17h-4zm11 0h8v17h-8zm10 0h3v17h-3zm31 0h2v17h-2zm13 0h18v17h-18zm42 0h3v17h-3zm5 0h3v17h-3zm6 0h5v17h-5zm37 0h2v17h-2zm45 0h3v17h-3zm11 0h3v17h-3zm7 0h3v17h-3zM83 1011h2v17h-2zm25 0h1v17h-1zm7 0h1v17h-1zm3 0h1v17h-1zm13 0h1v17h-1zm4 0h1v17h-1zm9 0h2v17h-2zm4 0h3v17h-3zm20 0h1v17h-1zm7 0h6v17h-6zm18 0h3v17h-3zm28 0h5v17h-5zm16 0h2v17h-2zm9 0h3v17h-3zm17 0h2v17h-2zm13 0h3v17h-3zm36 0h4v17h-4zm23 0h6v17h-6zm10 0h1v17h-1zm43 0h2v17h-2zm4 0h2v17h-2zm4 0h1v17h-1zm7 0h28v17h-28zm41 0h3v17h-3zm14 0h3v17h-3zm7 0h6v17h-6zm12 0h1v17h-1zm3 0h7v17h-7zm12 0h1v17h-1zm3 0h3v17h-3zm13 0h4v17h-4zm5 0h1v17h-1zm13 0h4v17h-4zm10 0h3v17h-3zm5 0h14v17h-14zm19 0h3v17h-3zm10 0h1v17h-1zm8 0h3v17h-3zm8 0h3v17h-3zm5 0h5v17h-5zm10 0h5v17h-5zm15 0h2v17h-2zm7 0h2v17h-2zm4 0h9v17h-9zm14 0h2v17h-2zm38 0h2v17h-2zm30 0h3v17h-3zm21 0h3v17h-3zm9 0h7v17h-7zm88 0h7v17h-7zm9 0h15v17h-15zm66 0h4v17h-4zm6 0h9v17h-9zm14 0h1v17h-1zm9 0h5v17h-5zm12 0h6v17h-6zm58 0h3v17h-3zm12 0h2v17h-2zm3 0h2v17h-2zm39 0h3v17h-3zm11 0h3v17h-3zm11 0h3v17h-3zm8 0h8v17h-8zm32 0h1v17h-1zm3 0h2v17h-2zm5 0h2v17h-2zm70 0h2v17h-2zm10 0h3v17h-3zm8 0h2v17h-2zm6 0h2v17h-2zm9 0h2v17h-2zm11 0h2v17h-2zm12 0h1v17h-1zm13 0h5v17h-5zm56 0h4v17h-4zm16 0h5v17h-5zm27 0h2v17h-2zm138 0h1v17h-1zm8 0h5v17h-5zm6 0h1v17h-1zm104 0h2v17h-2zm17 0h5v17h-5zm133 0h1v17h-1zM108 1028h8v17h-8zm11 0h8v17h-8zm10 0h3v17h-3zm10 0h5v17h-5zm14 0h5v17h-5zm13 0h3v17h-3zm5 0h3v17h-3zm66 0h2v17h-2zm9 0h3v17h-3zm5 0h3v17h-3zm9 0h4v17h-4zm16 0h3v17h-3zm32 0h3v17h-3zm4 0h4v17h-4zm80 0h2v17h-2zm4 0h5v17h-5zm14 0h14v17h-14zm16 0h5v17h-5zm6 0h4v17h-4zm29 0h1v17h-1zm4 0h6v17h-6zm12 0h1v17h-1zm5 0h6v17h-6zm9 0h2v17h-2zm4 0h3v17h-3zm18 0h1v17h-1zm13 0h4v17h-4zm13 0h2v17h-2zm6 0h2v17h-2zm10 0h5v17h-5zm16 0h5v17h-5zm8 0h2v17h-2zm7 0h5v17h-5zm8 0h2v17h-2zm17 0h3v17h-3zm7 0h2v17h-2zm22 0h1v17h-1zm9 0h2v17h-2zm30 0h2v17h-2zm21 0h4v17h-4zm23 0h1v17h-1zm7 0h1v17h-1zm3 0h4v17h-4zm6 0h4v17h-4zm23 0h1v17h-1zm60 0h7v17h-7zm12 0h2v17h-2zm13 0h4v17h-4zm9 0h2v17h-2zm4 0h4v17h-4zm14 0h5v17h-5zm20 0h5v17h-5zm10 0h2v17h-2zm4 0h5v17h-5zm9 0h6v17h-6zm7 0h4v17h-4zm7 0h5v17h-5zm12 0h6v17h-6zm25 0h2v17h-2zm37 0h2v17h-2zm13 0h3v17h-3zm5 0h2v17h-2zm27 0h8v17h-8zm14 0h2v17h-2zm13 0h3v17h-3zm8 0h9v17h-9zm15 0h5v17h-5zm17 0h1v17h-1zm3 0h2v17h-2zm3 0h2v17h-2zm9 0h2v17h-2zm63 0h2v17h-2zm12 0h1v17h-1zm3 0h2v17h-2zm9 0h2v17h-2zm20 0h2v17h-2zm23 0h13v17h-13zm17 0h1v17h-1zm41 0h3v17h-3zm12 0h1v17h-1zm4 0h5v17h-5zm18 0h2v17h-2zm4 0h4v17h-4zm5 0h2v17h-2zm171 0h1v17h-1zm25 0h2v17h-2zm35 0h2v17h-2zM80 1045h25v17h-25zm27 0h44v17h-44zm46 0h5v17h-5zm6 0h2v17h-2zm7 0h3v17h-3zm5 0h10v17h-10zm13 0h4v17h-4zm9 0h3v17h-3zm10 0h18v17h-18zm23 0h23v17h-23zm25 0h3v17h-3zm9 0h4v17h-4zm16 0h3v17h-3zm20 0h1v17h-1zm7 0h5v17h-5zm8 0h1v17h-1zm5 0h11v17h-11zm13 0h6v17h-6zm12 0h7v17h-7zm14 0h5v17h-5zm7 0h2v17h-2zm10 0h2v17h-2zm16 0h2v17h-2zm4 0h4v17h-4zm5 0h4v17h-4zm6 0h5v17h-5zm7 0h34v17h-34zm40 0h8v17h-8zm11 0h18v17h-18zm19 0h8v17h-8zm11 0h1v17h-1zm2 0h5v17h-5zm9 0h10v17h-10zm11 0h9v17h-9zm13 0h70v17h-70zm85 0h5v17h-5zm7 0h5v17h-5zm95 0h3v17h-3zm20 0h4v17h-4zm6 0h4v17h-4zm114 0h1v17h-1zm21 0h10v17h-10zm34 0h9v17h-9zm14 0h1v17h-1zm109 0h2v17h-2zm3 0h3v17h-3zm7 0h4v17h-4zm39 0h5v17h-5zm9 0h5v17h-5zm24 0h1v17h-1zm5 0h2v17h-2zm35 0h3v17h-3zm13 0h2v17h-2zm55 0h5v17h-5zm18 0h2v17h-2zm72 0h2v17h-2zm12 0h1v17h-1zm24 0h1v17h-1zm176 0h4v17h-4zm6 0h1v17h-1zm30 0h2v17h-2zm60 0h9v17h-9zm17 0h5v17h-5zm85 0h1v17h-1zm3 0h1v17h-1zM80 1062h25v17h-25zm27 0h2v17h-2zm8 0h1v17h-1zm4 0h5v17h-5zm8 0h1v17h-1zm2 0h2v17h-2zm9 0h1v17h-1zm6 0h4v17h-4zm9 0h5v17h-5zm6 0h2v17h-2zm12 0h3v17h-3zm11 0h2v17h-2zm11 0h3v17h-3zm6 0h4v17h-4zm13 0h2v17h-2zm6 0h1v17h-1zm8 0h7v17h-7zm15 0h5v17h-5zm10 0h5v17h-5zm12 0h1v17h-1zm7 0h6v17h-6zm13 0h5v17h-5zm8 0h4v17h-4zm5 0h1v17h-1zm7 0h5v17h-5zm13 0h3v17h-3zm5 0h1v17h-1zm8 0h2v17h-2zm4 0h2v17h-2zm13 0h2v17h-2zm9 0h5v17h-5zm12 0h10v17h-10zm25 0h4v17h-4zm5 0h4v17h-4zm6 0h2v17h-2zm15 0h3v17h-3zm18 0h5v17h-5zm18 0h4v17h-4zm8 0h2v17h-2zm9 0h2v17h-2zm7 0h1v17h-1zm2 0h7v17h-7zm8 0h3v17h-3zm5 0h2v17h-2zm33 0h27v17h-27zm29 0h41v17h-41zm56 0h5v17h-5zm25 0h3v17h-3zm7 0h4v17h-4zm6 0h2v17h-2zm5 0h4v17h-4zm22 0h3v17h-3zm37 0h3v17h-3zm13 0h2v17h-2zm5 0h6v17h-6zm31 0h1v17h-1zm72 0h2v17h-2zm40 0h5v17h-5zm10 0h5v17h-5zm18 0h4v17h-4zm11 0h36v17h-36zm57 0h5v17h-5zm34 0h21v17h-21zm39 0h2v17h-2zm7 0h26v17h-26zm35 0h4v17h-4zm15 0h5v17h-5zm16 0h1v17h-1zm2 0h4v17h-4zm7 0h2v17h-2zm139 0h5v17h-5zm38 0h2v17h-2zm9 0h2v17h-2zm9 0h4v17h-4zm16 0h5v17h-5zm11 0h1v17h-1zm236 0h2v17h-2zm5 0h3v17h-3zm6 0h2v17h-2zm25 0h13v17h-13zm17 0h4v17h-4zm88 0h1v17h-1zM308 1079h3v17h-3zm100 0h2v17h-2zm520 0h3v17h-3zm8 0h5v17h-5zm46 0h2v17h-2zm237 0h2v17h-2zm275 0h1v17h-1zm71 0h2v17h-2zm29 0h2v17h-2zm27 0h5v17h-5zm64 0h5v17h-5zm100 0h3v17h-3zm54 0h2v17h-2zM83 1096h2v17h-2zm6 0h10v17h-10zm20 0h6v17h-6zm7 0h2v17h-2zm15 0h4v17h-4zm7 0h6v17h-6zm8 0h2v17h-2zm15 0h5v17h-5zm13 0h7v17h-7zm8 0h6v17h-6zm11 0h3v17h-3zm14 0h3v17h-3zm11 0h1v17h-1zm3 0h5v17h-5zm18 0h1v17h-1zm10 0h5v17h-5zm21 0h6v17h-6zm9 0h4v17h-4zm32 0h1v17h-1zm5 0h3v17h-3zm5 0h6v17h-6zm10 0h4v17h-4zm15 0h2v17h-2zm9 0h5v17h-5zm7 0h2v17h-2zm5 0h7v17h-7zm10 0h3v17h-3zm15 0h2v17h-2zm11 0h2v17h-2zm10 0h5v17h-5zm18 0h1v17h-1zm13 0h3v17h-3zm6 0h3v17h-3zm21 0h2v17h-2zm3 0h4v17h-4zm5 0h1v17h-1zm12 0h2v17h-2zm4 0h3v17h-3zm44 0h2v17h-2zm6 0h2v17h-2zm15 0h3v17h-3zm10 0h11v17h-11zm19 0h7v17h-7zm22 0h3v17h-3zm9 0h3v17h-3zm12 0h7v17h-7zm11 0h4v17h-4zm6 0h9v17h-9zm12 0h6v17h-6zm18 0h2v17h-2zm41 0h3v17h-3zm6 0h2v17h-2zm5 0h2v17h-2zm6 0h2v17h-2zm6 0h3v17h-3zm63 0h8v17h-8zm13 0h3v17h-3zm28 0h4v17h-4zm6 0h1v17h-1zm3 0h4v17h-4zm9 0h9v17h-9zm14 0h5v17h-5zm14 0h1v17h-1zm7 0h2v17h-2zm6 0h2v17h-2zm7 0h4v17h-4zm11 0h4v17h-4zm7 0h5v17h-5zm10 0h2v17h-2zm18 0h4v17h-4zm9 0h9v17h-9zm37 0h2v17h-2zm10 0h1v17h-1zm3 0h5v17h-5zm7 0h2v17h-2zm25 0h5v17h-5zm11 0h3v17h-3zm11 0h1v17h-1zm21 0h1v17h-1zm14 0h5v17h-5zm22 0h3v17h-3zm5 0h3v17h-3zm10 0h5v17h-5zm15 0h1v17h-1zm6 0h3v17h-3zm30 0h2v17h-2zm4 0h6v17h-6zm8 0h3v17h-3zm14 0h5v17h-5zm7 0h2v17h-2zm18 0h1v17h-1zm18 0h5v17h-5zm301 0h2v17h-2zm26 0h3v17h-3zm5 0h5v17h-5zm9 0h14v17h-14zm16 0h11v17h-11zm15 0h4v17h-4zm85 0h4v17h-4zm15 0h2v17h-2zm30 0h1v17h-1zm12 0h3v17h-3zm7 0h3v17h-3zM210 1113h6v17h-6zm16 0h4v17h-4zm14 0h6v17h-6zm11 0h3v17h-3zm19 0h9v17h-9zm42 0h4v17h-4zm36 0h4v17h-4zm7 0h5v17h-5zm7 0h2v17h-2zm5 0h7v17h-7zm36 0h2v17h-2zm7 0h3v17h-3zm16 0h28v17h-28zm32 0h4v17h-4zm6 0h3v17h-3zm10 0h3v17h-3zm59 0h2v17h-2zm8 0h4v17h-4zm14 0h5v17h-5zm31 0h3v17h-3zm20 0h12v17h-12zm45 0h3v17h-3zm10 0h3v17h-3zm4 0h2v17h-2zm59 0h2v17h-2zm4 0h2v17h-2zm5 0h6v17h-6zm44 0h1v17h-1zm123 0h2v17h-2zm6 0h1v17h-1zm11 0h5v17h-5zm11 0h3v17h-3zm26 0h5v17h-5zm16 0h7v17h-7zm34 0h3v17h-3zm7 0h2v17h-2zm4 0h1v17h-1zm3 0h3v17h-3zm5 0h2v17h-2zm11 0h3v17h-3zm16 0h5v17h-5zm11 0h5v17h-5zm39 0h5v17h-5zm16 0h7v17h-7zm9 0h19v17h-19zm40 0h1v17h-1zm10 0h1v17h-1zm3 0h1v17h-1zm5 0h4v17h-4zm12 0h2v17h-2zm4 0h1v17h-1zm6 0h5v17h-5zm8 0h2v17h-2zm13 0h4v17h-4zm20 0h1v17h-1zm4 0h1v17h-1zm2 0h5v17h-5zm17 0h18v17h-18zm23 0h3v17h-3zm55 0h1v17h-1zm9 0h6v17h-6zm90 0h2v17h-2zm48 0h1v17h-1zm2 0h5v17h-5zm19 0h1v17h-1zm41 0h2v17h-2zm11 0h4v17h-4zm11 0h1v17h-1zm10 0h1v17h-1zm33 0h11v17h-11zm15 0h4v17h-4zm32 0h4v17h-4zm17 0h5v17h-5zm7 0h3v17h-3zm5 0h5v17h-5zm11 0h6v17h-6zm10 0h7v17h-7zm11 0h11v17h-11zm37 0h1v17h-1zm3 0h1v17h-1zm3 0h13v17h-13zm16 0h3v17h-3zm51 0h2v17h-2zm3 0h1v17h-1zm16 0h1v17h-1zm6 0h1v17h-1zM180 1130h1v17h-1zm19 0h4v17h-4zm11 0h6v17h-6zm9 0h11v17h-11zm64 0h5v17h-5zm46 0h2v17h-2zm33 0h2v17h-2zm18 0h3v17h-3zm8 0h2v17h-2zm19 0h1v17h-1zm19 0h10v17h-10zm15 0h12v17h-12zm36 0h5v17h-5zm11 0h3v17h-3zm4 0h1v17h-1zm3 0h3v17h-3zm37 0h3v17h-3zm4 0h5v17h-5zm9 0h2v17h-2zm7 0h3v17h-3zm8 0h10v17h-10zm11 0h7v17h-7zm8 0h2v17h-2zm22 0h5v17h-5zm17 0h2v17h-2zm22 0h1v17h-1zm3 0h4v17h-4zm52 0h3v17h-3zm44 0h4v17h-4zm39 0h2v17h-2zm28 0h1v17h-1zm40 0h1v17h-1zm8 0h2v17h-2zm11 0h5v17h-5zm35 0h2v17h-2zm6 0h1v17h-1zm2 0h5v17h-5zm9 0h5v17h-5zm7 0h7v17h-7zm30 0h5v17h-5zm23 0h5v17h-5zm11 0h2v17h-2zm5 0h1v17h-1zm23 0h2v17h-2zm31 0h3v17h-3zm11 0h3v17h-3zm6 0h21v17h-21zm36 0h12v17h-12zm14 0h4v17h-4zm13 0h5v17h-5zm7 0h3v17h-3zm10 0h12v17h-12zm18 0h3v17h-3zm4 0h2v17h-2zm4 0h2v17h-2zm150 0h4v17h-4zm9 0h16v17h-16zm18 0h1v17h-1zm11 0h4v17h-4zm10 0h3v17h-3zm125 0h2v17h-2zm12 0h10v17h-10zm22 0h2v17h-2zm18 0h1v17h-1zm13 0h1v17h-1zm20 0h5v17h-5zm10 0h1v17h-1zm104 0h10v17h-10zm13 0h13v17h-13zm38 0h3v17h-3zM108 1147h1v18h-1zm4 0h3v18h-3zm7 0h5v18h-5zm9 0h1v18h-1zm4 0h6v18h-6zm7 0h5v18h-5zm14 0h8v18h-8zm15 0h1v18h-1zm3 0h4v18h-4zm22 0h3v18h-3zm6 0h4v18h-4zm17 0h2v18h-2zm71 0h1v18h-1zm12 0h4v18h-4zm30 0h2v18h-2zm17 0h2v18h-2zm6 0h3v18h-3zm20 0h2v18h-2zm41 0h5v18h-5zm18 0h1v18h-1zm10 0h6v18h-6zm9 0h4v18h-4zm23 0h1v18h-1zm32 0h3v18h-3zm13 0h4v18h-4zm133 0h3v18h-3zm10 0h3v18h-3zm4 0h2v18h-2zm16 0h4v18h-4zm13 0h1v18h-1zm6 0h4v18h-4zm20 0h8v18h-8zm11 0h2v18h-2zm8 0h4v18h-4zm7 0h2v18h-2zm60 0h1v18h-1zm4 0h4v18h-4zm24 0h2v18h-2zm12 0h1v18h-1zm28 0h10v18h-10zm15 0h4v18h-4zm10 0h3v18h-3zm8 0h1v18h-1zm15 0h1v18h-1zm6 0h8v18h-8zm26 0h5v18h-5zm16 0h5v18h-5zm12 0h2v18h-2zm19 0h6v18h-6zm9 0h1v18h-1zm5 0h3v18h-3zm10 0h2v18h-2zm18 0h2v18h-2zm64 0h5v18h-5zm20 0h5v18h-5zm7 0h5v18h-5zm39 0h24v18h-24zm27 0h12v18h-12zm17 0h2v18h-2zm4 0h5v18h-5zm25 0h4v18h-4zm5 0h1v18h-1zm13 0h9v18h-9zm19 0h4v18h-4zm28 0h2v18h-2zm41 0h2v18h-2zm4 0h2v18h-2zm6 0h1v18h-1zm3 0h3v18h-3zm26 0h4v18h-4zm7 0h5v18h-5zm48 0h2v18h-2zm39 0h6v18h-6zm30 0h1v18h-1zm6 0h2v18h-2zm38 0h4v18h-4zm6 0h2v18h-2zm56 0h5v18h-5zm7 0h4v18h-4zm8 0h4v18h-4zm5 0h7v18h-7zm9 0h1v18h-1zm8 0h10v18h-10zm99 0h3v18h-3zm15 0h2v18h-2zm9 0h4v18h-4zm10 0h2v18h-2zm6 0h5v18h-5zm17 0h3v18h-3zm5 0h3v18h-3zm6 0h4v18h-4zm16 0h1v18h-1zm2 0h3v18h-3zm9 0h7v18h-7zM83 1165h2v17h-2zm5 0h1v17h-1zm2 0h5v17h-5zm18 0h1v17h-1zm7 0h1v17h-1zm9 0h7v17h-7zm8 0h3v17h-3zm6 0h10v17h-10zm13 0h8v17h-8zm10 0h7v17h-7zm8 0h2v17h-2zm12 0h1v17h-1zm12 0h3v17h-3zm10 0h4v17h-4zm9 0h2v17h-2zm4 0h2v17h-2zm25 0h5v17h-5zm8 0h2v17h-2zm5 0h9v17h-9zm10 0h9v17h-9zm65 0h2v17h-2zm23 0h3v17h-3zm8 0h2v17h-2zm12 0h2v17h-2zm8 0h3v17h-3zm8 0h2v17h-2zm4 0h2v17h-2zm9 0h2v17h-2zm7 0h2v17h-2zm33 0h3v17h-3zm9 0h3v17h-3zm8 0h4v17h-4zm6 0h9v17h-9zm10 0h3v17h-3zm28 0h3v17h-3zm11 0h9v17h-9zm22 0h1v17h-1zm25 0h3v17h-3zm5 0h5v17h-5zm16 0h5v17h-5zm10 0h5v17h-5zm10 0h10v17h-10zm15 0h9v17h-9zm16 0h4v17h-4zm19 0h7v17h-7zm10 0h3v17h-3zm4 0h2v17h-2zm11 0h3v17h-3zm9 0h1v17h-1zm8 0h1v17h-1zm7 0h6v17h-6zm16 0h7v17h-7zm8 0h4v17h-4zm7 0h2v17h-2zm8 0h4v17h-4zm7 0h7v17h-7zm15 0h7v17h-7zm33 0h2v17h-2zm16 0h4v17h-4zm44 0h2v17h-2zm11 0h9v17h-9zm19 0h5v17h-5zm10 0h5v17h-5zm14 0h5v17h-5zm28 0h5v17h-5zm18 0h5v17h-5zm9 0h5v17h-5zm19 0h2v17h-2zm59 0h2v17h-2zm20 0h3v17h-3zm8 0h4v17h-4zm7 0h1v17h-1zm4 0h5v17h-5zm38 0h2v17h-2zm7 0h4v17h-4zm7 0h7v17h-7zm27 0h6v17h-6zm17 0h3v17h-3zm7 0h1v17h-1zm12 0h2v17h-2zm4 0h6v17h-6zm8 0h3v17h-3zm6 0h2v17h-2zm34 0h3v17h-3zm4 0h1v17h-1zm18 0h6v17h-6zm11 0h3v17h-3zm15 0h5v17h-5zm7 0h2v17h-2zm4 0h7v17h-7zm13 0h1v17h-1zm33 0h2v17h-2zm6 0h5v17h-5zm10 0h3v17h-3zm30 0h7v17h-7zm12 0h2v17h-2zm4 0h5v17h-5zm6 0h1v17h-1zm10 0h3v17h-3zm11 0h5v17h-5zm7 0h12v17h-12zm14 0h3v17h-3zm28 0h1v17h-1zm55 0h1v17h-1zm6 0h1v17h-1zm8 0h6v17h-6zm19 0h5v17h-5zm10 0h1v17h-1zm31 0h2v17h-2zm9 0h4v17h-4zm8 0h4v17h-4zm22 0h4v17h-4zm10 0h4v17h-4zm15 0h7v17h-7zm9 0h3v17h-3zm5 0h7v17h-7zm8 0h3v17h-3zm5 0h4v17h-4zm36 0h3v17h-3zm11 0h3v17h-3zm6 0h3v17h-3zm30 0h1v17h-1zm4 0h7v17h-7zm9 0h3v17h-3zm8 0h8v17h-8zm20 0h5v17h-5zm20 0h4v17h-4zM289 1182h2v17h-2zm10 0h4v17h-4zm17 0h5v17h-5zm10 0h1v17h-1zm7 0h2v17h-2zm77 0h3v17h-3zm150 0h3v17h-3zm18 0h1v17h-1zm126 0h2v17h-2zm16 0h3v17h-3zm6 0h2v17h-2zm32 0h3v17h-3zm5 0h5v17h-5zm10 0h2v17h-2zm7 0h2v17h-2zm245 0h2v17h-2zm16 0h4v17h-4zm31 0h1v17h-1zm8 0h5v17h-5zm17 0h8v17h-8zm20 0h3v17h-3zm53 0h2v17h-2zm198 0h3v17h-3zm147 0h1v17h-1zm19 0h1v17h-1zm18 0h4v17h-4zM237 1199h2v17h-2zm42 0h4v17h-4zm9 0h1v17h-1zm3 0h4v17h-4zm61 0h3v17h-3zm51 0h2v17h-2zm7 0h3v17h-3zm31 0h3v17h-3zm160 0h5v17h-5zm115 0h4v17h-4zm47 0h5v17h-5zm14 0h1v17h-1zm24 0h3v17h-3zm127 0h3v17h-3zm97 0h2v17h-2zm16 0h4v17h-4zm31 0h1v17h-1zm8 0h5v17h-5zm17 0h8v17h-8zm17 0h6v17h-6zm56 0h2v17h-2zm49 0h2v17h-2zm296 0h1v17h-1zm19 0h1v17h-1zm305 0h2v17h-2zM193 1216h3v17h-3zm10 0h4v17h-4zm11 0h4v17h-4zm12 0h4v17h-4zm14 0h1v17h-1zm9 0h2v17h-2zm5 0h9v17h-9zm10 0h1v17h-1zm6 0h3v17h-3zm19 0h2v17h-2zm14 0h2v17h-2zm8 0h5v17h-5zm8 0h2v17h-2zm7 0h9v17h-9zm54 0h5v17h-5zm8 0h2v17h-2zm6 0h2v17h-2zm3 0h8v17h-8zm10 0h1v17h-1zm24 0h1v17h-1zm19 0h3v17h-3zm8 0h3v17h-3zm19 0h1v17h-1zm10 0h5v17h-5zm8 0h3v17h-3zm13 0h4v17h-4zm18 0h4v17h-4zm6 0h1v17h-1zm3 0h4v17h-4zm6 0h4v17h-4zm6 0h6v17h-6zm8 0h5v17h-5zm16 0h7v17h-7zm8 0h2v17h-2zm12 0h5v17h-5zm29 0h3v17h-3zm80 0h4v17h-4zm16 0h7v17h-7zm12 0h2v17h-2zm30 0h2v17h-2zm43 0h3v17h-3zm33 0h2v17h-2zm17 0h2v17h-2zm3 0h6v17h-6zm11 0h6v17h-6zm71 0h5v17h-5zm18 0h5v17h-5zm9 0h5v17h-5zm19 0h2v17h-2zm19 0h3v17h-3zm9 0h3v17h-3zm5 0h1v17h-1zm10 0h8v17h-8zm9 0h3v17h-3zm11 0h2v17h-2zm21 0h14v17h-14zm27 0h1v17h-1zm36 0h8v17h-8zm10 0h5v17h-5zm58 0h2v17h-2zm3 0h5v17h-5zm10 0h3v17h-3zm20 0h4v17h-4zm13 0h6v17h-6zm7 0h2v17h-2zm12 0h2v17h-2zm7 0h4v17h-4zm14 0h4v17h-4zm17 0h6v17h-6zm9 0h2v17h-2zm10 0h1v17h-1zm10 0h2v17h-2zm4 0h8v17h-8zm12 0h2v17h-2zm7 0h2v17h-2zm11 0h5v17h-5zm16 0h3v17h-3zm5 0h2v17h-2zm5 0h2v17h-2zm23 0h2v17h-2zm9 0h2v17h-2zm3 0h2v17h-2zm14 0h2v17h-2zm8 0h5v17h-5zm8 0h6v17h-6zm10 0h9v17h-9zm14 0h2v17h-2zm13 0h4v17h-4zm5 0h5v17h-5zm9 0h9v17h-9zm54 0h2v17h-2zm6 0h2v17h-2zm71 0h4v17h-4zm15 0h5v17h-5zm54 0h3v17h-3zm16 0h1v17h-1zm36 0h3v17h-3zm12 0h1v17h-1zm3 0h2v17h-2zm22 0h4v17h-4zm6 0h6v17h-6zm39 0h2v17h-2zM180 1233h2v17h-2zm4 0h12v17h-12zm30 0h2v17h-2zm27 0h5v17h-5zm8 0h2v17h-2zm7 0h4v17h-4zm14 0h3v17h-3zm26 0h1v17h-1zm15 0h1v17h-1zm5 0h3v17h-3zm6 0h4v17h-4zm7 0h2v17h-2zm6 0h3v17h-3zm17 0h8v17h-8zm20 0h2v17h-2zm5 0h13v17h-13zm15 0h2v17h-2zm5 0h8v17h-8zm11 0h10v17h-10zm42 0h3v17h-3zm27 0h2v17h-2zm11 0h4v17h-4zm12 0h5v17h-5zm12 0h1v17h-1zm2 0h4v17h-4zm16 0h11v17h-11zm15 0h2v17h-2zm7 0h1v17h-1zm34 0h3v17h-3zm8 0h2v17h-2zm26 0h3v17h-3zm20 0h1v17h-1zm24 0h1v17h-1zm36 0h4v17h-4zm16 0h8v17h-8zm21 0h2v17h-2zm6 0h3v17h-3zm10 0h5v17h-5zm25 0h2v17h-2zm28 0h1v17h-1zm52 0h2v17h-2zm50 0h5v17h-5zm9 0h5v17h-5zm19 0h5v17h-5zm13 0h5v17h-5zm21 0h14v17h-14zm20 0h3v17h-3zm11 0h3v17h-3zm9 0h1v17h-1zm6 0h2v17h-2zm5 0h2v17h-2zm10 0h2v17h-2zm10 0h2v17h-2zm4 0h2v17h-2zm13 0h3v17h-3zm8 0h3v17h-3zm28 0h3v17h-3zm13 0h5v17h-5zm6 0h1v17h-1zm5 0h2v17h-2zm9 0h5v17h-5zm12 0h5v17h-5zm31 0h2v17h-2zm8 0h1v17h-1zm6 0h11v17h-11zm23 0h5v17h-5zm6 0h2v17h-2zm21 0h5v17h-5zm7 0h5v17h-5zm9 0h2v17h-2zm19 0h4v17h-4zm14 0h4v17h-4zm17 0h4v17h-4zm9 0h2v17h-2zm7 0h4v17h-4zm6 0h2v17h-2zm7 0h2v17h-2zm4 0h3v17h-3zm8 0h2v17h-2zm7 0h4v17h-4zm23 0h11v17h-11zm18 0h3v17h-3zm9 0h1v17h-1zm36 0h2v17h-2zm39 0h5v17h-5zm7 0h5v17h-5zm10 0h1v17h-1zm26 0h5v17h-5zm14 0h4v17h-4zm15 0h1v17h-1zm6 0h1v17h-1zm10 0h10v17h-10zm22 0h2v17h-2zm67 0h1v17h-1zm8 0h4v17h-4zm63 0h1v17h-1zm48 0h5v17h-5zm12 0h4v17h-4zM95 1250h1v17h-1zm58 0h6v17h-6zm27 0h1v17h-1zm4 0h4v17h-4zm19 0h4v17h-4zm37 0h1v17h-1zm9 0h2v17h-2zm40 0h2v17h-2zm6 0h1v17h-1zm2 0h2v17h-2zm38 0h3v17h-3zm37 0h2v17h-2zm180 0h1v17h-1zm11 0h7v17h-7zm16 0h2v17h-2zm7 0h3v17h-3zm5 0h3v17h-3zm15 0h5v17h-5zm17 0h2v17h-2zm51 0h2v17h-2zm7 0h4v17h-4zm23 0h2v17h-2zm20 0h6v17h-6zm9 0h4v17h-4zm6 0h7v17h-7zm41 0h2v17h-2zm4 0h5v17h-5zm12 0h8v17h-8zm26 0h5v17h-5zm12 0h2v17h-2zm74 0h5v17h-5zm9 0h6v17h-6zm210 0h2v17h-2zm7 0h3v17h-3zm36 0h2v17h-2zm5 0h1v17h-1zm3 0h1v17h-1zm6 0h8v17h-8zm208 0h3v17h-3zm54 0h5v17h-5zm12 0h2v17h-2zm6 0h1v17h-1zm65 0h5v17h-5zm29 0h5v17h-5zm40 0h2v17h-2zm23 0h7v17h-7zm15 0h4v17h-4zm10 0h4v17h-4zm12 0h4v17h-4zm44 0h2v17h-2zm3 0h3v17h-3zm20 0h11v17h-11zm32 0h3v17h-3zm52 0h5v17h-5zm30 0h2v17h-2zM89 1267h1v17h-1zm62 0h2v17h-2zm187 0h3v17h-3zm17 0h5v17h-5zm17 0h2v17h-2zm29 0h2v17h-2zm9 0h3v17h-3zm48 0h3v17h-3zm16 0h3v17h-3zm102 0h3v17h-3zm15 0h3v17h-3zm10 0h5v17h-5zm42 0h4v17h-4zm21 0h1v17h-1zm29 0h1v17h-1zm2 0h3v17h-3zm5 0h4v17h-4zm16 0h4v17h-4zm7 0h1v17h-1zm135 0h2v17h-2zm41 0h1v17h-1zm3 0h5v17h-5zm11 0h4v17h-4zm36 0h5v17h-5zm21 0h14v17h-14zm20 0h3v17h-3zm7 0h4v17h-4zm16 0h2v17h-2zm12 0h2v17h-2zm9 0h3v17h-3zm7 0h2v17h-2zm25 0h3v17h-3zm6 0h1v17h-1zm4 0h1v17h-1zm17 0h1v17h-1zm207 0h2v17h-2zm6 0h3v17h-3zm7 0h6v17h-6zm7 0h4v17h-4zm9 0h2v17h-2zm12 0h2v17h-2zm4 0h2v17h-2zm7 0h4v17h-4zm13 0h3v17h-3zm40 0h5v17h-5zm9 0h5v17h-5zm32 0h2v17h-2zm8 0h6v17h-6zm10 0h1v17h-1zm9 0h5v17h-5zm20 0h3v17h-3zm5 0h3v17h-3zm4 0h12v17h-12zm13 0h6v17h-6zm15 0h4v17h-4zm28 0h1v17h-1zm3 0h2v17h-2zm4 0h2v17h-2zm107 0h2v17h-2zm10 0h3v17h-3zm137 0h3v17h-3zm10 0h5v17h-5zM88 1284h1v17h-1zm7 0h1v17h-1zm36 0h1v17h-1zm196 0h2v17h-2zm4 0h7v17h-7zm17 0h4v17h-4zm14 0h2v17h-2zm12 0h3v17h-3zm84 0h3v17h-3zm118 0h2v17h-2zm10 0h5v17h-5zm57 0h4v17h-4zm47 0h3v17h-3zm14 0h2v17h-2zm8 0h1v17h-1zm4 0h8v17h-8zm42 0h2v17h-2zm5 0h5v17h-5zm139 0h2v17h-2zm5 0h6v17h-6zm15 0h1v17h-1zm55 0h7v17h-7zm13 0h3v17h-3zm15 0h5v17h-5zm11 0h5v17h-5zm50 0h3v17h-3zm10 0h1v17h-1zm17 0h1v17h-1zm20 0h1v17h-1zm4 0h1v17h-1zm32 0h4v17h-4zm8 0h5v17h-5zm9 0h3v17h-3zm4 0h2v17h-2zm5 0h1v17h-1zm3 0h1v17h-1zm6 0h8v17h-8zm29 0h2v17h-2zm15 0h6v17h-6zm13 0h5v17h-5zm8 0h1v17h-1zm2 0h1v17h-1zm11 0h7v17h-7zm71 0h8v17h-8zm62 0h4v17h-4zm8 0h7v17h-7zm43 0h2v17h-2zm8 0h6v17h-6zm11 0h5v17h-5zm29 0h2v17h-2zm4 0h3v17h-3zm4 0h12v17h-12zm92 0h2v17h-2zm32 0h2v17h-2zm134 0h3v17h-3z"/>
<path fill="#fde725" d="M80 56h3v17h-3zm25 0h10v17h-10zm13 0h28v17h-28zm30 0h11v17h-11zm27 0h5v17h-5zm120 0h1v17h-1zm40 0h3v17h-3zm157 0h1v17h-1zm73 0h5v17h-5zm49 0h2v17h-2zm33 0h2v17h-2zm27 0h2v17h-2zm226 0h4v17h-4zm49 0h5v17h-5zm10 0h9v17h-9zm170 0h3v17h-3zm79 0h2v17h-2zm38 0h1v17h-1zm65 0h2v17h-2zm37 0h4v17h-4zm10 0h4v17h-4zm90 0h3v17h-3zm42 0h3v17h-3zm4 0h7v17h-7zm8 0h3v17h-3zm28 0h4v17h-4zm10 0h5v17h-5zm11 0h1v17h-1zm7 0h1v17h-1zm5 0h2v17h-2zm4 0h4v17h-4zm18 0h6v17h-6zm34 0h7v17h-7zm13 0h4v17h-4zm40 0h2v17h-2zm25 0h5v17h-5zm7 0h6v17h-6zm20 0h5v17h-5zm9 0h3v17h-3zm5 0h2v17h-2zm29 0h2v17h-2zm7 0h3v17h-3zm17 0h7v17h-7zm11 0h2v17h-2zm4 0h8v17h-8zm20 0h3v17h-3zm16 0h4v17h-4zm12 0h4v17h-4zm10 0h1v17h-1zM80 73h5v17h-5zm8 0h1v17h-1zm8 0h3v17h-3zm4 0h7v17h-7zm12 0h3v17h-3zm17 0h3v17h-3zm7 0h2v17h-2zm3 0h5v17h-5zm9 0h11v17h-11zm13 0h5v17h-5zm14 0h5v17h-5zm317 0h1v17h-1zm73 0h5v17h-5zm49 0h2v17h-2zm60 0h2v17h-2zm200 0h10v17h-10zm15 0h4v17h-4zm5 0h5v17h-5zm6 0h6v17h-6zm49 0h5v17h-5zm10 0h9v17h-9zm46 0h2v17h-2zm124 0h3v17h-3zm117 0h1v17h-1zm65 0h2v17h-2zm15 0h3v17h-3zm19 0h2v17h-2zm3 0h4v17h-4zm10 0h4v17h-4zm5 0h2v17h-2zm5 0h3v17h-3zm14 0h4v17h-4zm7 0h2v17h-2zm37 0h3v17h-3zm22 0h3v17h-3zm42 0h3v17h-3zm6 0h2v17h-2zm39 0h10v17h-10zm28 0h2v17h-2zm22 0h1v17h-1zm120 0h3v17h-3zm69 0h3v17h-3zm17 0h2v17h-2zm5 0h2v17h-2zm18 0h3v17h-3zm12 0h3v17h-3zm16 0h4v17h-4zM80 90h3v17h-3zm68 0h3v17h-3zm466 0h2v17h-2zm573 0h5v17h-5zm93 0h7v17h-7zm15 0h5v17h-5zm16 0h2v17h-2zm34 0h2v17h-2zm3 0h4v17h-4zm8 0h6v17h-6zm7 0h2v17h-2zm32 0h3v17h-3zm4 0h4v17h-4zm6 0h15v17h-15zm16 0h9v17h-9zm13 0h2v17h-2zm4 0h8v17h-8zm10 0h6v17h-6zm14 0h2v17h-2zm3 0h5v17h-5zm13 0h15v17h-15zm18 0h5v17h-5zm25 0h25v17h-25zm31 0h4v17h-4zm6 0h1v17h-1zm3 0h4v17h-4zm17 0h1v17h-1zm5 0h11v17h-11zm22 0h8v17h-8zm10 0h4v17h-4zm26 0h5v17h-5zm14 0h1v17h-1zm37 0h3v17h-3zm5 0h13v17h-13zm77 0h3v17h-3zm17 0h13v17h-13zm15 0h11v17h-11zm20 0h3v17h-3zm16 0h4v17h-4zm22 0h1v17h-1zM270 107h3v17h-3zm71 0h4v17h-4zm582 0h1v17h-1zm22 0h4v17h-4zm302 0h2v17h-2zm26 0h2v17h-2zm7 0h7v17h-7zm12 0h3v17h-3zm53 0h2v17h-2zm3 0h4v17h-4zm8 0h6v17h-6zm7 0h8v17h-8zm19 0h4v17h-4zm7 0h2v17h-2zm6 0h3v17h-3zm4 0h4v17h-4zm6 0h15v17h-15zm16 0h8v17h-8zm13 0h2v17h-2zm4 0h2v17h-2zm3 0h5v17h-5zm7 0h6v17h-6zm30 0h16v17h-16zm18 0h5v17h-5zm31 0h8v17h-8zm13 0h6v17h-6zm12 0h7v17h-7zm11 0h2v17h-2zm4 0h4v17h-4zm11 0h1v17h-1zm5 0h8v17h-8zm58 0h5v17h-5zm14 0h1v17h-1zm37 0h5v17h-5zm10 0h8v17h-8zm72 0h3v17h-3zm17 0h23v17h-23zm51 0h4v17h-4zM329 124h2v17h-2zm12 0h4v17h-4zm510 0h7v17h-7zm13 0h6v17h-6zm7 0h3v17h-3zm31 0h2v17h-2zm21 0h1v17h-1zm22 0h9v17h-9zm18 0h5v17h-5zm31 0h3v17h-3zm143 0h2v17h-2zm36 0h2v17h-2zm73 0h3v17h-3zm27 0h2v17h-2zm22 0h5v17h-5zm50 0h17v17h-17zm18 0h8v17h-8zm19 0h4v17h-4zm9 0h1v17h-1zm4 0h8v17h-8zm10 0h15v17h-15zm16 0h2v17h-2zm3 0h5v17h-5zm14 0h2v17h-2zm10 0h10v17h-10zm30 0h7v17h-7zm15 0h1v17h-1zm2 0h1v17h-1zm32 0h8v17h-8zm13 0h5v17h-5zm38 0h1v17h-1zm10 0h1v17h-1zm3 0h5v17h-5zm19 0h3v17h-3zm5 0h4v17h-4zm155 0h2v17h-2zm4 0h3v17h-3zm11 0h3v17h-3zm6 0h3v17h-3zm5 0h1v17h-1zm4 0h2v17h-2zm6 0h8v17h-8zm33 0h2v17h-2zm3 0h1v17h-1zM341 141h4v17h-4zm495 0h5v17h-5zm66 0h2v17h-2zm21 0h1v17h-1zm22 0h4v17h-4zm49 0h3v17h-3zm19 0h2v17h-2zm228 0h2v17h-2zm6 0h2v17h-2zm26 0h2v17h-2zm7 0h3v17h-3zm65 0h2v17h-2zm3 0h4v17h-4zm6 0h8v17h-8zm9 0h8v17h-8zm19 0h2v17h-2zm13 0h3v17h-3zm8 0h16v17h-16zm18 0h5v17h-5zm13 0h2v17h-2zm14 0h10v17h-10zm30 0h7v17h-7zm15 0h1v17h-1zm2 0h1v17h-1zm3 0h3v17h-3zm31 0h1v17h-1zm65 0h2v17h-2zm12 0h7v17h-7zm9 0h4v17h-4zm152 0h2v17h-2zm3 0h2v17h-2zm4 0h3v17h-3zm11 0h3v17h-3zm6 0h3v17h-3zm5 0h1v17h-1zm4 0h2v17h-2zm42 0h4v17h-4zm10 0h2v17h-2zm12 0h1v17h-1zM83 158h2v17h-2zm24 0h8v17h-8zm21 0h1v17h-1zm7 0h1v17h-1zm13 0h3v17h-3zm13 0h5v17h-5zm235 0h1v17h-1zm210 0h8v17h-8zm21 0h5v17h-5zm238 0h5v17h-5zm37 0h2v17h-2zm21 0h1v17h-1zm22 0h9v17h-9zm49 0h3v17h-3zm131 0h2v17h-2zm90 0h2v17h-2zm26 0h2v17h-2zm6 0h2v17h-2zm26 0h2v17h-2zm72 0h2v17h-2zm37 0h2v17h-2zm23 0h5v17h-5zm43 0h3v17h-3zm45 0h8v17h-8zm22 0h1v17h-1zm6 0h25v17h-25zm30 0h14v17h-14zm16 0h24v17h-24zm27 0h7v17h-7zm11 0h14v17h-14zm23 0h4v17h-4zm12 0h1v17h-1zm18 0h4v17h-4zm19 0h2v17h-2zm6 0h9v17h-9zm84 0h2v17h-2zm3 0h7v17h-7zm15 0h3v17h-3zm6 0h28v17h-28zm50 0h5v17h-5zm11 0h13v17h-13zM374 175h3v17h-3zm227 0h13v17h-13zm264 0h5v17h-5zm84 0h5v17h-5zm45 0h3v17h-3zm176 0h2v17h-2zm146 0h3v17h-3zm29 0h2v17h-2zm37 0h2v17h-2zm13 0h3v17h-3zm8 0h16v17h-16zm45 0h3v17h-3zm22 0h3v17h-3zm8 0h38v17h-38zm43 0h25v17h-25zm30 0h5v17h-5zm7 0h1v17h-1zm9 0h21v17h-21zm22 0h2v17h-2zm5 0h25v17h-25zm46 0h1v17h-1zm18 0h14v17h-14zm19 0h2v17h-2zm5 0h1v17h-1zm109 0h6v17h-6zm7 0h21v17h-21zm28 0h8v17h-8zm16 0h1v17h-1zM83 192h2v17h-2zm29 0h3v17h-3zm49 0h5v17h-5zm134 0h1v17h-1zm4 0h4v17h-4zm36 0h3v17h-3zm39 0h3v17h-3zm118 0h1v17h-1zm119 0h3v17h-3zm225 0h5v17h-5zm15 0h2v17h-2zm94 0h14v17h-14zm18 0h5v17h-5zm31 0h3v17h-3zm16 0h1v17h-1zm3 0h2v17h-2zm171 0h3v17h-3zm96 0h3v17h-3zm65 0h2v17h-2zm3 0h4v17h-4zm34 0h2v17h-2zm13 0h3v17h-3zm17 0h2v17h-2zm36 0h3v17h-3zm22 0h3v17h-3zm8 0h12v17h-12zm15 0h9v17h-9zm12 0h9v17h-9zm10 0h1v17h-1zm6 0h13v17h-13zm14 0h11v17h-11zm16 0h5v17h-5zm7 0h1v17h-1zm9 0h24v17h-24zm27 0h11v17h-11zm12 0h13v17h-13zm34 0h1v17h-1zm18 0h10v17h-10zm19 0h2v17h-2zm5 0h1v17h-1zm3 0h19v17h-19zm20 0h3v17h-3zm5 0h4v17h-4zm81 0h15v17h-15zm18 0h10v17h-10zm17 0h8v17h-8zm16 0h1v17h-1zM83 209h2v17h-2zm26 0h6v17h-6zm35 0h2v17h-2zm17 0h5v17h-5zm7 0h1v17h-1zm127 0h1v17h-1zm4 0h4v17h-4zm34 0h2v17h-2zm278 0h3v17h-3zm225 0h10v17h-10zm15 0h3v17h-3zm94 0h9v17h-9zm18 0h5v17h-5zm209 0h1v17h-1zm12 0h3v17h-3zm62 0h1v17h-1zm4 0h1v17h-1zm91 0h2v17h-2zm4 0h2v17h-2zm37 0h2v17h-2zm66 0h3v17h-3zm22 0h3v17h-3zm8 0h12v17h-12zm13 0h23v17h-23zm24 0h1v17h-1zm6 0h8v17h-8zm9 0h4v17h-4zm5 0h10v17h-10zm16 0h5v17h-5zm7 0h1v17h-1zm9 0h34v17h-34zm39 0h13v17h-13zm34 0h1v17h-1zm18 0h16v17h-16zm19 0h2v17h-2zm5 0h8v17h-8zm10 0h3v17h-3zm5 0h7v17h-7zm13 0h4v17h-4zm81 0h15v17h-15zm18 0h5v17h-5zm32 0h5v17h-5zm11 0h2v17h-2zm7 0h6v17h-6zM83 226h2v17h-2zm29 0h3v17h-3zm49 0h5v17h-5zm7 0h1v17h-1zm459 0h5v17h-5zm153 0h2v17h-2zm67 0h9v17h-9zm17 0h1v17h-1zm7 0h3v17h-3zm29 0h7v17h-7zm8 0h5v17h-5zm9 0h5v17h-5zm28 0h9v17h-9zm18 0h5v17h-5zm30 0h4v17h-4zm17 0h1v17h-1zm113 0h2v17h-2zm6 0h3v17h-3zm27 0h1v17h-1zm28 0h3v17h-3zm62 0h1v17h-1zm4 0h1v17h-1zm61 0h2v17h-2zm34 0h2v17h-2zm3 0h4v17h-4zm6 0h2v17h-2zm4 0h4v17h-4zm5 0h8v17h-8zm85 0h3v17h-3zm22 0h3v17h-3zm8 0h2v17h-2zm15 0h3v17h-3zm8 0h1v17h-1zm4 0h9v17h-9zm10 0h1v17h-1zm6 0h2v17h-2zm14 0h10v17h-10zm16 0h10v17h-10zm27 0h5v17h-5zm11 0h2v17h-2zm5 0h2v17h-2zm19 0h2v17h-2zm23 0h10v17h-10zm15 0h4v17h-4zm7 0h10v17h-10zm44 0h2v17h-2zm58 0h3v17h-3zm31 0h5v17h-5zm11 0h4v17h-4zm7 0h13v17h-13zm16 0h9v17h-9zm17 0h4v17h-4zm10 0h2v17h-2zm6 0h7v17h-7zM295 243h1v17h-1zm34 0h2v17h-2zm6 0h3v17h-3zm53 0h2v17h-2zm459 0h4v17h-4zm6 0h1v17h-1zm53 0h1v17h-1zm11 0h5v17h-5zm32 0h10v17h-10zm14 0h5v17h-5zm30 0h4v17h-4zm34 0h6v17h-6zm31 0h3v17h-3zm98 0h1v17h-1zm124 0h3v17h-3zm31 0h2v17h-2zm34 0h7v17h-7zm9 0h2v17h-2zm4 0h4v17h-4zm5 0h13v17h-13zm19 0h2v17h-2zm7 0h2v17h-2zm6 0h3v17h-3zm17 0h2v17h-2zm18 0h3v17h-3zm32 0h2v17h-2zm8 0h3v17h-3zm8 0h2v17h-2zm7 0h5v17h-5zm6 0h5v17h-5zm10 0h1v17h-1zm4 0h9v17h-9zm10 0h1v17h-1zm20 0h10v17h-10zm11 0h15v17h-15zm17 0h2v17h-2zm12 0h8v17h-8zm13 0h3v17h-3zm40 0h4v17h-4zm12 0h1v17h-1zm6 0h2v17h-2zm10 0h12v17h-12zm26 0h1v17h-1zm43 0h4v17h-4zm66 0h5v17h-5zm11 0h2v17h-2zm7 0h13v17h-13zm20 0h10v17h-10zm23 0h2v17h-2zM95 260h1v17h-1zm5 0h5v17h-5zm12 0h3v17h-3zm20 0h3v17h-3zm6 0h1v17h-1zm23 0h5v17h-5zm134 0h1v17h-1zm57 0h3v17h-3zm36 0h2v17h-2zm22 0h3v17h-3zm217 0h5v17h-5zm220 0h6v17h-6zm7 0h2v17h-2zm20 0h10v17h-10zm26 0h2v17h-2zm4 0h3v17h-3zm4 0h5v17h-5zm9 0h5v17h-5zm7 0h4v17h-4zm17 0h2v17h-2zm4 0h4v17h-4zm18 0h5v17h-5zm95 0h3v17h-3zm98 0h1v17h-1zm12 0h1v17h-1zm84 0h5v17h-5zm93 0h3v17h-3zm18 0h2v17h-2zm5 0h8v17h-8zm11 0h2v17h-2zm3 0h2v17h-2zm66 0h3v17h-3zm14 0h2v17h-2zm29 0h5v17h-5zm11 0h12v17h-12zm13 0h1v17h-1zm6 0h2v17h-2zm6 0h18v17h-18zm24 0h10v17h-10zm12 0h2v17h-2zm4 0h4v17h-4zm8 0h16v17h-16zm19 0h2v17h-2zm16 0h2v17h-2zm3 0h8v17h-8zm15 0h13v17h-13zm18 0h2v17h-2zm12 0h14v17h-14zm19 0h2v17h-2zm4 0h4v17h-4zm43 0h9v17h-9zm12 0h2v17h-2zm30 0h3v17h-3zm4 0h2v17h-2zm14 0h7v17h-7zm9 0h3v17h-3zm9 0h2v17h-2zm7 0h8v17h-8zm10 0h3v17h-3zm6 0h1v17h-1zm4 0h10v17h-10zm23 0h2v17h-2zM80 277h3v17h-3zm32 0h3v17h-3zm7 0h5v17h-5zm13 0h3v17h-3zm163 0h1v17h-1zm2 0h2v17h-2zm91 0h2v17h-2zm114 0h3v17h-3zm125 0h5v17h-5zm16 0h4v17h-4zm204 0h6v17h-6zm27 0h5v17h-5zm30 0h3v17h-3zm4 0h5v17h-5zm9 0h5v17h-5zm6 0h5v17h-5zm18 0h2v17h-2zm117 0h3v17h-3zm98 0h1v17h-1zm12 0h1v17h-1zm75 0h3v17h-3zm104 0h1v17h-1zm9 0h2v17h-2zm7 0h2v17h-2zm5 0h8v17h-8zm11 0h2v17h-2zm3 0h4v17h-4zm42 0h2v17h-2zm24 0h3v17h-3zm14 0h2v17h-2zm8 0h3v17h-3zm8 0h2v17h-2zm7 0h5v17h-5zm8 0h23v17h-23zm34 0h2v17h-2zm8 0h10v17h-10zm11 0h6v17h-6zm10 0h5v17h-5zm7 0h2v17h-2zm4 0h4v17h-4zm11 0h13v17h-13zm35 0h2v17h-2zm15 0h13v17h-13zm18 0h2v17h-2zm12 0h14v17h-14zm16 0h3v17h-3zm7 0h9v17h-9zm40 0h1v17h-1zm3 0h9v17h-9zm12 0h2v17h-2zm30 0h3v17h-3zm4 0h2v17h-2zm14 0h7v17h-7zm9 0h3v17h-3zm9 0h2v17h-2zm7 0h17v17h-17zm20 0h12v17h-12zm13 0h1v17h-1zm10 0h2v17h-2zm6 0h6v17h-6zM80 294h3v17h-3zm32 0h3v17h-3zm23 0h1v17h-1zm242 0h3v17h-3zm11 0h2v17h-2zm4 0h2v17h-2zm4 0h5v17h-5zm11 0h1v17h-1zm3 0h3v17h-3zm21 0h5v17h-5zm13 0h3v17h-3zm6 0h3v17h-3zm4 0h4v17h-4zm25 0h3v17h-3zm13 0h1v17h-1zm3 0h5v17h-5zm7 0h24v17h-24zm28 0h2v17h-2zm6 0h3v17h-3zm5 0h4v17h-4zm6 0h5v17h-5zm80 0h5v17h-5zm110 0h2v17h-2zm110 0h9v17h-9zm17 0h10v17h-10zm40 0h2v17h-2zm13 0h5v17h-5zm42 0h11v17h-11zm42 0h4v17h-4zm9 0h1v17h-1zm3 0h3v17h-3zm14 0h4v17h-4zm10 0h4v17h-4zm13 0h11v17h-11zm16 0h3v17h-3zm10 0h1v17h-1zm13 0h5v17h-5zm8 0h3v17h-3zm59 0h1v17h-1zm3 0h1v17h-1zm7 0h3v17h-3zm29 0h2v17h-2zm10 0h2v17h-2zm5 0h2v17h-2zm5 0h4v17h-4zm11 0h2v17h-2zm15 0h8v17h-8zm10 0h11v17h-11zm22 0h2v17h-2zm6 0h1v17h-1zm32 0h8v17h-8zm52 0h2v17h-2zm61 0h2v17h-2zM372 311h2v17h-2zm82 0h4v17h-4zm38 0h1v17h-1zm44 0h3v17h-3zm5 0h4v17h-4zm102 0h4v17h-4zm88 0h8v17h-8zm143 0h5v17h-5zm25 0h1v17h-1zm5 0h3v17h-3zm4 0h5v17h-5zm9 0h7v17h-7zm24 0h4v17h-4zm22 0h5v17h-5zm7 0h7v17h-7zm20 0h7v17h-7zm25 0h1v17h-1zm12 0h4v17h-4zm10 0h4v17h-4zm13 0h14v17h-14zm16 0h6v17h-6zm7 0h4v17h-4zm20 0h1v17h-1zm4 0h3v17h-3zm10 0h5v17h-5zm16 0h4v17h-4zm11 0h5v17h-5zm22 0h1v17h-1zm12 0h1v17h-1zm16 0h3v17h-3zm42 0h2v17h-2zm13 0h7v17h-7zm12 0h1v17h-1zm29 0h3v17h-3zm115 0h3v17h-3zm17 0h2v17h-2zm12 0h2v17h-2zm24 0h3v17h-3zm14 0h2v17h-2zm31 0h1v17h-1zm12 0h4v17h-4zm54 0h2v17h-2zm54 0h2v17h-2zm15 0h4v17h-4zm125 0h3v17h-3zm99 0h2v17h-2zM297 328h2v18h-2zm32 0h2v18h-2zm45 0h6v18h-6zm18 0h2v18h-2zm18 0h3v18h-3zm43 0h9v18h-9zm11 0h1v18h-1zm13 0h1v18h-1zm3 0h2v18h-2zm12 0h1v18h-1zm3 0h3v18h-3zm7 0h24v18h-24zm34 0h3v18h-3zm5 0h4v18h-4zm38 0h2v18h-2zm64 0h4v18h-4zm94 0h2v18h-2zm99 0h10v18h-10zm38 0h5v18h-5zm30 0h3v18h-3zm4 0h5v18h-5zm9 0h5v18h-5zm6 0h1v18h-1zm18 0h4v18h-4zm22 0h5v18h-5zm31 0h29v18h-29zm43 0h8v18h-8zm13 0h11v18h-11zm16 0h3v18h-3zm7 0h3v18h-3zm20 0h1v18h-1zm63 0h1v18h-1zm3 0h1v18h-1zm7 0h2v18h-2zm18 0h3v18h-3zm42 0h2v18h-2zm4 0h4v18h-4zm9 0h7v18h-7zm12 0h1v18h-1zm161 0h2v18h-2zm50 0h2v18h-2zm31 0h23v18h-23zm30 0h7v18h-7zm17 0h5v18h-5zm19 0h2v18h-2zm69 0h4v18h-4zm18 0h2v18h-2zm12 0h10v18h-10zm19 0h2v18h-2zm5 0h1v18h-1zM270 346h3v17h-3zm140 0h3v17h-3zm34 0h3v17h-3zm10 0h7v17h-7zm23 0h10v17h-10zm11 0h3v17h-3zm4 0h1v17h-1zm3 0h5v17h-5zm7 0h24v17h-24zm34 0h3v17h-3zm5 0h4v17h-4zm196 0h2v17h-2zm99 0h11v17h-11zm38 0h5v17h-5zm26 0h2v17h-2zm8 0h5v17h-5zm9 0h5v17h-5zm6 0h1v17h-1zm5 0h3v17h-3zm8 0h13v17h-13zm23 0h11v17h-11zm31 0h3v17h-3zm4 0h3v17h-3zm7 0h4v17h-4zm6 0h4v17h-4zm6 0h3v17h-3zm14 0h6v17h-6zm10 0h6v17h-6zm13 0h11v17h-11zm16 0h3v17h-3zm7 0h4v17h-4zm16 0h5v17h-5zm67 0h1v17h-1zm3 0h1v17h-1zm7 0h2v17h-2zm60 0h2v17h-2zm4 0h4v17h-4zm9 0h7v17h-7zm8 0h2v17h-2zm4 0h6v17h-6zm11 0h7v17h-7zm122 0h2v17h-2zm28 0h2v17h-2zm50 0h2v17h-2zm31 0h23v17h-23zm86 0h9v17h-9zm250 0h5v17h-5zM218 363h1v17h-1zm15 0h4v17h-4zm96 0h2v17h-2zm4 0h2v17h-2zm5 0h3v17h-3zm88 0h24v17h-24zm110 0h3v17h-3zm91 0h5v17h-5zm16 0h4v17h-4zm94 0h2v17h-2zm11 0h10v17h-10zm12 0h8v17h-8zm10 0h5v17h-5zm147 0h5v17h-5zm6 0h1v17h-1zm5 0h3v17h-3zm13 0h8v17h-8zm29 0h5v17h-5zm7 0h11v17h-11zm13 0h7v17h-7zm14 0h1v17h-1zm9 0h3v17h-3zm10 0h2v17h-2zm4 0h20v17h-20zm23 0h5v17h-5zm99 0h8v17h-8zm10 0h1v17h-1zm7 0h3v17h-3zm4 0h2v17h-2zm13 0h4v17h-4zm9 0h3v17h-3zm18 0h3v17h-3zm7 0h2v17h-2zm26 0h3v17h-3zm36 0h1v17h-1zm47 0h3v17h-3zm5 0h1v17h-1zm64 0h8v17h-8zm15 0h9v17h-9zm38 0h3v17h-3zm57 0h4v17h-4zm54 0h2v17h-2zm159 0h3v17h-3zm11 0h4v17h-4zM80 380h3v17h-3zm16 0h3v17h-3zm16 0h3v17h-3zm34 0h2v17h-2zm87 0h4v17h-4zm144 0h3v17h-3zm54 0h5v17h-5zm10 0h6v17h-6zm95 0h3v17h-3zm125 0h3v17h-3zm4 0h2v17h-2zm11 0h3v17h-3zm10 0h4v17h-4zm51 0h2v17h-2zm110 0h4v17h-4zm27 0h5v17h-5zm49 0h1v17h-1zm18 0h2v17h-2zm18 0h4v17h-4zm11 0h5v17h-5zm14 0h4v17h-4zm6 0h3v17h-3zm4 0h3v17h-3zm10 0h1v17h-1zm11 0h1v17h-1zm35 0h5v17h-5zm8 0h3v17h-3zm31 0h5v17h-5zm67 0h1v17h-1zm14 0h2v17h-2zm5 0h3v17h-3zm8 0h4v17h-4zm9 0h3v17h-3zm51 0h3v17h-3zm4 0h2v17h-2zm26 0h2v17h-2zm139 0h7v17h-7zm8 0h1v17h-1zm6 0h3v17h-3zm69 0h1v17h-1zm10 0h4v17h-4zm54 0h2v17h-2zm24 0h2v17h-2zm89 0h5v17h-5zm7 0h2v17h-2zm3 0h1v17h-1zm8 0h2v17h-2zm39 0h4v17h-4zM333 397h2v17h-2zm98 0h5v17h-5zm13 0h6v17h-6zm221 0h2v17h-2zm182 0h7v17h-7zm18 0h6v17h-6zm9 0h5v17h-5zm49 0h1v17h-1zm18 0h2v17h-2zm29 0h5v17h-5zm20 0h3v17h-3zm4 0h3v17h-3zm51 0h2v17h-2zm13 0h3v17h-3zm15 0h3v17h-3zm7 0h5v17h-5zm13 0h1v17h-1zm51 0h16v17h-16zm18 0h10v17h-10zm13 0h1v17h-1zm8 0h12v17h-12zm90 0h2v17h-2zm53 0h3v17h-3zm5 0h1v17h-1zm32 0h2v17h-2zm49 0h9v17h-9zm14 0h8v17h-8zm10 0h10v17h-10zm109 0h1v17h-1zm14 0h2v17h-2zm20 0h9v17h-9zm93 0h5v17h-5zm7 0h2v17h-2zm3 0h1v17h-1zm8 0h2v17h-2zm39 0h4v17h-4zM377 414h3v17h-3zm33 0h8v17h-8zm34 0h3v17h-3zm221 0h2v17h-2zm136 0h3v17h-3zm46 0h4v17h-4zm27 0h5v17h-5zm25 0h1v17h-1zm7 0h1v17h-1zm2 0h5v17h-5zm62 0h5v17h-5zm12 0h2v17h-2zm12 0h3v17h-3zm19 0h2v17h-2zm32 0h2v17h-2zm13 0h3v17h-3zm35 0h1v17h-1zm44 0h2v17h-2zm7 0h28v17h-28zm31 0h1v17h-1zm8 0h9v17h-9zm90 0h2v17h-2zm6 0h1v17h-1zm23 0h2v17h-2zm4 0h5v17h-5zm20 0h3v17h-3zm30 0h2v17h-2zm7 0h2v17h-2zm85 0h6v17h-6zm17 0h5v17h-5zm20 0h5v17h-5zm90 0h3v17h-3zm4 0h6v17h-6zm83 0h1v17h-1zm10 0h2v17h-2zm10 0h1v17h-1zm47 0h4v17h-4zm37 0h1v17h-1zm3 0h1v17h-1zm9 0h3v17h-3zm22 0h2v17h-2zM203 431h4v17h-4zm30 0h4v17h-4zm6 0h1v17h-1zm57 0h3v17h-3zm37 0h2v17h-2zm44 0h3v17h-3zm33 0h3v17h-3zm230 0h1v17h-1zm25 0h2v17h-2zm39 0h2v17h-2zm90 0h2v17h-2zm7 0h3v17h-3zm46 0h6v17h-6zm13 0h4v17h-4zm10 0h9v17h-9zm29 0h1v17h-1zm5 0h3v17h-3zm4 0h9v17h-9zm14 0h2v17h-2zm27 0h5v17h-5zm10 0h16v17h-16zm38 0h4v17h-4zm7 0h7v17h-7zm9 0h3v17h-3zm5 0h7v17h-7zm9 0h6v17h-6zm10 0h6v17h-6zm8 0h2v17h-2zm48 0h1v17h-1zm60 0h4v17h-4zm17 0h2v17h-2zm77 0h2v17h-2zm22 0h6v17h-6zm10 0h1v17h-1zm25 0h2v17h-2zm5 0h2v17h-2zm15 0h5v17h-5zm32 0h2v17h-2zm95 0h3v17h-3zm14 0h5v17h-5zm8 0h17v17h-17zm21 0h2v17h-2zm51 0h1v17h-1zm38 0h2v17h-2zm45 0h4v17h-4zm44 0h2v17h-2zm23 0h2v17h-2zm7 0h3v17h-3zm19 0h1v17h-1zm8 0h4v17h-4zm20 0h3v17h-3zm51 0h2v17h-2zm9 0h5v17h-5zm34 0h3v17h-3zM233 448h4v17h-4zm31 0h1v17h-1zm376 0h3v17h-3zm137 0h1v17h-1zm17 0h2v17h-2zm7 0h3v17h-3zm9 0h4v17h-4zm24 0h2v17h-2zm13 0h4v17h-4zm27 0h5v17h-5zm25 0h3v17h-3zm7 0h1v17h-1zm7 0h4v17h-4zm9 0h2v17h-2zm48 0h5v17h-5zm12 0h2v17h-2zm8 0h3v17h-3zm4 0h3v17h-3zm19 0h2v17h-2zm32 0h2v17h-2zm13 0h3v17h-3zm35 0h1v17h-1zm30 0h4v17h-4zm14 0h2v17h-2zm16 0h6v17h-6zm13 0h2v17h-2zm3 0h3v17h-3zm100 0h14v17h-14zm18 0h5v17h-5zm37 0h2v17h-2zm81 0h14v17h-14zm80 0h5v17h-5zm60 0h1v17h-1zm13 0h3v17h-3zm17 0h11v17h-11zm57 0h4v17h-4zm117 0h3v17h-3zm51 0h2v17h-2zm9 0h16v17h-16zm20 0h10v17h-10zM90 465h5v17h-5zm6 0h3v17h-3zm73 0h2v17h-2zm472 0h2v17h-2zm54 0h3v17h-3zm82 0h1v17h-1zm7 0h5v17h-5zm10 0h2v17h-2zm7 0h3v17h-3zm46 0h4v17h-4zm27 0h5v17h-5zm25 0h18v17h-18zm23 0h2v17h-2zm37 0h4v17h-4zm54 0h3v17h-3zm140 0h6v17h-6zm9 0h4v17h-4zm7 0h1v17h-1zm52 0h5v17h-5zm7 0h2v17h-2zm6 0h7v17h-7zm9 0h6v17h-6zm8 0h1v17h-1zm6 0h5v17h-5zm22 0h1v17h-1zm73 0h13v17h-13zm19 0h5v17h-5zm8 0h2v17h-2zm3 0h2v17h-2zm78 0h2v17h-2zm25 0h5v17h-5zm98 0h2v17h-2zm75 0h5v17h-5zm16 0h3v17h-3zm75 0h3v17h-3zM233 482h4v17h-4zm408 0h2v17h-2zm33 0h16v17h-16zm19 0h1v17h-1zm2 0h5v17h-5zm42 0h2v17h-2zm45 0h9v17h-9zm12 0h10v17h-10zm53 0h4v17h-4zm11 0h6v17h-6zm7 0h5v17h-5zm6 0h8v17h-8zm28 0h3v17h-3zm7 0h1v17h-1zm7 0h4v17h-4zm91 0h1v17h-1zm9 0h3v17h-3zm5 0h3v17h-3zm105 0h6v17h-6zm14 0h2v17h-2zm12 0h10v17h-10zm13 0h3v17h-3zm7 0h1v17h-1zm52 0h5v17h-5zm18 0h2v17h-2zm30 0h4v17h-4zm6 0h8v17h-8zm12 0h5v17h-5zm37 0h2v17h-2zm19 0h5v17h-5zm9 0h29v17h-29zm30 0h2v17h-2zm4 0h9v17h-9zm19 0h9v17h-9zm43 0h22v17h-22zm75 0h4v17h-4zm22 0h1v17h-1zm6 0h1v17h-1zm7 0h3v17h-3zm110 0h15v17h-15zm149 0h2v17h-2zm5 0h3v17h-3zm7 0h5v17h-5zm17 0h4v17h-4zM96 499h3v17h-3zm137 0h4v17h-4zm408 0h2v17h-2zm33 0h20v17h-20zm21 0h5v17h-5zm42 0h2v17h-2zm45 0h9v17h-9zm12 0h7v17h-7zm53 0h6v17h-6zm13 0h4v17h-4zm5 0h5v17h-5zm9 0h5v17h-5zm25 0h8v17h-8zm14 0h4v17h-4zm9 0h1v17h-1zm72 0h7v17h-7zm10 0h1v17h-1zm7 0h5v17h-5zm7 0h5v17h-5zm13 0h2v17h-2zm83 0h2v17h-2zm3 0h1v17h-1zm3 0h2v17h-2zm3 0h2v17h-2zm14 0h2v17h-2zm7 0h15v17h-15zm18 0h4v17h-4zm6 0h2v17h-2zm53 0h5v17h-5zm9 0h11v17h-11zm13 0h3v17h-3zm81 0h2v17h-2zm21 0h3v17h-3zm7 0h43v17h-43zm96 0h3v17h-3zm10 0h4v17h-4zm27 0h5v17h-5zm30 0h1v17h-1zm307 0h3v17h-3zM83 516h2v17h-2zm150 0h4v17h-4zm408 0h2v17h-2zm96 0h2v17h-2zm45 0h2v17h-2zm12 0h2v17h-2zm40 0h7v17h-7zm13 0h7v17h-7zm9 0h23v17h-23zm43 0h9v17h-9zm14 0h4v17h-4zm9 0h6v17h-6zm9 0h5v17h-5zm10 0h2v17h-2zm13 0h9v17h-9zm43 0h4v17h-4zm7 0h1v17h-1zm9 0h3v17h-3zm5 0h3v17h-3zm13 0h2v17h-2zm81 0h1v17h-1zm2 0h2v17h-2zm3 0h1v17h-1zm3 0h2v17h-2zm17 0h2v17h-2zm12 0h10v17h-10zm13 0h4v17h-4zm6 0h2v17h-2zm53 0h5v17h-5zm103 0h2v17h-2zm21 0h3v17h-3zm7 0h43v17h-43zm51 0h7v17h-7zm20 0h1v17h-1zm23 0h18v17h-18zm19 0h8v17h-8zm13 0h13v17h-13zm37 0h1v17h-1zm104 0h2v17h-2zm9 0h4v17h-4zm46 0h3v17h-3zm8 0h3v17h-3zm87 0h1v17h-1zm45 0h3v17h-3zm8 0h3v17h-3zm7 0h5v17h-5zm25 0h4v17h-4zM233 533h4v17h-4zm161 0h2v17h-2zm247 0h2v17h-2zm141 0h2v17h-2zm12 0h2v17h-2zm40 0h7v17h-7zm12 0h5v17h-5zm7 0h1v17h-1zm5 0h12v17h-12zm41 0h3v17h-3zm7 0h1v17h-1zm7 0h4v17h-4zm36 0h14v17h-14zm82 0h2v17h-2zm10 0h2v17h-2zm17 0h3v17h-3zm6 0h2v17h-2zm73 0h2v17h-2zm12 0h4v17h-4zm7 0h3v17h-3zm6 0h3v17h-3zm7 0h1v17h-1zm52 0h5v17h-5zm13 0h7v17h-7zm111 0h3v17h-3zm7 0h11v17h-11zm19 0h5v17h-5zm15 0h5v17h-5zm17 0h7v17h-7zm9 0h2v17h-2zm11 0h1v17h-1zm7 0h3v17h-3zm8 0h2v17h-2zm3 0h5v17h-5zm7 0h16v17h-16zm17 0h8v17h-8zm13 0h15v17h-15zm291 0h1v17h-1zm45 0h3v17h-3zm8 0h3v17h-3zm32 0h4v17h-4zM96 550h3v17h-3zm137 0h4v17h-4zm62 0h1v17h-1zm2 0h2v17h-2zm6 0h2v17h-2zm5 0h3v17h-3zm184 0h1v17h-1zm149 0h2v17h-2zm63 0h2v17h-2zm9 0h3v17h-3zm7 0h3v17h-3zm17 0h2v17h-2zm45 0h2v17h-2zm7 0h2v17h-2zm5 0h2v17h-2zm40 0h2v17h-2zm72 0h1v17h-1zm7 0h4v17h-4zm46 0h4v17h-4zm23 0h2v17h-2zm12 0h7v17h-7zm10 0h3v17h-3zm9 0h5v17h-5zm10 0h10v17h-10zm14 0h6v17h-6zm8 0h2v17h-2zm13 0h8v17h-8zm35 0h1v17h-1zm44 0h2v17h-2zm12 0h4v17h-4zm7 0h3v17h-3zm6 0h6v17h-6zm7 0h3v17h-3zm6 0h1v17h-1zm9 0h3v17h-3zm8 0h5v17h-5zm47 0h2v17h-2zm40 0h1v17h-1zm43 0h1v17h-1zm2 0h2v17h-2zm32 0h2v17h-2zm68 0h2v17h-2zm6 0h3v17h-3zm8 0h2v17h-2zm3 0h5v17h-5zm13 0h4v17h-4zm97 0h1v17h-1zm226 0h1v17h-1zm7 0h1v17h-1zm30 0h3v17h-3zm8 0h3v17h-3zm7 0h5v17h-5zm25 0h4v17h-4zM295 567h1v17h-1zm13 0h3v17h-3zm429 0h2v17h-2zm45 0h2v17h-2zm12 0h2v17h-2zm40 0h2v17h-2zm12 0h1v17h-1zm54 0h7v17h-7zm13 0h4v17h-4zm100 0h3v17h-3zm18 0h2v17h-2zm27 0h3v17h-3zm6 0h2v17h-2zm21 0h4v17h-4zm8 0h1v17h-1zm56 0h4v17h-4zm7 0h3v17h-3zm6 0h6v17h-6zm7 0h3v17h-3zm6 0h3v17h-3zm8 0h9v17h-9zm12 0h2v17h-2zm17 0h1v17h-1zm3 0h2v17h-2zm19 0h7v17h-7zm18 0h5v17h-5zm27 0h1v17h-1zm43 0h1v17h-1zm23 0h2v17h-2zm7 0h2v17h-2zm4 0h2v17h-2zm15 0h5v17h-5zm11 0h2v17h-2zm4 0h6v17h-6zm9 0h4v17h-4zm8 0h7v17h-7zm9 0h2v17h-2zm7 0h2v17h-2zm4 0h6v17h-6zm7 0h3v17h-3zm4 0h2v17h-2zm4 0h2v17h-2zm3 0h23v17h-23zm24 0h28v17h-28zm31 0h2v17h-2zm55 0h1v17h-1zm223 0h3v17h-3zm10 0h1v17h-1zM730 584h1v17h-1zm7 0h2v17h-2zm57 0h2v17h-2zm40 0h7v17h-7zm12 0h1v17h-1zm124 0h5v17h-5zm27 0h4v17h-4zm7 0h3v17h-3zm9 0h3v17h-3zm136 0h4v17h-4zm7 0h1v17h-1zm6 0h3v17h-3zm7 0h1v17h-1zm26 0h2v17h-2zm17 0h1v17h-1zm9 0h5v17h-5zm13 0h7v17h-7zm111 0h18v17h-18zm26 0h5v17h-5zm10 0h3v17h-3zm5 0h6v17h-6zm9 0h4v17h-4zm8 0h7v17h-7zm9 0h9v17h-9zm11 0h3v17h-3zm7 0h3v17h-3zm4 0h6v17h-6zm7 0h17v17h-17zm21 0h2v17h-2zm3 0h28v17h-28zm50 0h1v17h-1zm44 0h2v17h-2zm250 0h5v17h-5zM83 601h2v18h-2zm49 0h3v18h-3zm4 0h2v18h-2zm97 0h4v18h-4zm62 0h1v18h-1zm2 0h2v18h-2zm221 0h4v18h-4zm15 0h3v18h-3zm125 0h7v18h-7zm35 0h1v18h-1zm13 0h3v18h-3zm113 0h3v18h-3zm8 0h2v18h-2zm7 0h7v18h-7zm12 0h5v18h-5zm99 0h4v18h-4zm25 0h5v18h-5zm18 0h2v18h-2zm25 0h2v18h-2zm136 0h4v18h-4zm7 0h1v18h-1zm6 0h6v18h-6zm7 0h1v18h-1zm65 0h5v18h-5zm152 0h3v18h-3zm129 0h1v18h-1zm8 0h4v18h-4zm36 0h2v18h-2zm30 0h11v18h-11zm12 0h12v18h-12zm14 0h4v18h-4zm43 0h5v18h-5zm151 0h5v18h-5zM283 619h4v17h-4zm12 0h2v17h-2zm223 0h4v17h-4zm15 0h2v17h-2zm3 0h3v17h-3zm75 0h3v17h-3zm38 0h2v17h-2zm44 0h1v17h-1zm101 0h2v17h-2zm25 0h3v17h-3zm8 0h2v17h-2zm7 0h7v17h-7zm12 0h5v17h-5zm142 0h2v17h-2zm25 0h2v17h-2zm136 0h4v17h-4zm13 0h3v17h-3zm7 0h1v17h-1zm217 0h3v17h-3zm165 0h1v17h-1zm8 0h2v17h-2zm4 0h4v17h-4zm28 0h3v17h-3zm5 0h4v17h-4zm5 0h12v17h-12zm14 0h4v17h-4zm47 0h1v17h-1zM308 636h3v17h-3zm27 0h3v17h-3zm17 0h8v17h-8zm10 0h10v17h-10zm129 0h1v17h-1zm2 0h2v17h-2zm43 0h3v17h-3zm113 0h2v17h-2zm9 0h7v17h-7zm35 0h1v17h-1zm7 0h9v17h-9zm13 0h3v17h-3zm40 0h5v17h-5zm41 0h2v17h-2zm25 0h3v17h-3zm17 0h5v17h-5zm38 0h5v17h-5zm28 0h4v17h-4zm6 0h9v17h-9zm55 0h7v17h-7zm25 0h2v17h-2zm25 0h2v17h-2zm14 0h6v17h-6zm14 0h2v17h-2zm6 0h3v17h-3zm11 0h8v17h-8zm11 0h3v17h-3zm36 0h2v17h-2zm7 0h1v17h-1zm2 0h6v17h-6zm8 0h22v17h-22zm27 0h4v17h-4zm7 0h1v17h-1zm6 0h4v17h-4zm7 0h1v17h-1zm43 0h1v17h-1zm22 0h5v17h-5zm109 0h2v17h-2zm4 0h1v17h-1zm5 0h10v17h-10zm29 0h3v17h-3zm5 0h5v17h-5zm6 0h3v17h-3zm104 0h2v17h-2zm55 0h1v17h-1zm7 0h3v17h-3zm5 0h2v17h-2zm20 0h2v17h-2zm79 0h1v17h-1zm147 0h5v17h-5zM83 653h2v17h-2zm12 0h1v17h-1zm85 0h1v17h-1zm116 0h3v17h-3zm56 0h3v17h-3zm141 0h2v17h-2zm156 0h2v17h-2zm5 0h4v17h-4zm7 0h4v17h-4zm6 0h1v17h-1zm7 0h11v17h-11zm12 0h4v17h-4zm7 0h16v17h-16zm19 0h1v17h-1zm12 0h2v17h-2zm6 0h1v17h-1zm3 0h4v17h-4zm10 0h19v17h-19zm20 0h5v17h-5zm10 0h2v17h-2zm11 0h7v17h-7zm10 0h2v17h-2zm60 0h2v17h-2zm45 0h5v17h-5zm9 0h5v17h-5zm15 0h5v17h-5zm13 0h7v17h-7zm13 0h5v17h-5zm14 0h7v17h-7zm12 0h2v17h-2zm13 0h2v17h-2zm25 0h2v17h-2zm199 0h1v17h-1zm131 0h2v17h-2zm4 0h1v17h-1zm7 0h4v17h-4zm27 0h3v17h-3zm5 0h5v17h-5zm6 0h6v17h-6zm32 0h2v17h-2zm99 0h4v17h-4zM83 670h2v17h-2zm12 0h1v17h-1zm336 0h1v17h-1zm10 0h3v17h-3zm6 0h3v17h-3zm202 0h2v17h-2zm44 0h1v17h-1zm55 0h20v17h-20zm22 0h5v17h-5zm19 0h2v17h-2zm5 0h2v17h-2zm33 0h2v17h-2zm186 0h2v17h-2zm114 0h2v17h-2zm22 0h4v17h-4zm13 0h4v17h-4zm8 0h2v17h-2zm5 0h3v17h-3zm4 0h8v17h-8zm33 0h1v17h-1zm63 0h8v17h-8zm81 0h2v17h-2zm25 0h1v17h-1zm109 0h1v17h-1zm3 0h1v17h-1zm3 0h2v17h-2zm18 0h7v17h-7zm9 0h4v17h-4zm6 0h32v17h-32zm34 0h4v17h-4zm8 0h4v17h-4zm7 0h1v17h-1zm5 0h3v17h-3zm5 0h1v17h-1zm3 0h3v17h-3zm5 0h9v17h-9zm10 0h4v17h-4zm6 0h1v17h-1zm3 0h4v17h-4zm47 0h1v17h-1zm10 0h2v17h-2zm5 0h2v17h-2zm13 0h2v17h-2zm87 0h4v17h-4zm37 0h20v17h-20zm25 0h2v17h-2zm4 0h3v17h-3zM83 687h2v17h-2zm12 0h1v17h-1zm200 0h1v17h-1zm2 0h2v17h-2zm65 0h2v17h-2zm34 0h1v17h-1zm253 0h2v17h-2zm12 0h3v17h-3zm18 0h2v17h-2zm7 0h4v17h-4zm20 0h3v17h-3zm42 0h14v17h-14zm22 0h5v17h-5zm19 0h2v17h-2zm5 0h2v17h-2zm25 0h3v17h-3zm8 0h2v17h-2zm19 0h5v17h-5zm7 0h3v17h-3zm7 0h5v17h-5zm48 0h5v17h-5zm60 0h2v17h-2zm7 0h2v17h-2zm110 0h4v17h-4zm40 0h4v17h-4zm7 0h2v17h-2zm7 0h5v17h-5zm10 0h4v17h-4zm13 0h3v17h-3zm8 0h2v17h-2zm5 0h3v17h-3zm4 0h8v17h-8zm70 0h1v17h-1zm13 0h7v17h-7zm13 0h8v17h-8zm218 0h1v17h-1zm2 0h3v17h-3zm7 0h3v17h-3zm13 0h6v17h-6zm8 0h4v17h-4zm7 0h4v17h-4zm5 0h10v17h-10zm48 0h2v17h-2zm5 0h1v17h-1zm3 0h3v17h-3zm5 0h9v17h-9zm10 0h7v17h-7zm9 0h4v17h-4zm13 0h8v17h-8zm12 0h1v17h-1zm16 0h2v17h-2zm6 0h1v17h-1zm28 0h2v17h-2zm87 0h1v17h-1zm37 0h11v17h-11zm12 0h8v17h-8zm13 0h3v17h-3zm4 0h3v17h-3zm9 0h6v17h-6zM129 704h2v17h-2zm87 0h2v17h-2zm79 0h1v17h-1zm136 0h1v17h-1zm10 0h3v17h-3zm6 0h3v17h-3zm169 0h2v17h-2zm45 0h3v17h-3zm18 0h2v17h-2zm14 0h1v17h-1zm13 0h3v17h-3zm47 0h9v17h-9zm17 0h5v17h-5zm19 0h2v17h-2zm5 0h2v17h-2zm52 0h1v17h-1zm129 0h2v17h-2zm98 0h3v17h-3zm12 0h4v17h-4zm8 0h1v17h-1zm4 0h16v17h-16zm17 0h2v17h-2zm3 0h3v17h-3zm82 0h1v17h-1zm76 0h12v17h-12zm79 0h2v17h-2zm41 0h3v17h-3zm4 0h11v17h-11zm94 0h1v17h-1zm9 0h3v17h-3zm7 0h5v17h-5zm7 0h5v17h-5zm7 0h4v17h-4zm7 0h4v17h-4zm5 0h5v17h-5zm16 0h1v17h-1zm5 0h3v17h-3zm7 0h4v17h-4zm8 0h4v17h-4zm7 0h1v17h-1zm5 0h3v17h-3zm5 0h1v17h-1zm52 0h1v17h-1zm106 0h3v17h-3zm6 0h1v17h-1zm25 0h1v17h-1zm16 0h1v17h-1zm16 0h5v17h-5zM83 721h2v17h-2zm113 0h3v17h-3zm20 0h2v17h-2zm81 0h2v17h-2zm65 0h2v17h-2zm48 0h3v17h-3zm81 0h1v17h-1zm31 0h4v17h-4zm10 0h1v17h-1zm82 0h2v17h-2zm9 0h2v17h-2zm18 0h8v17h-8zm23 0h1v17h-1zm15 0h2v17h-2zm69 0h20v17h-20zm22 0h5v17h-5zm14 0h7v17h-7zm10 0h7v17h-7zm25 0h3v17h-3zm27 0h1v17h-1zm62 0h5v17h-5zm156 0h2v17h-2zm33 0h3v17h-3zm8 0h8v17h-8zm9 0h2v17h-2zm3 0h5v17h-5zm48 0h1v17h-1zm104 0h4v17h-4zm6 0h12v17h-12zm31 0h3v17h-3zm89 0h3v17h-3zm4 0h11v17h-11zm20 0h1v17h-1zm74 0h1v17h-1zm9 0h3v17h-3zm7 0h5v17h-5zm6 0h12v17h-12zm15 0h4v17h-4zm5 0h5v17h-5zm21 0h3v17h-3zm7 0h2v17h-2zm15 0h1v17h-1zm5 0h3v17h-3zm5 0h3v17h-3zm152 0h3v17h-3zm12 0h1v17h-1zm26 0h3v17h-3zm7 0h3v17h-3zM362 738h2v17h-2zM107 755h1v17h-1zm25 0h3v17h-3zm64 0h3v17h-3zm43 0h1v17h-1zm58 0h2v17h-2zm225 0h4v17h-4zm184 0h3v17h-3zm6 0h1v17h-1zm34 0h15v17h-15zm16 0h1v17h-1zm8 0h3v17h-3zm19 0h2v17h-2zm5 0h2v17h-2zm7 0h3v17h-3zm5 0h4v17h-4zm13 0h3v17h-3zm27 0h1v17h-1zm18 0h1v17h-1zm44 0h5v17h-5zm55 0h5v17h-5zm21 0h4v17h-4zm77 0h3v17h-3zm12 0h3v17h-3zm20 0h1v17h-1zm120 0h2v17h-2zm171 0h2v17h-2zm11 0h3v17h-3zm4 0h15v17h-15zm20 0h1v17h-1zm104 0h4v17h-4zm40 0h2v17h-2zm22 0h1v17h-1zm3 0h1v17h-1zm3 0h3v17h-3zm10 0h4v17h-4zm11 0h1v17h-1zm3 0h4v17h-4zm25 0h1v17h-1zm78 0h4v17h-4zm6 0h1v17h-1zm5 0h4v17h-4zm11 0h3v17h-3zm6 0h3v17h-3zm6 0h4v17h-4zm57 0h5v17h-5zm45 0h4v17h-4zM180 772h1v17h-1zm16 0h3v17h-3zm7 0h7v17h-7zm11 0h4v17h-4zm12 0h4v17h-4zm11 0h3v17h-3zm12 0h2v17h-2zm40 0h2v17h-2zm8 0h2v17h-2zm86 0h2v17h-2zm11 0h2v17h-2zm7 0h2v17h-2zm9 0h3v17h-3zm43 0h18v17h-18zm20 0h9v17h-9zm14 0h25v17h-25zm26 0h17v17h-17zm19 0h1v17h-1zm4 0h3v17h-3zm11 0h8v17h-8zm13 0h5v17h-5zm18 0h1v17h-1zm8 0h8v17h-8zm126 0h1v17h-1zm21 0h4v17h-4zm74 0h3v17h-3zm46 0h1v17h-1zm11 0h1v17h-1zm44 0h5v17h-5zm55 0h5v17h-5zm12 0h2v17h-2zm86 0h5v17h-5zm12 0h3v17h-3zm20 0h1v17h-1zm51 0h9v17h-9zm21 0h1v17h-1zm217 0h2v17h-2zm470 0h2v17h-2zM180 789h1v17h-1zm8 0h5v17h-5zm8 0h3v17h-3zm43 0h1v17h-1zm123 0h2v17h-2zm69 0h1v17h-1zm10 0h3v17h-3zm9 0h3v17h-3zm8 0h13v17h-13zm15 0h4v17h-4zm6 0h1v17h-1zm12 0h2v17h-2zm4 0h3v17h-3zm37 0h1v17h-1zm4 0h3v17h-3zm16 0h1v17h-1zm3 0h5v17h-5zm8 0h2v17h-2zm183 0h2v17h-2zm29 0h2v17h-2zm5 0h2v17h-2zm14 0h7v17h-7zm52 0h1v17h-1zm62 0h5v17h-5zm55 0h7v17h-7zm78 0h2v17h-2zm9 0h5v17h-5zm11 0h3v17h-3zm5 0h3v17h-3zm7 0h3v17h-3zm20 0h1v17h-1zm56 0h4v17h-4zm16 0h1v17h-1zm217 0h2v17h-2zm196 0h1v17h-1zm10 0h1v17h-1zm126 0h4v17h-4zm38 0h1v17h-1zm87 0h2v17h-2zM83 806h5v17h-5zm12 0h5v17h-5zm12 0h2v17h-2zm5 0h4v17h-4zm12 0h3v17h-3zm5 0h2v17h-2zm3 0h4v17h-4zm29 0h7v17h-7zm201 0h2v17h-2zm12 0h11v17h-11zm13 0h3v17h-3zm5 0h4v17h-4zm9 0h12v17h-12zm20 0h5v17h-5zm58 0h1v17h-1zm12 0h7v17h-7zm23 0h4v17h-4zm18 0h1v17h-1zm4 0h3v17h-3zm9 0h2v17h-2zm18 0h2v17h-2zm15 0h1v17h-1zm11 0h5v17h-5zm52 0h2v17h-2zm8 0h2v17h-2zm30 0h2v17h-2zm27 0h3v17h-3zm6 0h1v17h-1zm89 0h3v17h-3zm63 0h1v17h-1zm81 0h4v17h-4zm18 0h5v17h-5zm87 0h5v17h-5zm16 0h3v17h-3zm7 0h3v17h-3zm20 0h1v17h-1zm24 0h1v17h-1zm70 0h5v17h-5zm251 0h2v17h-2zm218 0h2v17h-2zm36 0h3v17h-3zm5 0h21v17h-21zM85 823h3v17h-3zm22 0h1v17h-1zm89 0h3v17h-3zm18 0h2v17h-2zm244 0h3v17h-3zm56 0h4v17h-4zm64 0h1v17h-1zm155 0h4v17h-4zm120 0h1v17h-1zm135 0h2v17h-2zm62 0h5v17h-5zm43 0h1v17h-1zm24 0h1v17h-1zm39 0h1v17h-1zm31 0h5v17h-5zm251 0h2v17h-2zm127 0h2v17h-2zm13 0h1v17h-1zm62 0h1v17h-1zm16 0h2v17h-2zm58 0h4v17h-4zm10 0h1v17h-1zm28 0h1v17h-1zm25 0h4v17h-4zm16 0h3v17h-3zm26 0h3v17h-3zm20 0h2v17h-2zM85 840h3v17h-3zm22 0h2v17h-2zm20 0h1v17h-1zm89 0h2v17h-2zm178 0h2v17h-2zm14 0h2v17h-2zm83 0h1v17h-1zm23 0h4v17h-4zm49 0h2v17h-2zm48 0h3v17h-3zm30 0h2v17h-2zm92 0h4v17h-4zm13 0h2v17h-2zm100 0h1v17h-1zm117 0h5v17h-5zm25 0h2v17h-2zm6 0h3v17h-3zm56 0h5v17h-5zm16 0h3v17h-3zm27 0h1v17h-1zm77 0h2v17h-2zm30 0h5v17h-5zm143 0h2v17h-2zm158 0h1v17h-1zm135 0h4v17h-4zm20 0h2v17h-2zm36 0h3v17h-3zm32 0h1v17h-1zm53 0h4v17h-4zm8 0h3v17h-3zm29 0h3v17h-3zm5 0h3v17h-3zm20 0h2v17h-2zM107 857h1v17h-1zm20 0h1v17h-1zm211 0h7v17h-7zm56 0h2v17h-2zm14 0h2v17h-2zm85 0h2v17h-2zm70 0h2v17h-2zm80 0h4v17h-4zm103 0h2v17h-2zm100 0h1v17h-1zm14 0h4v17h-4zm103 0h5v17h-5zm19 0h2v17h-2zm6 0h2v17h-2zm6 0h3v17h-3zm40 0h3v17h-3zm32 0h3v17h-3zm27 0h1v17h-1zm60 0h3v17h-3zm17 0h2v17h-2zm173 0h2v17h-2zm158 0h1v17h-1zm135 0h4v17h-4zm141 0h1v17h-1zm16 0h4v17h-4zm16 0h5v17h-5zm10 0h3v17h-3zm20 0h2v17h-2zm15 0h4v17h-4zM308 874h3v18h-3zm30 0h7v18h-7zm141 0h1v18h-1zm3 0h5v18h-5zm71 0h2v18h-2zm12 0h5v18h-5zm78 0h4v18h-4zm90 0h4v18h-4zm13 0h2v18h-2zm61 0h3v18h-3zm175 0h8v18h-8zm12 0h3v18h-3zm47 0h2v18h-2zm6 0h3v18h-3zm19 0h3v18h-3zm87 0h3v18h-3zm9 0h3v18h-3zm8 0h2v18h-2zm173 0h2v18h-2zm39 0h2v18h-2zm274 0h2v18h-2zm137 0h1v18h-1zm16 0h5v18h-5zm30 0h2v18h-2zM127 892h1v17h-1zm34 0h5v17h-5zm35 0h3v17h-3zm198 0h2v17h-2zm85 0h1v17h-1zm14 0h2v17h-2zm9 0h3v17h-3zm51 0h2v17h-2zm12 0h5v17h-5zm16 0h5v17h-5zm70 0h3v17h-3zm44 0h3v17h-3zm51 0h2v17h-2zm61 0h3v17h-3zm7 0h5v17h-5zm32 0h1v17h-1zm58 0h2v17h-2zm4 0h5v17h-5zm9 0h6v17h-6zm46 0h5v17h-5zm19 0h6v17h-6zm33 0h3v17h-3zm78 0h1v17h-1zm69 0h3v17h-3zm8 0h2v17h-2zm69 0h2v17h-2zm119 0h4v17h-4zm140 0h4v17h-4zm7 0h9v17h-9zm18 0h6v17h-6zm11 0h11v17h-11zm17 0h1v17h-1zm10 0h2v17h-2zm10 0h4v17h-4zm7 0h5v17h-5zm10 0h1v17h-1zm10 0h2v17h-2zm12 0h2v17h-2zm5 0h4v17h-4zm17 0h9v17h-9zm30 0h1v17h-1zm104 0h1v17h-1zm6 0h6v17h-6zm13 0h6v17h-6zm29 0h3v17h-3zm5 0h3v17h-3zm20 0h2v17h-2zm3 0h1v17h-1zm12 0h4v17h-4zM105 909h4v17h-4zm22 0h1v17h-1zm21 0h3v17h-3zm13 0h5v17h-5zm19 0h2v17h-2zm4 0h15v17h-15zm19 0h15v17h-15zm16 0h2v17h-2zm18 0h2v17h-2zm3 0h1v17h-1zm23 0h1v17h-1zm10 0h6v17h-6zm110 0h2v17h-2zm20 0h7v17h-7zm10 0h5v17h-5zm8 0h3v17h-3zm5 0h5v17h-5zm15 0h9v17h-9zm23 0h1v17h-1zm13 0h3v17h-3zm5 0h5v17h-5zm9 0h7v17h-7zm11 0h10v17h-10zm11 0h1v17h-1zm5 0h4v17h-4zm8 0h6v17h-6zm21 0h8v17h-8zm13 0h3v17h-3zm5 0h5v17h-5zm11 0h2v17h-2zm5 0h8v17h-8zm15 0h5v17h-5zm53 0h5v17h-5zm30 0h7v17h-7zm14 0h1v17h-1zm2 0h3v17h-3zm38 0h4v17h-4zm13 0h2v17h-2zm50 0h5v17h-5zm8 0h2v17h-2zm3 0h3v17h-3zm136 0h2v17h-2zm20 0h5v17h-5zm38 0h6v17h-6zm14 0h8v17h-8zm49 0h2v17h-2zm29 0h1v17h-1zm4 0h3v17h-3zm73 0h2v17h-2zm38 0h2v17h-2zm13 0h9v17h-9zm18 0h2v17h-2zm4 0h3v17h-3zm449 0h3v17h-3zm147 0h2v17h-2zM196 926h3v17h-3zm11 0h3v17h-3zm49 0h9v17h-9zm17 0h6v17h-6zm148 0h3v17h-3zm72 0h2v17h-2zm67 0h3v17h-3zm36 0h5v17h-5zm55 0h3v17h-3zm30 0h4v17h-4zm65 0h2v17h-2zm95 0h6v17h-6zm76 0h6v17h-6zm14 0h5v17h-5zm12 0h2v17h-2zm20 0h5v17h-5zm19 0h2v17h-2zm82 0h2v17h-2zm33 0h3v17h-3zm10 0h5v17h-5zm18 0h2v17h-2zm96 0h7v17h-7zm18 0h2v17h-2zm4 0h3v17h-3zm250 0h3v17h-3zm5 0h4v17h-4zm7 0h16v17h-16zm18 0h6v17h-6zm11 0h11v17h-11zm12 0h21v17h-21zm32 0h5v17h-5zm10 0h1v17h-1zm3 0h5v17h-5zm7 0h2v17h-2zm3 0h18v17h-18zm91 0h3v17h-3zm147 0h2v17h-2zm3 0h1v17h-1zM107 943h8v17h-8zm11 0h1v17h-1zm9 0h1v17h-1zm8 0h1v17h-1zm26 0h8v17h-8zm13 0h1v17h-1zm6 0h2v17h-2zm8 0h11v17h-11zm19 0h9v17h-9zm12 0h2v17h-2zm11 0h3v17h-3zm7 0h2v17h-2zm3 0h1v17h-1zm6 0h3v17h-3zm5 0h3v17h-3zm5 0h9v17h-9zm17 0h6v17h-6zm94 0h5v17h-5zm10 0h3v17h-3zm6 0h2v17h-2zm11 0h2v17h-2zm3 0h4v17h-4zm10 0h3v17h-3zm14 0h3v17h-3zm5 0h6v17h-6zm18 0h3v17h-3zm17 0h1v17h-1zm4 0h2v17h-2zm13 0h2v17h-2zm4 0h5v17h-5zm9 0h1v17h-1zm2 0h5v17h-5zm12 0h7v17h-7zm8 0h1v17h-1zm5 0h4v17h-4zm8 0h6v17h-6zm7 0h2v17h-2zm3 0h17v17h-17zm24 0h3v17h-3zm16 0h2v17h-2zm5 0h5v17h-5zm15 0h5v17h-5zm55 0h3v17h-3zm23 0h2v17h-2zm5 0h7v17h-7zm11 0h3v17h-3zm5 0h5v17h-5zm18 0h3v17h-3zm33 0h2v17h-2zm34 0h2v17h-2zm16 0h8v17h-8zm11 0h3v17h-3zm39 0h1v17h-1zm76 0h1v17h-1zm9 0h5v17h-5zm12 0h2v17h-2zm20 0h5v17h-5zm19 0h2v17h-2zm33 0h6v17h-6zm110 0h2v17h-2zm82 0h1v17h-1zm14 0h5v17h-5zm18 0h2v17h-2zm4 0h3v17h-3zm104 0h1v17h-1zm9 0h2v17h-2zm145 0h1v17h-1zm139 0h1v17h-1zm199 0h2v17h-2zM80 960h9v17h-9zm10 0h5v17h-5zm17 0h5v17h-5zm11 0h1v17h-1zm9 0h1v17h-1zm4 0h1v17h-1zm4 0h1v17h-1zm9 0h2v17h-2zm4 0h3v17h-3zm13 0h8v17h-8zm13 0h7v17h-7zm14 0h5v17h-5zm8 0h3v17h-3zm212 0h2v17h-2zm13 0h3v17h-3zm5 0h5v17h-5zm18 0h3v17h-3zm35 0h1v17h-1zm172 0h3v17h-3zm7 0h6v17h-6zm37 0h3v17h-3zm18 0h3v17h-3zm10 0h1v17h-1zm7 0h1v17h-1zm16 0h2v17h-2zm61 0h3v17h-3zm20 0h2v17h-2zm14 0h6v17h-6zm12 0h1v17h-1zm110 0h5v17h-5zm134 0h3v17h-3zm10 0h7v17h-7zm10 0h3v17h-3zm230 0h5v17h-5zm7 0h8v17h-8zm9 0h5v17h-5zm8 0h8v17h-8zm10 0h1v17h-1zm142 0h4v17h-4zM80 977h5v17h-5zm10 0h5v17h-5zm17 0h2v17h-2zm9 0h12v17h-12zm45 0h7v17h-7zm13 0h6v17h-6zm14 0h5v17h-5zm15 0h18v17h-18zm37 0h1v17h-1zm6 0h3v17h-3zm62 0h3v17h-3zm30 0h3v17h-3zm70 0h2v17h-2zm36 0h3v17h-3zm35 0h3v17h-3zm73 0h1v17h-1zm8 0h3v17h-3zm16 0h2v17h-2zm5 0h10v17h-10zm15 0h10v17h-10zm20 0h2v17h-2zm7 0h2v17h-2zm26 0h2v17h-2zm30 0h2v17h-2zm34 0h3v17h-3zm33 0h2v17h-2zm107 0h1v17h-1zm3 0h2v17h-2zm61 0h6v17h-6zm14 0h5v17h-5zm32 0h5v17h-5zm42 0h2v17h-2zm6 0h2v17h-2zm4 0h6v17h-6zm62 0h3v17h-3zm20 0h3v17h-3zm10 0h5v17h-5zm88 0h2v17h-2zm5 0h12v17h-12zm15 0h2v17h-2zm132 0h1v17h-1zm29 0h3v17h-3zm122 0h3v17h-3zm11 0h5v17h-5zm6 0h1v17h-1zm8 0h4v17h-4zm36 0h2v17h-2zm6 0h2v17h-2zm29 0h2v17h-2zm4 0h2v17h-2zm12 0h2v17h-2zm26 0h4v17h-4zm43 0h2v17h-2zm6 0h5v17h-5zm154 0h2v17h-2zM83 994h2v17h-2zm6 0h1v17h-1zm72 0h5v17h-5zm27 0h5v17h-5zm15 0h4v17h-4zm7 0h6v17h-6zm8 0h1v17h-1zm19 0h2v17h-2zm3 0h1v17h-1zm6 0h3v17h-3zm14 0h3v17h-3zm4 0h1v17h-1zm9 0h6v17h-6zm65 0h3v17h-3zm59 0h4v17h-4zm10 0h3v17h-3zm72 0h1v17h-1zm57 0h3v17h-3zm16 0h3v17h-3zm8 0h3v17h-3zm10 0h1v17h-1zm6 0h2v17h-2zm5 0h8v17h-8zm13 0h7v17h-7zm29 0h2v17h-2zm28 0h3v17h-3zm28 0h2v17h-2zm67 0h2v17h-2zm90 0h5v17h-5zm10 0h1v17h-1zm7 0h1v17h-1zm3 0h2v17h-2zm46 0h2v17h-2zm6 0h15v17h-15zm55 0h5v17h-5zm52 0h1v17h-1zm8 0h2v17h-2zm66 0h4v17h-4zm8 0h3v17h-3zm10 0h5v17h-5zm16 0h4v17h-4zm6 0h5v17h-5zm66 0h2v17h-2zm5 0h10v17h-10zm12 0h3v17h-3zm135 0h5v17h-5zm11 0h4v17h-4zm5 0h5v17h-5zm8 0h8v17h-8zm10 0h1v17h-1zm5 0h3v17h-3zm108 0h1v17h-1zm4 0h3v17h-3zm11 0h5v17h-5zm25 0h1v17h-1zm25 0h2v17h-2zm6 0h2v17h-2zm29 0h2v17h-2zm16 0h2v17h-2zm11 0h5v17h-5zm42 0h5v17h-5zm111 0h3v17h-3zM107 1011h1v17h-1zm2 0h6v17h-6zm7 0h2v17h-2zm3 0h9v17h-9zm19 0h1v17h-1zm8 0h2v17h-2zm15 0h5v17h-5zm27 0h5v17h-5zm15 0h18v17h-18zm23 0h4v17h-4zm34 0h3v17h-3zm48 0h3v17h-3zm86 0h2v17h-2zm3 0h4v17h-4zm82 0h1v17h-1zm97 0h2v17h-2zm5 0h5v17h-5zm8 0h2v17h-2zm7 0h5v17h-5zm40 0h5v17h-5zm7 0h4v17h-4zm6 0h2v17h-2zm51 0h9v17h-9zm13 0h3v17h-3zm7 0h4v17h-4zm26 0h2v17h-2zm55 0h3v17h-3zm52 0h1v17h-1zm3 0h2v17h-2zm107 0h5v17h-5zm42 0h2v17h-2zm6 0h2v17h-2zm4 0h1v17h-1zm3 0h7v17h-7zm46 0h2v17h-2zm29 0h1v17h-1zm4 0h3v17h-3zm10 0h5v17h-5zm6 0h1v17h-1zm3 0h1v17h-1zm2 0h2v17h-2zm82 0h5v17h-5zm147 0h1v17h-1zm427 0h3v17h-3zM116 1028h2v17h-2zm22 0h1v17h-1zm6 0h4v17h-4zm17 0h5v17h-5zm13 0h6v17h-6zm14 0h5v17h-5zm15 0h4v17h-4zm7 0h11v17h-11zm16 0h4v17h-4zm162 0h2v17h-2zm19 0h3v17h-3zm37 0h3v17h-3zm14 0h3v17h-3zm21 0h1v17h-1zm73 0h3v17h-3zm8 0h5v17h-5zm10 0h1v17h-1zm6 0h3v17h-3zm5 0h5v17h-5zm15 0h5v17h-5zm117 0h3v17h-3zm33 0h7v17h-7zm83 0h5v17h-5zm7 0h11v17h-11zm17 0h1v17h-1zm49 0h2v17h-2zm26 0h3v17h-3zm35 0h5v17h-5zm134 0h3v17h-3zm10 0h5v17h-5zm6 0h1v17h-1zm3 0h1v17h-1zm2 0h2v17h-2zm7 0h2v17h-2zm75 0h5v17h-5zm28 0h2v17h-2zm23 0h1v17h-1zm72 0h1v17h-1zm24 0h1v17h-1zm427 0h3v17h-3zM161 1045h5v17h-5zm20 0h1v17h-1zm7 0h5v17h-5zm91 0h4v17h-4zm29 0h3v17h-3zm4 0h4v17h-4zm23 0h6v17h-6zm17 0h3v17h-3zm22 0h3v17h-3zm34 0h2v17h-2zm36 0h3v17h-3zm14 0h3v17h-3zm21 0h1v17h-1zm13 0h1v17h-1zm104 0h5v17h-5zm44 0h1v17h-1zm9 0h2v17h-2zm97 0h2v17h-2zm148 0h5v17h-5zm8 0h4v17h-4zm61 0h5v17h-5zm60 0h2v17h-2zm53 0h1v17h-1zm21 0h3v17h-3zm10 0h5v17h-5zm9 0h1v17h-1zm112 0h2v17h-2zm306 0h1v17h-1zm188 0h2v17h-2zM112 1062h3v17h-3zm4 0h2v17h-2zm8 0h3v17h-3zm7 0h1v17h-1zm8 0h5v17h-5zm22 0h5v17h-5zm7 0h1v17h-1zm6 0h8v17h-8zm10 0h9v17h-9zm19 0h4v17h-4zm7 0h2v17h-2zm4 0h4v17h-4zm23 0h2v17h-2zm3 0h1v17h-1zm6 0h3v17h-3zm14 0h3v17h-3zm4 0h1v17h-1zm12 0h7v17h-7zm23 0h4v17h-4zm9 0h8v17h-8zm11 0h2v17h-2zm12 0h2v17h-2zm4 0h6v17h-6zm17 0h3v17h-3zm10 0h2v17h-2zm18 0h3v17h-3zm27 0h11v17h-11zm14 0h3v17h-3zm5 0h5v17h-5zm6 0h4v17h-4zm9 0h13v17h-13zm17 0h4v17h-4zm6 0h7v17h-7zm9 0h5v17h-5zm6 0h1v17h-1zm12 0h2v17h-2zm4 0h3v17h-3zm58 0h2v17h-2zm43 0h5v17h-5zm22 0h2v17h-2zm22 0h1v17h-1zm88 0h2v17h-2zm9 0h6v17h-6zm9 0h2v17h-2zm148 0h5v17h-5zm69 0h5v17h-5zm19 0h2v17h-2zm94 0h1v17h-1zm4 0h5v17h-5zm9 0h5v17h-5zm8 0h3v17h-3zm10 0h5v17h-5zm144 0h1v17h-1zM115 1096h1v17h-1zm4 0h9v17h-9zm62 0h1v17h-1zm7 0h5v17h-5zm11 0h8v17h-8zm11 0h8v17h-8zm9 0h2v17h-2zm7 0h4v17h-4zm11 0h2v17h-2zm3 0h9v17h-9zm20 0h3v17h-3zm4 0h6v17h-6zm12 0h3v17h-3zm32 0h3v17h-3zm4 0h4v17h-4zm7 0h2v17h-2zm33 0h3v17h-3zm22 0h3v17h-3zm6 0h3v17h-3zm5 0h2v17h-2zm3 0h2v17h-2zm6 0h2v17h-2zm3 0h4v17h-4zm11 0h5v17h-5zm18 0h5v17h-5zm6 0h4v17h-4zm9 0h3v17h-3zm17 0h3v17h-3zm7 0h6v17h-6zm48 0h5v17h-5zm13 0h6v17h-6zm9 0h4v17h-4zm6 0h4v17h-4zm6 0h8v17h-8zm16 0h7v17h-7zm33 0h15v17h-15zm18 0h2v17h-2zm4 0h2v17h-2zm5 0h2v17h-2zm17 0h1v17h-1zm7 0h2v17h-2zm38 0h1v17h-1zm10 0h3v17h-3zm33 0h2v17h-2zm11 0h4v17h-4zm7 0h2v17h-2zm32 0h2v17h-2zm82 0h4v17h-4zm14 0h5v17h-5zm10 0h5v17h-5zm10 0h5v17h-5zm8 0h4v17h-4zm6 0h5v17h-5zm9 0h6v17h-6zm11 0h3v17h-3zm8 0h5v17h-5zm7 0h2v17h-2zm11 0h5v17h-5zm9 0h5v17h-5zm19 0h2v17h-2zm34 0h2v17h-2zm60 0h1v17h-1zm4 0h5v17h-5zm17 0h3v17h-3zm28 0h2v17h-2zm24 0h4v17h-4zm21 0h2v17h-2zm49 0h2v17h-2zm32 0h1v17h-1zm18 0h4v17h-4zm126 0h3v17h-3zm164 0h2v17h-2zm35 0h2v17h-2zM188 1113h5v17h-5zm15 0h4v17h-4zm13 0h2v17h-2zm3 0h2v17h-2zm18 0h2v17h-2zm9 0h5v17h-5zm14 0h3v17h-3zm4 0h6v17h-6zm44 0h3v17h-3zm19 0h21v17h-21zm25 0h3v17h-3zm22 0h3v17h-3zm34 0h2v17h-2zm59 0h4v17h-4zm59 0h6v17h-6zm9 0h1v17h-1zm4 0h2v17h-2zm6 0h10v17h-10zm15 0h10v17h-10zm11 0h15v17h-15zm18 0h17v17h-17zm29 0h7v17h-7zm108 0h2v17h-2zm5 0h2v17h-2zm8 0h9v17h-9zm39 0h2v17h-2zm41 0h3v17h-3zm75 0h5v17h-5zm42 0h5v17h-5zm27 0h5v17h-5zm19 0h2v17h-2zm34 0h2v17h-2zm9 0h2v17h-2zm18 0h2v17h-2zm33 0h1v17h-1zm21 0h3v17h-3zm10 0h5v17h-5zm63 0h2v17h-2zm30 0h5v17h-5zm19 0h7v17h-7zm32 0h1v17h-1zm270 0h2v17h-2zm24 0h11v17h-11zm13 0h9v17h-9zm137 0h2v17h-2zm90 0h3v17h-3zM188 1130h5v17h-5zm15 0h4v17h-4zm13 0h2v17h-2zm92 0h3v17h-3zm23 0h4v17h-4zm21 0h3v17h-3zm22 0h3v17h-3zm29 0h2v17h-2zm5 0h10v17h-10zm90 0h7v17h-7zm15 0h5v17h-5zm13 0h6v17h-6zm9 0h1v17h-1zm6 0h4v17h-4zm6 0h5v17h-5zm31 0h1v17h-1zm18 0h5v17h-5zm181 0h1v17h-1zm24 0h3v17h-3zm18 0h3v17h-3zm15 0h2v17h-2zm102 0h5v17h-5zm27 0h5v17h-5zm7 0h7v17h-7zm12 0h2v17h-2zm68 0h5v17h-5zm11 0h3v17h-3zm28 0h4v17h-4zm8 0h3v17h-3zm21 0h2v17h-2zm7 0h2v17h-2zm31 0h1v17h-1zm9 0h1v17h-1zm86 0h1v17h-1zm245 0h5v17h-5zm19 0h12v17h-12zm14 0h16v17h-16zm17 0h5v17h-5zm6 0h4v17h-4zm7 0h8v17h-8zm198 0h3v17h-3zM115 1147h1v18h-1zm9 0h4v18h-4zm5 0h3v18h-3zm9 0h1v18h-1zm6 0h4v18h-4zm7 0h2v18h-2zm10 0h5v18h-5zm14 0h5v18h-5zm13 0h5v18h-5zm120 0h3v18h-3zm4 0h4v18h-4zm19 0h4v18h-4zm43 0h3v18h-3zm29 0h2v18h-2zm5 0h5v18h-5zm50 0h4v18h-4zm6 0h9v18h-9zm10 0h3v18h-3zm28 0h3v18h-3zm11 0h5v18h-5zm161 0h7v18h-7zm11 0h9v18h-9zm10 0h5v18h-5zm21 0h4v18h-4zm12 0h2v18h-2zm49 0h1v18h-1zm24 0h3v18h-3zm18 0h3v18h-3zm65 0h5v18h-5zm10 0h5v18h-5zm10 0h3v18h-3zm4 0h5v18h-5zm9 0h5v18h-5zm19 0h5v18h-5zm27 0h5v18h-5zm12 0h2v18h-2zm114 0h4v18h-4zm8 0h3v18h-3zm21 0h2v18h-2zm7 0h2v18h-2zm45 0h2v18h-2zm29 0h1v18h-1zm14 0h2v18h-2zm6 0h2v18h-2zm31 0h1v18h-1zm97 0h1v18h-1zm11 0h4v18h-4zm10 0h3v18h-3zm27 0h3v18h-3zm8 0h9v18h-9zm11 0h5v18h-5zm51 0h5v18h-5zm64 0h1v18h-1zm5 0h1v18h-1zm12 0h5v18h-5zm6 0h4v18h-4zm214 0h1v18h-1zm3 0h1v18h-1zm9 0h3v18h-3zm7 0h6v18h-6zm32 0h2v18h-2zm22 0h2v18h-2zm25 0h1v18h-1zM131 1165h1v17h-1zm40 0h9v17h-9zm17 0h5v17h-5zm26 0h2v17h-2zm23 0h2v17h-2zm94 0h4v17h-4zm43 0h3v17h-3zm29 0h2v17h-2zm7 0h8v17h-8zm21 0h1v17h-1zm13 0h3v17h-3zm134 0h1v17h-1zm150 0h2v17h-2zm30 0h3v17h-3zm19 0h1v17h-1zm24 0h3v17h-3zm169 0h7v17h-7zm55 0h2v17h-2zm18 0h2v17h-2zm46 0h4v17h-4zm18 0h5v17h-5zm22 0h3v17h-3zm20 0h8v17h-8zm16 0h4v17h-4zm5 0h2v17h-2zm49 0h7v17h-7zm27 0h1v17h-1zm4 0h1v17h-1zm33 0h4v17h-4zm17 0h2v17h-2zm20 0h2v17h-2zm11 0h1v17h-1zm5 0h5v17h-5zm59 0h3v17h-3zm10 0h5v17h-5zm41 0h2v17h-2zm19 0h5v17h-5zm20 0h5v17h-5zm30 0h1v17h-1zm14 0h1v17h-1zm5 0h1v17h-1zm12 0h5v17h-5zm6 0h4v17h-4zm6 0h1v17h-1zm7 0h2v17h-2zm130 0h2v17h-2zm19 0h4v17h-4zm125 0h2v17h-2zm25 0h1v17h-1zM287 1182h1v17h-1zm21 0h3v17h-3zm4 0h4v17h-4zm388 0h4v17h-4zm376 0h1v17h-1zm13 0h4v17h-4zm18 0h5v17h-5zm6 0h1v17h-1zm601 0h4v17h-4zM287 1199h1v17h-1zm21 0h3v17h-3zm392 0h6v17h-6zm376 0h1v17h-1zm13 0h4v17h-4zm18 0h5v17h-5zm6 0h1v17h-1zM237 1216h2v17h-2zm42 0h10v17h-10zm12 0h6v17h-6zm8 0h4v17h-4zm9 0h3v17h-3zm8 0h3v17h-3zm71 0h1v17h-1zm5 0h2v17h-2zm16 0h10v17h-10zm33 0h3v17h-3zm37 0h1v17h-1zm22 0h8v17h-8zm12 0h14v17h-14zm18 0h2v17h-2zm15 0h2v17h-2zm15 0h3v17h-3zm18 0h1v17h-1zm23 0h5v17h-5zm103 0h2v17h-2zm56 0h1v17h-1zm3 0h5v17h-5zm145 0h5v17h-5zm20 0h3v17h-3zm42 0h5v17h-5zm20 0h3v17h-3zm7 0h4v17h-4zm8 0h5v17h-5zm8 0h2v17h-2zm3 0h9v17h-9zm25 0h4v17h-4zm48 0h4v17h-4zm36 0h2v17h-2zm43 0h1v17h-1zm27 0h2v17h-2zm12 0h3v17h-3zm6 0h2v17h-2zm6 0h9v17h-9zm22 0h2v17h-2zm65 0h3v17h-3zm10 0h3v17h-3zm4 0h2v17h-2zm11 0h1v17h-1zm10 0h2v17h-2zm15 0h7v17h-7zm12 0h8v17h-8zm14 0h2v17h-2zm9 0h21v17h-21zm23 0h7v17h-7zm9 0h1v17h-1zm3 0h3v17h-3zm4 0h3v17h-3zm4 0h4v17h-4zm6 0h6v17h-6zm33 0h5v17h-5zm7 0h11v17h-11zm34 0h2v17h-2zm127 0h10v17h-10zm15 0h12v17h-12zm46 0h2v17h-2zm12 0h4v17h-4zm52 0h1v17h-1zm12 0h3v17h-3zm10 0h6v17h-6zm10 0h2v17h-2zM237 1233h2v17h-2zm50 0h1v17h-1zm21 0h3v17h-3zm19 0h2v17h-2zm4 0h4v17h-4zm14 0h1v17h-1zm49 0h2v17h-2zm47 0h3v17h-3zm64 0h3v17h-3zm8 0h1v17h-1zm5 0h4v17h-4zm8 0h4v17h-4zm29 0h15v17h-15zm16 0h10v17h-10zm20 0h3v17h-3zm10 0h5v17h-5zm103 0h2v17h-2zm20 0h6v17h-6zm9 0h4v17h-4zm6 0h4v17h-4zm7 0h2v17h-2zm17 0h5v17h-5zm14 0h1v17h-1zm24 0h3v17h-3zm127 0h3v17h-3zm26 0h14v17h-14zm43 0h4v17h-4zm8 0h5v17h-5zm8 0h2v17h-2zm5 0h3v17h-3zm5 0h4v17h-4zm11 0h3v17h-3zm9 0h2v17h-2zm26 0h11v17h-11zm20 0h5v17h-5zm8 0h3v17h-3zm28 0h2v17h-2zm43 0h1v17h-1zm7 0h1v17h-1zm8 0h1v17h-1zm36 0h9v17h-9zm11 0h4v17h-4zm76 0h3v17h-3zm14 0h2v17h-2zm11 0h1v17h-1zm5 0h5v17h-5zm9 0h3v17h-3zm7 0h19v17h-19zm30 0h2v17h-2zm10 0h6v17h-6zm7 0h13v17h-13zm15 0h5v17h-5zm6 0h1v17h-1zm6 0h3v17h-3zm4 0h3v17h-3zm6 0h2v17h-2zm4 0h11v17h-11zm14 0h6v17h-6zm10 0h6v17h-6zm21 0h5v17h-5zm29 0h2v17h-2zm45 0h2v17h-2zm39 0h2v17h-2zm43 0h9v17h-9zm15 0h2v17h-2zm6 0h1v17h-1zm52 0h4v17h-4zm52 0h1v17h-1zm12 0h3v17h-3zm10 0h18v17h-18zm21 0h5v17h-5zM88 1250h1v17h-1zm149 0h2v17h-2zm42 0h10v17h-10zm12 0h4v17h-4zm5 0h1v17h-1zm3 0h22v17h-22zm23 0h13v17h-13zm23 0h1v17h-1zm7 0h8v17h-8zm22 0h3v17h-3zm27 0h2v17h-2zm40 0h3v17h-3zm33 0h3v17h-3zm86 0h3v17h-3zm11 0h8v17h-8zm30 0h5v17h-5zm75 0h5v17h-5zm9 0h15v17h-15zm92 0h3v17h-3zm348 0h2v17h-2zm4 0h3v17h-3zm276 0h5v17h-5zm49 0h4v17h-4zm11 0h5v17h-5zm28 0h23v17h-23zm148 0h5v17h-5zm15 0h2v17h-2zm6 0h1v17h-1zm52 0h8v17h-8zm10 0h1v17h-1zm12 0h4v17h-4zm55 0h15v17h-15zM88 1267h1v17h-1zm7 0h1v17h-1zm192 0h1v17h-1zm40 0h11v17h-11zm14 0h14v17h-14zm33 0h3v17h-3zm144 0h4v17h-4zm186 0h2v17h-2zm16 0h3v17h-3zm187 0h6v17h-6zm10 0h6v17h-6zm126 0h2v17h-2zm132 0h1v17h-1zm46 0h48v17h-48zm110 0h1v17h-1zm2 0h8v17h-8zm14 0h5v17h-5zm9 0h9v17h-9zm92 0h3v17h-3zm17 0h5v17h-5zm15 0h10v17h-10zm34 0h1v17h-1zm15 0h1v17h-1zm5 0h1v17h-1zm64 0h2v17h-2zm43 0h5v17h-5zm193 0h7v17h-7zM158 1284h1v17h-1zm129 0h1v17h-1zm65 0h8v17h-8zm174 0h4v17h-4zm52 0h1v17h-1zm13 0h3v17h-3zm10 0h5v17h-5zm73 0h16v17h-16zm19 0h7v17h-7zm108 0h3v17h-3zm196 0h4v17h-4zm16 0h2v17h-2zm59 0h1v17h-1zm149 0h7v17h-7zm13 0h7v17h-7zm16 0h1v17h-1zm142 0h3v17h-3zm22 0h5v17h-5zm34 0h3v17h-3zm66 0h1v17h-1zm84 0h2v17h-2zm241 0h2v17h-2z"/>
<path fill="#440154" d="M432 56h4v17h-4zm35 0h4v17h-4zm218 0h1v17h-1zm15 0h4v17h-4zm13 0h3v17h-3zm40 0h7v17h-7zm8 0h1v17h-1zm2 0h12v17h-12zm15 0h2v17h-2zm4 0h2v17h-2zm12 0h10v17h-10zm28 0h5v17h-5zm244 0h3v17h-3zm14 0h5v17h-5zm79 0h3v17h-3zm16 0h1v17h-1zm3 0h1v17h-1zm5 0h1v17h-1zm38 0h5v17h-5zm13 0h5v17h-5zm17 0h1v17h-1zm13 0h16v17h-16zm23 0h5v17h-5zm108 0h24v17h-24zm41 0h2v17h-2zM196 73h3v17h-3zm14 0h2v17h-2zm95 0h3v17h-3zm103 0h2v17h-2zm16 0h2v17h-2zm34 0h3v17h-3zm4 0h2v17h-2zm5 0h6v17h-6zm127 0h2v17h-2zm154 0h27v17h-27zm53 0h3v17h-3zm21 0h5v17h-5zm7 0h7v17h-7zm12 0h6v17h-6zm225 0h3v17h-3zm109 0h1v17h-1zm3 0h6v17h-6zm97 0h4v17h-4zm120 0h19v17h-19zm25 0h1v17h-1zm139 0h2v17h-2zm6 0h2v17h-2zM196 90h3v17h-3zm14 0h4v17h-4zm16 0h4v17h-4zm61 0h1v17h-1zm4 0h4v17h-4zm14 0h3v17h-3zm55 0h2v17h-2zm12 0h2v17h-2zm36 0h2v17h-2zm50 0h3v17h-3zm4 0h2v17h-2zm5 0h6v17h-6zm11 0h1v17h-1zm2 0h2v17h-2zm7 0h1v17h-1zm11 0h2v17h-2zm7 0h3v17h-3zm7 0h2v17h-2zm10 0h4v17h-4zm11 0h3v17h-3zm6 0h2v17h-2zm6 0h2v17h-2zm8 0h2v17h-2zm7 0h3v17h-3zm10 0h1v17h-1zm19 0h7v17h-7zm50 0h1v17h-1zm2 0h2v17h-2zm85 0h22v17h-22zm27 0h9v17h-9zm10 0h12v17h-12zm15 0h2v17h-2zm18 0h11v17h-11zm201 0h4v17h-4zm10 0h3v17h-3zm36 0h2v17h-2zm23 0h3v17h-3zm14 0h5v17h-5zM171 107h3v17h-3zm11 0h2v17h-2zm14 0h3v17h-3zm14 0h4v17h-4zm6 0h2v17h-2zm10 0h4v17h-4zm61 0h1v17h-1zm18 0h3v17h-3zm57 0h2v17h-2zm10 0h2v17h-2zm52 0h2v17h-2zm34 0h3v17h-3zm4 0h2v17h-2zm5 0h4v17h-4zm10 0h15v17h-15zm16 0h9v17h-9zm40 0h3v17h-3zm6 0h2v17h-2zm6 0h2v17h-2zm49 0h2v17h-2zm85 0h2v17h-2zm21 0h4v17h-4zm13 0h3v17h-3zm7 0h3v17h-3zm6 0h5v17h-5zm7 0h15v17h-15zm20 0h22v17h-22zm25 0h2v17h-2zm4 0h2v17h-2zm12 0h7v17h-7zm203 0h4v17h-4zm46 0h4v17h-4zM159 124h2v17h-2zm37 0h7v17h-7zm14 0h4v17h-4zm6 0h2v17h-2zm14 0h3v17h-3zm7 0h2v17h-2zm46 0h6v17h-6zm8 0h4v17h-4zm14 0h7v17h-7zm55 0h2v17h-2zm12 0h2v17h-2zm52 0h2v17h-2zm12 0h5v17h-5zm22 0h3v17h-3zm9 0h4v17h-4zm11 0h1v17h-1zm9 0h1v17h-1zm18 0h3v17h-3zm7 0h2v17h-2zm10 0h4v17h-4zm11 0h3v17h-3zm6 0h2v17h-2zm6 0h2v17h-2zm15 0h3v17h-3zm34 0h2v17h-2zm45 0h1v17h-1zm40 0h2v17h-2zm6 0h1v17h-1zm41 0h2v17h-2zm7 0h4v17h-4zm13 0h2v17h-2zm32 0h2v17h-2zm4 0h2v17h-2zm7 0h2v17h-2zm7 0h5v17h-5zm201 0h4v17h-4zm24 0h2v17h-2zm48 0h3v17h-3zm11 0h5v17h-5zm79 0h1v17h-1zm3 0h3v17h-3zm33 0h2v17h-2zm15 0h2v17h-2zm11 0h5v17h-5zM127 141h1v17h-1zm69 0h7v17h-7zm87 0h6v17h-6zm8 0h4v17h-4zm14 0h3v17h-3zm153 0h3v17h-3zm9 0h4v17h-4zm11 0h1v17h-1zm55 0h2v17h-2zm12 0h2v17h-2zm49 0h2v17h-2zm31 0h2v17h-2zm14 0h1v17h-1zm87 0h2v17h-2zm7 0h4v17h-4zm6 0h4v17h-4zm7 0h2v17h-2zm50 0h5v17h-5zm201 0h4v17h-4zm72 0h3v17h-3zm90 0h1v17h-1zM188 158h15v17h-15zm28 0h2v17h-2zm3 0h2v17h-2zm68 0h1v17h-1zm18 0h3v17h-3zm22 0h2v17h-2zm11 0h3v17h-3zm7 0h1v17h-1zm15 0h2v17h-2zm64 0h2v17h-2zm29 0h1v17h-1zm5 0h34v17h-34zm35 0h9v17h-9zm19 0h1v17h-1zm2 0h8v17h-8zm12 0h4v17h-4zm7 0h3v17h-3zm6 0h2v17h-2zm6 0h2v17h-2zm33 0h1v17h-1zm13 0h5v17h-5zm109 0h4v17h-4zm9 0h3v17h-3zm4 0h3v17h-3zm7 0h3v17h-3zm6 0h2v17h-2zm7 0h4v17h-4zm6 0h4v17h-4zm7 0h2v17h-2zm7 0h31v17h-31zm36 0h15v17h-15zm17 0h4v17h-4zm191 0h4v17h-4zm24 0h6v17h-6zm13 0h3v17h-3zm9 0h7v17h-7zm21 0h8v17h-8zm236 0h2v17h-2zm119 0h2v17h-2zm11 0h11v17h-11zM188 175h15v17h-15zm19 0h5v17h-5zm9 0h2v17h-2zm3 0h2v17h-2zm64 0h4v17h-4zm141 0h2v17h-2zm29 0h1v17h-1zm5 0h19v17h-19zm20 0h1v17h-1zm9 0h1v17h-1zm4 0h1v17h-1zm4 0h3v17h-3zm17 0h1v17h-1zm21 0h2v17h-2zm37 0h1v17h-1zm8 0h1v17h-1zm16 0h2v17h-2zm29 0h2v17h-2zm77 0h4v17h-4zm13 0h3v17h-3zm7 0h3v17h-3zm6 0h2v17h-2zm7 0h4v17h-4zm6 0h4v17h-4zm7 0h31v17h-31zm43 0h2v17h-2zm7 0h8v17h-8zm10 0h1v17h-1zm191 0h4v17h-4zm48 0h2v17h-2zm19 0h2v17h-2zm5 0h3v17h-3zm109 0h1v17h-1zm48 0h2v17h-2zm74 0h2v17h-2zM181 192h3v17h-3zm7 0h15v17h-15zm22 0h2v17h-2zm135 0h1v17h-1zm79 0h2v17h-2zm38 0h2v17h-2zm5 0h6v17h-6zm7 0h3v17h-3zm4 0h1v17h-1zm9 0h1v17h-1zm66 0h2v17h-2zm17 0h1v17h-1zm8 0h1v17h-1zm16 0h2v17h-2zm106 0h4v17h-4zm6 0h6v17h-6zm7 0h11v17h-11zm20 0h4v17h-4zm6 0h4v17h-4zm7 0h14v17h-14zm15 0h19v17h-19zm28 0h2v17h-2zm5 0h28v17h-28zm113 0h1v17h-1zm90 0h4v17h-4zm26 0h2v17h-2zm20 0h4v17h-4zm26 0h3v17h-3zm200 0h4v17h-4zm6 0h4v17h-4zm25 0h2v17h-2zM188 209h8v17h-8zm11 0h4v17h-4zm11 0h2v17h-2zm39 0h2v17h-2zm198 0h3v17h-3zm6 0h1v17h-1zm5 0h19v17h-19zm20 0h1v17h-1zm9 0h1v17h-1zm4 0h1v17h-1zm2 0h2v17h-2zm85 0h1v17h-1zm122 0h4v17h-4zm6 0h6v17h-6zm7 0h11v17h-11zm20 0h4v17h-4zm6 0h4v17h-4zm7 0h14v17h-14zm15 0h19v17h-19zm28 0h33v17h-33zm208 0h7v17h-7zm8 0h5v17h-5zm16 0h6v17h-6zm22 0h2v17h-2zm4 0h3v17h-3zm17 0h2v17h-2zm5 0h3v17h-3zm11 0h5v17h-5zm98 0h5v17h-5zm122 0h2v17h-2zm4 0h2v17h-2zm15 0h1v17h-1zM188 226h5v17h-5zm11 0h4v17h-4zm11 0h2v17h-2zm6 0h2v17h-2zm3 0h2v17h-2zm7 0h4v17h-4zm23 0h2v17h-2zm11 0h3v17h-3zm5 0h5v17h-5zm18 0h6v17h-6zm44 0h2v17h-2zm4 0h2v17h-2zm14 0h1v17h-1zm3 0h4v17h-4zm57 0h2v17h-2zm3 0h2v17h-2zm10 0h3v17h-3zm6 0h2v17h-2zm23 0h3v17h-3zm11 0h3v17h-3zm4 0h2v17h-2zm3 0h6v17h-6zm9 0h8v17h-8zm13 0h5v17h-5zm6 0h5v17h-5zm7 0h2v17h-2zm12 0h1v17h-1zm41 0h2v17h-2zm10 0h2v17h-2zm7 0h6v17h-6zm8 0h1v17h-1zm11 0h7v17h-7zm189 0h2v17h-2zm219 0h4v17h-4zm26 0h2v17h-2zm20 0h2v17h-2zm135 0h1v17h-1zm17 0h4v17h-4zm10 0h2v17h-2zm3 0h2v17h-2zm67 0h4v17h-4zm123 0h5v17h-5zm12 0h2v17h-2zm4 0h5v17h-5zm6 0h3v17h-3zm6 0h3v17h-3zm7 0h3v17h-3zm7 0h1v17h-1zm239 0h2v17h-2zM188 243h5v17h-5zm11 0h4v17h-4zm17 0h2v17h-2zm111 0h2v17h-2zm97 0h2v17h-2zm29 0h26v17h-26zm34 0h1v17h-1zm4 0h1v17h-1zm2 0h5v17h-5zm52 0h2v17h-2zm33 0h1v17h-1zm11 0h2v17h-2zm111 0h4v17h-4zm20 0h3v17h-3zm19 0h4v17h-4zm7 0h2v17h-2zm7 0h7v17h-7zm8 0h1v17h-1zm7 0h2v17h-2zm5 0h7v17h-7zm11 0h5v17h-5zm213 0h4v17h-4zm181 0h1v17h-1zM188 260h5v17h-5zm28 0h2v17h-2zm129 0h1v17h-1zm79 0h2v17h-2zm34 0h3v17h-3zm4 0h2v17h-2zm3 0h6v17h-6zm8 0h6v17h-6zm14 0h5v17h-5zm8 0h3v17h-3zm81 0h3v17h-3zm5 0h5v17h-5zm8 0h2v17h-2zm5 0h2v17h-2zm106 0h4v17h-4zm6 0h3v17h-3zm10 0h7v17h-7zm8 0h2v17h-2zm22 0h2v17h-2zm7 0h22v17h-22zm24 0h3v17h-3zm7 0h5v17h-5zm23 0h3v17h-3zm181 0h2v17h-2zm9 0h4v17h-4zm26 0h4v17h-4zm246 0h4v17h-4zm136 0h7v17h-7zm16 0h2v17h-2zM188 277h5v17h-5zm11 0h4v17h-4zm17 0h2v17h-2zm87 0h2v17h-2zm42 0h1v17h-1zm49 0h2v17h-2zm30 0h2v17h-2zm23 0h3v17h-3zm6 0h1v17h-1zm5 0h21v17h-21zm29 0h5v17h-5zm48 0h1v17h-1zm41 0h3v17h-3zm13 0h7v17h-7zm117 0h3v17h-3zm14 0h3v17h-3zm4 0h4v17h-4zm15 0h4v17h-4zm7 0h2v17h-2zm7 0h22v17h-22zm24 0h3v17h-3zm7 0h5v17h-5zm20 0h10v17h-10zm184 0h2v17h-2zm9 0h4v17h-4zm10 0h3v17h-3zm16 0h4v17h-4zm57 0h5v17h-5zm98 0h1v17h-1zm19 0h2v17h-2zm103 0h2v17h-2zm105 0h5v17h-5zm16 0h2v17h-2zM291 294h4v17h-4zm12 0h2v17h-2zm5 0h21v17h-21zm23 0h2v17h-2zm14 0h7v17h-7zm226 0h5v17h-5zm18 0h2v17h-2zm34 0h2v17h-2zm62 0h1v17h-1zm5 0h3v17h-3zm8 0h2v17h-2zm70 0h2v17h-2zm39 0h3v17h-3zm15 0h14v17h-14zm91 0h4v17h-4zm265 0h1v17h-1zm227 0h7v17h-7zm14 0h1v17h-1zm2 0h2v17h-2zm30 0h7v17h-7zm9 0h2v17h-2zm4 0h1v17h-1zm26 0h1v17h-1zm3 0h9v17h-9zm16 0h12v17h-12zm91 0h5v17h-5zm41 0h5v17h-5zm7 0h2v17h-2zm3 0h7v17h-7zm71 0h2v17h-2zm11 0h3v17h-3zm10 0h6v17h-6zm48 0h2v17h-2zm3 0h8v17h-8zm10 0h5v17h-5zM216 311h2v17h-2zm373 0h2v17h-2zm179 0h2v17h-2zm38 0h4v17h-4zm338 0h5v17h-5zm372 0h5v17h-5zm132 0h2v17h-2zm57 0h3v17h-3zM85 328h4v18h-4zm23 0h4v18h-4zm7 0h4v18h-4zm9 0h11v18h-11zm12 0h44v18h-44zm453 0h2v18h-2zm34 0h2v18h-2zm28 0h3v18h-3zm13 0h1v18h-1zm6 0h4v18h-4zm36 0h3v18h-3zm62 0h2v18h-2zm38 0h4v18h-4zm294 0h5v18h-5zm169 0h4v18h-4zm14 0h4v18h-4zm9 0h3v18h-3zm198 0h1v18h-1zm110 0h5v18h-5zm108 0h2v18h-2zm14 0h2v18h-2zm47 0h1v18h-1zm9 0h6v18h-6zM118 346h1v17h-1zm483 0h5v17h-5zm22 0h2v17h-2zm145 0h2v17h-2zm38 0h4v17h-4zm294 0h5v17h-5zm73 0h2v17h-2zm24 0h2v17h-2zM88 363h1v17h-1zm11 0h1v17h-1zm10 0h3v17h-3zm6 0h1v17h-1zm3 0h1v17h-1zm13 0h1v17h-1zm8 0h5v17h-5zm12 0h2v17h-2zm234 0h2v17h-2zm128 0h9v17h-9zm110 0h2v17h-2zm51 0h2v17h-2zm24 0h2v17h-2zm131 0h5v17h-5zm25 0h6v17h-6zm17 0h3v17h-3zm429 0h2v17h-2zm76 0h3v17h-3zm5 0h1v17h-1zm11 0h3v17h-3zm27 0h1v17h-1zm2 0h2v17h-2zm49 0h3v17h-3zm46 0h5v17h-5zm103 0h2v17h-2zm29 0h2v17h-2zm3 0h4v17h-4zm57 0h2v17h-2zm55 0h3v17h-3zm28 0h2v17h-2zm3 0h8v17h-8zm10 0h2v17h-2zm22 0h3v17h-3zm13 0h2v17h-2zM115 380h1v17h-1zm59 0h1v17h-1zm102 0h3v17h-3zm211 0h1v17h-1zm52 0h2v17h-2zm229 0h2v17h-2zm38 0h4v17h-4zm849 0h1v17h-1zm37 0h10v17h-10zm16 0h2v17h-2zm6 0h4v17h-4zm26 0h9v17h-9zm12 0h1v17h-1zm4 0h1v17h-1zm7 0h3v17h-3zm28 0h2v17h-2zm5 0h4v17h-4zm68 0h1v17h-1zM174 397h1v17h-1zm102 0h3v17h-3zm59 0h3v17h-3zm130 0h2v17h-2zm22 0h1v17h-1zm4 0h1v17h-1zm9 0h2v17h-2zm32 0h1v17h-1zm7 0h2v17h-2zm110 0h2v17h-2zm119 0h2v17h-2zm39 0h3v17h-3zm22 0h5v17h-5zm182 0h2v17h-2zm196 0h1v17h-1zm263 0h3v17h-3zm178 0h2v17h-2zm3 0h7v17h-7zm41 0h3v17h-3zm5 0h5v17h-5zm11 0h2v17h-2zm6 0h4v17h-4zm26 0h6v17h-6zm12 0h1v17h-1zm4 0h1v17h-1zm7 0h3v17h-3zm28 0h2v17h-2zm5 0h4v17h-4zm8 0h2v17h-2zm35 0h2v17h-2zm3 0h1v17h-1zm4 0h13v17h-13zm18 0h1v17h-1zM85 414h5v17h-5zm24 0h3v17h-3zm6 0h1v17h-1zm3 0h1v17h-1zm9 0h1v17h-1zm9 0h8v17h-8zm15 0h7v17h-7zm17 0h1v17h-1zm6 0h1v17h-1zm6 0h1v17h-1zm13 0h3v17h-3zm6 0h4v17h-4zm41 0h1v17h-1zm51 0h4v17h-4zm25 0h3v17h-3zm19 0h3v17h-3zm6 0h11v17h-11zm109 0h3v17h-3zm17 0h4v17h-4zm11 0h1v17h-1zm2 0h8v17h-8zm11 0h1v17h-1zm2 0h2v17h-2zm5 0h4v17h-4zm10 0h4v17h-4zm14 0h4v17h-4zm10 0h1v17h-1zm3 0h1v17h-1zm4 0h2v17h-2zm14 0h2v17h-2zm7 0h5v17h-5zm29 0h12v17h-12zm17 0h5v17h-5zm17 0h2v17h-2zm26 0h2v17h-2zm82 0h2v17h-2zm37 0h2v17h-2zm61 0h5v17h-5zm172 0h3v17h-3zm534 0h5v17h-5zm221 0h1v17h-1zm7 0h3v17h-3zM85 431h5v17h-5zm24 0h3v17h-3zm6 0h1v17h-1zm12 0h1v17h-1zm11 0h10v17h-10zm15 0h5v17h-5zm8 0h5v17h-5zm7 0h1v17h-1zm6 0h1v17h-1zm186 0h2v17h-2zm90 0h3v17h-3zm28 0h1v17h-1zm2 0h2v17h-2zm7 0h1v17h-1zm4 0h1v17h-1zm9 0h2v17h-2zm13 0h1v17h-1zm17 0h6v17h-6zm9 0h13v17h-13zm14 0h2v17h-2zm7 0h10v17h-10zm18 0h1v17h-1zm11 0h7v17h-7zm12 0h10v17h-10zm17 0h7v17h-7zm130 0h12v17h-12zm13 0h9v17h-9zm12 0h2v17h-2zm56 0h5v17h-5zm7 0h11v17h-11zm291 0h5v17h-5zm7 0h3v17h-3zm5 0h5v17h-5zm396 0h5v17h-5zm32 0h4v17h-4zm24 0h15v17h-15zm21 0h7v17h-7zm39 0h4v17h-4zm105 0h1v17h-1zm7 0h3v17h-3zm14 0h1v17h-1zm4 0h3v17h-3zM85 448h5v17h-5zm15 0h5v17h-5zm9 0h3v17h-3zm6 0h1v17h-1zm9 0h4v17h-4zm14 0h1v17h-1zm15 0h5v17h-5zm6 0h7v17h-7zm9 0h1v17h-1zm6 0h1v17h-1zm6 0h1v17h-1zm4 0h4v17h-4zm9 0h3v17h-3zm17 0h4v17h-4zm11 0h5v17h-5zm58 0h4v17h-4zm12 0h5v17h-5zm12 0h24v17h-24zm28 0h2v17h-2zm4 0h3v17h-3zm6 0h4v17h-4zm5 0h2v17h-2zm80 0h6v17h-6zm10 0h17v17h-17zm22 0h3v17h-3zm7 0h2v17h-2zm12 0h25v17h-25zm36 0h1v17h-1zm19 0h1v17h-1zm3 0h1v17h-1zm4 0h2v17h-2zm14 0h2v17h-2zm7 0h3v17h-3zm18 0h1v17h-1zm11 0h5v17h-5zm7 0h5v17h-5zm10 0h5v17h-5zm14 0h3v17h-3zm111 0h2v17h-2zm22 0h22v17h-22zm446 0h1v17h-1zm20 0h2v17h-2zm129 0h4v17h-4zm187 0h5v17h-5zm157 0h3v17h-3zm5 0h5v17h-5zm11 0h2v17h-2zm6 0h4v17h-4zM109 465h3v17h-3zm6 0h1v17h-1zm9 0h3v17h-3zm24 0h3v17h-3zm62 0h4v17h-4zm11 0h5v17h-5zm19 0h1v17h-1zm25 0h8v17h-8zm11 0h11v17h-11zm15 0h4v17h-4zm8 0h4v17h-4zm12 0h8v17h-8zm10 0h1v17h-1zm5 0h1v17h-1zm3 0h2v17h-2zm17 0h2v17h-2zm34 0h3v17h-3zm5 0h2v17h-2zm39 0h7v17h-7zm26 0h3v17h-3zm8 0h3v17h-3zm20 0h1v17h-1zm2 0h8v17h-8zm11 0h1v17h-1zm9 0h2v17h-2zm13 0h1v17h-1zm9 0h4v17h-4zm10 0h1v17h-1zm7 0h2v17h-2zm14 0h2v17h-2zm7 0h3v17h-3zm5 0h5v17h-5zm13 0h1v17h-1zm11 0h5v17h-5zm7 0h5v17h-5zm10 0h5v17h-5zm10 0h2v17h-2zm4 0h3v17h-3zm29 0h2v17h-2zm119 0h2v17h-2zm38 0h4v17h-4zm13 0h3v17h-3zm22 0h5v17h-5zm53 0h5v17h-5zm139 0h1v17h-1zm10 0h2v17h-2zM85 482h4v17h-4zm24 0h3v17h-3zm6 0h1v17h-1zm9 0h3v17h-3zm5 0h2v17h-2zm9 0h1v17h-1zm15 0h5v17h-5zm6 0h10v17h-10zm15 0h1v17h-1zm6 0h23v17h-23zm30 0h8v17h-8zm9 0h11v17h-11zm21 0h1v17h-1zm30 0h3v17h-3zm9 0h4v17h-4zm12 0h4v17h-4zm8 0h4v17h-4zm13 0h7v17h-7zm14 0h1v17h-1zm3 0h4v17h-4zm17 0h2v17h-2zm39 0h2v17h-2zm18 0h2v17h-2zm21 0h2v17h-2zm26 0h3v17h-3zm8 0h4v17h-4zm7 0h6v17h-6zm12 0h18v17h-18zm21 0h28v17h-28zm32 0h3v17h-3zm5 0h20v17h-20zm25 0h3v17h-3zm5 0h5v17h-5zm6 0h5v17h-5zm7 0h1v17h-1zm11 0h5v17h-5zm7 0h5v17h-5zm10 0h5v17h-5zm14 0h3v17h-3zm29 0h2v17h-2zm119 0h2v17h-2zm332 0h5v17h-5zm592 0h5v17h-5zm16 0h2v17h-2zm6 0h4v17h-4zm53 0h2v17h-2zM159 499h10v17h-10zm15 0h1v17h-1zm19 0h3v17h-3zm44 0h2v17h-2zm3 0h1v17h-1zm36 0h3v17h-3zm40 0h3v17h-3zm5 0h1v17h-1zm10 0h2v17h-2zm7 0h3v17h-3zm8 0h2v17h-2zm34 0h7v17h-7zm8 0h2v17h-2zm9 0h4v17h-4zm6 0h2v17h-2zm21 0h2v17h-2zm23 0h6v17h-6zm18 0h2v17h-2zm12 0h18v17h-18zm21 0h4v17h-4zm10 0h4v17h-4zm22 0h2v17h-2zm9 0h6v17h-6zm14 0h2v17h-2zm7 0h3v17h-3zm5 0h5v17h-5zm13 0h1v17h-1zm13 0h3v17h-3zm5 0h5v17h-5zm10 0h5v17h-5zm10 0h2v17h-2zm4 0h3v17h-3zm587 0h1v17h-1zm93 0h2v17h-2zm11 0h2v17h-2zm256 0h24v17h-24zm155 0h2v17h-2zm45 0h2v17h-2zm29 0h1v17h-1zm6 0h2v17h-2zM109 516h3v17h-3zm52 0h5v17h-5zm13 0h1v17h-1zm19 0h3v17h-3zm28 0h5v17h-5zm19 0h6v17h-6zm36 0h3v17h-3zm55 0h2v17h-2zm52 0h4v17h-4zm58 0h3v17h-3zm6 0h3v17h-3zm20 0h4v17h-4zm10 0h25v17h-25zm31 0h4v17h-4zm31 0h2v17h-2zm8 0h5v17h-5zm6 0h2v17h-2zm10 0h7v17h-7zm33 0h10v17h-10zm20 0h2v17h-2zm20 0h3v17h-3zm132 0h2v17h-2zm38 0h4v17h-4zm13 0h3v17h-3zm748 0h4v17h-4zm176 0h3v17h-3zm13 0h1v17h-1zM109 533h3v17h-3zm20 0h2v17h-2zm15 0h2v17h-2zm7 0h2v17h-2zm70 0h5v17h-5zm68 0h2v17h-2zm27 0h3v17h-3zm69 0h2v17h-2zm56 0h3v17h-3zm6 0h6v17h-6zm20 0h4v17h-4zm10 0h1v17h-1zm3 0h2v17h-2zm7 0h1v17h-1zm6 0h2v17h-2zm7 0h2v17h-2zm39 0h2v17h-2zm8 0h5v17h-5zm6 0h2v17h-2zm12 0h5v17h-5zm31 0h5v17h-5zm15 0h3v17h-3zm5 0h2v17h-2zm190 0h1v17h-1zm401 0h1v17h-1zm549 0h1v17h-1zM105 550h2v17h-2zm4 0h3v17h-3zm29 0h8v17h-8zm13 0h2v17h-2zm10 0h5v17h-5zm76 0h2v17h-2zm52 0h2v17h-2zm40 0h4v17h-4zm17 0h2v17h-2zm37 0h2v17h-2zm149 0h1v17h-1zm7 0h2v17h-2zm14 0h2v17h-2zm7 0h3v17h-3zm5 0h5v17h-5zm11 0h2v17h-2zm3 0h2v17h-2zm17 0h5v17h-5zm611 0h1v17h-1zm286 0h2v17h-2zm5 0h3v17h-3zm7 0h4v17h-4zm9 0h1v17h-1zm53 0h4v17h-4zm19 0h2v17h-2zm154 0h26v17h-26zm51 0h7v17h-7zm9 0h4v17h-4zm6 0h3v17h-3zm44 0h2v17h-2zM80 567h3v17h-3zm5 0h11v17h-11zm14 0h8v17h-8zm9 0h20v17h-20zm21 0h3v17h-3zm6 0h18v17h-18zm26 0h5v17h-5zm13 0h1v17h-1zm7 0h1v17h-1zm7 0h8v17h-8zm49 0h2v17h-2zm9 0h3v17h-3zm231 0h1v17h-1zm3 0h2v17h-2zm7 0h1v17h-1zm45 0h1v17h-1zm7 0h2v17h-2zm14 0h2v17h-2zm12 0h5v17h-5zm11 0h2v17h-2zm3 0h2v17h-2zm12 0h3v17h-3zm5 0h5v17h-5zm1122 0h3v17h-3zm4 0h2v17h-2zm11 0h3v17h-3zm5 0h2v17h-2zm64 0h2v17h-2zM80 584h3v17h-3zm8 0h1v17h-1zm17 0h13v17h-13zm14 0h9v17h-9zm19 0h1v17h-1zm8 0h12v17h-12zm13 0h7v17h-7zm15 0h1v17h-1zm47 0h5v17h-5zm25 0h3v17h-3zm10 0h4v17h-4zm185 0h3v17h-3zm6 0h3v17h-3zm30 0h1v17h-1zm3 0h2v17h-2zm7 0h1v17h-1zm4 0h1v17h-1zm9 0h2v17h-2zm30 0h2v17h-2zm9 0h2v17h-2zm57 0h5v17h-5zm127 0h1v17h-1zm220 0h2v17h-2zm264 0h1v17h-1zm6 0h2v17h-2zm438 0h4v17h-4zm82 0h3v17h-3zm69 0h2v17h-2zm4 0h3v17h-3zM305 601h3v18h-3zm11 0h3v18h-3zm5 0h6v18h-6zm10 0h2v18h-2zm49 0h7v18h-7zm10 0h4v18h-4zm7 0h4v18h-4zm57 0h4v18h-4zm13 0h4v18h-4zm10 0h2v18h-2zm3 0h2v18h-2zm7 0h1v18h-1zm13 0h2v18h-2zm39 0h2v18h-2zm37 0h2v18h-2zm20 0h5v18h-5zm143 0h4v18h-4zm36 0h3v18h-3zm5 0h2v18h-2zm16 0h5v18h-5zm111 0h1v18h-1zm15 0h1v18h-1zm250 0h3v18h-3zm11 0h1v18h-1zm137 0h2v18h-2zm3 0h1v18h-1zm6 0h2v18h-2zm7 0h5v18h-5zm12 0h4v18h-4zm31 0h2v18h-2zm261 0h1v18h-1zm45 0h5v18h-5zm10 0h7v18h-7zm13 0h2v18h-2zm6 0h4v18h-4zm29 0h3v18h-3zm9 0h1v18h-1zm50 0h2v18h-2zm4 0h3v18h-3zM305 619h3v17h-3zm6 0h1v17h-1zm5 0h3v17h-3zm5 0h1v17h-1zm5 0h1v17h-1zm5 0h2v17h-2zm29 0h2v17h-2zm14 0h3v17h-3zm9 0h2v17h-2zm94 0h2v17h-2zm3 0h2v17h-2zm7 0h1v17h-1zm8 0h3v17h-3zm44 0h2v17h-2zm57 0h5v17h-5zm94 0h3v17h-3zm19 0h3v17h-3zm7 0h4v17h-4zm7 0h1v17h-1zm16 0h4v17h-4zm29 0h2v17h-2zm139 0h1v17h-1zm10 0h6v17h-6zm11 0h3v17h-3zm15 0h2v17h-2zm107 0h8v17h-8zm245 0h5v17h-5zm7 0h2v17h-2zm11 0h3v17h-3zm6 0h1v17h-1zm60 0h2v17h-2zm50 0h1v17h-1zm105 0h1v17h-1zm52 0h2v17h-2zm109 0h2v17h-2zm13 0h2v17h-2zm6 0h4v17h-4zm136 0h2v17h-2zM138 636h1v17h-1zm13 0h2v17h-2zm17 0h3v17h-3zm53 0h5v17h-5zm25 0h3v17h-3zm10 0h4v17h-4zm129 0h2v17h-2zm154 0h2v17h-2zm50 0h2v17h-2zm179 0h2v17h-2zm9 0h1v17h-1zm234 0h2v17h-2zm83 0h3v17h-3zm106 0h5v17h-5zm7 0h3v17h-3zm478 0h5v17h-5zm10 0h2v17h-2zm38 0h3v17h-3zm58 0h2v17h-2zm15 0h3v17h-3zM138 653h1v17h-1zm23 0h5v17h-5zm60 0h5v17h-5zm25 0h3v17h-3zm10 0h4v17h-4zm129 0h2v17h-2zm23 0h2v17h-2zm69 0h1v17h-1zm62 0h2v17h-2zm32 0h5v17h-5zm18 0h2v17h-2zm29 0h2v17h-2zm211 0h5v17h-5zm368 0h2v17h-2zm3 0h5v17h-5zm7 0h3v17h-3zm44 0h1v17h-1zm310 0h2v17h-2zm25 0h2v17h-2zm147 0h3v17h-3zm58 0h2v17h-2zm15 0h3v17h-3zM138 670h1v17h-1zm50 0h5v17h-5zm24 0h2v17h-2zm7 0h7v17h-7zm27 0h3v17h-3zm10 0h4v17h-4zm33 0h6v17h-6zm10 0h9v17h-9zm17 0h10v17h-10zm11 0h19v17h-19zm58 0h2v17h-2zm92 0h14v17h-14zm15 0h10v17h-10zm47 0h2v17h-2zm6 0h2v17h-2zm7 0h27v17h-27zm29 0h20v17h-20zm25 0h5v17h-5zm12 0h2v17h-2zm105 0h1v17h-1zm184 0h1v17h-1zm104 0h2v17h-2zm12 0h8v17h-8zm14 0h4v17h-4zm6 0h4v17h-4zm355 0h1v17h-1zm21 0h5v17h-5zm7 0h12v17h-12zm14 0h6v17h-6zm33 0h5v17h-5zm222 0h2v17h-2zm13 0h2v17h-2zm6 0h4v17h-4zm19 0h3v17h-3zm73 0h3v17h-3zM146 687h2v17h-2zm75 0h5v17h-5zm35 0h4v17h-4zm63 0h2v17h-2zm287 0h5v17h-5zm117 0h1v17h-1zm184 0h1v17h-1zm293 0h5v17h-5zm43 0h3v17h-3zm98 0h2v17h-2zm38 0h2v17h-2zm19 0h1v17h-1zm16 0h5v17h-5zm16 0h3v17h-3zm6 0h2v17h-2zm4 0h1v17h-1zm11 0h3v17h-3zm282 0h3v17h-3zm73 0h3v17h-3zM80 704h3v17h-3zm9 0h6v17h-6zm7 0h3v17h-3zm50 0h2v17h-2zm36 0h2v17h-2zm6 0h5v17h-5zm53 0h8v17h-8zm10 0h3v17h-3zm5 0h4v17h-4zm9 0h8v17h-8zm11 0h3v17h-3zm43 0h2v17h-2zm8 0h19v17h-19zm21 0h4v17h-4zm279 0h5v17h-5zm9 0h3v17h-3zm87 0h1v17h-1zm184 0h1v17h-1zm6 0h9v17h-9zm98 0h2v17h-2zm32 0h2v17h-2zm200 0h3v17h-3zm52 0h11v17h-11zm28 0h1v17h-1zm3 0h5v17h-5zm7 0h3v17h-3zm8 0h2v17h-2zm27 0h3v17h-3zm11 0h2v17h-2zm79 0h2v17h-2zm12 0h3v17h-3zm181 0h5v17h-5zm17 0h22v17h-22zm65 0h5v17h-5zm92 0h1v17h-1zm16 0h11v17h-11zm17 0h7v17h-7zM246 721h3v17h-3zm10 0h4v17h-4zm14 0h3v17h-3zm6 0h3v17h-3zm53 0h4v17h-4zm260 0h2v17h-2zm78 0h1v17h-1zm56 0h1v17h-1zm184 0h1v17h-1zm136 0h2v17h-2zm200 0h3v17h-3zm61 0h2v17h-2zm25 0h2v17h-2zm50 0h2v17h-2zm61 0h1v17h-1zm30 0h3v17h-3zm10 0h10v17h-10zm133 0h2v17h-2zm55 0h6v17h-6zm14 0h1v17h-1zm3 0h5v17h-5zm85 0h2v17h-2zm55 0h1v17h-1zm9 0h5v17h-5zm7 0h13v17h-13zm17 0h7v17h-7zM89 755h1v17h-1zm144 0h4v17h-4zm18 0h3v17h-3zm36 0h1v17h-1zm4 0h4v17h-4zm38 0h2v17h-2zm236 0h5v17h-5zm6 0h5v17h-5zm10 0h5v17h-5zm8 0h2v17h-2zm7 0h5v17h-5zm358 0h5v17h-5zm173 0h2v17h-2zm41 0h1v17h-1zM80 772h3v17h-3zm9 0h6v17h-6zm11 0h7v17h-7zm9 0h3v17h-3zm10 0h5v17h-5zm9 0h1v17h-1zm3 0h1v17h-1zm5 0h3v17h-3zm8 0h2v17h-2zm4 0h3v17h-3zm5 0h5v17h-5zm15 0h3v17h-3zm86 0h6v17h-6zm9 0h16v17h-16zm64 0h8v17h-8zm11 0h14v17h-14zm34 0h5v17h-5zm229 0h13v17h-13zm17 0h2v17h-2zm63 0h4v17h-4zm19 0h4v17h-4zm16 0h4v17h-4zm32 0h14v17h-14zm15 0h12v17h-12zm71 0h2v17h-2zm163 0h7v17h-7zm8 0h13v17h-13zm92 0h3v17h-3zm133 0h11v17h-11zm16 0h1v17h-1zm58 0h2v17h-2zm22 0h3v17h-3zm132 0h2v17h-2zm94 0h4v17h-4zm61 0h2v17h-2zm130 0h3v17h-3zm27 0h2v17h-2zm11 0h3v17h-3zm17 0h2v17h-2zm8 0h3v17h-3zm11 0h2v17h-2zm5 0h4v17h-4zm12 0h5v17h-5zm30 0h1v17h-1zM105 789h2v17h-2zm4 0h3v17h-3zm10 0h5v17h-5zm9 0h1v17h-1zm3 0h1v17h-1zm5 0h3v17h-3zm8 0h7v17h-7zm9 0h5v17h-5zm15 0h3v17h-3zm7 0h5v17h-5zm79 0h25v17h-25zm73 0h8v17h-8zm11 0h3v17h-3zm7 0h7v17h-7zm261 0h5v17h-5zm142 0h5v17h-5zm10 0h4v17h-4zm5 0h12v17h-12zm51 0h5v17h-5zm80 0h5v17h-5zm103 0h21v17h-21zm200 0h2v17h-2zm11 0h2v17h-2zm7 0h2v17h-2zm19 0h7v17h-7zm129 0h2v17h-2zm189 0h4v17h-4zm61 0h2v17h-2zm130 0h3v17h-3zm27 0h2v17h-2zm11 0h3v17h-3zM251 806h3v17h-3zm14 0h5v17h-5zm8 0h3v17h-3zm198 0h2v17h-2zm833 0h2v17h-2zm37 0h2v17h-2zm22 0h2v17h-2zm5 0h3v17h-3zm11 0h2v17h-2zm7 0h3v17h-3zm54 0h1v17h-1zm55 0h1v17h-1zm3 0h3v17h-3zm17 0h1v17h-1zm12 0h2v17h-2zm18 0h1v17h-1zm7 0h4v17h-4zm23 0h3v17h-3zm38 0h2v17h-2zm8 0h5v17h-5zm117 0h2v17h-2zm5 0h3v17h-3zm27 0h2v17h-2zm11 0h3v17h-3zm16 0h5v17h-5zm9 0h3v17h-3zm19 0h1v17h-1zm9 0h5v17h-5zM661 823h3v17h-3zm7 0h11v17h-11zm13 0h12v17h-12zm13 0h4v17h-4zm6 0h24v17h-24zm48 0h5v17h-5zm10 0h12v17h-12zm15 0h2v17h-2zm9 0h2v17h-2zm117 0h29v17h-29zm37 0h7v17h-7zm13 0h10v17h-10zm396 0h2v17h-2zm3 0h14v17h-14zm15 0h8v17h-8zm16 0h2v17h-2zm136 0h1v17h-1zm90 0h1v17h-1zm8 0h2v17h-2zM287 840h1v17h-1zm4 0h4v17h-4zm376 0h1v17h-1zm3 0h6v17h-6zm16 0h4v17h-4zm30 0h4v17h-4zm88 0h2v17h-2zm564 0h3v17h-3zm11 0h2v17h-2zm7 0h3v17h-3zm47 0h1v17h-1zm88 0h2v17h-2zm6 0h3v17h-3zm25 0h4v17h-4zm61 0h2v17h-2zM661 857h3v17h-3zm6 0h1v17h-1zm3 0h9v17h-9zm16 0h4v17h-4zm30 0h4v17h-4zm57 0h2v17h-2zm11 0h5v17h-5zm26 0h4v17h-4zm90 0h2v17h-2zm6 0h2v17h-2zm11 0h6v17h-6zm7 0h4v17h-4zm424 0h6v17h-6zm17 0h6v17h-6zm11 0h5v17h-5zm8 0h11v17h-11zm137 0h2v17h-2zm8 0h1v17h-1zm23 0h4v17h-4zm61 0h2v17h-2zM667 874h1v18h-1zm42 0h3v18h-3zm7 0h4v18h-4zm7 0h1v18h-1zm55 0h2v18h-2zm4 0h7v18h-7zm586 0h3v18h-3zm153 0h2v18h-2zm6 0h3v18h-3zm64 0h28v18h-28zm268 0h5v18h-5zM279 892h17v17h-17zm20 0h9v17h-9zm12 0h20v17h-20zm35 0h6v17h-6zm107 0h1v17h-1zm18 0h2v17h-2zm196 0h1v17h-1zm3 0h4v17h-4zm46 0h4v17h-4zm37 0h17v17h-17zm20 0h2v17h-2zm11 0h5v17h-5zm241 0h16v17h-16zm18 0h4v17h-4zm352 0h3v17h-3zm8 0h2v17h-2zm16 0h1v17h-1zm4 0h1v17h-1zm3 0h3v17h-3zm10 0h2v17h-2zm12 0h6v17h-6zm315 0h3v17h-3zM279 909h10v17h-10zm12 0h12v17h-12zm20 0h1v17h-1zm5 0h3v17h-3zm6 0h4v17h-4zm5 0h4v17h-4zm19 0h6v17h-6zm270 0h2v17h-2zm4 0h5v17h-5zm50 0h4v17h-4zm46 0h4v17h-4zm45 0h1v17h-1zm7 0h2v17h-2zm5 0h2v17h-2zm92 0h5v17h-5zm160 0h9v17h-9zm12 0h10v17h-10zm358 0h17v17h-17zm19 0h10v17h-10zm12 0h8v17h-8zm10 0h2v17h-2zm4 0h6v17h-6zm8 0h3v17h-3zm12 0h2v17h-2zm85 0h1v17h-1zm145 0h2v17h-2zm79 0h3v17h-3zm12 0h4v17h-4zm16 0h1v17h-1zm7 0h2v17h-2zm30 0h5v17h-5zm9 0h7v17h-7zm16 0h5v17h-5zM279 926h17v17h-17zm18 0h6v17h-6zm14 0h1v17h-1zm11 0h4v17h-4zm5 0h25v17h-25zm293 0h5v17h-5zm50 0h4v17h-4zm46 0h4v17h-4zm42 0h17v17h-17zm26 0h5v17h-5zm105 0h5v17h-5zm108 0h4v17h-4zm28 0h22v17h-22zm134 0h3v17h-3zm236 0h17v17h-17zm19 0h10v17h-10zm12 0h4v17h-4zm7 0h1v17h-1zm5 0h8v17h-8zM279 943h17v17h-17zm18 0h11v17h-11zm14 0h20v17h-20zm35 0h6v17h-6zm274 0h5v17h-5zm138 0h17v17h-17zm267 0h22v17h-22zm135 0h2v17h-2zm9 0h1v17h-1zm131 0h2v17h-2zm4 0h2v17h-2zm41 0h2v17h-2zm50 0h17v17h-17zm19 0h10v17h-10zm12 0h4v17h-4zm7 0h13v17h-13zm15 0h3v17h-3zm25 0h7v17h-7zm17 0h1v17h-1zm253 0h3v17h-3zm17 0h7v17h-7zm10 0h2v17h-2zm11 0h4v17h-4zm10 0h5v17h-5zm6 0h3v17h-3zm5 0h12v17h-12zM288 960h1v17h-1zm7 0h1v17h-1zm53 0h4v17h-4zm223 0h5v17h-5zm190 0h1v17h-1zm49 0h4v17h-4zm235 0h2v17h-2zm115 0h2v17h-2zm140 0h2v17h-2zm4 0h2v17h-2zm122 0h3v17h-3zm52 0h2v17h-2zm204 0h1v17h-1zm32 0h4v17h-4zm46 0h6v17h-6zm10 0h2v17h-2zM288 977h1v17h-1zm165 0h1v17h-1zm20 0h1v17h-1zm280 0h7v17h-7zm8 0h9v17h-9zm12 0h28v17h-28zm37 0h12v17h-12zm334 0h18v17h-18zm21 0h5v17h-5zm7 0h1v17h-1zm103 0h4v17h-4zm49 0h2v17h-2zm71 0h39v17h-39zm41 0h10v17h-10zm12 0h3v17h-3zm12 0h2v17h-2zm18 0h2v17h-2zm12 0h1v17h-1zm212 0h2v17h-2zm3 0h13v17h-13zm19 0h5v17h-5zm9 0h3v17h-3zm58 0h18v17h-18zm50 0h1v17h-1zm9 0h4v17h-4zM287 994h2v17h-2zm4 0h5v17h-5zm6 0h2v17h-2zm67 0h3v17h-3zm107 0h2v17h-2zm245 0h4v17h-4zm37 0h5v17h-5zm8 0h1v17h-1zm7 0h7v17h-7zm10 0h2v17h-2zm6 0h10v17h-10zm26 0h4v17h-4zm235 0h2v17h-2zm111 0h3v17h-3zm4 0h2v17h-2zm8 0h2v17h-2zm4 0h6v17h-6zm7 0h5v17h-5zm8 0h8v17h-8zm211 0h16v17h-16zm23 0h2v17h-2zm5 0h4v17h-4zm7 0h1v17h-1zm7 0h1v17h-1zm8 0h3v17h-3zm12 0h2v17h-2zm13 0h5v17h-5zm7 0h5v17h-5zm111 0h3v17h-3zm123 0h4v17h-4zm77 0h2v17h-2zm7 0h2v17h-2zm6 0h2v17h-2zm18 0h3v17h-3zm7 0h5v17h-5zm12 0h1v17h-1zm5 0h4v17h-4zm6 0h2v17h-2zm7 0h5v17h-5zM287 1011h2v17h-2zm4 0h5v17h-5zm6 0h2v17h-2zm464 0h1v17h-1zm21 0h2v17h-2zm7 0h7v17h-7zm256 0h2v17h-2zm99 0h21v17h-21zm24 0h2v17h-2zm230 0h7v17h-7zm12 0h4v17h-4zm16 0h4v17h-4zm7 0h1v17h-1zm7 0h1v17h-1zm8 0h3v17h-3zm12 0h2v17h-2zm13 0h5v17h-5zm78 0h1v17h-1zm12 0h2v17h-2zm12 0h3v17h-3zm107 0h1v17h-1zm8 0h28v17h-28zm35 0h4v17h-4zm8 0h3v17h-3zm13 0h3v17h-3zm6 0h1v17h-1zm4 0h1v17h-1zm7 0h3v17h-3zm7 0h2v17h-2zm11 0h3v17h-3zm10 0h2v17h-2zm5 0h1v17h-1zm2 0h2v17h-2zm24 0h4v17h-4zm7 0h5v17h-5zm12 0h1v17h-1zm5 0h4v17h-4zm6 0h6v17h-6zm7 0h5v17h-5zM287 1028h2v17h-2zm8 0h1v17h-1zm2 0h2v17h-2zm8 0h3v17h-3zm456 0h1v17h-1zm23 0h17v17h-17zm30 0h5v17h-5zm231 0h2v17h-2zm99 0h5v17h-5zm9 0h12v17h-12zm13 0h4v17h-4zm232 0h7v17h-7zm12 0h10v17h-10zm11 0h2v17h-2zm5 0h4v17h-4zm7 0h1v17h-1zm3 0h2v17h-2zm4 0h11v17h-11zm14 0h4v17h-4zm6 0h2v17h-2zm13 0h7v17h-7zm185 0h4v17h-4zm24 0h1v17h-1zm8 0h2v17h-2zm15 0h3v17h-3zm9 0h4v17h-4zm26 0h26v17h-26zm30 0h2v17h-2zm11 0h3v17h-3zm33 0h3v17h-3zm5 0h20v17h-20zm31 0h8v17h-8zm9 0h5v17h-5zM716 1045h4v17h-4zm608 0h2v17h-2zm74 0h48v17h-48zm56 0h4v17h-4zm6 0h2v17h-2zm13 0h7v17h-7zm185 0h4v17h-4zm56 0h4v17h-4zm38 0h1v17h-1zm11 0h3v17h-3zm7 0h2v17h-2zm21 0h2v17h-2zm7 0h2v17h-2zm4 0h2v17h-2zm12 0h3v17h-3zm8 0h3v17h-3zm7 0h5v17h-5zm17 0h4v17h-4zm6 0h6v17h-6zm7 0h5v17h-5zM716 1062h4v17h-4zm557 0h22v17h-22zm83 0h2v17h-2zm9 0h3v17h-3zm14 0h2v17h-2zm5 0h2v17h-2zm5 0h2v17h-2zm9 0h53v17h-53zm56 0h16v17h-16zm19 0h7v17h-7zm54 0h2v17h-2zm13 0h5v17h-5zm115 0h1v17h-1zm3 0h4v17h-4zm56 0h4v17h-4zm32 0h3v17h-3zm6 0h4v17h-4zm39 0h23v17h-23zm31 0h3v17h-3zm7 0h5v17h-5zM1412 1079h2v17h-2zm28 0h1v17h-1zm215 0h1v17h-1zm136 0h2v17h-2zM796 1096h5v17h-5zm530 0h3v17h-3zm50 0h5v17h-5zm8 0h7v17h-7zm37 0h5v17h-5zm9 0h6v17h-6zm8 0h8v17h-8zm10 0h3v17h-3zm6 0h4v17h-4zm16 0h3v17h-3zm8 0h2v17h-2zm45 0h6v17h-6zm63 0h2v17h-2zm69 0h7v17h-7zm8 0h5v17h-5zm14 0h4v17h-4zm72 0h4v17h-4zm42 0h2v17h-2zm5 0h1v17h-1zm6 0h2v17h-2zm17 0h7v17h-7zm10 0h5v17h-5zm12 0h1v17h-1zm9 0h2v17h-2zm9 0h5v17h-5zM105 1113h3v17h-3zm4 0h3v17h-3zm9 0h1v17h-1zm10 0h1v17h-1zm8 0h2v17h-2zm17 0h5v17h-5zm43 0h3v17h-3zm92 0h1v17h-1zm3 0h8v17h-8zm127 0h3v17h-3zm64 0h5v17h-5zm23 0h8v17h-8zm17 0h4v17h-4zm187 0h3v17h-3zm39 0h14v17h-14zm15 0h12v17h-12zm88 0h2v17h-2zm5 0h2v17h-2zm8 0h1v17h-1zm221 0h4v17h-4zm83 0h2v17h-2zm158 0h3v17h-3zm50 0h3v17h-3zm8 0h2v17h-2zm5 0h2v17h-2zm9 0h48v17h-48zm72 0h10v17h-10zm21 0h2v17h-2zm164 0h7v17h-7zm8 0h5v17h-5zm77 0h3v17h-3zm6 0h11v17h-11zm14 0h6v17h-6zm31 0h23v17h-23zM105 1130h3v17h-3zm4 0h3v17h-3zm7 0h3v17h-3zm19 0h1v17h-1zm4 0h5v17h-5zm14 0h5v17h-5zm13 0h2v17h-2zm543 0h3v17h-3zm324 0h1v17h-1zm139 0h1v17h-1zm69 0h2v17h-2zm75 0h3v17h-3zm68 0h2v17h-2zm14 0h22v17h-22zm23 0h2v17h-2zm3 0h5v17h-5zm9 0h3v17h-3zm5 0h3v17h-3zm10 0h3v17h-3zm143 0h3v17h-3zm7 0h15v17h-15zm17 0h4v17h-4zm17 0h4v17h-4zm8 0h1v17h-1zm15 0h1v17h-1zm70 0h4v17h-4zm8 0h3v17h-3zm19 0h1v17h-1zm15 0h2v17h-2zm3 0h2v17h-2zm21 0h7v17h-7zm9 0h14v17h-14zm22 0h3v17h-3zm4 0h13v17h-13zM233 1147h4v18h-4zm6 0h1v18h-1zm12 0h3v18h-3zm12 0h1v18h-1zm133 0h1v18h-1zm22 0h3v18h-3zm64 0h5v18h-5zm11 0h2v18h-2zm5 0h2v18h-2zm35 0h2v18h-2zm3 0h3v18h-3zm24 0h3v18h-3zm10 0h1v18h-1zm16 0h5v18h-5zm267 0h1v18h-1zm7 0h5v18h-5zm225 0h4v18h-4zm241 0h3v18h-3zm263 0h2v18h-2zm136 0h4v18h-4zm27 0h1v18h-1zM296 1165h3v17h-3zm526 0h5v17h-5zm91 0h4v17h-4zm28 0h2v17h-2zm586 0h2v17h-2zM589 1182h2v17h-2zM100 1216h5v17h-5zm7 0h1v17h-1zm5 0h3v17h-3zm4 0h2v17h-2zm20 0h2v17h-2zm10 0h5v17h-5zm20 0h3v17h-3zm16 0h2v17h-2zm185 0h5v17h-5zm244 0h3v17h-3zm25 0h3v17h-3zm5 0h2v17h-2zm53 0h1v17h-1zm88 0h2v17h-2zm7 0h5v17h-5zm355 0h5v17h-5zm16 0h2v17h-2zm367 0h2v17h-2zm64 0h7v17h-7zm9 0h19v17h-19zm149 0h4v17h-4zm73 0h3v17h-3zm20 0h1v17h-1zM85 1233h3v17h-3zm14 0h9v17h-9zm13 0h3v17h-3zm4 0h3v17h-3zm11 0h1v17h-1zm9 0h10v17h-10zm12 0h3v17h-3zm18 0h2v17h-2zm445 0h3v17h-3zm242 0h1v17h-1zm674 0h2v17h-2zm225 0h1v17h-1zm90 0h1v17h-1zM480 1250h2v17h-2zm18 0h2v17h-2zm10 0h4v17h-4zm345 0h1v17h-1zm184 0h4v17h-4zm48 0h4v17h-4zm114 0h1v17h-1zm279 0h2v17h-2zm49 0h2v17h-2zm150 0h2v17h-2zm165 0h1v17h-1zM159 1267h2v17h-2zm7 0h5v17h-5zm16 0h2v17h-2zm14 0h3v17h-3zm64 0h3v17h-3zm51 0h5v17h-5zm10 0h1v17h-1zm159 0h2v17h-2zm116 0h5v17h-5zm15 0h3v17h-3zm115 0h7v17h-7zm11 0h11v17h-11zm31 0h2v17h-2zm85 0h1v17h-1zm252 0h2v17h-2zm74 0h4v17h-4zm245 0h2v17h-2zm9 0h1v17h-1zm218 0h4v17h-4zm98 0h4v17h-4zM182 1284h2v17h-2zm14 0h3v17h-3zm125 0h1v17h-1zm532 0h1v17h-1zm252 0h2v17h-2zm94 0h1v17h-1zm225 0h2v17h-2zm9 0h1v17h-1zm94 0h2v17h-2zm44 0h4v17h-4zm151 0h2v17h-2zm27 0h4v17h-4z"/>
<text x="1.5" y="58" font-family="'Liberation Sans', Arial, sans-serif" font-size="80" fill="#111">A</text>
<text x="298.6" y="32.6" font-family="'Liberation Sans', Arial, sans-serif" font-size="33" fill="#1a1a1a">behavior 1</text>
<text x="653.8" y="32.6" font-family="'Liberation Sans', Arial, sans-serif" font-size="33" fill="#1a1a1a">behavior 2.1</text>
<text x="1025.6" y="32.6" font-family="'Liberation Sans', Arial, sans-serif" font-size="33" fill="#1a1a1a">behavior 2.2</text>
<text x="1337.7" y="32.6" font-family="'Liberation Sans', Arial, sans-serif" font-size="33" fill="#1a1a1a">behavior 2.3</text>
<text x="1600.9" y="32.6" font-family="'Liberation Sans', Arial, sans-serif" font-size="33" fill="#1a1a1a">behavior 3</text>
<rect x="80" y="39.8" width="572.7" height="12.3" fill="#22b24c"/>
<rect x="659.4" y="39.8" width="181.6" height="12.3" fill="#f9a95b"/>
<rect x="841" y="39.8" width="506.5" height="12.3" fill="#f06c6c"/>
<rect x="1347.5" y="39.8" width="142.8" height="12.3" fill="#fbcf63"/>
<rect x="1492" y="39.8" width="368.2" height="12.3" fill="#6d8fcd"/>
<text x="1872.5" y="34.7" font-family="'Liberation Sans', Arial, sans-serif" font-size="22" fill="#111" textLength="129" lengthAdjust="spacingAndGlyphs">73 parameters</text>
<rect x="1872.8" y="39" width="178.2" height="3" fill="#111"/>
<g font-family="'Liberation Sans', Arial, sans-serif" font-size="20" fill="#111" stroke="#111" stroke-width="0.45" xml:space="preserve">
<text x="1872.6" y="64.5">mean length C axis</text>
<text x="1872.6" y="81.6">length C axis</text>
<text x="1872.6" y="98.7">mean max length</text>
<text x="1872.6" y="115.9">mean length A axis</text>
<text x="1872.6" y="133.0">max length</text>
<text x="1872.6" y="150.1">length A axis</text>
<text x="1872.6" y="167.2">mean length B axis</text>
<text x="1872.6" y="184.3">mean surface area</text>
<text x="1872.6" y="201.5">mean volume</text>
<text x="1872.6" y="218.6">mean equivalent diam</text>
<text x="1872.6" y="235.7">lenght B axis</text>
<text x="1872.6" y="252.8">surface area</text>
<text x="1872.6" y="269.9">volume</text>
<text x="1872.6" y="287.1">equivalent diam</text>
<text x="1872.6" y="304.2">tortuosity</text>
<text x="1872.6" y="321.3">max speed</text>
<text x="1872.6" y="338.4">total distance</text>
<text x="1872.6" y="355.5">mean speed</text>
<text x="1872.6" y="372.7">ori X Std</text>
<text x="1872.6" y="389.8">solidity</text>
<text x="1872.6" y="406.9">mean solidity</text>
<text x="1872.6" y="424.0">solidity Std</text>
<text x="1872.6" y="441.1">ellip prolate Std</text>
<text x="1872.6" y="458.3">ellip oblate Std</text>
<text x="1872.6" y="475.4">length C axis Std</text>
<text x="1872.6" y="492.5">length B axis Std</text>
<text x="1872.6" y="509.6">equivalent diam Std</text>
<text x="1872.6" y="526.7">volume Std</text>
<text x="1872.6" y="543.9">surface area Std</text>
<text x="1872.6" y="561.0">extent Std</text>
<text x="1872.6" y="578.1">max length Std</text>
<text x="1872.6" y="595.2">length A axis Std</text>
<text x="1872.6" y="612.3">mean polar angle</text>
<text x="1872.6" y="629.5">polar angle</text>
<text x="1872.6" y="646.6">polar angle Std</text>
<text x="1872.6" y="663.7">network score range</text>
<text x="1872.6" y="680.8">mean ellip oblate</text>
<text x="1872.6" y="697.9">ellip. oblate</text>
<text x="1872.6" y="715.1">ori X mean</text>
<text x="1872.6" y="732.2">ori  X stream</text>
<text x="1872.6" y="749.3">sperhicity Std</text>
<text x="1872.6" y="766.4">polar radius</text>
<text x="1872.6" y="783.5">ori Y mean</text>
<text x="1872.6" y="800.7">ori Y stream</text>
<text x="1872.6" y="817.8">angle vs stream</text>
<text x="1872.6" y="834.9">min net score</text>
<text x="1872.6" y="852.0">network score</text>
<text x="1872.6" y="869.1">mean net score</text>
<text x="1872.6" y="886.3">max net score</text>
<text x="1872.6" y="903.4">height</text>
<text x="1872.6" y="920.5">H/L ratio</text>
<text x="1872.6" y="937.6">mean height</text>
<text x="1872.6" y="954.7">mean H/L ratio</text>
<text x="1872.6" y="971.9">track mean dist to wall</text>
<text x="1872.6" y="989.0">mean flattening</text>
<text x="1872.6" y="1006.1">flatenning</text>
<text x="1872.6" y="1023.2">mean dist  to wall</text>
<text x="1872.6" y="1040.3">distance to wall</text>
<text x="1872.6" y="1057.5">mean sphericity</text>
<text x="1872.6" y="1074.6">media.extent</text>
<text x="1872.6" y="1091.7">sphericity</text>
<text x="1872.6" y="1108.8">extent</text>
<text x="1872.6" y="1125.9">ori Y Std</text>
<text x="1872.6" y="1143.1">ori Z Std</text>
<text x="1872.6" y="1160.2">ori Z mean</text>
<text x="1872.6" y="1177.3">ori Z stream</text>
<text x="1872.6" y="1194.4">mean polar ratio</text>
<text x="1872.6" y="1211.5">polar radius Std</text>
<text x="1872.6" y="1228.7">mean elip prolate</text>
<text x="1872.6" y="1245.8">ellip. prolate</text>
<text x="1872.6" y="1262.9">meander ratio</text>
<text x="1872.6" y="1280.0">max area Std</text>
<text x="1872.6" y="1297.1">H/L ratio Std</text>
</g>
<path d="M57.4 64.2L79.7 64.2M57.4 81.3L79.7 81.3M57.4 64.2L57.4 81.3M36.5 73.2L57.4 73.2M36.5 73.2L36.5 169.1M25.7 121.2L36.5 121.2M25.7 121.2L25.7 465.7M68.9 97.5L79.7 97.5M68.9 114.4L79.7 114.4M68.9 97.5L68.9 114.4M54 106.3L68.9 106.3M54 106.3L54 140.8M63.5 132.2L79.7 132.2M65.8 166.4L65.8 196.1M65.8 196.1L69.5 196.1M52.7 181.3L65.8 181.3M52.7 181.3L52.7 249.5M75 200.8L79.7 200.8M75 218.4L79.7 218.4M75 200.8L75 218.4M59.4 233.9L79.7 233.9M59.4 233.9L59.4 264.3M52.7 249.5L59.4 249.5M68.9 251.5L79.7 251.5M68.9 251.5L68.9 276.5M68.9 276.5L75 276.5M75 269L79.7 269M75 269L75 284.6M43.2 302.1L79.7 302.1M52.7 319.7L79.7 319.7M43.2 332.5L52 332.5M64.1 336.8L64.1 353.6M32.4 351.6L32.4 673.6M32.4 351.6L35 351.6M40.5 370.5L79.7 370.5M40.5 370.5L40.5 400.2M40.5 400.2L45.2 400.2M45.2 388.1L79.7 388.1M45.2 388.1L45.2 413.7M45.2 413.7L52.7 413.7M52.7 406.3L79.7 406.3M52.7 421.8L79.7 421.8M52.7 406.3L52.7 421.8M50 438.7L79.7 438.7M50 456.3L79.7 456.3M50 438.7L50 456.3M43.2 448.2L43.2 529.9M32.4 490L52.7 490M53.1 473.8L53.1 504.2M57.8 491.4L57.8 520.4M57.8 520.4L62.8 520.4M63.5 506.9L79.7 506.9M70.2 525.1L79.7 525.1M63.5 532.6L69.5 532.6M70.2 542L79.7 542M44.6 529.9L44.6 571M51.3 558.2L79.7 558.2M51.3 558.2L51.3 583.2M51.3 583.2L66.2 583.2M66.2 575.1L79.7 575.1M66.2 592.7L79.7 592.7M66.2 575.1L66.2 592.7M57.4 608.2L79.7 608.2M57.4 609.2L79.7 609.2M57.4 626.3L79.7 626.3M57.4 609.2L57.4 626.3M38.5 618.2L57.4 618.2M38.5 618.2L38.5 652M35.8 635.8L35.8 712.1M35.8 712.1L38 712.1M42.1 643.2L42.1 660.1M38.5 687.1L52.7 687.1M52.9 678.3L52.9 695.2M52.9 695.2L79.7 695.2M55.4 712.1L79.7 712.1M41.2 720.2L55.4 720.2M56 729.9L79.7 729.9M45.2 745.8L79.7 745.8M45.2 763.4L79.7 763.4M45.2 745.8L45.2 763.4M41.2 753.7L45.2 753.7M35.4 788.4L52 788.4M35.4 788.4L35.4 829.6M33.8 816L33.8 985.5M37.1 829.6L37.1 845.8M46.6 831.6L79.7 831.6M46.6 831.6L46.6 860M56 848.5L79.7 848.5M59.4 865.4L59.4 882.2M56 874.4L59.4 874.4M59.4 882.2L79.7 882.2M25.7 898.4L33.8 898.4M25.7 898.4L25.7 1229.7M59.4 899.7L79.7 899.7M46.6 908.1L58 908.1M46.6 908.1L46.6 941.6M59.4 915.9L79.7 915.9M33.8 925.4L46.6 925.4M56 933.2L79.7 933.2M56 950.8L79.7 950.8M46.6 967.9L46.6 1011.1M46.6 1011.1L48.6 1011.1M38.5 988.8L46.6 988.8M49.3 993.6L62.8 993.6M62.8 985.5L62.8 1001.7M56 1019.2L79.7 1019.2M49.3 1027L55.4 1027M56 1036.8L79.7 1036.8M59.4 1052.3L79.7 1052.3M17.6 1063.4L25.7 1063.4M47.9 1061.8L58 1061.8M47.9 1061.8L47.9 1095.5M47.9 1095.5L55.4 1095.5M59.4 1069.6L79.7 1069.6M41.2 1078L47.9 1078M56 1087.4L79.7 1087.4M45 1121.2L45 1138.1M45.1 1155.7L79 1155.7M45.1 1155.7L45.1 1171.9M35.5 1163.8L45.1 1163.8M35.5 1163.8L35.5 1214.5M35.5 1214.5L37.5 1214.5M32.4 1189.2L32.4 1270.2M32.4 1189.2L35 1189.2M38.5 1198.8L68.9 1198.8M68.9 1189.2L79 1189.2M68.9 1206.4L79 1206.4M68.9 1189.2L68.9 1206.4M51.7 1224.1L79 1224.1M51.7 1239.8L79 1239.8M51.7 1224.1L51.7 1239.8M38.5 1232.2L51.7 1232.2M35.5 1257.6L79 1257.6M45.1 1274.8L79 1274.8M45.1 1274.8L45.1 1291M25.7 1229.7L32.4 1229.7M32.4 1270.2L34.5 1270.2M36.2 1045.6L36.8 1045.6M39.2 737.7L39.8 737.7" stroke="#111" stroke-width="2.2" fill="none" stroke-linecap="square"/>
<text x="1508.6" y="1334.3" font-family="'Liberation Sans', Arial, sans-serif" font-size="26.3" fill="#333">Scaled score</text>
<text x="1674.5" y="1334.3" font-family="'Liberation Sans', Arial, sans-serif" font-size="26.3" fill="#333">−2</text>
<text x="1843.5" y="1334.3" font-family="'Liberation Sans', Arial, sans-serif" font-size="26.3" fill="#333">2</text>
<defs><linearGradient id="cb" x1="0" x2="1" y1="0" y2="0"><stop offset="0" stop-color="#fde725"/><stop offset="0.25" stop-color="#5ec962"/><stop offset="0.5" stop-color="#21918c"/><stop offset="0.75" stop-color="#3b528b"/><stop offset="1" stop-color="#440154"/></linearGradient></defs>
<rect x="1720" y="1315" width="111.5" height="19.5" fill="url(#cb)" stroke="#222" stroke-width="2"/>
<text x="-0.3" y="1419" font-family="'Liberation Sans', Arial, sans-serif" font-size="80" fill="#111">B</text>
<g transform="translate(0,0)" stroke-linejoin="round">
<path d="M91.1 1521.5L115.3 1520.2L123.4 1526.9L127.4 1544.4L136.9 1547.1L147.6 1553.8L158.4 1563.2L161.1 1570.0L154.4 1578.0L151.7 1587.4L155.7 1591.5L161.1 1588.8L178.6 1590.1L179.9 1594.2L174.5 1596.9L181.3 1598.2L193.4 1594.2L200.1 1591.5L201.4 1596.9L198.8 1602.2L214.9 1602.2L228.3 1599.6L241.8 1596.9L247.2 1602.2L247.2 1614.4L237.8 1618.4L236.4 1622.4L228.3 1623.8L221.6 1621.1L208.2 1618.4L206.8 1626.5L204.1 1633.2L200.1 1629.2L193.4 1625.1L188.0 1626.5L174.5 1633.2L163.8 1638.6L158.4 1639.9L174.5 1646.6L174.5 1654.7L169.2 1660.1L181.3 1669.5L188.0 1678.9L186.6 1687.0L190.7 1688.3L212.2 1674.9L218.9 1669.5L225.7 1674.9L233.7 1695.1L235.1 1705.8L228.3 1709.9L229.7 1728.7L221.6 1735.4L201.4 1736.8L188.0 1738.1L178.6 1728.7L177.2 1715.3L182.6 1708.5L188.0 1700.5L181.3 1693.7L174.5 1691.0L166.5 1688.3L161.1 1685.7L147.6 1687.0L131.5 1685.7L120.7 1677.6L114.0 1669.5L110.0 1658.8L104.6 1648.0L93.8 1642.6L85.7 1634.5L84.4 1627.8L73.6 1621.1L62.9 1617.0L61.5 1607.6L66.9 1602.2L73.6 1600.9L75.0 1594.2L72.3 1580.7L72.3 1563.2L75.0 1555.2L72.3 1551.1L70.9 1540.4L77.7 1536.3L89.8 1537.7L89.8 1526.9ZM192.0 1688.3L212.2 1684.3L217.6 1692.4L221.6 1701.8L218.9 1708.5L204.1 1707.2L194.7 1697.8ZM158.4 1606.3L165.1 1604.9L166.5 1611.7L162.4 1618.4L161.1 1629.2L157.0 1634.5L155.7 1621.1Z" fill="#27b34c" fill-rule="evenodd" stroke="#27b34c" stroke-width="5"/>
<path d="M288.2 1400.3L302.2 1386.2L326.1 1389.0L345.7 1393.3L348.5 1398.9L368.1 1396.1L384.9 1403.1L391.9 1410.1L404.5 1407.3L417.1 1411.5L419.9 1418.5L435.4 1422.7L439.6 1426.9L443.8 1412.9L455.0 1409.4L474.6 1410.8L476.0 1429.7L483.0 1440.9L484.4 1454.9L477.4 1463.3L470.4 1473.1L466.2 1480.1L455.0 1488.5L450.8 1497.0L445.2 1501.2L431.2 1508.2L410.1 1512.4L398.9 1515.2L382.1 1508.2L365.3 1511.0L354.1 1508.2L340.1 1509.6L331.7 1502.6L319.0 1498.4L316.2 1487.1L319.0 1480.1L309.2 1466.1L293.8 1459.1L284.0 1452.1L284.0 1438.1L278.4 1424.1L284.0 1412.9ZM457.8 1491.3L469.0 1480.1L481.6 1463.3L487.2 1466.1L488.6 1480.1L491.4 1488.5L488.6 1501.2L497.0 1508.2L501.2 1516.6L488.6 1520.8L478.8 1513.8L466.2 1505.4L457.8 1498.4ZM469.0 1488.5L476.0 1482.9L478.8 1492.7L473.2 1497.0Z" fill="#f1696a" fill-rule="evenodd" stroke="#f1696a" stroke-width="5"/>
<path d="M530.2 1484.1L548.4 1484.1L562.5 1494.2L574.6 1500.3L588.7 1510.4L606.9 1514.4L612.9 1522.5L608.9 1530.5L617.0 1538.6L614.9 1554.7L606.9 1564.8L598.8 1566.9L582.7 1562.8L562.5 1566.9L542.3 1564.8L532.2 1560.8L522.1 1556.8L502.0 1558.8L481.8 1562.8L465.6 1564.8L459.6 1574.9L453.5 1574.9L455.5 1564.8L457.6 1554.7L471.7 1550.7L491.9 1546.7L512.0 1536.6L522.1 1528.5L538.3 1520.4L552.4 1510.4L542.3 1498.2L530.2 1490.2ZM548.4 1538.6L562.5 1536.6L568.5 1546.7L562.5 1554.7L550.4 1550.7Z" fill="#f9cf5f" fill-rule="evenodd" stroke="#f9cf5f" stroke-width="5"/>
<path d="M386.9 1540.6L393.0 1542.6L395.0 1550.7L405.1 1550.7L407.1 1556.8L401.1 1562.8L409.1 1570.9L405.1 1574.9L397.0 1566.9L389.0 1566.9L384.9 1558.8L386.9 1550.7Z" fill="#f9cf5f" fill-rule="evenodd" stroke="#f9cf5f" stroke-width="5"/>
<path d="M338.5 1607.2L354.7 1595.1L366.8 1603.2L382.9 1609.2L391.0 1619.3L393.0 1631.4L389.0 1641.5L382.9 1651.6L382.9 1663.7L386.9 1675.8L380.9 1677.8L374.8 1667.7L366.8 1665.7L360.7 1663.7L356.7 1657.7L346.6 1649.6L340.5 1637.5L342.6 1623.3ZM368.8 1627.4L380.9 1625.4L382.9 1639.5L376.9 1651.6L370.8 1647.6L368.8 1637.5Z" fill="#f8a75e" fill-rule="evenodd" stroke="#f8a75e" stroke-width="5"/>
<path d="M484.1 1644.2L490.4 1641.0L509.2 1634.8L523.4 1625.3L523.4 1615.9L535.9 1604.9L548.5 1600.2L562.6 1606.5L567.3 1615.9L570.5 1625.3L576.7 1637.9L579.9 1642.6L575.2 1647.3L584.6 1642.6L595.6 1645.7L600.3 1647.3L600.3 1637.9L611.3 1623.8L620.7 1628.5L628.5 1631.6L631.7 1620.6L647.4 1619.1L658.4 1619.1L667.8 1615.9L674.0 1609.6L677.2 1597.1L672.5 1586.1L678.8 1581.4L678.8 1564.1L689.7 1556.3L702.3 1557.8L711.7 1567.3L714.9 1581.4L727.4 1584.5L733.7 1592.4L732.1 1601.8L721.1 1606.5L718.0 1612.8L708.6 1619.1L699.2 1620.6L692.9 1625.3L686.6 1633.2L689.7 1637.9L681.9 1644.2L674.0 1653.6L669.3 1663.0L667.8 1674.0L658.4 1686.6L642.7 1691.3L627.0 1700.7L611.3 1705.4L600.3 1707.0L597.1 1700.7L595.6 1688.1L583.0 1686.6L572.0 1685.0L557.9 1680.3L545.3 1683.4L542.2 1677.1L548.5 1674.0L564.2 1669.3L572.0 1666.2L564.2 1663.0L554.8 1659.9L540.6 1656.7L524.9 1666.2L517.1 1663.0L501.4 1664.6L485.7 1658.3L482.6 1650.5ZM689.7 1583.0L707.0 1584.5L708.6 1589.2L697.6 1590.8L689.7 1589.2ZM689.7 1600.2L702.3 1597.1L710.2 1603.4L705.4 1612.8L696.0 1615.9L689.7 1612.8ZM529.6 1625.3L539.1 1623.8L545.3 1628.5L537.5 1634.8L532.8 1633.2Z" fill="#6d93cf" fill-rule="evenodd" stroke="#6d93cf" stroke-width="5"/>
<path d="M389.5 1685.8L395.4 1684.4L399.7 1690.2L404.1 1685.8L410.0 1688.7L411.4 1698.9L415.8 1709.1L415.8 1715.0L408.5 1715.0L402.7 1709.1L398.3 1701.9L389.5 1698.9Z" fill="#f8a75e" fill-rule="evenodd" stroke="#f8a75e" stroke-width="5"/>
<path d="M415.8 1722.3L421.6 1720.8L427.4 1726.6L428.9 1716.4L434.7 1717.9L442.0 1728.1L444.9 1741.2L453.7 1744.1L471.2 1747.0L485.7 1750.0L497.4 1754.3L509.0 1758.7L520.7 1758.7L523.6 1764.5L517.8 1774.7L507.6 1782.0L498.8 1779.1L485.7 1782.0L474.1 1787.8L468.2 1795.1L461.0 1801.0L446.4 1795.1L439.1 1790.8L430.4 1790.8L424.5 1796.6L421.6 1805.3L408.5 1812.6L398.3 1806.8L395.4 1799.5L388.1 1795.1L369.1 1795.1L363.3 1790.8L369.1 1786.4L377.9 1782.0L379.3 1776.2L388.1 1771.8L396.8 1770.4L393.9 1761.6L389.5 1752.9L376.4 1744.1L377.9 1738.3L391.0 1744.1L388.1 1735.4L393.9 1733.9L401.2 1741.2L410.0 1748.5L420.2 1750.0L420.2 1741.2L417.2 1728.1ZM402.7 1766.0L412.9 1764.5L426.0 1773.3L423.1 1782.0L415.8 1776.2L408.5 1773.3L402.7 1770.4ZM401.2 1793.7L410.0 1792.2L408.5 1799.5L404.1 1798.0Z" fill="#f8a75e" fill-rule="evenodd" stroke="#f8a75e" stroke-width="5"/>
<ellipse cx="327.5" cy="1355.4" rx="5" ry="8" fill="#f9cf5f" transform="rotate(0 327.5 1355.4)"/>
<ellipse cx="285.4" cy="1453.5" rx="3.5" ry="3.5" fill="#f8a75e" transform="rotate(0 285.4 1453.5)"/>
<ellipse cx="299.4" cy="1461.9" rx="3" ry="3" fill="#f9cf5f" transform="rotate(0 299.4 1461.9)"/>
<ellipse cx="478.8" cy="1459.1" rx="2.5" ry="4" fill="#6d93cf" transform="rotate(0 478.8 1459.1)"/>
<ellipse cx="327.8" cy="1546.7" rx="4" ry="4" fill="#f9cf5f" transform="rotate(0 327.8 1546.7)"/>
<ellipse cx="297.2" cy="1573.9" rx="6" ry="5" fill="#f8a75e" transform="rotate(0 297.2 1573.9)"/>
<ellipse cx="400.5" cy="1617.3" rx="4.4" ry="4.4" fill="#6d93cf" transform="rotate(0 400.5 1617.3)"/>
<ellipse cx="423.3" cy="1666.7" rx="7" ry="5" fill="#27b34c" transform="rotate(-35 423.3 1666.7)"/>
<ellipse cx="361.7" cy="1688.9" rx="6" ry="4" fill="#f9cf5f" transform="rotate(0 361.7 1688.9)"/>
<ellipse cx="361.9" cy="1689.5" rx="6.6" ry="4.4" fill="#f9cf5f" transform="rotate(0 361.9 1689.5)"/>
<ellipse cx="576.1" cy="1760.9" rx="9.5" ry="5.8" fill="#f9cf5f" transform="rotate(30 576.1 1760.9)"/>
<ellipse cx="630.1" cy="1646.5" rx="3.9" ry="3.9" fill="#f9cf5f" transform="rotate(0 630.1 1646.5)"/>
<line x1="84" y1="1711.3" x2="103.7" y2="1697.7" stroke="#27b34c" stroke-width="9" stroke-linecap="round"/>
<ellipse cx="145.7" cy="1711.9" rx="4.9" ry="4.9" fill="#f8a75e" transform="rotate(0 145.7 1711.9)"/>
<line x1="652.1" y1="1592.4" x2="664.7" y2="1601.8" stroke="#6d93cf" stroke-width="9.4" stroke-linecap="round"/>
</g>
<circle cx="507.6" cy="1353.7" r="12.3" fill="#22b14c"/>
<circle cx="507.6" cy="1388.6" r="12.3" fill="#6d93cf"/>
<circle cx="698.8" cy="1353.7" r="12.3" fill="#f8a75e"/>
<circle cx="698.8" cy="1388.6" r="12.3" fill="#f06868"/>
<circle cx="698.8" cy="1423.1" r="12.3" fill="#f9cf5f"/>
<text x="532.5" y="1359.4" font-family="'Liberation Sans', Arial, sans-serif" font-size="28" fill="#1a1a1a">behavior 1</text>
<text x="532.5" y="1394.4" font-family="'Liberation Sans', Arial, sans-serif" font-size="28" fill="#1a1a1a">behavior 3</text>
<text x="723.9" y="1359.4" font-family="'Liberation Sans', Arial, sans-serif" font-size="28" fill="#1a1a1a">behavior 2.1</text>
<text x="723.9" y="1394.4" font-family="'Liberation Sans', Arial, sans-serif" font-size="28" fill="#1a1a1a">behavior 2.2</text>
<text x="723.9" y="1428.8" font-family="'Liberation Sans', Arial, sans-serif" font-size="28" fill="#1a1a1a">behavior 2.3</text>
<path d="M42.3 1774.3V1812.4H80.2" stroke="#111" stroke-width="2.7" fill="none"/>
<path d="M42.3 1764.3l-4 13.5h8z" fill="#111"/>
<path d="M90.2 1812.4l-14.5 -4.3v8.6z" fill="#111"/>
<text x="99.3" y="1818.5" font-family="'Liberation Sans', Arial, sans-serif" font-size="32.5" fill="#111">UMAP1</text>
<text transform="translate(50.3 1750.8) rotate(-90)" x="0" y="0" font-family="'Liberation Sans', Arial, sans-serif" font-size="32.5" fill="#111">UMAP2</text>
<text x="919.6" y="1463.6" font-family="'Liberation Sans', Arial, sans-serif" font-size="82" fill="#111">C</text>
<text x="1025.6" y="1457" font-family="'Liberation Sans', Arial, sans-serif" font-size="33" fill="#1a1a1a">surface area</text>
<text x="1297.6" y="1457" font-family="'Liberation Sans', Arial, sans-serif" font-size="33" fill="#1a1a1a">mean distance to wall</text>
<text x="1686" y="1457" font-family="'Liberation Sans', Arial, sans-serif" font-size="33" fill="#1a1a1a">mean max. length</text>
<path d="M977.4 1524.5V1802.6H1272" stroke="#0d0d0d" stroke-width="4.6" fill="none"/>
<rect x="970.4" y="1590.4" width="7" height="4" fill="#0d0d0d"/>
<text x="962.9" y="1600.3000000000002" text-anchor="end" font-family="'Liberation Sans', Arial, sans-serif" font-size="27.5" fill="#111">10</text>
<rect x="970.4" y="1668.6" width="7" height="4" fill="#0d0d0d"/>
<text x="962.9" y="1678.5" text-anchor="end" font-family="'Liberation Sans', Arial, sans-serif" font-size="27.5" fill="#111">5</text>
<rect x="970.4" y="1747.5" width="7" height="4" fill="#0d0d0d"/>
<text x="962.9" y="1757.4" text-anchor="end" font-family="'Liberation Sans', Arial, sans-serif" font-size="27.5" fill="#111">0</text>
<path d="M1031 1521.7H1217.4M1031 1557.8H1118.7M1135.3 1557.8H1217.4" stroke="#111" stroke-width="3" fill="none"/>
<text x="1065.5" y="1506" font-family="'Liberation Sans', Arial, sans-serif" font-size="22.5" fill="#222">p&lt;0.0001</text>
<text x="1135" y="1550.5" font-family="'Liberation Sans', Arial, sans-serif" font-size="22.5" fill="#222">p&lt;0.0001</text>
<text x="1011.8" y="1585" font-family="'Liberation Sans', Arial, sans-serif" font-size="22.5" fill="#222">p&lt;0.0001</text>
<path d="M1321.7 1524.8V1802.6H1609.6" stroke="#0d0d0d" stroke-width="4.6" fill="none"/>
<rect x="1314.7" y="1586.3" width="7" height="4" fill="#0d0d0d"/>
<text x="1307.2" y="1596.2" text-anchor="end" font-family="'Liberation Sans', Arial, sans-serif" font-size="27.5" fill="#111">8</text>
<rect x="1314.7" y="1661.7" width="7" height="4" fill="#0d0d0d"/>
<text x="1307.2" y="1671.6000000000001" text-anchor="end" font-family="'Liberation Sans', Arial, sans-serif" font-size="27.5" fill="#111">4</text>
<rect x="1314.7" y="1742.9" width="7" height="4" fill="#0d0d0d"/>
<text x="1307.2" y="1752.8000000000002" text-anchor="end" font-family="'Liberation Sans', Arial, sans-serif" font-size="27.5" fill="#111">0</text>
<path d="M1374.2 1521.7H1560.2M1374.2 1557.8H1461.3M1478.9 1557.8H1560.2" stroke="#111" stroke-width="3" fill="none"/>
<text x="1415" y="1506" font-family="'Liberation Sans', Arial, sans-serif" font-size="22.5" fill="#222">p&lt;0.0001</text>
<text x="1484.5" y="1549.5" font-family="'Liberation Sans', Arial, sans-serif" font-size="22.5" fill="#222">p&lt;0.0001</text>
<text x="1362.1" y="1584.8" font-family="'Liberation Sans', Arial, sans-serif" font-size="22.5" fill="#222">p&lt;0.0001</text>
<path d="M1681.3 1526V1802.6H1973.1" stroke="#0d0d0d" stroke-width="4.6" fill="none"/>
<rect x="1674.3" y="1587.5" width="7" height="4" fill="#0d0d0d"/>
<text x="1666.8" y="1597.4" text-anchor="end" font-family="'Liberation Sans', Arial, sans-serif" font-size="27.5" fill="#111">5.0</text>
<rect x="1674.3" y="1654.1" width="7" height="4" fill="#0d0d0d"/>
<text x="1666.8" y="1664.0" text-anchor="end" font-family="'Liberation Sans', Arial, sans-serif" font-size="27.5" fill="#111">2.5</text>
<rect x="1674.3" y="1721.7" width="7" height="4" fill="#0d0d0d"/>
<text x="1666.8" y="1731.6000000000001" text-anchor="end" font-family="'Liberation Sans', Arial, sans-serif" font-size="27.5" fill="#111">0.0</text>
<rect x="1674.3" y="1787.6" width="7" height="4" fill="#0d0d0d"/>
<text x="1666.8" y="1797.5" text-anchor="end" font-family="'Liberation Sans', Arial, sans-serif" font-size="27.5" fill="#111">−2.5</text>
<path d="M1731.8 1521.7H1917.8M1731.8 1557.8H1818.9M1836.6 1557.8H1917.8" stroke="#111" stroke-width="3" fill="none"/>
<text x="1775" y="1506" font-family="'Liberation Sans', Arial, sans-serif" font-size="22.5" fill="#222">p&lt;0.0001</text>
<text x="1845.2" y="1549.5" font-family="'Liberation Sans', Arial, sans-serif" font-size="22.5" fill="#222">p&lt;0.0001</text>
<text x="1722.8" y="1584.8" font-family="'Liberation Sans', Arial, sans-serif" font-size="22.5" fill="#222">p&lt;0.0001</text>
<path d="M1032.8 1715.3C1032.8 1718.5 1032.8 1730.6 1033.0 1734.2C1033.2 1737.7 1032.7 1735.0 1034.2 1736.5C1035.6 1738.1 1038.5 1741.4 1041.7 1743.6C1044.9 1745.7 1051.1 1748.0 1053.5 1749.5C1055.8 1751.0 1055.7 1751.5 1055.8 1752.5C1056.0 1753.6 1054.0 1754.8 1054.2 1755.8C1054.4 1756.9 1054.6 1757.6 1057.0 1758.9C1059.5 1760.2 1065.2 1762.0 1068.8 1763.6C1072.4 1765.2 1078.1 1766.9 1078.7 1768.3C1079.3 1769.7 1076.1 1770.5 1072.3 1771.8C1068.5 1773.2 1061.1 1775.1 1055.8 1776.5C1050.5 1778.0 1044.2 1779.5 1040.5 1780.5C1036.9 1781.6 1035.0 1781.0 1033.7 1782.7C1032.4 1784.4 1033.1 1789.3 1032.8 1790.7C1032.5 1792.0 1032.1 1792.0 1031.8 1790.7C1031.5 1789.3 1032.2 1784.4 1030.9 1782.7C1029.6 1781.0 1027.7 1781.6 1024.1 1780.5C1020.4 1779.5 1014.1 1778.0 1008.8 1776.5C1003.5 1775.1 996.1 1773.2 992.3 1771.8C988.5 1770.5 985.3 1769.7 985.9 1768.3C986.5 1766.9 992.2 1765.2 995.8 1763.6C999.4 1762.0 1005.1 1760.2 1007.6 1758.9C1010.0 1757.6 1010.2 1756.9 1010.4 1755.8C1010.6 1754.8 1008.6 1753.6 1008.8 1752.5C1008.9 1751.5 1008.8 1751.0 1011.1 1749.5C1013.5 1748.0 1019.7 1745.7 1022.9 1743.6C1026.1 1741.4 1029.0 1738.1 1030.4 1736.5C1031.9 1735.0 1031.4 1737.7 1031.6 1734.2C1031.8 1730.6 1031.8 1718.5 1031.8 1715.3Z" fill="#f6a55e" stroke="#0d0d0d" stroke-width="3" stroke-linejoin="round"/>
<path d="M1135.5 1696.5C1135.5 1699.6 1135.3 1711.4 1135.7 1715.3C1136.1 1719.3 1136.8 1717.7 1137.8 1720.0C1138.8 1722.4 1139.3 1726.3 1141.6 1729.5C1143.9 1732.6 1147.1 1736.1 1151.5 1738.9C1155.9 1741.6 1163.1 1743.8 1168.0 1745.9C1172.9 1748.1 1180.5 1750.1 1180.9 1751.8C1181.3 1753.6 1174.8 1754.8 1170.3 1756.5C1165.8 1758.3 1158.5 1760.3 1153.8 1762.4C1149.1 1764.6 1145.0 1767.6 1142.1 1769.5C1139.2 1771.4 1137.5 1771.8 1136.4 1773.7C1135.3 1775.7 1135.8 1780.0 1135.5 1781.3C1135.2 1782.5 1134.8 1782.5 1134.5 1781.3C1134.2 1780.0 1134.7 1775.7 1133.6 1773.7C1132.5 1771.8 1130.8 1771.4 1127.9 1769.5C1125.0 1767.6 1120.9 1764.6 1116.2 1762.4C1111.5 1760.3 1104.2 1758.3 1099.7 1756.5C1095.2 1754.8 1088.7 1753.6 1089.1 1751.8C1089.5 1750.1 1097.1 1748.1 1102.0 1745.9C1106.9 1743.8 1114.1 1741.6 1118.5 1738.9C1122.9 1736.1 1126.1 1732.6 1128.4 1729.5C1130.7 1726.3 1131.2 1722.4 1132.2 1720.0C1133.2 1717.7 1133.9 1719.3 1134.3 1715.3C1134.7 1711.4 1134.5 1699.6 1134.5 1696.5Z" fill="#ee6b68" stroke="#0d0d0d" stroke-width="3" stroke-linejoin="round"/>
<path d="M1217.6 1575.7C1217.6 1592.3 1217.6 1657.7 1217.8 1675.3C1218.0 1692.9 1218.3 1679.2 1219.0 1681.2C1219.7 1683.2 1220.6 1684.1 1221.8 1687.1C1223.1 1690.0 1224.9 1694.9 1226.5 1698.9C1228.1 1702.8 1229.5 1707.1 1231.2 1710.6C1233.0 1714.2 1235.9 1717.5 1237.1 1720.0C1238.4 1722.6 1238.6 1723.6 1238.8 1725.9C1239.0 1728.3 1238.6 1731.2 1238.3 1734.2C1238.0 1737.1 1237.3 1740.8 1237.1 1743.6C1236.9 1746.3 1237.7 1748.7 1237.1 1750.7C1236.5 1752.6 1235.7 1753.4 1233.6 1755.4C1231.4 1757.3 1226.6 1760.5 1224.2 1762.4C1221.7 1764.4 1220.1 1764.0 1219.0 1767.1C1217.9 1770.3 1218.0 1778.9 1217.6 1781.3C1217.2 1783.6 1217.0 1783.6 1216.6 1781.3C1216.2 1778.9 1216.3 1770.3 1215.2 1767.1C1214.1 1764.0 1212.5 1764.4 1210.0 1762.4C1207.6 1760.5 1202.8 1757.3 1200.6 1755.4C1198.5 1753.4 1197.7 1752.6 1197.1 1750.7C1196.5 1748.7 1197.3 1746.3 1197.1 1743.6C1196.9 1740.8 1196.2 1737.1 1195.9 1734.2C1195.6 1731.2 1195.2 1728.3 1195.4 1725.9C1195.6 1723.6 1195.8 1722.6 1197.1 1720.0C1198.3 1717.5 1201.2 1714.2 1203.0 1710.6C1204.7 1707.1 1206.1 1702.8 1207.7 1698.9C1209.3 1694.9 1211.1 1690.0 1212.4 1687.1C1213.6 1684.1 1214.5 1683.2 1215.2 1681.2C1215.9 1679.2 1216.2 1692.9 1216.4 1675.3C1216.6 1657.7 1216.6 1592.3 1216.6 1575.7Z" fill="#f8dc8c" stroke="#0d0d0d" stroke-width="3" stroke-linejoin="round"/>
<path d="M1371.6 1667.2C1371.6 1670.2 1371.2 1680.9 1371.8 1684.9C1372.4 1688.8 1374.3 1688.0 1375.3 1690.8C1376.4 1693.5 1377.5 1697.2 1378.2 1701.3C1378.8 1705.5 1378.8 1710.8 1379.3 1715.5C1379.9 1720.2 1379.9 1725.7 1381.7 1729.6C1383.5 1733.5 1387.4 1735.9 1389.9 1739.0C1392.5 1742.2 1394.8 1745.3 1397.0 1748.4C1399.2 1751.6 1402.1 1754.7 1402.9 1757.8C1403.7 1761.0 1402.7 1764.5 1401.7 1767.3C1400.7 1770.0 1399.7 1772.0 1397.0 1774.3C1394.3 1776.7 1389.1 1779.4 1385.2 1781.4C1381.3 1783.4 1375.7 1785.0 1373.5 1786.6C1371.2 1788.1 1372.0 1790.1 1371.6 1790.8C1371.1 1791.5 1371.1 1791.5 1370.6 1790.8C1370.2 1790.1 1371.0 1788.1 1368.7 1786.6C1366.5 1785.0 1360.9 1783.4 1357.0 1781.4C1353.1 1779.4 1347.9 1776.7 1345.2 1774.3C1342.5 1772.0 1341.5 1770.0 1340.5 1767.3C1339.5 1764.5 1338.5 1761.0 1339.3 1757.8C1340.1 1754.7 1343.0 1751.6 1345.2 1748.4C1347.4 1745.3 1349.7 1742.2 1352.3 1739.0C1354.8 1735.9 1358.7 1733.5 1360.5 1729.6C1362.3 1725.7 1362.3 1720.2 1362.9 1715.5C1363.4 1710.8 1363.4 1705.5 1364.0 1701.3C1364.7 1697.2 1365.8 1693.5 1366.9 1690.8C1367.9 1688.0 1369.8 1688.8 1370.4 1684.9C1371.0 1680.9 1370.6 1670.2 1370.6 1667.2Z" fill="#f6a55e" stroke="#0d0d0d" stroke-width="3" stroke-linejoin="round"/>
<path d="M1455.4 1649.6C1455.4 1654.7 1454.9 1673.5 1455.6 1680.2C1456.3 1686.8 1458.0 1686.4 1459.6 1689.6C1461.3 1692.7 1464.1 1696.2 1465.5 1699.0C1466.9 1701.7 1467.3 1703.7 1467.8 1706.1C1468.4 1708.4 1468.4 1710.8 1469.0 1713.1C1469.6 1715.5 1469.4 1717.4 1471.4 1720.2C1473.3 1722.9 1477.9 1726.5 1480.8 1729.6C1483.7 1732.7 1487.1 1736.3 1489.0 1739.0C1491.0 1741.8 1493.2 1743.7 1492.6 1746.1C1492.0 1748.4 1488.6 1750.4 1485.5 1753.1C1482.4 1755.9 1476.9 1759.8 1473.7 1762.6C1470.6 1765.3 1469.0 1767.3 1466.7 1769.6C1464.3 1772.0 1461.4 1774.7 1459.6 1776.7C1457.8 1778.6 1456.8 1779.8 1456.1 1781.4C1455.4 1783.0 1455.6 1785.3 1455.4 1786.1C1455.1 1786.9 1454.7 1786.9 1454.4 1786.1C1454.2 1785.3 1454.4 1783.0 1453.7 1781.4C1453.0 1779.8 1452.0 1778.6 1450.2 1776.7C1448.4 1774.7 1445.5 1772.0 1443.1 1769.6C1440.8 1767.3 1439.2 1765.3 1436.1 1762.6C1432.9 1759.8 1427.4 1755.9 1424.3 1753.1C1421.2 1750.4 1417.8 1748.4 1417.2 1746.1C1416.6 1743.7 1418.8 1741.8 1420.8 1739.0C1422.7 1736.3 1426.1 1732.7 1429.0 1729.6C1431.9 1726.5 1436.5 1722.9 1438.4 1720.2C1440.4 1717.4 1440.2 1715.5 1440.8 1713.1C1441.4 1710.8 1441.4 1708.4 1442.0 1706.1C1442.5 1703.7 1442.9 1701.7 1444.3 1699.0C1445.7 1696.2 1448.5 1692.7 1450.2 1689.6C1451.8 1686.4 1453.5 1686.8 1454.2 1680.2C1454.9 1673.5 1454.4 1654.7 1454.4 1649.6Z" fill="#ee6b68" stroke="#0d0d0d" stroke-width="3" stroke-linejoin="round"/>
<path d="M1547.7 1576.6C1547.7 1600.1 1547.0 1693.1 1547.9 1717.8C1548.8 1742.5 1550.8 1722.1 1553.1 1724.9C1555.3 1727.6 1558.8 1731.6 1561.3 1734.3C1563.9 1737.1 1567.4 1739.4 1568.4 1741.4C1569.4 1743.3 1566.8 1744.5 1567.2 1746.1C1567.6 1747.6 1568.2 1748.4 1570.7 1750.8C1573.3 1753.1 1579.0 1757.5 1582.5 1760.2C1586.0 1763.0 1590.0 1765.3 1591.9 1767.3C1593.9 1769.2 1595.5 1770.4 1594.3 1772.0C1593.1 1773.5 1589.2 1775.1 1584.9 1776.7C1580.6 1778.3 1573.5 1779.8 1568.4 1781.4C1563.3 1783.0 1557.6 1784.9 1554.3 1786.1C1551.0 1787.3 1549.7 1787.5 1548.6 1788.5C1547.5 1789.4 1548.0 1791.4 1547.7 1792.0C1547.4 1792.6 1547.0 1792.6 1546.7 1792.0C1546.4 1791.4 1546.9 1789.4 1545.8 1788.5C1544.7 1787.5 1543.4 1787.3 1540.1 1786.1C1536.8 1784.9 1531.1 1783.0 1526.0 1781.4C1520.9 1779.8 1513.8 1778.3 1509.5 1776.7C1505.2 1775.1 1501.3 1773.5 1500.1 1772.0C1498.9 1770.4 1500.5 1769.2 1502.5 1767.3C1504.4 1765.3 1508.4 1763.0 1511.9 1760.2C1515.4 1757.5 1521.1 1753.1 1523.7 1750.8C1526.2 1748.4 1526.8 1747.6 1527.2 1746.1C1527.6 1744.5 1525.0 1743.3 1526.0 1741.4C1527.0 1739.4 1530.5 1737.1 1533.1 1734.3C1535.6 1731.6 1539.1 1727.6 1541.3 1724.9C1543.6 1722.1 1545.6 1742.5 1546.5 1717.8C1547.4 1693.1 1546.7 1600.1 1546.7 1576.6Z" fill="#f8dc8c" stroke="#0d0d0d" stroke-width="3" stroke-linejoin="round"/>
<path d="M1742.4 1654.3C1742.4 1660.9 1742.2 1686.8 1742.6 1694.3C1743.0 1701.7 1744.1 1697.0 1744.7 1699.0C1745.3 1701.0 1745.9 1703.7 1746.1 1706.1C1746.3 1708.4 1746.4 1711.0 1745.9 1713.1C1745.4 1715.3 1743.6 1717.4 1743.3 1719.0C1743.0 1720.7 1742.1 1721.8 1744.3 1723.0C1746.4 1724.2 1751.3 1725.0 1756.0 1726.1C1760.7 1727.2 1767.8 1728.4 1772.5 1729.6C1777.2 1730.8 1782.7 1731.9 1784.3 1733.1C1785.8 1734.4 1783.5 1735.8 1781.9 1737.1C1780.4 1738.5 1776.4 1739.9 1774.9 1741.4C1773.3 1742.9 1771.7 1744.5 1772.5 1746.1C1773.3 1747.6 1777.0 1749.2 1779.6 1750.8C1782.1 1752.4 1787.4 1753.9 1787.8 1755.5C1788.2 1757.1 1784.9 1758.2 1781.9 1760.2C1779.0 1762.2 1774.5 1764.9 1770.2 1767.3C1765.8 1769.6 1760.3 1772.2 1756.0 1774.3C1751.7 1776.5 1746.5 1777.5 1744.3 1780.2C1742.0 1783.0 1742.8 1789.0 1742.4 1790.8C1741.9 1792.6 1741.9 1792.6 1741.4 1790.8C1741.0 1789.0 1741.8 1783.0 1739.5 1780.2C1737.3 1777.5 1732.1 1776.5 1727.8 1774.3C1723.5 1772.2 1718.0 1769.6 1713.6 1767.3C1709.3 1764.9 1704.8 1762.2 1701.9 1760.2C1698.9 1758.2 1695.6 1757.1 1696.0 1755.5C1696.4 1753.9 1701.7 1752.4 1704.2 1750.8C1706.8 1749.2 1710.5 1747.6 1711.3 1746.1C1712.1 1744.5 1710.5 1742.9 1708.9 1741.4C1707.4 1739.9 1703.4 1738.5 1701.9 1737.1C1700.3 1735.8 1698.0 1734.4 1699.5 1733.1C1701.1 1731.9 1706.6 1730.8 1711.3 1729.6C1716.0 1728.4 1723.1 1727.2 1727.8 1726.1C1732.5 1725.0 1737.4 1724.2 1739.5 1723.0C1741.7 1721.8 1740.8 1720.7 1740.5 1719.0C1740.2 1717.4 1738.4 1715.3 1737.9 1713.1C1737.4 1711.0 1737.5 1708.4 1737.7 1706.1C1737.9 1703.7 1738.5 1701.0 1739.1 1699.0C1739.7 1697.0 1740.8 1701.7 1741.2 1694.3C1741.6 1686.8 1741.4 1660.9 1741.4 1654.3Z" fill="#f6a55e" stroke="#0d0d0d" stroke-width="3" stroke-linejoin="round"/>
<path d="M1846.5 1674.3C1846.5 1675.6 1846.2 1680.6 1846.7 1682.5C1847.2 1684.5 1848.3 1684.5 1849.5 1686.0C1850.8 1687.6 1851.7 1690.0 1854.2 1691.9C1856.8 1693.9 1862.7 1695.9 1864.8 1697.8C1867.0 1699.8 1866.0 1701.9 1867.2 1703.7C1868.4 1705.5 1869.7 1706.8 1871.9 1708.4C1874.1 1710.0 1878.6 1711.5 1880.1 1713.1C1881.7 1714.7 1879.9 1716.3 1881.3 1717.8C1882.7 1719.4 1886.6 1721.2 1888.4 1722.5C1890.1 1723.9 1892.3 1724.9 1891.9 1726.1C1891.5 1727.2 1888.6 1728.2 1886.0 1729.6C1883.5 1731.0 1879.0 1732.7 1876.6 1734.3C1874.3 1735.9 1873.1 1737.4 1871.9 1739.0C1870.7 1740.6 1870.7 1742.2 1869.5 1743.7C1868.4 1745.3 1867.2 1746.5 1864.8 1748.4C1862.5 1750.4 1858.2 1753.5 1855.4 1755.5C1852.7 1757.5 1849.8 1757.7 1848.4 1760.2C1846.9 1762.8 1846.9 1769.0 1846.5 1770.8C1846.0 1772.6 1846.0 1772.6 1845.5 1770.8C1845.1 1769.0 1845.1 1762.8 1843.6 1760.2C1842.2 1757.7 1839.3 1757.5 1836.6 1755.5C1833.8 1753.5 1829.5 1750.4 1827.2 1748.4C1824.8 1746.5 1823.6 1745.3 1822.5 1743.7C1821.3 1742.2 1821.3 1740.6 1820.1 1739.0C1818.9 1737.4 1817.7 1735.9 1815.4 1734.3C1813.0 1732.7 1808.5 1731.0 1806.0 1729.6C1803.4 1728.2 1800.5 1727.2 1800.1 1726.1C1799.7 1724.9 1801.9 1723.9 1803.6 1722.5C1805.4 1721.2 1809.3 1719.4 1810.7 1717.8C1812.1 1716.3 1810.3 1714.7 1811.9 1713.1C1813.4 1711.5 1817.9 1710.0 1820.1 1708.4C1822.3 1706.8 1823.6 1705.5 1824.8 1703.7C1826.0 1701.9 1825.0 1699.8 1827.2 1697.8C1829.3 1695.9 1835.2 1693.9 1837.8 1691.9C1840.3 1690.0 1841.2 1687.6 1842.5 1686.0C1843.7 1684.5 1844.8 1684.5 1845.3 1682.5C1845.8 1680.6 1845.5 1675.6 1845.5 1674.3Z" fill="#ee6b68" stroke="#0d0d0d" stroke-width="3" stroke-linejoin="round"/>
<path d="M1931.7 1568.3C1931.7 1577.9 1931.2 1615.4 1931.9 1626.0C1932.6 1636.6 1933.9 1629.5 1935.9 1631.9C1937.9 1634.2 1941.6 1637.2 1944.1 1640.1C1946.7 1643.1 1949.1 1646.4 1951.2 1649.6C1953.4 1652.7 1955.9 1656.4 1957.1 1659.0C1958.3 1661.5 1958.7 1662.9 1958.3 1664.9C1957.9 1666.8 1956.3 1668.2 1954.7 1670.7C1953.2 1673.3 1950.2 1677.0 1948.9 1680.2C1947.5 1683.3 1946.7 1686.4 1946.5 1689.6C1946.3 1692.7 1947.3 1696.2 1947.7 1699.0C1948.1 1701.7 1949.2 1703.3 1948.9 1706.1C1948.5 1708.8 1946.7 1712.3 1945.3 1715.5C1944.0 1718.6 1942.2 1721.8 1940.6 1724.9C1939.0 1728.0 1937.2 1731.6 1935.9 1734.3C1934.6 1737.1 1933.3 1736.1 1932.6 1741.4C1931.9 1746.7 1932.0 1762.0 1931.7 1766.1C1931.4 1770.2 1931.0 1770.2 1930.7 1766.1C1930.4 1762.0 1930.5 1746.7 1929.8 1741.4C1929.1 1736.1 1927.8 1737.1 1926.5 1734.3C1925.2 1731.6 1923.4 1728.0 1921.8 1724.9C1920.2 1721.8 1918.4 1718.6 1917.1 1715.5C1915.7 1712.3 1913.9 1708.8 1913.5 1706.1C1913.2 1703.3 1914.3 1701.7 1914.7 1699.0C1915.1 1696.2 1916.1 1692.7 1915.9 1689.6C1915.7 1686.4 1914.9 1683.3 1913.5 1680.2C1912.2 1677.0 1909.2 1673.3 1907.7 1670.7C1906.1 1668.2 1904.5 1666.8 1904.1 1664.9C1903.7 1662.9 1904.1 1661.5 1905.3 1659.0C1906.5 1656.4 1909.0 1652.7 1911.2 1649.6C1913.3 1646.4 1915.7 1643.1 1918.3 1640.1C1920.8 1637.2 1924.5 1634.2 1926.5 1631.9C1928.5 1629.5 1929.8 1636.6 1930.5 1626.0C1931.2 1615.4 1930.7 1577.9 1930.7 1568.3Z" fill="#f8dc8c" stroke="#0d0d0d" stroke-width="3" stroke-linejoin="round"/>
<circle cx="1032.3" cy="1762.9" r="3.2" fill="#4b55a6"/>
<circle cx="1135" cy="1749.9" r="3.2" fill="#4b55a6"/>
<circle cx="1217.1" cy="1730.2" r="3.2" fill="#4b55a6"/>
<circle cx="1371.1" cy="1748.4" r="3.2" fill="#4b55a6"/>
<circle cx="1454.9" cy="1739.7" r="3.2" fill="#4b55a6"/>
<circle cx="1547.2" cy="1759.5" r="3.2" fill="#4b55a6"/>
<circle cx="1741.9" cy="1747.3" r="3.2" fill="#4b55a6"/>
<circle cx="1846" cy="1726.1" r="3.2" fill="#4b55a6"/>
<circle cx="1931.2" cy="1680.2" r="3.2" fill="#4b55a6"/>
<text x="-0.5" y="1923.6" font-family="'Liberation Sans', Arial, sans-serif" font-size="77" fill="#111">D</text>
<text x="95.5" y="1913" font-family="'Liberation Sans', Arial, sans-serif" font-size="33" fill="#111">Transitions between behavioral groups</text>
<rect x="96" y="1919.5" width="1093.5" height="3" fill="#111"/>
<g transform="translate(34,591.5)" stroke-linejoin="round">
<path d="M91.1 1521.5L115.3 1520.2L123.4 1526.9L127.4 1544.4L136.9 1547.1L147.6 1553.8L158.4 1563.2L161.1 1570.0L154.4 1578.0L151.7 1587.4L155.7 1591.5L161.1 1588.8L178.6 1590.1L179.9 1594.2L174.5 1596.9L181.3 1598.2L193.4 1594.2L200.1 1591.5L201.4 1596.9L198.8 1602.2L214.9 1602.2L228.3 1599.6L241.8 1596.9L247.2 1602.2L247.2 1614.4L237.8 1618.4L236.4 1622.4L228.3 1623.8L221.6 1621.1L208.2 1618.4L206.8 1626.5L204.1 1633.2L200.1 1629.2L193.4 1625.1L188.0 1626.5L174.5 1633.2L163.8 1638.6L158.4 1639.9L174.5 1646.6L174.5 1654.7L169.2 1660.1L181.3 1669.5L188.0 1678.9L186.6 1687.0L190.7 1688.3L212.2 1674.9L218.9 1669.5L225.7 1674.9L233.7 1695.1L235.1 1705.8L228.3 1709.9L229.7 1728.7L221.6 1735.4L201.4 1736.8L188.0 1738.1L178.6 1728.7L177.2 1715.3L182.6 1708.5L188.0 1700.5L181.3 1693.7L174.5 1691.0L166.5 1688.3L161.1 1685.7L147.6 1687.0L131.5 1685.7L120.7 1677.6L114.0 1669.5L110.0 1658.8L104.6 1648.0L93.8 1642.6L85.7 1634.5L84.4 1627.8L73.6 1621.1L62.9 1617.0L61.5 1607.6L66.9 1602.2L73.6 1600.9L75.0 1594.2L72.3 1580.7L72.3 1563.2L75.0 1555.2L72.3 1551.1L70.9 1540.4L77.7 1536.3L89.8 1537.7L89.8 1526.9ZM192.0 1688.3L212.2 1684.3L217.6 1692.4L221.6 1701.8L218.9 1708.5L204.1 1707.2L194.7 1697.8ZM158.4 1606.3L165.1 1604.9L166.5 1611.7L162.4 1618.4L161.1 1629.2L157.0 1634.5L155.7 1621.1Z" fill="#27b34c" fill-rule="evenodd" stroke="#27b34c" stroke-width="5"/>
<path d="M288.2 1400.3L302.2 1386.2L326.1 1389.0L345.7 1393.3L348.5 1398.9L368.1 1396.1L384.9 1403.1L391.9 1410.1L404.5 1407.3L417.1 1411.5L419.9 1418.5L435.4 1422.7L439.6 1426.9L443.8 1412.9L455.0 1409.4L474.6 1410.8L476.0 1429.7L483.0 1440.9L484.4 1454.9L477.4 1463.3L470.4 1473.1L466.2 1480.1L455.0 1488.5L450.8 1497.0L445.2 1501.2L431.2 1508.2L410.1 1512.4L398.9 1515.2L382.1 1508.2L365.3 1511.0L354.1 1508.2L340.1 1509.6L331.7 1502.6L319.0 1498.4L316.2 1487.1L319.0 1480.1L309.2 1466.1L293.8 1459.1L284.0 1452.1L284.0 1438.1L278.4 1424.1L284.0 1412.9ZM457.8 1491.3L469.0 1480.1L481.6 1463.3L487.2 1466.1L488.6 1480.1L491.4 1488.5L488.6 1501.2L497.0 1508.2L501.2 1516.6L488.6 1520.8L478.8 1513.8L466.2 1505.4L457.8 1498.4ZM469.0 1488.5L476.0 1482.9L478.8 1492.7L473.2 1497.0Z" fill="#f1696a" fill-rule="evenodd" stroke="#f1696a" stroke-width="5"/>
<path d="M530.2 1484.1L548.4 1484.1L562.5 1494.2L574.6 1500.3L588.7 1510.4L606.9 1514.4L612.9 1522.5L608.9 1530.5L617.0 1538.6L614.9 1554.7L606.9 1564.8L598.8 1566.9L582.7 1562.8L562.5 1566.9L542.3 1564.8L532.2 1560.8L522.1 1556.8L502.0 1558.8L481.8 1562.8L465.6 1564.8L459.6 1574.9L453.5 1574.9L455.5 1564.8L457.6 1554.7L471.7 1550.7L491.9 1546.7L512.0 1536.6L522.1 1528.5L538.3 1520.4L552.4 1510.4L542.3 1498.2L530.2 1490.2ZM548.4 1538.6L562.5 1536.6L568.5 1546.7L562.5 1554.7L550.4 1550.7Z" fill="#f9cf5f" fill-rule="evenodd" stroke="#f9cf5f" stroke-width="5"/>
<path d="M386.9 1540.6L393.0 1542.6L395.0 1550.7L405.1 1550.7L407.1 1556.8L401.1 1562.8L409.1 1570.9L405.1 1574.9L397.0 1566.9L389.0 1566.9L384.9 1558.8L386.9 1550.7Z" fill="#f9cf5f" fill-rule="evenodd" stroke="#f9cf5f" stroke-width="5"/>
<path d="M338.5 1607.2L354.7 1595.1L366.8 1603.2L382.9 1609.2L391.0 1619.3L393.0 1631.4L389.0 1641.5L382.9 1651.6L382.9 1663.7L386.9 1675.8L380.9 1677.8L374.8 1667.7L366.8 1665.7L360.7 1663.7L356.7 1657.7L346.6 1649.6L340.5 1637.5L342.6 1623.3ZM368.8 1627.4L380.9 1625.4L382.9 1639.5L376.9 1651.6L370.8 1647.6L368.8 1637.5Z" fill="#f8a75e" fill-rule="evenodd" stroke="#f8a75e" stroke-width="5"/>
<path d="M484.1 1644.2L490.4 1641.0L509.2 1634.8L523.4 1625.3L523.4 1615.9L535.9 1604.9L548.5 1600.2L562.6 1606.5L567.3 1615.9L570.5 1625.3L576.7 1637.9L579.9 1642.6L575.2 1647.3L584.6 1642.6L595.6 1645.7L600.3 1647.3L600.3 1637.9L611.3 1623.8L620.7 1628.5L628.5 1631.6L631.7 1620.6L647.4 1619.1L658.4 1619.1L667.8 1615.9L674.0 1609.6L677.2 1597.1L672.5 1586.1L678.8 1581.4L678.8 1564.1L689.7 1556.3L702.3 1557.8L711.7 1567.3L714.9 1581.4L727.4 1584.5L733.7 1592.4L732.1 1601.8L721.1 1606.5L718.0 1612.8L708.6 1619.1L699.2 1620.6L692.9 1625.3L686.6 1633.2L689.7 1637.9L681.9 1644.2L674.0 1653.6L669.3 1663.0L667.8 1674.0L658.4 1686.6L642.7 1691.3L627.0 1700.7L611.3 1705.4L600.3 1707.0L597.1 1700.7L595.6 1688.1L583.0 1686.6L572.0 1685.0L557.9 1680.3L545.3 1683.4L542.2 1677.1L548.5 1674.0L564.2 1669.3L572.0 1666.2L564.2 1663.0L554.8 1659.9L540.6 1656.7L524.9 1666.2L517.1 1663.0L501.4 1664.6L485.7 1658.3L482.6 1650.5ZM689.7 1583.0L707.0 1584.5L708.6 1589.2L697.6 1590.8L689.7 1589.2ZM689.7 1600.2L702.3 1597.1L710.2 1603.4L705.4 1612.8L696.0 1615.9L689.7 1612.8ZM529.6 1625.3L539.1 1623.8L545.3 1628.5L537.5 1634.8L532.8 1633.2Z" fill="#6d93cf" fill-rule="evenodd" stroke="#6d93cf" stroke-width="5"/>
<path d="M389.5 1685.8L395.4 1684.4L399.7 1690.2L404.1 1685.8L410.0 1688.7L411.4 1698.9L415.8 1709.1L415.8 1715.0L408.5 1715.0L402.7 1709.1L398.3 1701.9L389.5 1698.9Z" fill="#f8a75e" fill-rule="evenodd" stroke="#f8a75e" stroke-width="5"/>
<path d="M415.8 1722.3L421.6 1720.8L427.4 1726.6L428.9 1716.4L434.7 1717.9L442.0 1728.1L444.9 1741.2L453.7 1744.1L471.2 1747.0L485.7 1750.0L497.4 1754.3L509.0 1758.7L520.7 1758.7L523.6 1764.5L517.8 1774.7L507.6 1782.0L498.8 1779.1L485.7 1782.0L474.1 1787.8L468.2 1795.1L461.0 1801.0L446.4 1795.1L439.1 1790.8L430.4 1790.8L424.5 1796.6L421.6 1805.3L408.5 1812.6L398.3 1806.8L395.4 1799.5L388.1 1795.1L369.1 1795.1L363.3 1790.8L369.1 1786.4L377.9 1782.0L379.3 1776.2L388.1 1771.8L396.8 1770.4L393.9 1761.6L389.5 1752.9L376.4 1744.1L377.9 1738.3L391.0 1744.1L388.1 1735.4L393.9 1733.9L401.2 1741.2L410.0 1748.5L420.2 1750.0L420.2 1741.2L417.2 1728.1ZM402.7 1766.0L412.9 1764.5L426.0 1773.3L423.1 1782.0L415.8 1776.2L408.5 1773.3L402.7 1770.4ZM401.2 1793.7L410.0 1792.2L408.5 1799.5L404.1 1798.0Z" fill="#f8a75e" fill-rule="evenodd" stroke="#f8a75e" stroke-width="5"/>
<ellipse cx="327.5" cy="1355.4" rx="5" ry="8" fill="#f9cf5f" transform="rotate(0 327.5 1355.4)"/>
<ellipse cx="285.4" cy="1453.5" rx="3.5" ry="3.5" fill="#f8a75e" transform="rotate(0 285.4 1453.5)"/>
<ellipse cx="299.4" cy="1461.9" rx="3" ry="3" fill="#f9cf5f" transform="rotate(0 299.4 1461.9)"/>
<ellipse cx="478.8" cy="1459.1" rx="2.5" ry="4" fill="#6d93cf" transform="rotate(0 478.8 1459.1)"/>
<ellipse cx="327.8" cy="1546.7" rx="4" ry="4" fill="#f9cf5f" transform="rotate(0 327.8 1546.7)"/>
<ellipse cx="297.2" cy="1573.9" rx="6" ry="5" fill="#f8a75e" transform="rotate(0 297.2 1573.9)"/>
<ellipse cx="400.5" cy="1617.3" rx="4.4" ry="4.4" fill="#6d93cf" transform="rotate(0 400.5 1617.3)"/>
<ellipse cx="423.3" cy="1666.7" rx="7" ry="5" fill="#27b34c" transform="rotate(-35 423.3 1666.7)"/>
<ellipse cx="361.7" cy="1688.9" rx="6" ry="4" fill="#f9cf5f" transform="rotate(0 361.7 1688.9)"/>
<ellipse cx="361.9" cy="1689.5" rx="6.6" ry="4.4" fill="#f9cf5f" transform="rotate(0 361.9 1689.5)"/>
<ellipse cx="576.1" cy="1760.9" rx="9.5" ry="5.8" fill="#f9cf5f" transform="rotate(30 576.1 1760.9)"/>
<ellipse cx="630.1" cy="1646.5" rx="3.9" ry="3.9" fill="#f9cf5f" transform="rotate(0 630.1 1646.5)"/>
<line x1="84" y1="1711.3" x2="103.7" y2="1697.7" stroke="#27b34c" stroke-width="9" stroke-linecap="round"/>
<ellipse cx="145.7" cy="1711.9" rx="4.9" ry="4.9" fill="#f8a75e" transform="rotate(0 145.7 1711.9)"/>
<line x1="652.1" y1="1592.4" x2="664.7" y2="1601.8" stroke="#6d93cf" stroke-width="9.4" stroke-linecap="round"/>
</g>
<line x1="318.4" y1="1994.7" x2="112.1" y2="2136.0" stroke="#ee5b5b" stroke-width="2.6"/>
<line x1="313.9" y1="2012.6" x2="118.8" y2="2151.7" stroke="#ee5b5b" stroke-width="2.6"/>
<line x1="331.8" y1="2050.8" x2="188.3" y2="2185.3" stroke="#ee5b5b" stroke-width="2.6"/>
<line x1="340.8" y1="2062.0" x2="201.8" y2="2194.3" stroke="#ee5b5b" stroke-width="2.6"/>
<line x1="354.3" y1="2077.7" x2="233.2" y2="2194.3" stroke="#ee5b5b" stroke-width="2.6"/>
<line x1="367.7" y1="2095.6" x2="242.2" y2="2207.7" stroke="#ee5b5b" stroke-width="2.6"/>
<line x1="403.6" y1="2109.1" x2="188.3" y2="2270.5" stroke="#ee5b5b" stroke-width="2.6"/>
<line x1="372.2" y1="2095.6" x2="390.1" y2="2252.6" stroke="#ee5b5b" stroke-width="2.6"/>
<line x1="378.9" y1="2055.2" x2="412.6" y2="2257.0" stroke="#ee5b5b" stroke-width="2.6"/>
<line x1="390.1" y1="2055.2" x2="470.9" y2="2362.4" stroke="#ee5b5b" stroke-width="2.6"/>
<line x1="426.0" y1="2104.6" x2="475.3" y2="2360.2" stroke="#ee5b5b" stroke-width="2.6"/>
<line x1="403.6" y1="2091.1" x2="574.0" y2="2234.6" stroke="#ee5b5b" stroke-width="2.6"/>
<line x1="448.4" y1="2091.1" x2="623.3" y2="2248.1" stroke="#ee5b5b" stroke-width="2.6"/>
<line x1="470.9" y1="2097.8" x2="645.7" y2="2230.1" stroke="#ee5b5b" stroke-width="2.6"/>
<line x1="515.7" y1="2055.2" x2="686.1" y2="2225.7" stroke="#ee5b5b" stroke-width="2.6"/>
<line x1="529.1" y1="2109.1" x2="668.2" y2="2225.7" stroke="#ee5b5b" stroke-width="2.6"/>
<line x1="506.7" y1="2050.8" x2="618.8" y2="2122.5" stroke="#ee5b5b" stroke-width="2.6"/>
<line x1="515.7" y1="2082.2" x2="583.0" y2="2109.1" stroke="#ee5b5b" stroke-width="2.6"/>
<line x1="331.8" y1="2162.9" x2="538.1" y2="2234.6" stroke="#5b7fcf" stroke-width="2.6"/>
<line x1="390.1" y1="2221.2" x2="529.1" y2="2243.6" stroke="#5b7fcf" stroke-width="2.6"/>
<line x1="408.1" y1="2095.6" x2="569.5" y2="2194.3" stroke="#5b7fcf" stroke-width="2.6"/>
<line x1="441.7" y1="2091.1" x2="574.0" y2="2198.7" stroke="#5b7fcf" stroke-width="2.6"/>
<line x1="457.4" y1="2093.4" x2="587.4" y2="2194.3" stroke="#5b7fcf" stroke-width="2.6"/>
<line x1="529.1" y1="2109.1" x2="609.9" y2="2185.3" stroke="#5b7fcf" stroke-width="2.6"/>
<line x1="215.2" y1="2185.3" x2="390.1" y2="2014.9" stroke="#1ea33a" stroke-width="2.6"/>
<line x1="219.7" y1="2180.8" x2="381.2" y2="2019.4" stroke="#1ea33a" stroke-width="2.6"/>
<line x1="233.2" y1="2180.8" x2="372.2" y2="2028.3" stroke="#1ea33a" stroke-width="2.6"/>
<line x1="179.4" y1="2153.9" x2="488.8" y2="2355.7" stroke="#1ea33a" stroke-width="2.6"/>
<line x1="224.2" y1="2221.2" x2="412.6" y2="2375.9" stroke="#1ea33a" stroke-width="2.6"/>
<line x1="188.3" y1="2270.5" x2="591.9" y2="2223.4" stroke="#1ea33a" stroke-width="2.6"/>
<line x1="197.3" y1="2272.7" x2="605.4" y2="2243.6" stroke="#1ea33a" stroke-width="2.6"/>
<line x1="486.5" y1="2050.8" x2="583.0" y2="2084.4" stroke="#f8c94c" stroke-width="2.6"/>
<line x1="394.6" y1="2064.2" x2="587.4" y2="2102.3" stroke="#f8c94c" stroke-width="2.6"/>
<line x1="443.9" y1="2073.2" x2="583.0" y2="2100.1" stroke="#f8c94c" stroke-width="2.6"/>
<line x1="340.8" y1="1988.0" x2="470.9" y2="2355.7" stroke="#f8c94c" stroke-width="2.6"/>
<line x1="349.8" y1="1988.0" x2="421.5" y2="2333.3" stroke="#f5a052" stroke-width="2.6"/>
<line x1="372.2" y1="1997.0" x2="403.6" y2="2261.5" stroke="#f5a052" stroke-width="2.6"/>
<line x1="385.7" y1="2050.8" x2="448.4" y2="2346.7" stroke="#f5a052" stroke-width="2.6"/>
<path d="M59.2 2364.1V2388.7H82.8" stroke="#111" stroke-width="2.7" fill="none"/>
<path d="M59.2 2354.1l-4 13.5h8z" fill="#111"/>
<path d="M92.8 2388.7l-14.5 -4.3v8.6z" fill="#111"/>
<text x="100.2" y="2394.8" font-family="'Liberation Sans', Arial, sans-serif" font-size="32.5" fill="#111">UMAP1</text>
<text transform="translate(65.6 2345) rotate(-90)" x="0" y="0" font-family="'Liberation Sans', Arial, sans-serif" font-size="32.5" fill="#111">UMAP2</text>
<text x="817.5" y="2016" font-family="'Liberation Sans', Arial, sans-serif" font-size="33.6" fill="#111" xml:space="preserve">Frequency of  transitions</text>
<rect x="810" y="2021.2" width="384.4" height="2.8" fill="#111"/>
<text x="885.5" y="2076.5" font-family="'Liberation Sans', Arial, sans-serif" font-size="40" fill="#22a84a">B1</text>
<text x="1012.5" y="2076.5" font-family="'Liberation Sans', Arial, sans-serif" font-size="40" fill="#ef5f5f">B2</text>
<text x="1176" y="2076.5" text-anchor="end" font-family="'Liberation Sans', Arial, sans-serif" font-size="40" fill="#111">17%</text>
<path d="M951 2066.0H986" stroke="#111" stroke-width="2.2"/>
<path d="M941.5 2066.0l13 -4.5v9z M996.5 2066.0l-13 -4.5v9z" fill="#111"/>
<text x="885.5" y="2133.2" font-family="'Liberation Sans', Arial, sans-serif" font-size="40" fill="#22a84a">B1</text>
<text x="1012.5" y="2133.2" font-family="'Liberation Sans', Arial, sans-serif" font-size="40" fill="#6f8fd0">B3</text>
<text x="1176" y="2133.2" text-anchor="end" font-family="'Liberation Sans', Arial, sans-serif" font-size="40" fill="#111">4%</text>
<path d="M951 2122.7H986" stroke="#111" stroke-width="2.2"/>
<path d="M941.5 2122.7l13 -4.5v9z M996.5 2122.7l-13 -4.5v9z" fill="#111"/>
<text x="885.5" y="2188.7" font-family="'Liberation Sans', Arial, sans-serif" font-size="40" fill="#ef5f5f">B2</text>
<text x="1012.5" y="2188.7" font-family="'Liberation Sans', Arial, sans-serif" font-size="40" fill="#6f8fd0">B3</text>
<text x="1176" y="2188.7" text-anchor="end" font-family="'Liberation Sans', Arial, sans-serif" font-size="40" fill="#111">24%</text>
<path d="M951 2178.2H986" stroke="#111" stroke-width="2.2"/>
<path d="M941.5 2178.2l13 -4.5v9z M996.5 2178.2l-13 -4.5v9z" fill="#111"/>
<text x="985.5" y="2266.4" font-family="'Liberation Sans', Arial, sans-serif" font-size="39" fill="#f5a052">B2.1</text>
<text x="895" y="2387.2" font-family="'Liberation Sans', Arial, sans-serif" font-size="39" fill="#f9d77e">B2.3</text>
<text x="1070.5" y="2387.2" font-family="'Liberation Sans', Arial, sans-serif" font-size="39" fill="#ef5f5f">B2.2</text>
<text x="987" y="2341.6" font-family="'Liberation Sans', Arial, sans-serif" font-size="40" fill="#111">23%</text>
<path d="M977.2 2343.0A49.4 49.4 0 1 1 997.0 2368.3" stroke="#111" stroke-width="3" fill="none"/>
<path d="M988.0 2360.3l14 4l-7 8z" fill="#111"/>
<text x="1335" y="1961.9" font-family="'Liberation Sans', Arial, sans-serif" font-size="79" fill="#111">E</text>
<path d="M1623.1 2010.6A42.7 40 0 1 1 1652 2013.5" stroke="#111" stroke-width="2.6" fill="none"/>
<path d="M1640.5 2014.8l13.5 -6.5l1 9z" fill="#111"/>
<text x="1616.2" y="1990" font-family="'Liberation Sans', Arial, sans-serif" font-size="38" fill="#ef5f5f">B2</text>
<text x="1390.5" y="2113.6" font-family="'Liberation Sans', Arial, sans-serif" font-size="38" fill="#22a84a">B1</text>
<text x="1867.5" y="2113" font-family="'Liberation Sans', Arial, sans-serif" font-size="38" fill="#6f8fd0">B3</text>
<text x="1745.5" y="2365.6" font-family="'Liberation Sans', Arial, sans-serif" font-size="41" fill="#6f8fd0">Inflammation</text>
<g fill="none" stroke="#f06a6a" stroke-width="3">
<rect x="1548.5" y="2053.8" width="17.7" height="37.3" rx="7.7" ry="14.9"/>
<rect x="1552.5" y="2032.2" width="58.9" height="62.8" rx="25.6" ry="25.1"/>
<rect x="1585.8" y="2036.1" width="39.2" height="58.9" rx="17.1" ry="23.5"/>
<rect x="1609.4" y="2026.3" width="39.2" height="70.6" rx="17.1" ry="28.3"/>
<rect x="1615.2" y="2022.4" width="68.7" height="72.6" rx="29.9" ry="29.0"/>
<rect x="1629.0" y="2024.4" width="64.7" height="70.6" rx="28.1" ry="28.3"/>
<path d="M1680 2036C1700 2033 1725 2034 1733 2037C1737 2045 1737 2085 1733 2095C1715 2098 1690 2098 1680 2096"/>
</g>
<g fill="none" stroke="#22b14c">
<ellipse cx="1414.5" cy="2169.5" rx="31" ry="35" stroke-width="9" transform="rotate(12 1414.5 2169.5)"/>
<ellipse cx="1413" cy="2171" rx="27" ry="32" stroke-width="4" transform="rotate(15 1413 2171)"/>
<ellipse cx="1416" cy="2168" rx="34" ry="37" stroke-width="3" transform="rotate(8 1416 2168)"/>
</g>
<g fill="none" stroke="#6d93cf">
<rect x="1778" y="2151" width="137" height="50" rx="20" ry="20" stroke-width="6"/>
<rect x="1782" y="2154" width="130" height="44" rx="18" ry="18" stroke-width="3"/>
<rect x="1775.5" y="2149" width="142" height="54" rx="22" ry="22" stroke-width="2.5"/>
</g>
<defs><linearGradient id="ga1" gradientUnits="userSpaceOnUse" x1="1452" y1="2117" x2="1525" y2="2071"><stop offset="0" stop-color="#111" stop-opacity="0"/><stop offset="1" stop-color="#111"/></linearGradient><linearGradient id="ga2" gradientUnits="userSpaceOnUse" x1="1539" y1="2095" x2="1464" y2="2141"><stop offset="0" stop-color="#111" stop-opacity="0"/><stop offset="1" stop-color="#111"/></linearGradient><linearGradient id="ga3" gradientUnits="userSpaceOnUse" x1="1759" y1="2071" x2="1831" y2="2122"><stop offset="0" stop-color="#111" stop-opacity="0"/><stop offset="1" stop-color="#111"/></linearGradient><linearGradient id="ga4" gradientUnits="userSpaceOnUse" x1="1818" y1="2143" x2="1744" y2="2089"><stop offset="0" stop-color="#111" stop-opacity="0"/><stop offset="1" stop-color="#111"/></linearGradient></defs>
<path d="M1453 2117Q1468 2082 1512 2074" stroke="url(#ga1)" stroke-width="4" fill="none"/>
<path d="M1525 2071.5l-21 -7l3 8l-3 8z" fill="#111"/>
<path d="M1539 2095Q1525 2130 1477 2139" stroke="url(#ga2)" stroke-width="4" fill="none"/>
<path d="M1464 2141.1l21 -7.5l-2.5 8l2.5 8z" fill="#111"/>
<path d="M1759 2071.5Q1805 2078 1826 2110" stroke="url(#ga3)" stroke-width="4" fill="none"/>
<path d="M1831.4 2121.7l-2 -22l-5 6.5l-8 -1z" fill="#111"/>
<path d="M1818 2143.5Q1770 2135 1750 2100" stroke="url(#ga4)" stroke-width="4" fill="none"/>
<path d="M1744.2 2089l2.5 22l4.5 -6.5l8.5 1z" fill="#111"/>
<path d="M1598 2180.3H1666" stroke="#8d8d8d" stroke-width="3.5"/>
<path d="M1587.8 2180.3l24 -7.5v15z M1676 2180.3l-24 -7.5v15z" fill="#8d8d8d"/>
<path d="M1861.8 2224C1868 2250 1869 2275 1867 2300L1875.5 2300L1861.8 2328.6L1848.1 2300L1856.6 2300C1854.6 2275 1855.6 2250 1861.8 2224Z" fill="#6d93cf"/>
</svg></body></html>
